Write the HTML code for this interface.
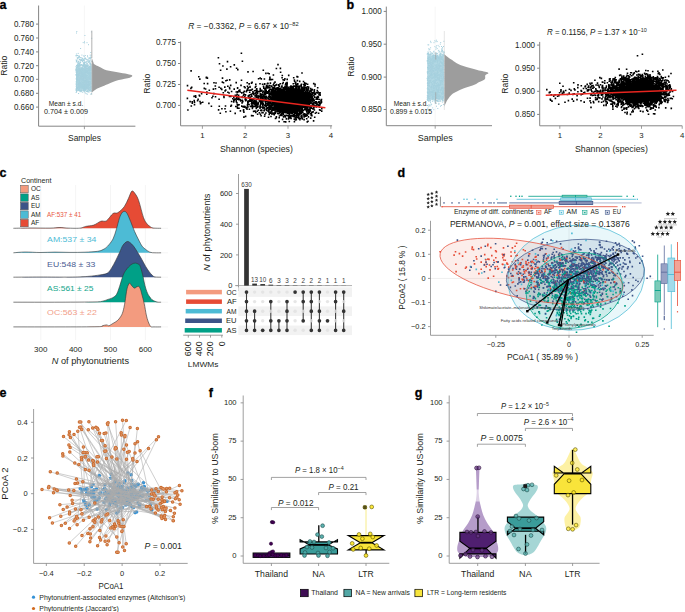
<!DOCTYPE html><html><head><meta charset="utf-8"><style>html,body{margin:0;padding:0;background:#fff;}svg{display:block;}</style></head><body>
<svg width="685" height="612" viewBox="0 0 685 612" font-family="'Liberation Sans', sans-serif" fill="#231f20">
<line x1="84.40" y1="5.50" x2="84.40" y2="126.20" stroke="#ececec" stroke-width="0.5"/>
<rect x="76.00" y="67.50" width="15.80" height="21.70" fill="#b2d8e4"/>
<path d="M75.7 78.7h1M85.6 89.9h1M79.2 69.2h1M90.6 89.9h1M78.6 73.5h1M80.5 76.4h1M91.0 86.8h1M83.7 76.0h1M90.1 79.6h1M87.8 66.2h1M77.4 84.9h1M78.9 79.3h1M81.6 74.0h1M89.4 85.8h1M80.8 73.3h1M82.8 77.2h1M83.1 68.9h1M80.6 75.9h1M87.9 70.7h1M76.4 72.2h1M79.1 84.8h1M88.5 72.7h1M85.2 78.0h1M83.6 90.7h1M81.3 90.2h1M77.6 84.1h1M82.7 79.4h1M91.1 72.6h1M84.9 69.6h1M84.6 90.4h1M91.1 78.8h1M89.5 68.5h1M91.3 81.5h1M90.6 85.5h1M86.0 81.3h1M80.3 89.1h1M85.4 66.5h1M81.0 79.1h1M88.3 77.3h1M77.7 67.1h1M82.8 82.0h1M88.8 87.4h1M82.7 80.7h1M85.0 72.2h1M77.1 87.1h1M80.0 78.6h1M90.6 78.6h1M85.9 84.9h1M81.3 69.3h1M83.7 86.6h1M87.7 83.1h1M87.9 85.7h1M88.6 70.4h1M80.1 86.1h1M79.3 70.4h1M85.6 67.6h1M83.8 87.5h1M84.4 87.6h1M78.9 88.0h1M80.5 77.6h1M87.4 72.5h1M81.2 65.7h1M87.5 82.1h1M76.2 84.0h1M90.5 87.0h1M78.8 72.7h1M83.1 71.0h1M90.0 81.9h1M79.5 86.2h1M79.1 90.3h1M91.1 69.4h1M89.8 77.9h1M83.9 88.5h1M76.5 76.4h1M85.1 80.7h1M79.5 66.1h1M78.9 82.8h1M90.2 89.1h1M85.3 86.7h1M82.5 88.3h1M76.5 82.5h1M81.4 71.8h1M89.2 85.3h1M80.3 70.9h1M80.6 86.9h1M85.1 67.1h1M79.5 86.7h1M84.3 69.7h1M87.6 75.1h1M80.0 73.6h1M83.0 83.3h1M84.6 70.1h1M81.2 75.7h1M79.0 65.6h1M77.3 72.2h1M84.4 76.3h1M90.3 68.2h1M75.8 81.8h1M89.2 75.3h1M90.7 84.1h1M84.1 82.3h1M90.8 76.6h1M86.6 87.8h1M84.1 81.7h1M82.8 86.3h1M82.9 74.3h1M86.3 79.5h1M79.2 70.5h1M86.8 91.1h1M83.3 71.8h1M86.2 72.1h1M90.4 67.4h1M79.2 72.1h1M81.9 85.1h1M79.8 83.4h1M76.3 68.8h1M85.3 75.2h1M85.4 76.3h1M91.3 82.6h1M85.0 77.2h1M81.8 80.6h1M89.7 87.1h1M75.7 84.2h1M80.3 74.9h1M87.4 77.0h1M78.1 74.9h1M81.2 68.3h1M88.9 70.7h1M80.9 72.8h1M79.3 73.6h1M89.6 73.5h1M76.7 80.3h1M89.0 90.5h1M80.5 85.4h1M78.8 85.8h1M83.2 85.0h1M83.1 80.8h1M90.7 89.1h1M87.4 83.2h1M82.8 78.4h1M84.3 67.5h1M80.5 78.1h1M91.0 71.0h1M81.6 68.9h1M89.5 78.5h1M85.9 85.7h1M90.0 73.1h1M81.1 85.3h1M82.1 79.0h1M81.3 69.3h1M88.6 90.3h1M90.6 75.8h1M88.5 73.1h1M82.6 87.3h1M88.6 68.7h1M87.0 84.4h1M83.7 70.3h1M78.4 75.6h1M79.3 71.5h1M86.6 87.1h1M78.6 75.5h1M84.4 90.5h1M88.2 81.6h1M85.8 83.3h1M85.1 78.9h1M79.6 73.4h1M77.4 75.7h1M76.0 89.7h1M76.2 70.7h1M79.2 90.9h1M84.3 85.0h1M82.2 74.7h1M78.7 82.0h1M80.3 75.3h1M82.8 75.3h1M88.1 78.4h1M85.9 65.9h1M76.1 78.2h1M83.1 90.5h1M78.4 72.8h1M89.0 84.7h1M89.5 76.9h1M84.3 70.9h1M87.1 88.8h1M86.4 65.9h1M88.4 73.3h1M79.9 91.2h1M79.1 72.2h1M87.3 87.3h1M90.7 81.1h1M79.1 86.2h1M84.5 81.7h1M84.1 74.8h1M81.4 85.1h1M87.4 66.2h1M77.6 77.0h1M81.4 75.1h1M82.3 77.8h1M90.6 68.8h1M86.3 71.2h1M86.7 79.9h1M91.3 75.5h1M79.1 85.8h1M85.0 81.1h1M77.2 87.6h1M78.1 84.3h1M86.5 81.0h1M88.6 72.9h1M85.5 85.6h1M84.7 72.0h1M88.0 67.4h1M90.6 90.2h1M90.1 79.4h1M88.3 85.4h1M82.3 79.1h1M87.6 81.2h1M79.2 66.4h1M89.8 70.3h1M79.9 82.8h1M91.0 80.2h1M80.3 69.6h1M79.7 90.0h1M80.8 69.5h1M83.2 78.6h1M78.7 69.2h1M79.7 83.9h1M89.5 72.6h1M90.2 68.9h1M78.0 66.7h1M82.5 70.0h1M82.1 70.4h1M88.6 79.3h1M85.9 77.1h1M81.9 90.1h1M88.0 90.0h1M85.1 86.0h1M78.8 82.8h1M88.0 87.2h1M82.9 89.6h1M89.5 66.1h1M86.0 68.5h1M77.9 74.8h1M87.5 67.9h1M84.7 80.9h1M84.1 72.2h1M82.1 72.3h1M86.0 72.9h1M76.5 68.0h1M83.5 84.5h1M90.3 82.2h1M78.7 81.1h1M77.7 66.4h1M82.0 76.5h1M83.7 83.1h1M81.4 69.5h1M83.1 75.4h1M86.2 66.0h1M88.0 67.6h1M76.3 71.1h1M81.5 76.2h1M85.3 77.4h1M75.8 88.2h1M90.5 73.6h1M85.6 66.1h1M83.2 86.7h1M82.6 67.1h1M77.8 67.9h1M76.5 90.3h1M86.3 84.9h1M90.1 74.2h1M88.0 68.9h1M75.8 75.4h1M76.1 74.2h1M83.6 88.0h1M84.6 76.3h1M85.1 67.6h1M89.3 89.3h1M89.7 81.5h1M91.1 68.5h1M80.8 68.4h1M82.9 77.5h1M91.2 67.9h1M86.6 81.7h1M76.4 81.3h1M89.9 66.3h1M85.2 86.3h1M78.6 85.7h1M81.0 89.0h1M84.6 82.7h1M85.8 83.3h1M82.0 69.7h1M87.3 66.1h1M83.9 67.2h1M90.9 90.3h1M89.0 82.1h1M77.9 89.8h1M77.1 74.5h1M89.0 84.9h1M85.1 67.2h1M90.9 69.8h1M82.4 72.6h1M78.3 79.6h1M76.1 79.8h1M87.6 78.3h1M76.8 76.4h1M85.7 80.3h1M84.4 90.3h1M87.2 77.3h1M90.4 87.0h1M79.2 66.9h1M83.1 75.4h1M87.4 79.9h1M78.7 81.4h1M77.0 71.9h1M77.7 75.8h1M90.2 89.8h1M88.0 82.2h1M78.7 80.5h1M75.8 67.2h1M85.6 66.8h1M80.6 70.9h1M79.1 69.0h1M78.7 90.8h1M83.0 65.6h1M80.9 74.9h1M90.4 67.0h1M84.4 81.9h1M89.7 66.7h1M90.1 67.3h1M89.7 67.6h1M83.4 72.5h1M84.7 80.3h1M83.9 86.2h1M75.8 72.4h1M90.5 72.8h1M77.9 86.7h1M84.2 84.7h1M86.3 68.8h1M87.9 86.2h1M84.1 86.9h1M85.6 70.1h1M88.6 81.6h1M85.7 70.6h1M86.0 71.8h1M89.0 78.2h1M76.7 78.9h1M83.7 77.8h1M75.9 79.4h1M77.9 71.0h1M76.0 85.5h1M89.2 72.6h1M80.7 89.0h1M83.7 78.7h1M87.9 73.3h1M86.4 70.0h1M90.1 78.0h1M83.2 75.2h1M86.6 81.5h1M89.2 78.3h1M77.2 66.4h1M82.9 86.9h1M76.9 66.8h1M84.3 86.8h1M80.5 86.4h1M88.8 89.2h1M82.9 82.6h1M78.1 69.6h1M89.3 76.9h1M82.2 76.8h1M75.8 81.8h1M79.7 75.3h1M81.6 82.9h1M75.9 70.7h1M77.7 74.6h1M80.2 79.5h1M80.8 76.5h1M82.4 68.6h1M80.2 90.3h1M80.6 83.3h1M82.8 86.9h1M81.1 74.7h1M87.3 89.8h1M87.8 86.4h1M75.8 90.7h1M78.1 70.6h1M77.1 77.8h1M81.1 75.4h1M81.1 81.3h1M87.3 71.9h1M87.0 68.1h1M89.4 77.7h1M86.3 81.9h1M84.9 75.4h1M91.2 90.9h1M85.6 75.9h1M81.7 73.2h1M80.3 86.4h1M76.1 77.5h1M90.4 72.5h1M87.4 72.9h1M81.5 89.8h1M89.3 90.2h1M87.6 82.1h1M82.8 72.7h1M90.6 83.8h1M89.6 71.1h1M82.5 73.8h1M82.2 79.4h1M77.9 75.8h1M77.1 74.5h1M81.1 90.5h1M78.9 69.9h1M76.6 81.3h1M87.1 66.5h1M90.7 67.9h1M86.4 70.9h1M89.8 91.0h1M89.3 84.2h1M85.7 87.8h1M83.8 66.8h1M81.2 83.0h1M83.3 76.8h1M80.6 76.2h1M78.2 83.7h1M83.3 73.4h1M85.9 78.7h1M84.7 72.2h1M87.2 75.6h1M80.8 79.2h1M75.5 69.6h1M78.9 72.6h1M80.1 76.3h1M84.2 77.6h1M81.7 86.1h1M85.9 82.0h1M79.0 80.0h1M82.9 87.9h1M75.5 70.6h1M86.3 68.2h1M89.2 75.6h1M89.1 69.0h1M89.3 79.8h1M78.6 80.2h1M91.0 68.9h1M84.2 83.9h1M78.4 79.8h1M76.9 76.4h1M76.6 89.1h1M85.6 87.5h1M85.4 71.2h1M87.9 69.8h1M85.9 89.0h1M83.7 69.5h1M78.1 85.0h1M87.1 73.5h1M75.6 74.8h1M85.9 79.7h1M78.1 89.3h1M78.0 65.6h1M89.8 69.7h1M90.2 84.0h1M86.9 75.6h1M79.1 72.9h1M82.9 90.2h1M81.0 72.3h1M77.4 83.9h1M79.2 90.3h1M76.4 85.1h1M90.9 83.7h1M79.2 84.1h1M81.6 86.2h1M79.4 72.5h1M85.8 81.6h1M84.4 86.1h1M87.6 88.3h1M75.7 88.8h1M78.7 88.7h1M85.0 68.0h1M84.6 75.2h1M88.5 77.2h1M76.8 88.4h1M81.4 76.3h1M81.9 72.3h1M83.6 66.0h1M81.1 72.9h1M87.1 85.6h1M77.1 66.0h1M76.5 69.7h1M80.5 73.5h1M76.9 79.2h1M81.7 74.8h1M84.6 88.2h1M76.8 70.8h1M82.8 79.9h1M84.3 85.5h1M84.4 89.4h1M76.0 87.9h1M87.7 69.0h1M86.9 85.8h1M80.2 82.9h1M82.9 76.3h1M87.2 66.2h1M88.7 69.8h1M79.4 84.8h1M87.7 67.7h1M82.2 73.5h1M90.6 72.1h1M89.4 84.7h1M81.2 74.7h1M81.2 67.7h1M83.2 75.0h1M90.7 73.9h1M77.8 83.9h1M84.2 73.7h1M85.7 83.3h1M86.9 79.3h1M76.6 88.3h1M85.0 84.3h1M82.6 76.0h1M80.9 78.0h1M90.8 77.6h1M77.2 87.9h1M86.7 69.0h1M78.7 76.4h1M90.5 79.2h1M83.4 76.7h1M82.7 80.9h1M79.4 78.3h1M83.9 76.1h1M89.2 83.2h1M76.6 74.0h1M85.9 81.1h1M77.8 84.2h1M79.1 68.9h1M89.0 73.9h1M76.6 89.8h1M87.1 90.3h1M76.4 91.0h1M83.6 66.6h1M85.4 86.7h1M77.8 89.5h1M88.2 88.7h1M79.0 83.9h1M83.0 82.9h1M79.3 84.0h1M87.6 80.3h1M79.5 85.8h1M79.6 78.4h1M75.7 71.3h1M89.7 67.9h1M76.0 88.8h1M80.5 84.9h1M85.7 70.1h1M80.7 86.6h1M84.9 73.2h1M81.3 81.8h1M89.4 74.7h1M78.0 71.0h1M75.8 70.0h1M77.1 67.3h1M83.8 67.4h1M84.9 67.3h1M88.7 67.8h1M90.6 86.9h1M81.8 78.8h1M88.5 68.8h1M81.9 79.0h1M81.4 79.4h1M77.6 78.3h1M89.2 70.8h1M80.8 76.7h1M85.7 87.9h1M83.7 75.4h1M91.3 78.5h1M79.5 89.4h1M84.2 71.5h1M88.0 84.1h1M78.5 77.9h1M88.5 85.7h1M84.3 74.7h1M77.1 79.4h1M90.8 75.0h1M82.0 87.8h1M83.0 89.0h1M87.9 81.7h1M90.7 90.7h1M79.4 84.3h1M77.7 86.8h1M87.3 88.5h1M86.2 72.5h1M82.6 90.9h1M85.7 75.5h1M90.4 78.3h1M88.8 70.1h1M84.5 86.6h1M89.9 74.2h1M89.9 83.2h1M87.7 71.1h1M77.4 74.5h1M84.4 75.4h1M85.1 71.6h1M89.4 66.4h1M83.7 85.3h1M85.2 89.9h1M86.8 71.3h1M76.8 69.7h1M76.4 74.4h1M76.0 67.6h1M77.2 82.2h1M79.5 75.0h1M76.3 80.0h1M84.9 88.8h1M84.5 87.6h1M82.7 89.2h1M75.6 89.5h1M83.7 80.7h1M77.5 78.4h1M75.6 66.5h1M88.1 68.1h1M89.9 79.0h1M76.6 87.5h1M85.9 76.6h1M76.3 65.6h1M84.7 71.0h1M85.4 85.0h1M84.8 69.6h1M91.1 70.6h1M85.2 72.8h1M78.1 81.2h1M90.2 87.0h1M80.2 71.1h1M84.0 80.9h1M82.3 79.1h1M88.2 76.9h1M76.8 80.4h1M81.3 86.4h1M82.5 71.1h1M84.9 78.3h1M89.8 68.0h1M80.3 78.7h1M81.0 85.8h1M86.1 91.2h1M78.8 77.7h1M83.6 73.1h1M80.6 80.4h1M85.4 75.1h1M84.7 68.5h1M86.3 79.0h1M82.3 86.0h1M79.2 88.4h1M75.7 90.6h1M85.0 75.0h1M79.1 72.0h1M75.6 68.3h1M81.4 76.7h1M79.8 86.2h1M86.3 71.5h1M80.2 87.3h1M81.3 83.8h1M86.9 70.7h1M86.2 81.7h1M78.0 86.6h1M84.8 89.5h1M90.2 69.7h1M89.9 86.6h1M88.9 85.4h1M80.0 71.8h1M90.7 73.1h1M78.7 90.1h1M81.8 74.8h1M77.3 72.9h1M84.4 84.0h1M86.9 68.9h1M86.4 77.9h1M75.6 74.7h1M91.0 79.5h1M80.4 81.0h1M87.2 82.0h1M90.1 76.6h1M87.8 88.3h1M83.8 87.0h1M84.0 89.5h1M77.8 77.0h1M81.5 84.3h1M88.5 76.6h1M86.3 72.7h1M86.0 82.3h1M86.3 89.8h1M81.0 86.2h1M91.0 72.8h1M80.8 71.4h1M78.5 85.3h1M86.1 83.6h1M78.2 87.7h1M90.9 69.3h1M84.6 87.6h1M77.4 76.6h1M75.9 72.5h1M85.0 74.3h1M76.2 91.0h1M76.3 90.1h1M82.0 67.7h1M82.6 73.6h1M88.6 84.0h1M77.5 66.4h1M89.2 66.4h1M81.9 66.7h1M89.0 87.8h1M77.9 74.1h1M76.3 73.7h1M82.4 85.9h1M78.9 73.7h1M83.1 84.5h1M88.5 75.0h1M89.5 73.1h1M76.9 75.5h1M79.6 69.8h1M80.3 67.4h1M78.3 87.9h1M82.9 87.8h1M76.3 77.3h1M78.6 83.2h1M76.5 87.7h1M82.7 75.5h1M90.4 83.8h1M77.9 84.9h1M89.5 67.5h1M80.5 69.1h1M87.3 84.8h1M88.8 83.6h1M85.1 70.3h1M86.9 86.7h1M85.5 86.1h1M90.2 74.1h1M87.8 74.2h1M82.1 68.3h1M80.1 76.9h1M78.0 68.3h1M83.6 79.5h1M79.1 81.6h1M79.2 80.5h1M89.4 67.3h1M86.6 81.5h1M84.0 84.8h1M88.8 69.1h1M83.8 80.8h1M81.7 86.5h1M86.3 70.5h1M85.1 89.0h1M78.8 90.5h1M80.5 83.8h1M84.4 87.9h1M79.0 72.5h1M90.0 82.6h1M76.2 89.3h1M89.3 66.6h1M91.0 86.6h1M85.2 71.6h1M78.8 86.1h1M88.3 82.0h1M82.5 86.1h1M86.8 75.8h1M80.6 77.1h1M79.0 89.3h1M90.6 67.3h1M76.7 69.5h1M76.4 90.5h1M87.9 89.0h1M87.8 69.3h1M80.4 90.5h1M81.4 72.3h1M86.4 88.4h1M85.0 88.8h1M85.7 66.1h1M82.4 65.7h1M91.0 73.9h1M77.8 89.4h1M85.5 85.8h1M78.8 75.4h1M80.8 87.6h1M80.2 73.4h1M88.5 74.4h1M84.7 70.4h1M80.7 90.2h1M84.0 86.2h1M82.8 77.4h1M84.1 72.3h1M79.3 90.3h1M81.4 75.7h1M82.7 70.9h1M76.8 76.4h1M75.7 84.0h1M84.9 85.3h1M78.8 68.3h1M88.2 89.8h1M75.9 82.8h1M79.0 67.1h1M85.5 87.0h1M77.6 90.5h1M82.1 87.0h1M80.2 65.8h1M79.7 77.7h1M79.2 80.6h1M90.9 88.3h1M80.6 78.4h1M77.4 67.5h1M90.0 89.5h1M78.0 90.0h1M87.1 78.0h1M85.9 66.9h1M86.8 87.1h1M87.7 84.6h1M78.3 90.5h1M76.1 65.7h1M82.3 76.7h1M82.5 72.8h1M79.2 68.3h1M88.3 84.4h1M77.2 74.3h1M83.4 66.5h1M83.8 68.9h1M75.6 86.2h1M88.3 81.1h1M81.2 71.0h1M82.7 83.4h1M78.0 68.9h1M81.8 82.8h1M82.6 82.3h1M85.0 65.6h1M76.1 78.6h1M82.3 84.2h1M83.2 85.0h1M90.5 83.6h1M84.9 88.2h1M86.3 84.9h1M82.5 89.2h1M83.3 76.2h1M91.0 66.4h1M82.1 70.2h1M91.2 72.9h1M85.1 66.6h1M90.0 68.3h1M84.6 78.8h1M88.5 72.0h1M88.5 72.8h1M81.6 84.6h1M80.7 87.5h1M90.3 87.7h1M80.7 75.0h1M87.9 83.7h1M78.3 87.4h1M83.2 69.4h1M81.5 70.7h1M79.9 82.2h1M79.3 72.3h1M90.7 70.5h1M86.1 74.9h1M82.8 65.9h1M84.6 76.8h1M88.9 66.7h1M86.2 71.8h1M77.5 71.1h1M78.8 74.0h1M89.6 68.7h1M84.3 77.6h1M84.8 83.2h1M78.1 74.2h1M77.7 89.3h1M78.9 87.6h1M80.6 73.4h1M84.3 66.5h1M81.4 85.2h1M86.2 71.7h1M82.3 74.0h1M83.6 80.4h1M90.5 91.2h1M76.2 73.2h1M85.6 77.5h1M87.1 81.6h1M78.3 83.1h1M89.1 71.0h1M77.4 80.8h1M88.3 79.5h1M78.5 82.4h1M82.2 68.5h1M81.7 68.7h1M84.5 90.6h1M85.5 86.6h1M76.1 86.8h1M88.4 89.5h1M83.8 90.2h1M90.0 75.6h1M78.2 84.9h1M82.5 82.0h1M90.6 79.9h1M85.5 83.0h1M83.5 73.7h1M82.9 87.7h1M90.0 76.0h1M75.6 69.3h1M90.6 55.2h1M85.3 62.4h1M80.2 57.8h1M88.8 62.2h1M90.5 57.8h1M84.1 65.2h1M82.7 62.8h1M81.6 58.6h1M81.4 55.1h1M89.2 61.9h1M86.8 65.3h1M89.9 58.9h1M76.0 60.3h1M77.6 65.0h1M83.8 64.6h1M84.8 62.0h1M82.3 64.9h1M83.7 56.4h1M89.7 55.2h1M84.4 58.8h1M79.6 57.5h1M83.4 63.7h1M80.2 65.2h1M85.5 59.2h1M84.8 58.2h1M86.7 59.6h1M90.9 64.8h1M83.4 65.5h1M76.1 61.4h1M83.3 65.0h1M83.5 64.0h1M88.0 62.3h1M90.2 64.4h1M78.0 56.1h1M89.5 63.8h1M78.2 61.3h1M84.8 55.5h1M75.6 60.0h1M88.9 63.2h1M82.0 58.8h1M78.9 64.7h1M90.4 65.2h1M76.9 65.4h1M81.1 60.0h1M82.9 60.1h1M79.7 60.0h1M81.2 59.9h1M88.8 61.1h1M78.6 56.0h1M84.3 62.5h1M78.9 65.1h1M85.3 64.4h1M79.5 63.0h1M80.5 60.7h1M83.8 63.5h1M79.5 62.7h1M87.0 64.0h1M79.0 59.2h1M88.7 57.5h1M86.6 63.6h1M77.5 58.1h1M83.7 64.7h1M76.5 55.4h1M78.2 63.5h1M80.4 60.1h1M86.7 60.8h1M85.3 65.3h1M83.9 61.0h1M78.4 65.4h1M80.2 62.2h1M86.3 61.6h1M83.3 55.8h1M80.6 64.8h1M76.6 65.4h1M76.2 60.5h1M90.1 63.9h1M82.1 61.5h1M89.6 64.3h1M79.3 59.7h1M84.8 65.1h1M79.5 61.9h1M89.4 58.6h1M79.0 56.8h1M84.1 63.7h1M90.8 61.5h1M87.0 55.8h1M84.3 65.1h1M81.3 57.7h1M83.9 59.1h1M75.6 55.6h1M77.6 62.2h1M79.9 62.5h1M76.2 61.5h1M79.3 63.4h1M82.2 65.4h1M89.1 61.2h1M90.0 63.2h1M75.8 62.0h1M82.8 59.6h1M86.3 63.1h1M87.4 64.9h1M78.0 57.7h1M75.6 55.9h1M79.4 64.5h1M80.5 60.7h1M78.5 63.3h1M79.0 59.5h1M86.0 65.4h1M79.0 56.3h1M78.5 57.3h1M79.8 65.1h1M82.7 60.3h1M78.6 63.7h1M83.3 64.6h1M90.3 57.4h1M88.5 58.8h1M87.4 61.1h1M90.4 60.6h1M90.1 57.1h1M84.2 63.6h1M86.4 62.1h1M81.1 64.5h1M84.0 62.5h1M90.0 64.9h1M83.5 63.6h1M82.2 60.3h1M85.9 64.2h1M82.8 60.2h1M77.0 58.2h1M81.5 60.5h1M77.6 62.4h1M90.0 63.2h1M87.2 65.3h1M82.4 58.6h1M76.6 55.7h1M77.3 64.4h1M79.6 59.6h1M83.8 60.8h1M77.2 58.0h1M81.2 59.8h1M78.4 64.7h1M77.1 65.1h1M77.4 63.7h1M77.4 64.8h1M88.6 60.8h1M78.3 65.3h1M77.3 59.9h1M88.6 58.4h1M90.7 65.4h1M87.1 56.8h1M76.7 57.9h1M77.6 65.4h1M77.8 61.5h1M77.0 65.5h1M83.1 62.3h1M76.4 65.3h1M88.1 61.2h1M82.0 65.3h1M78.6 65.3h1M77.0 55.5h1M84.5 58.0h1M87.8 59.9h1M84.7 58.3h1M79.3 64.6h1M88.2 65.2h1M83.6 63.8h1M84.7 58.7h1M89.8 58.8h1M86.2 59.3h1M77.3 62.9h1M86.5 42.7h1M80.1 48.5h1M88.0 44.7h1M84.4 35.5h1M84.0 41.8h1M77.7 53.4h1M75.9 54.0h1M90.9 31.9h1M76.0 33.0h1M76.3 31.5h1M82.7 42.6h1M90.3 52.5h1M84.1 42.9h1M91.2 38.3h1M86.8 94.2h1M88.5 91.4h1M88.4 92.3h1M90.4 94.2h1M90.8 94.1h1M80.7 91.3h1M86.7 91.6h1M83.5 91.8h1M91.0 93.5h1M84.8 93.0h1M81.8 92.3h1M76.0 91.7h1M87.0 91.5h1M75.7 92.5h1M85.7 93.7h1M79.7 91.7h1M86.2 91.5h1M91.2 91.2h1M81.0 91.2h1M84.3 91.3h1M84.3 91.9h1M78.1 93.5h1M87.2 91.8h1M86.6 91.3h1M87.7 91.3h1" stroke="#a6d0de" stroke-width="1" fill="none"/>
<path d="M91.80,58.00 L91.80,58.00 C92.05,58.67 92.88,60.97 93.30,62.00 C93.72,63.03 93.32,63.42 94.30,64.20 C95.28,64.98 97.17,65.68 99.20,66.70 C101.23,67.72 103.45,69.38 106.50,70.30 C109.55,71.22 114.03,71.58 117.50,72.20 C120.97,72.82 124.85,73.45 127.30,74.00 C129.75,74.55 131.78,74.88 132.20,75.50 C132.62,76.12 132.03,76.93 129.80,77.70 C127.57,78.47 122.30,79.08 118.80,80.10 C115.30,81.12 111.47,82.77 108.80,83.80 C106.13,84.83 104.80,85.48 102.80,86.30 C100.80,87.12 98.63,87.68 96.80,88.70 C94.97,89.72 92.63,91.78 91.80,92.40 L91.80,92.40 Z" fill="#9d9d9d"/>
<line x1="91.80" y1="31.00" x2="91.80" y2="95.00" stroke="#c8c8c8" stroke-width="0.5"/>
<line x1="91.80" y1="30.50" x2="91.80" y2="58.00" stroke="#9a9a9a" stroke-width="0.6"/>
<line x1="38.60" y1="5.50" x2="38.60" y2="126.20" stroke="#858585" stroke-width="1.0"/>
<line x1="36.00" y1="24.10" x2="38.60" y2="24.10" stroke="#858585" stroke-width="1.0"/>
<text x="34.00" y="27.05" font-size="8.2" text-anchor="end" textLength="20.10" lengthAdjust="spacingAndGlyphs">0.780</text>
<line x1="36.00" y1="38.00" x2="38.60" y2="38.00" stroke="#858585" stroke-width="1.0"/>
<text x="34.00" y="40.95" font-size="8.2" text-anchor="end" textLength="20.10" lengthAdjust="spacingAndGlyphs">0.760</text>
<line x1="36.00" y1="51.90" x2="38.60" y2="51.90" stroke="#858585" stroke-width="1.0"/>
<text x="34.00" y="54.85" font-size="8.2" text-anchor="end" textLength="20.10" lengthAdjust="spacingAndGlyphs">0.740</text>
<line x1="36.00" y1="65.70" x2="38.60" y2="65.70" stroke="#858585" stroke-width="1.0"/>
<text x="34.00" y="68.65" font-size="8.2" text-anchor="end" textLength="20.10" lengthAdjust="spacingAndGlyphs">0.720</text>
<line x1="36.00" y1="79.30" x2="38.60" y2="79.30" stroke="#858585" stroke-width="1.0"/>
<text x="34.00" y="82.25" font-size="8.2" text-anchor="end" textLength="20.10" lengthAdjust="spacingAndGlyphs">0.700</text>
<line x1="36.00" y1="93.30" x2="38.60" y2="93.30" stroke="#858585" stroke-width="1.0"/>
<text x="34.00" y="96.25" font-size="8.2" text-anchor="end" textLength="20.10" lengthAdjust="spacingAndGlyphs">0.680</text>
<line x1="36.00" y1="107.10" x2="38.60" y2="107.10" stroke="#858585" stroke-width="1.0"/>
<text x="34.00" y="110.05" font-size="8.2" text-anchor="end" textLength="20.10" lengthAdjust="spacingAndGlyphs">0.660</text>
<line x1="38.60" y1="126.20" x2="135.40" y2="126.20" stroke="#858585" stroke-width="1.0"/>
<line x1="84.40" y1="126.20" x2="84.40" y2="129.20" stroke="#858585" stroke-width="0.8"/>
<text x="7.40" y="75.80" font-size="8.6" textLength="20.10" lengthAdjust="spacingAndGlyphs" transform="rotate(-90 7.40 75.80)">Ratio</text>
<text x="68.00" y="140.60" font-size="8.7" textLength="33.00" lengthAdjust="spacingAndGlyphs">Samples</text>
<text x="66.00" y="105.60" font-size="6.8" text-anchor="middle" textLength="34.50" lengthAdjust="spacingAndGlyphs">Mean ± s.d.</text>
<text x="66.00" y="113.70" font-size="6.8" text-anchor="middle" textLength="44.20" lengthAdjust="spacingAndGlyphs">0.704 ± 0.009</text>
<text x="-0.40" y="8.90" font-size="12.5" fill="#000" font-weight="bold" stroke="#000" stroke-width="0.3">a</text>
<path d="M292.0 100.3h1.6M306.7 94.5h1.6M305.2 83.6h1.6M285.9 108.7h1.6M288.3 101.4h1.6M285.7 104.1h1.6M297.9 95.8h1.6M291.0 105.9h1.6M299.9 112.0h1.6M271.0 111.8h1.6M309.0 96.1h1.6M290.5 99.3h1.6M299.2 94.7h1.6M290.1 112.3h1.6M287.4 107.3h1.6M296.7 104.7h1.6M300.8 94.7h1.6M289.3 97.6h1.6M289.9 102.0h1.6M299.2 108.0h1.6M281.9 99.4h1.6M274.7 104.2h1.6M296.0 94.4h1.6M284.1 88.3h1.6M270.2 99.9h1.6M282.5 108.8h1.6M286.4 83.7h1.6M278.3 96.2h1.6M275.0 96.9h1.6M292.0 99.9h1.6M301.6 99.5h1.6M289.0 100.1h1.6M283.3 98.9h1.6M295.9 111.5h1.6M299.6 105.9h1.6M288.2 101.4h1.6M297.7 99.7h1.6M303.2 99.3h1.6M289.3 97.6h1.6M282.5 113.8h1.6M295.5 107.7h1.6M294.3 105.5h1.6M303.8 99.8h1.6M277.3 102.1h1.6M284.2 86.5h1.6M282.2 103.5h1.6M272.3 102.5h1.6M293.0 111.8h1.6M297.5 87.6h1.6M283.4 100.1h1.6M307.0 101.5h1.6M300.7 105.4h1.6M298.6 100.1h1.6M296.1 103.2h1.6M302.2 92.0h1.6M276.7 106.5h1.6M298.4 103.8h1.6M298.3 104.5h1.6M271.9 96.5h1.6M295.5 98.3h1.6M288.8 93.6h1.6M300.3 96.8h1.6M286.7 96.6h1.6M291.4 100.3h1.6M295.4 94.2h1.6M281.8 97.2h1.6M298.3 98.3h1.6M290.4 112.2h1.6M297.1 104.0h1.6M285.8 105.6h1.6M303.7 113.7h1.6M298.3 91.3h1.6M289.6 90.3h1.6M298.6 92.9h1.6M305.6 96.6h1.6M311.5 90.0h1.6M274.1 112.7h1.6M301.4 91.6h1.6M296.8 115.3h1.6M290.5 99.6h1.6M280.4 99.9h1.6M305.6 97.1h1.6M277.5 96.1h1.6M297.9 95.6h1.6M306.1 105.8h1.6M273.8 105.6h1.6M288.2 106.7h1.6M277.0 99.8h1.6M294.3 103.2h1.6M308.5 112.2h1.6M314.1 93.9h1.6M271.8 109.0h1.6M285.2 104.3h1.6M299.4 106.1h1.6M309.2 106.1h1.6M296.3 96.6h1.6M283.3 105.8h1.6M294.9 111.1h1.6M291.4 105.6h1.6M289.3 108.2h1.6M283.4 111.8h1.6M295.9 94.3h1.6M295.0 92.6h1.6M290.5 111.2h1.6M289.1 89.6h1.6M277.3 87.7h1.6M286.2 110.8h1.6M305.0 97.8h1.6M289.5 102.8h1.6M275.5 94.9h1.6M306.5 121.9h1.6M297.5 96.4h1.6M315.1 103.5h1.6M292.3 97.4h1.6M286.4 94.5h1.6M275.5 117.7h1.6M306.3 101.2h1.6M320.2 100.8h1.6M282.4 96.5h1.6M284.4 92.7h1.6M298.2 95.4h1.6M282.3 106.3h1.6M288.6 95.7h1.6M287.7 106.2h1.6M293.7 95.3h1.6M303.8 102.1h1.6M291.8 102.1h1.6M301.8 99.9h1.6M286.9 112.2h1.6M295.2 103.1h1.6M267.8 109.4h1.6M275.4 94.2h1.6M300.5 91.7h1.6M285.0 111.2h1.6M298.0 116.9h1.6M297.6 99.1h1.6M306.3 104.9h1.6M300.6 107.5h1.6M302.9 84.5h1.6M290.3 103.8h1.6M283.8 108.2h1.6M283.4 102.8h1.6M286.1 98.8h1.6M279.0 89.6h1.6M285.5 98.6h1.6M290.6 109.8h1.6M294.4 104.3h1.6M287.8 87.7h1.6M270.2 113.3h1.6M290.8 101.2h1.6M294.1 92.4h1.6M303.7 98.9h1.6M298.0 102.3h1.6M284.4 107.1h1.6M283.5 99.7h1.6M314.0 97.1h1.6M300.0 99.2h1.6M312.0 93.5h1.6M315.3 99.3h1.6M282.5 91.5h1.6M295.9 99.8h1.6M296.7 94.3h1.6M297.8 103.1h1.6M297.6 88.3h1.6M293.8 91.8h1.6M293.5 95.8h1.6M274.8 107.8h1.6M289.7 99.4h1.6M283.3 121.8h1.6M293.0 103.3h1.6M286.4 99.6h1.6M298.5 106.9h1.6M300.7 99.6h1.6M295.0 96.0h1.6M295.1 87.8h1.6M292.6 100.6h1.6M286.6 111.9h1.6M289.8 117.5h1.6M286.1 101.9h1.6M295.9 94.3h1.6M291.7 92.7h1.6M298.1 100.0h1.6M276.8 105.4h1.6M301.5 105.7h1.6M283.1 101.7h1.6M283.4 100.0h1.6M289.4 96.4h1.6M285.3 99.8h1.6M294.8 86.3h1.6M285.2 99.5h1.6M279.7 97.1h1.6M282.2 93.2h1.6M306.2 93.9h1.6M292.1 105.3h1.6M278.6 112.2h1.6M291.7 110.0h1.6M274.3 98.0h1.6M311.5 96.4h1.6M274.6 98.2h1.6M296.9 95.0h1.6M297.6 91.3h1.6M275.4 106.1h1.6M294.9 82.3h1.6M302.7 81.5h1.6M296.8 95.1h1.6M294.5 101.8h1.6M302.2 98.7h1.6M293.4 110.6h1.6M295.3 100.4h1.6M290.2 106.4h1.6M298.6 101.2h1.6M281.1 102.9h1.6M300.4 85.8h1.6M286.0 106.7h1.6M279.4 98.3h1.6M295.7 103.5h1.6M310.4 89.2h1.6M302.3 92.9h1.6M285.8 111.5h1.6M299.4 107.6h1.6M286.5 98.6h1.6M290.2 105.0h1.6M292.6 97.3h1.6M265.8 100.0h1.6M293.7 108.3h1.6M280.1 102.7h1.6M283.8 97.1h1.6M275.2 101.1h1.6M274.7 99.5h1.6M281.1 97.9h1.6M300.8 101.4h1.6M310.1 90.9h1.6M291.3 109.6h1.6M303.7 97.2h1.6M288.6 104.3h1.6M270.3 97.6h1.6M293.3 94.5h1.6M296.5 96.0h1.6M286.8 95.7h1.6M295.0 95.1h1.6M298.0 96.7h1.6M282.0 102.2h1.6M275.1 95.3h1.6M289.1 93.6h1.6M289.2 94.3h1.6M287.7 98.5h1.6M302.6 98.5h1.6M310.8 114.8h1.6M286.9 106.4h1.6M299.4 102.0h1.6M302.1 93.4h1.6M299.5 92.0h1.6M303.3 99.5h1.6M287.2 108.6h1.6M299.8 97.1h1.6M314.1 93.5h1.6M300.5 95.1h1.6M284.7 105.6h1.6M298.4 108.3h1.6M305.6 107.0h1.6M295.7 108.3h1.6M285.3 93.4h1.6M308.8 98.4h1.6M277.7 85.1h1.6M297.2 88.8h1.6M291.4 93.4h1.6M278.3 105.5h1.6M305.2 95.9h1.6M295.5 97.4h1.6M278.6 110.7h1.6M298.3 109.7h1.6M286.8 105.9h1.6M270.4 91.6h1.6M283.9 103.4h1.6M294.5 110.6h1.6M298.7 100.0h1.6M293.4 96.3h1.6M292.1 109.3h1.6M296.8 86.9h1.6M289.2 106.0h1.6M304.7 93.1h1.6M293.2 95.7h1.6M294.9 105.9h1.6M297.6 101.5h1.6M279.8 100.5h1.6M283.7 103.2h1.6M308.6 95.3h1.6M295.3 100.3h1.6M288.4 113.1h1.6M295.4 100.0h1.6M286.2 108.9h1.6M294.7 102.4h1.6M284.2 99.0h1.6M294.7 101.5h1.6M274.0 93.4h1.6M306.4 101.3h1.6M285.9 104.5h1.6M274.0 88.9h1.6M289.1 95.4h1.6M287.5 101.7h1.6M293.3 100.6h1.6M278.8 103.6h1.6M296.0 100.1h1.6M277.3 107.6h1.6M295.3 88.1h1.6M288.1 91.9h1.6M293.7 116.9h1.6M271.4 107.6h1.6M278.8 101.1h1.6M296.7 105.4h1.6M291.2 116.0h1.6M309.8 95.7h1.6M283.7 109.3h1.6M293.5 95.8h1.6M283.1 97.5h1.6M281.5 89.8h1.6M291.2 107.2h1.6M291.1 87.6h1.6M301.0 109.6h1.6M293.0 90.0h1.6M283.2 93.1h1.6M293.9 97.6h1.6M321.0 108.6h1.6M305.8 89.1h1.6M260.6 94.9h1.6M290.0 112.7h1.6M281.8 119.4h1.6M298.5 105.5h1.6M289.7 106.9h1.6M313.1 95.6h1.6M302.0 99.7h1.6M301.5 98.4h1.6M293.7 104.4h1.6M291.1 93.9h1.6M295.4 104.8h1.6M306.0 111.6h1.6M297.5 118.0h1.6M287.7 97.0h1.6M305.8 105.1h1.6M293.7 113.1h1.6M290.7 107.1h1.6M282.8 103.6h1.6M285.3 95.7h1.6M284.5 116.1h1.6M260.5 103.7h1.6M302.9 95.4h1.6M297.9 97.3h1.6M289.2 94.8h1.6M303.2 86.4h1.6M296.5 106.8h1.6M295.7 105.0h1.6M264.0 92.9h1.6M289.0 88.9h1.6M297.5 98.1h1.6M309.5 102.8h1.6M312.1 108.9h1.6M307.5 96.0h1.6M278.6 98.0h1.6M267.1 108.2h1.6M297.9 104.2h1.6M291.9 107.5h1.6M302.3 96.2h1.6M290.2 101.5h1.6M294.0 91.5h1.6M274.9 90.7h1.6M296.6 98.0h1.6M286.6 91.8h1.6M295.5 92.8h1.6M296.7 89.6h1.6M290.3 103.7h1.6M295.1 95.8h1.6M291.4 87.0h1.6M300.0 95.5h1.6M297.2 103.2h1.6M285.5 98.4h1.6M285.0 83.7h1.6M311.0 103.0h1.6M290.5 104.7h1.6M302.6 93.6h1.6M296.0 102.8h1.6M285.3 111.4h1.6M283.2 111.5h1.6M292.9 100.0h1.6M294.4 104.7h1.6M298.4 89.5h1.6M277.5 104.4h1.6M285.0 110.1h1.6M290.5 105.7h1.6M309.4 109.0h1.6M265.3 91.6h1.6M296.5 105.8h1.6M285.6 89.2h1.6M296.4 96.0h1.6M286.1 85.4h1.6M295.6 100.8h1.6M309.0 94.0h1.6M295.5 115.2h1.6M296.4 103.5h1.6M295.7 105.5h1.6M283.2 91.7h1.6M297.6 101.0h1.6M289.3 95.2h1.6M282.5 105.2h1.6M291.2 109.4h1.6M289.1 100.7h1.6M300.0 90.6h1.6M291.1 100.4h1.6M285.7 88.6h1.6M307.8 102.4h1.6M302.6 102.6h1.6M305.7 102.6h1.6M298.4 101.9h1.6M290.4 105.0h1.6M286.9 101.8h1.6M288.5 105.9h1.6M302.1 107.5h1.6M292.8 89.0h1.6M275.1 93.7h1.6M291.1 102.2h1.6M275.8 104.4h1.6M293.4 111.4h1.6M278.2 95.8h1.6M277.5 104.9h1.6M292.9 86.1h1.6M290.7 112.6h1.6M273.1 97.5h1.6M299.9 91.2h1.6M315.7 103.9h1.6M275.1 85.3h1.6M311.9 92.7h1.6M283.9 92.8h1.6M286.1 106.2h1.6M289.6 92.5h1.6M275.5 92.6h1.6M306.1 99.0h1.6M297.1 86.9h1.6M283.2 97.5h1.6M288.5 116.3h1.6M274.7 97.4h1.6M287.7 87.2h1.6M302.0 104.3h1.6M272.5 94.5h1.6M286.7 104.5h1.6M293.2 99.9h1.6M303.3 119.6h1.6M306.6 113.0h1.6M286.5 102.1h1.6M283.3 104.1h1.6M296.6 113.5h1.6M287.5 94.8h1.6M288.1 97.4h1.6M303.6 106.4h1.6M310.4 115.0h1.6M294.5 95.8h1.6M289.4 103.6h1.6M297.9 94.8h1.6M270.6 91.9h1.6M291.4 102.6h1.6M279.8 101.8h1.6M318.2 94.6h1.6M299.6 102.1h1.6M293.2 114.6h1.6M289.4 95.9h1.6M263.6 98.0h1.6M299.5 104.5h1.6M309.7 96.6h1.6M283.5 103.2h1.6M299.2 103.4h1.6M299.6 94.7h1.6M274.3 110.6h1.6M302.0 112.3h1.6M306.7 101.7h1.6M294.1 110.2h1.6M290.9 94.3h1.6M300.4 106.0h1.6M274.4 113.3h1.6M292.6 103.6h1.6M303.3 116.9h1.6M277.7 90.7h1.6M302.6 100.9h1.6M286.9 95.7h1.6M268.4 96.9h1.6M290.4 99.2h1.6M280.8 108.3h1.6M295.1 95.0h1.6M278.5 103.1h1.6M303.3 106.2h1.6M283.4 115.5h1.6M295.6 91.4h1.6M285.0 102.4h1.6M288.0 103.7h1.6M304.9 114.5h1.6M294.0 93.9h1.6M287.2 101.5h1.6M277.6 93.3h1.6M304.5 100.9h1.6M299.7 106.9h1.6M287.9 96.5h1.6M294.3 112.1h1.6M280.1 111.9h1.6M280.3 101.2h1.6M282.4 95.3h1.6M295.5 92.6h1.6M294.9 101.3h1.6M283.3 101.5h1.6M299.8 99.2h1.6M300.3 102.2h1.6M293.5 104.3h1.6M303.2 97.1h1.6M288.4 104.3h1.6M290.3 102.2h1.6M296.9 92.0h1.6M291.2 99.1h1.6M300.4 104.4h1.6M277.6 95.6h1.6M307.5 101.7h1.6M282.9 95.8h1.6M289.8 106.9h1.6M276.2 106.3h1.6M298.3 111.0h1.6M305.8 92.6h1.6M303.5 90.5h1.6M300.9 92.1h1.6M274.2 98.1h1.6M282.9 99.3h1.6M286.4 102.4h1.6M281.2 96.5h1.6M304.1 102.0h1.6M293.6 108.0h1.6M291.3 93.5h1.6M297.0 94.2h1.6M281.0 96.9h1.6M281.5 101.2h1.6M281.8 103.5h1.6M297.1 100.1h1.6M295.4 99.2h1.6M298.0 109.1h1.6M303.6 104.0h1.6M276.5 108.4h1.6M285.3 92.7h1.6M293.2 110.5h1.6M276.6 109.4h1.6M285.7 107.1h1.6M302.9 99.6h1.6M303.9 107.5h1.6M303.6 88.2h1.6M292.1 95.5h1.6M289.2 118.0h1.6M303.6 99.2h1.6M287.4 98.3h1.6M295.4 109.9h1.6M306.3 101.5h1.6M287.5 100.2h1.6M284.8 105.4h1.6M291.5 101.6h1.6M298.3 98.4h1.6M297.0 104.5h1.6M293.3 101.3h1.6M297.8 109.5h1.6M273.8 96.4h1.6M282.0 105.4h1.6M293.4 92.2h1.6M281.2 86.1h1.6M276.6 88.8h1.6M278.1 104.2h1.6M281.4 97.8h1.6M289.6 102.8h1.6M280.2 97.6h1.6M294.2 106.8h1.6M310.5 108.2h1.6M289.9 101.3h1.6M305.8 106.7h1.6M294.8 92.1h1.6M279.1 95.7h1.6M288.7 98.5h1.6M280.6 102.0h1.6M300.1 102.1h1.6M278.7 93.9h1.6M306.3 100.4h1.6M298.0 100.8h1.6M269.1 87.5h1.6M300.3 99.9h1.6M308.9 102.7h1.6M282.8 102.5h1.6M302.6 91.7h1.6M271.5 104.4h1.6M294.4 104.3h1.6M273.1 93.0h1.6M297.0 92.5h1.6M271.7 90.7h1.6M262.3 107.0h1.6M296.0 97.7h1.6M317.1 104.9h1.6M284.9 97.8h1.6M300.8 112.2h1.6M292.8 102.3h1.6M288.0 93.1h1.6M298.4 99.4h1.6M309.9 118.1h1.6M277.8 93.7h1.6M297.9 98.2h1.6M295.4 102.8h1.6M275.7 100.8h1.6M309.6 103.1h1.6M313.3 92.5h1.6M281.0 101.0h1.6M310.9 112.3h1.6M292.2 106.9h1.6M289.8 89.1h1.6M308.3 92.7h1.6M294.1 95.1h1.6M295.2 106.5h1.6M308.5 96.9h1.6M305.9 93.4h1.6M301.5 100.0h1.6M276.0 95.5h1.6M274.1 92.6h1.6M304.1 93.3h1.6M281.3 97.5h1.6M293.2 97.4h1.6M279.6 109.6h1.6M289.5 102.8h1.6M277.3 94.7h1.6M309.7 88.5h1.6M280.2 99.4h1.6M290.2 92.9h1.6M289.5 100.6h1.6M305.0 107.6h1.6M275.8 97.6h1.6M291.2 97.4h1.6M289.3 107.1h1.6M297.5 106.9h1.6M296.8 100.3h1.6M286.4 104.3h1.6M294.3 97.1h1.6M287.4 110.4h1.6M296.8 94.8h1.6M290.4 105.1h1.6M284.3 98.1h1.6M291.3 111.8h1.6M295.6 93.9h1.6M316.8 99.2h1.6M286.1 85.5h1.6M295.0 112.6h1.6M307.9 113.8h1.6M268.4 95.5h1.6M272.2 94.2h1.6M278.3 113.5h1.6M290.3 96.8h1.6M318.8 93.9h1.6M295.9 90.5h1.6M305.0 99.7h1.6M289.1 111.7h1.6M264.1 114.5h1.6M265.8 85.6h1.6M302.9 97.7h1.6M293.6 93.6h1.6M277.1 102.9h1.6M304.0 102.3h1.6M274.4 102.1h1.6M304.2 107.4h1.6M307.8 102.7h1.6M283.1 108.6h1.6M279.2 103.6h1.6M301.0 92.6h1.6M279.4 100.5h1.6M301.2 105.5h1.6M278.3 88.2h1.6M300.6 91.3h1.6M292.6 100.3h1.6M286.8 113.1h1.6M281.6 91.3h1.6M294.2 91.2h1.6M270.5 104.8h1.6M288.5 90.4h1.6M287.2 106.6h1.6M299.1 102.5h1.6M277.6 103.9h1.6M310.7 99.3h1.6M288.1 101.6h1.6M278.9 90.3h1.6M307.0 103.1h1.6M310.1 97.4h1.6M289.5 100.3h1.6M281.7 98.8h1.6M291.8 106.5h1.6M283.9 100.9h1.6M288.1 90.7h1.6M308.9 94.7h1.6M296.0 109.0h1.6M293.2 103.5h1.6M295.4 107.9h1.6M290.9 105.8h1.6M301.0 105.3h1.6M301.4 109.4h1.6M287.5 97.3h1.6M292.8 94.1h1.6M318.5 99.5h1.6M296.3 104.0h1.6M289.5 99.5h1.6M314.4 106.1h1.6M291.7 93.1h1.6M279.4 83.8h1.6M299.1 119.8h1.6M281.6 97.8h1.6M286.0 100.3h1.6M295.2 99.2h1.6M290.2 102.6h1.6M283.1 111.4h1.6M285.4 101.2h1.6M285.0 103.5h1.6M304.6 101.7h1.6M283.6 101.0h1.6M285.2 104.2h1.6M314.3 84.2h1.6M285.4 109.6h1.6M308.2 103.4h1.6M306.2 109.8h1.6M289.9 101.8h1.6M275.8 89.5h1.6M296.6 101.0h1.6M299.1 106.6h1.6M302.4 110.2h1.6M292.4 96.8h1.6M305.0 105.8h1.6M307.1 96.2h1.6M279.8 105.7h1.6M307.5 104.5h1.6M293.5 101.1h1.6M285.3 112.4h1.6M288.0 92.1h1.6M312.5 108.9h1.6M302.5 99.6h1.6M271.7 97.5h1.6M292.5 83.8h1.6M290.0 97.3h1.6M289.6 94.7h1.6M285.9 104.3h1.6M275.4 101.7h1.6M301.2 100.7h1.6M281.1 93.0h1.6M287.5 107.8h1.6M284.9 97.8h1.6M283.5 80.2h1.6M299.9 107.6h1.6M295.9 113.9h1.6M284.1 104.4h1.6M281.1 101.6h1.6M286.4 88.7h1.6M302.4 97.2h1.6M293.0 92.4h1.6M294.2 105.7h1.6M287.9 100.9h1.6M288.7 98.5h1.6M294.0 106.7h1.6M271.0 98.6h1.6M309.5 102.6h1.6M282.8 99.0h1.6M285.3 110.6h1.6M306.5 115.2h1.6M294.1 90.8h1.6M292.1 100.3h1.6M285.1 101.2h1.6M274.2 82.1h1.6M293.6 93.3h1.6M304.9 97.3h1.6M281.6 105.2h1.6M306.8 97.8h1.6M279.0 98.8h1.6M283.4 102.2h1.6M297.2 90.2h1.6M291.6 95.0h1.6M299.3 96.3h1.6M283.3 106.2h1.6M280.1 105.3h1.6M270.8 92.4h1.6M278.2 98.7h1.6M279.6 104.3h1.6M275.7 98.0h1.6M295.0 100.1h1.6M284.2 103.4h1.6M269.4 101.5h1.6M319.3 94.8h1.6M282.3 97.9h1.6M277.6 106.4h1.6M305.4 105.5h1.6M304.6 98.2h1.6M278.8 107.7h1.6M275.2 99.3h1.6M280.4 101.2h1.6M304.2 109.6h1.6M288.1 117.4h1.6M282.6 106.3h1.6M291.3 100.4h1.6M305.0 100.4h1.6M276.1 91.4h1.6M287.3 100.3h1.6M276.2 100.9h1.6M315.8 97.8h1.6M311.8 103.5h1.6M302.2 88.1h1.6M290.1 104.6h1.6M298.9 106.6h1.6M268.2 104.1h1.6M294.7 91.9h1.6M276.7 104.5h1.6M276.8 105.9h1.6M283.7 96.3h1.6M287.7 92.1h1.6M298.0 103.5h1.6M299.4 95.6h1.6M294.5 105.2h1.6M281.1 90.6h1.6M299.1 108.2h1.6M290.2 102.5h1.6M304.7 103.6h1.6M281.4 107.2h1.6M260.8 101.2h1.6M286.3 95.8h1.6M315.6 106.5h1.6M296.8 87.0h1.6M289.4 98.9h1.6M301.4 98.2h1.6M297.2 106.2h1.6M296.7 101.1h1.6M285.9 94.3h1.6M292.4 107.8h1.6M293.8 105.6h1.6M284.4 106.6h1.6M279.1 110.0h1.6M293.1 96.2h1.6M302.4 106.4h1.6M298.8 89.0h1.6M297.1 109.7h1.6M297.2 103.2h1.6M320.4 100.4h1.6M294.5 107.8h1.6M303.2 116.0h1.6M313.4 105.4h1.6M292.2 100.9h1.6M294.5 107.5h1.6M303.2 98.9h1.6M310.4 114.0h1.6M295.1 98.6h1.6M295.6 85.8h1.6M292.6 93.9h1.6M278.2 93.6h1.6M304.0 103.3h1.6M288.8 103.8h1.6M272.4 92.7h1.6M290.0 103.1h1.6M272.3 96.2h1.6M280.4 107.7h1.6M291.8 98.0h1.6M281.4 99.5h1.6M303.6 116.6h1.6M275.3 101.6h1.6M294.6 96.7h1.6M297.9 96.9h1.6M307.9 98.1h1.6M301.9 91.6h1.6M294.3 101.2h1.6M292.6 106.2h1.6M291.0 94.3h1.6M304.4 85.6h1.6M284.4 103.2h1.6M297.5 89.9h1.6M290.6 102.0h1.6M294.4 111.4h1.6M288.8 107.2h1.6M315.5 106.9h1.6M284.4 92.4h1.6M294.5 100.0h1.6M294.8 104.7h1.6M298.5 99.8h1.6M296.7 90.7h1.6M296.4 101.3h1.6M302.7 105.9h1.6M274.9 98.2h1.6M291.8 106.7h1.6M278.0 97.2h1.6M294.3 93.7h1.6M278.5 99.4h1.6M281.0 103.9h1.6M291.0 99.9h1.6M307.3 110.9h1.6M298.2 89.5h1.6M295.0 83.9h1.6M307.4 100.6h1.6M281.2 115.5h1.6M268.4 105.6h1.6M287.0 111.1h1.6M288.6 114.2h1.6M305.5 101.8h1.6M315.6 101.9h1.6M276.9 105.3h1.6M319.3 92.9h1.6M309.2 100.5h1.6M301.1 107.8h1.6M295.8 97.8h1.6M318.8 109.8h1.6M292.6 103.3h1.6M286.5 106.7h1.6M293.3 98.7h1.6M276.5 102.7h1.6M297.0 104.9h1.6M290.5 98.9h1.6M295.4 97.4h1.6M295.8 99.0h1.6M279.9 92.8h1.6M306.4 108.3h1.6M280.4 97.9h1.6M301.6 88.8h1.6M274.0 100.7h1.6M295.9 116.6h1.6M282.6 93.8h1.6M292.2 102.2h1.6M284.5 96.1h1.6M267.4 98.8h1.6M279.3 96.3h1.6M292.5 92.0h1.6M298.7 99.8h1.6M275.4 95.1h1.6M268.1 110.1h1.6M282.0 107.2h1.6M289.4 101.6h1.6M284.7 89.4h1.6M282.7 106.7h1.6M301.2 103.3h1.6M302.5 96.0h1.6M300.0 104.5h1.6M281.3 110.1h1.6M292.6 114.9h1.6M289.6 95.1h1.6M275.9 108.9h1.6M301.6 98.3h1.6M292.7 97.1h1.6M286.4 107.9h1.6M307.5 97.6h1.6M300.3 116.1h1.6M301.3 101.6h1.6M305.1 108.3h1.6M299.8 99.2h1.6M277.7 99.4h1.6M287.4 99.5h1.6M302.9 96.4h1.6M283.2 105.4h1.6M292.2 111.2h1.6M296.2 109.7h1.6M307.8 93.7h1.6M306.2 108.3h1.6M301.8 103.3h1.6M289.7 98.3h1.6M301.9 102.0h1.6M297.6 107.9h1.6M289.9 115.9h1.6M306.9 94.1h1.6M297.2 105.0h1.6M283.3 112.5h1.6M305.8 105.4h1.6M288.9 100.5h1.6M298.3 114.9h1.6M274.7 99.8h1.6M291.5 100.8h1.6M281.2 97.6h1.6M280.9 100.8h1.6M270.4 108.0h1.6M315.6 112.5h1.6M290.0 102.3h1.6M294.4 104.6h1.6M304.0 89.9h1.6M290.3 102.9h1.6M297.4 97.9h1.6M276.6 100.5h1.6M293.9 113.4h1.6M287.1 95.5h1.6M297.3 104.2h1.6M293.7 111.3h1.6M276.2 98.0h1.6M271.1 92.1h1.6M280.4 101.8h1.6M299.9 102.9h1.6M296.4 105.5h1.6M296.2 104.0h1.6M269.2 93.0h1.6M261.7 100.3h1.6M284.7 97.9h1.6M288.0 96.8h1.6M284.9 121.9h1.6M295.6 99.8h1.6M289.7 96.9h1.6M278.4 99.3h1.6M281.8 111.6h1.6M293.2 106.6h1.6M292.4 96.1h1.6M290.8 98.0h1.6M316.9 97.8h1.6M288.7 109.1h1.6M293.0 99.0h1.6M280.5 90.6h1.6M287.6 100.7h1.6M297.5 91.3h1.6M297.9 94.8h1.6M289.9 95.1h1.6M296.0 105.8h1.6M292.2 105.6h1.6M270.6 105.8h1.6M255.1 92.8h1.6M317.3 92.1h1.6M300.8 108.4h1.6M291.0 110.1h1.6M272.2 100.1h1.6M277.4 91.6h1.6M306.7 99.0h1.6M260.5 96.5h1.6M288.0 97.5h1.6M301.3 96.9h1.6M293.2 101.9h1.6M300.0 97.6h1.6M290.1 96.1h1.6M318.3 101.7h1.6M280.1 89.0h1.6M276.4 108.5h1.6M294.6 103.7h1.6M307.5 107.0h1.6M291.0 93.4h1.6M303.3 93.2h1.6M285.7 106.3h1.6M278.4 100.4h1.6M307.2 104.2h1.6M309.1 110.7h1.6M308.7 106.7h1.6M286.7 98.6h1.6M278.7 97.0h1.6M278.6 106.2h1.6M289.1 101.0h1.6M298.1 95.1h1.6M297.3 91.2h1.6M275.6 98.5h1.6M293.8 106.7h1.6M291.8 112.1h1.6M292.6 100.5h1.6M291.3 103.2h1.6M289.3 105.1h1.6M298.2 105.8h1.6M293.0 104.9h1.6M294.1 99.9h1.6M283.9 96.2h1.6M296.0 106.7h1.6M290.2 87.8h1.6M268.0 90.9h1.6M297.0 102.7h1.6M288.6 98.8h1.6M301.9 90.2h1.6M289.8 107.4h1.6M290.5 105.3h1.6M293.9 105.2h1.6M291.5 108.1h1.6M286.6 95.9h1.6M271.6 102.4h1.6M312.1 100.2h1.6M274.0 100.3h1.6M287.8 102.3h1.6M298.9 90.2h1.6M295.8 102.1h1.6M297.9 106.9h1.6M300.2 110.6h1.6M305.7 105.7h1.6M294.9 99.6h1.6M280.3 99.7h1.6M294.1 98.8h1.6M287.6 103.8h1.6M285.5 97.8h1.6M294.8 97.6h1.6M307.8 109.4h1.6M283.7 98.0h1.6M283.7 97.9h1.6M299.7 102.8h1.6M297.6 93.1h1.6M313.4 100.4h1.6M303.0 106.2h1.6M294.1 94.2h1.6M287.9 88.3h1.6M294.0 109.0h1.6M289.6 101.3h1.6M276.4 94.6h1.6M291.7 96.5h1.6M289.6 93.6h1.6M289.0 91.5h1.6M286.8 113.5h1.6M310.4 95.9h1.6M299.3 112.3h1.6M302.0 107.5h1.6M284.8 108.5h1.6M280.2 97.4h1.6M288.4 112.6h1.6M294.3 100.1h1.6M287.7 111.5h1.6M289.5 86.7h1.6M302.3 104.6h1.6M294.9 101.0h1.6M280.6 109.2h1.6M286.8 104.9h1.6M284.3 91.6h1.6M293.6 99.1h1.6M278.6 109.1h1.6M289.6 104.4h1.6M299.3 102.0h1.6M291.9 88.4h1.6M281.4 101.7h1.6M284.7 97.8h1.6M293.0 93.4h1.6M297.0 83.9h1.6M300.9 96.3h1.6M290.0 108.4h1.6M276.9 107.9h1.6M307.5 88.8h1.6M294.9 97.9h1.6M296.1 114.5h1.6M295.0 104.5h1.6M280.0 104.1h1.6M288.0 103.3h1.6M294.5 96.3h1.6M303.1 96.1h1.6M292.3 91.3h1.6M256.8 114.3h1.6M288.9 98.8h1.6M295.5 102.3h1.6M306.0 108.4h1.6M299.5 94.9h1.6M319.3 110.3h1.6M307.5 110.7h1.6M306.6 89.3h1.6M302.1 97.9h1.6M276.2 95.0h1.6M301.0 91.5h1.6M298.3 109.9h1.6M285.7 91.1h1.6M298.1 100.1h1.6M296.2 97.0h1.6M286.4 95.0h1.6M290.2 96.3h1.6M288.7 103.5h1.6M294.2 100.9h1.6M286.9 99.6h1.6M297.7 93.3h1.6M270.2 116.5h1.6M288.4 90.7h1.6M272.8 107.4h1.6M286.2 85.2h1.6M297.3 97.3h1.6M291.8 88.2h1.6M290.4 102.4h1.6M292.4 88.4h1.6M309.1 97.7h1.6M279.3 97.7h1.6M301.5 97.5h1.6M274.7 118.5h1.6M286.4 111.3h1.6M293.4 112.3h1.6M282.1 100.1h1.6M293.9 102.3h1.6M299.7 94.9h1.6M278.3 98.2h1.6M290.7 91.9h1.6M287.4 105.8h1.6M270.0 98.2h1.6M289.5 104.3h1.6M282.7 109.1h1.6M306.5 113.4h1.6M281.8 101.5h1.6M310.5 107.4h1.6M285.6 104.6h1.6M313.2 107.7h1.6M297.6 108.7h1.6M296.6 80.6h1.6M300.6 100.5h1.6M301.6 110.3h1.6M307.2 102.3h1.6M310.9 100.7h1.6M287.7 111.4h1.6M277.7 93.3h1.6M261.8 107.5h1.6M287.3 97.2h1.6M300.1 104.3h1.6M295.8 106.8h1.6M292.9 77.8h1.6M287.7 105.4h1.6M284.5 112.0h1.6M288.4 104.8h1.6M295.9 108.2h1.6M271.9 93.3h1.6M299.7 97.9h1.6M275.3 109.6h1.6M289.8 88.4h1.6M284.5 102.8h1.6M287.5 110.5h1.6M279.9 93.3h1.6M278.7 96.4h1.6M289.0 108.4h1.6M279.5 109.3h1.6M318.9 102.3h1.6M286.9 106.0h1.6M284.2 97.2h1.6M285.4 99.1h1.6M279.6 109.7h1.6M264.1 109.0h1.6M288.7 102.9h1.6M295.0 91.8h1.6M274.8 105.8h1.6M291.6 96.8h1.6M278.0 105.8h1.6M291.1 98.0h1.6M295.5 105.3h1.6M296.9 98.1h1.6M296.3 107.6h1.6M283.7 106.6h1.6M301.3 87.2h1.6M286.5 94.5h1.6M295.4 110.2h1.6M299.3 92.7h1.6M288.1 102.4h1.6M277.2 91.5h1.6M298.3 110.9h1.6M279.0 102.0h1.6M281.6 104.4h1.6M279.2 106.3h1.6M300.9 109.7h1.6M289.7 87.2h1.6M266.4 101.3h1.6M299.7 103.5h1.6M314.6 113.2h1.6M311.5 93.1h1.6M285.2 93.1h1.6M292.3 102.4h1.6M297.1 111.1h1.6M301.4 97.0h1.6M291.9 101.2h1.6M279.3 111.7h1.6M299.9 86.0h1.6M298.3 95.9h1.6M276.6 108.3h1.6M287.4 107.0h1.6M294.5 95.4h1.6M291.4 92.5h1.6M297.3 96.8h1.6M300.3 97.3h1.6M297.5 103.7h1.6M290.2 86.0h1.6M276.4 102.9h1.6M298.3 99.3h1.6M307.1 98.1h1.6M313.5 102.9h1.6M291.1 95.2h1.6M291.1 89.6h1.6M307.6 116.9h1.6M307.5 102.3h1.6M295.2 91.7h1.6M299.4 90.6h1.6M283.0 104.2h1.6M297.9 95.9h1.6M282.2 99.4h1.6M289.8 99.7h1.6M290.1 105.3h1.6M286.2 93.5h1.6M267.9 92.0h1.6M282.2 89.2h1.6M295.1 98.8h1.6M290.8 99.7h1.6M287.0 92.5h1.6M296.2 76.6h1.6M299.1 102.3h1.6M300.9 101.3h1.6M282.4 87.9h1.6M291.7 108.8h1.6M287.7 118.9h1.6M281.6 93.5h1.6M274.7 90.5h1.6M290.3 91.0h1.6M281.7 93.3h1.6M315.4 92.6h1.6M290.3 105.5h1.6M288.9 92.9h1.6M287.0 107.7h1.6M312.3 111.9h1.6M280.9 102.2h1.6M289.6 109.9h1.6M282.8 108.5h1.6M290.0 105.3h1.6M291.0 103.6h1.6M303.6 99.5h1.6M275.6 108.0h1.6M291.2 105.0h1.6M309.4 101.8h1.6M285.7 99.5h1.6M289.4 97.2h1.6M281.5 95.1h1.6M262.2 99.0h1.6M290.2 97.4h1.6M304.5 95.8h1.6M286.2 100.8h1.6M270.8 99.3h1.6M294.4 107.2h1.6M292.3 99.0h1.6M302.5 93.6h1.6M301.5 105.4h1.6M288.4 91.1h1.6M295.9 104.4h1.6M271.3 92.9h1.6M303.8 88.5h1.6M293.5 99.0h1.6M303.5 103.5h1.6M303.2 97.4h1.6M288.2 103.5h1.6M289.7 107.2h1.6M281.6 93.1h1.6M268.4 114.5h1.6M289.9 94.1h1.6M293.1 106.3h1.6M279.3 93.9h1.6M299.3 104.3h1.6M292.5 87.5h1.6M296.4 104.3h1.6M282.8 116.9h1.6M271.7 79.5h1.6M300.1 100.5h1.6M298.2 101.6h1.6M290.2 100.8h1.6M286.7 103.0h1.6M288.3 98.6h1.6M289.9 106.2h1.6M285.7 84.9h1.6M269.0 105.8h1.6M300.1 96.0h1.6M274.7 91.0h1.6M287.7 102.3h1.6M288.0 94.4h1.6M294.3 104.6h1.6M273.4 107.9h1.6M304.9 106.5h1.6M298.7 92.9h1.6M300.0 93.1h1.6M305.5 107.3h1.6M282.5 93.4h1.6M256.5 107.3h1.6M295.2 99.4h1.6M306.1 95.7h1.6M304.4 115.7h1.6M285.5 96.3h1.6M290.5 102.9h1.6M294.7 111.5h1.6M271.4 95.9h1.6M284.1 98.7h1.6M284.4 98.2h1.6M309.2 102.8h1.6M284.3 105.7h1.6M309.0 110.4h1.6M291.7 102.5h1.6M272.9 108.5h1.6M316.3 104.1h1.6M280.7 98.0h1.6M298.5 95.1h1.6M310.6 97.8h1.6M285.6 98.8h1.6M277.9 102.9h1.6M303.2 94.0h1.6M292.3 92.4h1.6M277.9 104.5h1.6M279.5 104.1h1.6M287.2 108.0h1.6M302.3 103.1h1.6M288.4 104.1h1.6M298.9 86.8h1.6M310.0 91.1h1.6M305.7 110.7h1.6M307.6 95.3h1.6M305.3 102.6h1.6M273.7 113.5h1.6M305.2 99.1h1.6M295.2 105.8h1.6M290.2 98.7h1.6M279.5 97.2h1.6M273.9 105.6h1.6M279.2 90.1h1.6M291.3 99.9h1.6M278.5 106.6h1.6M282.5 112.8h1.6M284.7 84.8h1.6M299.0 106.7h1.6M288.3 100.5h1.6M290.0 98.9h1.6M306.4 94.5h1.6M288.0 110.7h1.6M298.3 118.6h1.6M279.8 100.2h1.6M295.3 111.8h1.6M292.9 103.0h1.6M293.5 86.1h1.6M286.4 105.3h1.6M280.1 96.1h1.6M288.2 109.1h1.6M286.4 79.4h1.6M303.1 103.8h1.6M301.7 98.2h1.6M278.2 102.1h1.6M298.6 105.5h1.6M286.2 93.3h1.6M296.7 102.7h1.6M286.2 107.7h1.6M275.2 105.0h1.6M302.9 103.3h1.6M296.6 100.5h1.6M277.9 100.2h1.6M270.5 107.1h1.6M285.6 104.9h1.6M278.4 86.2h1.6M287.5 103.1h1.6M298.5 91.4h1.6M308.0 104.5h1.6M287.6 98.8h1.6M306.9 105.9h1.6M304.6 115.8h1.6M286.7 105.4h1.6M273.0 95.1h1.6M301.1 92.3h1.6M298.4 93.7h1.6M317.8 105.5h1.6M307.5 103.9h1.6M300.3 109.9h1.6M310.4 99.6h1.6M279.9 95.7h1.6M293.8 100.0h1.6M288.6 107.0h1.6M311.0 98.7h1.6M297.9 100.9h1.6M257.6 98.1h1.6M306.9 102.9h1.6M281.6 100.1h1.6M300.3 106.8h1.6M286.3 107.6h1.6M294.4 120.0h1.6M298.8 100.0h1.6M293.9 100.4h1.6M281.1 108.5h1.6M307.3 90.3h1.6M296.2 92.6h1.6M291.6 89.0h1.6M299.6 102.3h1.6M285.8 103.2h1.6M312.8 99.0h1.6M294.3 94.6h1.6M295.8 90.4h1.6M295.6 108.3h1.6M281.6 102.5h1.6M278.7 116.0h1.6M294.2 103.2h1.6M295.7 94.6h1.6M306.8 96.3h1.6M296.8 84.1h1.6M279.7 96.3h1.6M297.7 104.3h1.6M301.0 106.7h1.6M303.0 99.3h1.6M295.5 89.2h1.6M278.2 110.3h1.6M304.7 108.2h1.6M283.6 100.6h1.6M298.2 103.7h1.6M274.3 94.7h1.6M300.3 104.6h1.6M283.1 100.8h1.6M303.9 101.3h1.6M311.5 99.6h1.6M304.8 91.2h1.6M278.8 110.6h1.6M281.3 113.8h1.6M282.1 112.0h1.6M299.2 103.3h1.6M295.6 100.3h1.6M293.5 97.3h1.6M295.2 98.9h1.6M298.2 100.2h1.6M299.0 114.1h1.6M310.6 106.0h1.6M291.1 98.1h1.6M294.0 110.2h1.6M271.1 104.7h1.6M277.0 104.4h1.6M284.0 97.6h1.6M278.5 107.6h1.6M294.2 113.4h1.6M303.3 103.9h1.6M286.9 103.3h1.6M286.3 95.1h1.6M286.0 105.6h1.6M293.1 102.9h1.6M285.6 105.0h1.6M296.4 104.7h1.6M295.0 86.1h1.6M295.5 119.7h1.6M300.2 96.9h1.6M292.0 107.0h1.6M293.2 100.7h1.6M311.2 112.4h1.6M291.1 99.8h1.6M300.5 107.1h1.6M292.2 97.1h1.6M286.5 91.3h1.6M286.5 110.3h1.6M282.4 112.9h1.6M291.7 92.9h1.6M284.8 87.0h1.6M286.9 101.2h1.6M305.2 116.3h1.6M290.1 112.6h1.6M304.3 94.3h1.6M294.5 88.4h1.6M301.2 102.1h1.6M284.8 111.0h1.6M293.2 92.8h1.6M320.9 111.1h1.6M300.8 106.2h1.6M302.7 105.8h1.6M294.1 105.9h1.6M301.1 97.3h1.6M278.6 108.3h1.6M282.1 100.1h1.6M296.3 93.3h1.6M300.7 93.3h1.6M287.0 91.4h1.6M289.4 103.9h1.6M287.5 113.6h1.6M289.4 99.8h1.6M278.1 99.5h1.6M275.5 99.1h1.6M290.6 104.0h1.6M272.1 97.9h1.6M280.6 108.7h1.6M284.1 95.2h1.6M279.7 88.3h1.6M294.1 100.2h1.6M286.5 100.7h1.6M290.5 96.5h1.6M280.1 97.1h1.6M283.1 97.0h1.6M297.1 99.6h1.6M295.4 103.1h1.6M286.2 89.7h1.6M295.4 109.8h1.6M293.4 92.9h1.6M293.1 107.3h1.6M309.1 97.6h1.6M286.8 108.0h1.6M296.0 112.3h1.6M296.0 108.6h1.6M288.7 108.2h1.6M278.3 91.5h1.6M298.9 105.5h1.6M294.2 106.3h1.6M291.8 108.3h1.6M291.5 101.4h1.6M291.4 101.4h1.6M281.2 97.1h1.6M294.4 106.2h1.6M271.1 110.0h1.6M290.9 101.7h1.6M274.5 94.9h1.6M287.2 95.8h1.6M299.1 108.4h1.6M288.2 104.8h1.6M285.7 98.8h1.6M296.8 105.4h1.6M288.1 111.4h1.6M286.5 99.8h1.6M286.7 103.8h1.6M307.9 99.1h1.6M298.4 95.1h1.6M296.4 104.8h1.6M277.7 109.4h1.6M297.9 106.7h1.6M276.6 95.6h1.6M296.3 100.5h1.6M278.5 95.6h1.6M312.7 103.7h1.6M272.2 95.9h1.6M304.5 104.7h1.6M299.9 105.8h1.6M271.1 101.2h1.6M288.2 102.1h1.6M307.0 102.9h1.6M303.6 100.8h1.6M272.4 94.3h1.6M285.1 106.0h1.6M277.8 113.8h1.6M279.5 98.2h1.6M283.7 87.5h1.6M311.4 93.6h1.6M292.4 109.8h1.6M288.4 97.9h1.6M287.2 93.1h1.6M298.3 94.7h1.6M298.6 88.0h1.6M280.6 95.0h1.6M307.2 121.3h1.6M278.8 97.0h1.6M287.8 106.7h1.6M295.9 107.8h1.6M309.9 113.5h1.6M287.0 110.4h1.6M294.0 103.8h1.6M305.4 93.2h1.6M297.8 92.9h1.6M303.4 96.3h1.6M302.4 92.2h1.6M293.8 104.0h1.6M297.9 107.2h1.6M301.1 87.3h1.6M290.6 97.8h1.6M308.7 103.7h1.6M268.7 95.7h1.6M280.6 106.5h1.6M306.9 89.7h1.6M295.6 110.6h1.6M283.7 105.0h1.6M295.1 102.5h1.6M303.0 102.6h1.6M284.6 110.2h1.6M299.4 94.9h1.6M289.5 96.6h1.6M289.6 100.7h1.6M290.1 96.9h1.6M303.3 104.4h1.6M278.4 94.1h1.6M286.8 105.2h1.6M298.3 108.8h1.6M277.3 102.4h1.6M273.3 102.5h1.6M297.2 98.5h1.6M290.9 96.1h1.6M289.2 88.7h1.6M292.5 110.7h1.6M280.0 112.6h1.6M279.9 98.9h1.6M286.0 91.5h1.6M275.0 93.5h1.6M286.2 101.7h1.6M307.9 102.6h1.6M291.1 103.0h1.6M297.5 88.0h1.6M285.5 102.3h1.6M311.1 98.5h1.6M292.7 109.7h1.6M277.0 94.1h1.6M299.5 101.7h1.6M286.8 102.7h1.6M297.6 102.9h1.6M292.4 101.7h1.6M293.8 81.2h1.6M292.4 96.3h1.6M280.8 95.9h1.6M274.1 106.2h1.6M301.7 110.9h1.6M289.4 116.2h1.6M294.1 104.9h1.6M285.7 99.5h1.6M268.3 99.0h1.6M276.6 111.2h1.6M306.4 96.0h1.6M282.1 104.7h1.6M286.6 92.5h1.6M274.5 102.5h1.6M285.0 100.3h1.6M286.7 105.9h1.6M288.4 105.6h1.6M290.0 100.4h1.6M283.8 96.5h1.6M284.4 95.4h1.6M290.7 105.7h1.6M294.4 109.6h1.6M289.3 97.6h1.6M310.3 91.4h1.6M293.1 104.1h1.6M292.6 103.7h1.6M283.5 103.8h1.6M302.3 98.2h1.6M279.4 93.7h1.6M272.8 107.3h1.6M280.0 97.5h1.6M297.7 90.3h1.6M278.1 96.3h1.6M305.2 106.1h1.6M290.6 111.0h1.6M273.9 100.3h1.6M288.2 90.8h1.6M310.7 94.8h1.6M281.2 90.2h1.6M276.2 103.1h1.6M296.5 100.0h1.6M305.3 106.2h1.6M302.1 96.5h1.6M287.1 101.8h1.6M292.9 106.1h1.6M294.4 103.2h1.6M303.9 96.4h1.6M314.7 94.1h1.6M289.6 94.8h1.6M305.3 83.7h1.6M287.0 95.0h1.6M297.3 106.9h1.6M280.4 92.6h1.6M282.3 106.4h1.6M295.4 108.1h1.6M280.8 95.1h1.6M300.7 104.5h1.6M284.7 100.2h1.6M291.7 103.9h1.6M289.9 101.6h1.6M287.1 112.6h1.6M292.2 93.8h1.6M302.8 91.5h1.6M277.6 101.9h1.6M294.1 91.3h1.6M288.8 94.0h1.6M280.6 91.6h1.6M294.0 89.6h1.6M281.0 108.9h1.6M289.9 94.3h1.6M304.6 101.2h1.6M268.3 94.7h1.6M293.5 102.0h1.6M295.8 85.4h1.6M280.1 88.2h1.6M296.6 100.2h1.6M294.7 96.9h1.6M286.9 98.4h1.6M304.3 98.2h1.6M276.2 93.4h1.6M298.0 107.0h1.6M288.2 110.2h1.6M279.0 92.0h1.6M288.8 97.6h1.6M286.9 103.3h1.6M299.9 104.9h1.6M274.1 110.6h1.6M288.6 102.0h1.6M285.7 112.4h1.6M308.3 99.1h1.6M278.3 98.1h1.6M302.6 104.9h1.6M271.2 92.9h1.6M294.6 94.8h1.6M289.2 98.8h1.6M295.0 105.5h1.6M282.9 104.9h1.6M269.0 107.0h1.6M273.5 114.3h1.6M305.3 100.3h1.6M293.1 95.2h1.6M281.1 111.3h1.6M300.7 97.9h1.6M282.4 102.2h1.6M282.4 99.7h1.6M277.1 95.4h1.6M303.8 93.9h1.6M312.5 105.4h1.6M279.9 95.2h1.6M293.8 103.6h1.6M301.5 118.9h1.6M314.2 86.0h1.6M263.9 100.3h1.6M292.2 102.9h1.6M297.8 91.0h1.6M274.1 97.4h1.6M295.1 104.7h1.6M292.8 99.1h1.6M298.6 98.3h1.6M284.1 102.1h1.6M295.2 117.7h1.6M283.8 99.6h1.6M297.3 107.4h1.6M292.3 108.2h1.6M286.3 100.4h1.6M274.8 85.3h1.6M308.9 109.3h1.6M302.9 98.5h1.6M300.3 111.3h1.6M283.1 112.3h1.6M286.6 103.4h1.6M309.1 94.1h1.6M298.8 98.7h1.6M281.0 98.7h1.6M291.0 92.0h1.6M292.1 97.2h1.6M288.3 104.9h1.6M280.0 107.6h1.6M304.5 102.9h1.6M297.1 98.2h1.6M288.4 103.1h1.6M273.0 102.5h1.6M284.1 104.8h1.6M290.5 106.5h1.6M300.3 109.4h1.6M286.5 106.5h1.6M303.0 88.0h1.6M292.2 93.0h1.6M282.3 90.8h1.6M259.5 99.9h1.6M277.6 101.6h1.6M274.1 94.9h1.6M289.0 103.4h1.6M294.4 92.5h1.6M306.2 99.8h1.6M290.6 95.0h1.6M277.8 106.3h1.6M316.9 87.7h1.6M294.2 99.2h1.6M287.8 95.9h1.6M287.8 106.1h1.6M275.7 105.7h1.6M297.8 95.7h1.6M294.9 112.5h1.6M308.5 91.8h1.6M303.1 105.0h1.6M300.5 93.8h1.6M304.8 105.4h1.6M287.6 101.0h1.6M285.9 100.1h1.6M290.3 94.1h1.6M277.0 106.9h1.6M289.3 96.7h1.6M287.2 98.6h1.6M298.3 95.2h1.6M290.7 106.7h1.6M269.6 100.7h1.6M291.2 106.0h1.6M306.7 103.4h1.6M270.5 93.0h1.6M282.5 92.2h1.6M291.1 107.4h1.6M276.2 101.9h1.6M284.8 101.2h1.6M291.6 107.5h1.6M276.3 103.5h1.6M294.3 108.4h1.6M295.6 96.7h1.6M276.9 107.6h1.6M291.3 90.6h1.6M303.1 114.8h1.6M289.1 96.7h1.6M295.9 96.4h1.6M298.2 105.4h1.6M288.5 113.0h1.6M302.0 99.5h1.6M295.4 109.6h1.6M280.1 93.0h1.6M296.9 100.0h1.6M300.8 100.9h1.6M300.1 100.0h1.6M284.0 95.4h1.6M296.3 101.0h1.6M306.5 96.9h1.6M293.8 98.2h1.6M304.4 104.6h1.6M305.7 92.9h1.6M290.8 89.4h1.6M298.6 92.9h1.6M288.0 100.0h1.6M303.2 96.0h1.6M290.3 108.5h1.6M285.1 106.7h1.6M291.0 107.2h1.6M290.5 105.0h1.6M295.5 94.9h1.6M296.5 106.8h1.6M278.3 105.4h1.6M284.1 111.7h1.6M295.3 105.8h1.6M296.7 112.8h1.6M292.3 94.6h1.6M320.7 102.1h1.6M303.8 94.3h1.6M290.5 91.2h1.6M299.5 97.6h1.6M306.3 98.6h1.6M295.5 100.0h1.6M272.0 104.0h1.6M292.5 116.4h1.6M292.0 99.6h1.6M315.3 105.9h1.6M271.0 108.0h1.6M308.8 105.1h1.6M289.8 101.1h1.6M301.9 96.0h1.6M288.3 108.0h1.6M293.5 109.9h1.6M304.2 93.3h1.6M292.6 97.0h1.6M303.4 95.3h1.6M290.7 102.9h1.6M287.1 110.8h1.6M289.2 91.5h1.6M286.1 92.1h1.6M290.3 105.2h1.6M306.9 98.0h1.6M278.7 93.2h1.6M273.2 83.3h1.6M291.5 92.3h1.6M310.5 96.9h1.6M303.4 102.4h1.6M306.5 104.1h1.6M305.7 101.3h1.6M283.6 105.5h1.6M293.1 96.3h1.6M262.1 99.8h1.6M285.0 102.4h1.6M298.6 107.9h1.6M274.5 100.0h1.6M268.9 103.1h1.6M277.3 98.0h1.6M294.3 107.4h1.6M304.9 95.9h1.6M320.7 101.5h1.6M307.8 87.1h1.6M275.0 106.1h1.6M266.1 86.7h1.6M293.6 80.0h1.6M303.8 100.8h1.6M274.0 86.0h1.6M286.2 92.4h1.6M287.0 109.1h1.6M292.4 104.4h1.6M290.1 93.2h1.6M297.9 98.1h1.6M303.9 94.1h1.6M293.0 97.2h1.6M300.5 89.9h1.6M314.4 101.9h1.6M280.8 107.7h1.6M280.6 105.0h1.6M297.9 100.4h1.6M312.9 106.6h1.6M294.2 100.4h1.6M304.5 101.7h1.6M288.9 102.5h1.6M302.6 100.6h1.6M285.4 103.0h1.6M299.9 93.2h1.6M296.8 99.6h1.6M296.8 94.8h1.6M307.8 110.5h1.6M304.4 100.1h1.6M285.8 103.7h1.6M302.4 114.1h1.6M273.6 85.8h1.6M303.6 109.6h1.6M298.5 94.4h1.6M298.3 94.9h1.6M293.4 92.1h1.6M302.0 103.4h1.6M287.7 118.4h1.6M300.3 95.8h1.6M289.8 101.0h1.6M288.1 95.6h1.6M294.2 101.4h1.6M292.2 91.1h1.6M273.6 96.5h1.6M316.1 102.7h1.6M294.5 83.1h1.6M274.1 104.4h1.6M305.0 115.7h1.6M292.6 99.3h1.6M295.2 96.8h1.6M300.9 96.1h1.6M283.0 104.0h1.6M260.2 100.3h1.6M291.9 106.1h1.6M295.7 103.1h1.6M304.2 95.4h1.6M284.5 103.8h1.6M290.0 95.0h1.6M297.4 101.9h1.6M289.5 99.5h1.6M290.2 102.4h1.6M295.8 92.0h1.6M281.9 99.3h1.6M310.6 105.7h1.6M282.7 99.3h1.6M293.4 91.8h1.6M289.3 98.3h1.6M285.1 107.7h1.6M298.9 105.6h1.6M304.2 107.6h1.6M309.2 90.6h1.6M299.4 99.0h1.6M288.0 94.1h1.6M302.6 94.4h1.6M276.9 102.6h1.6M293.5 92.5h1.6M298.7 101.1h1.6M299.2 98.0h1.6M280.1 114.7h1.6M276.2 101.1h1.6M311.4 103.4h1.6M287.1 105.9h1.6M274.5 99.1h1.6M279.0 109.6h1.6M292.9 102.5h1.6M305.9 118.8h1.6M292.7 102.3h1.6M306.1 105.6h1.6M295.2 88.4h1.6M298.0 99.4h1.6M303.6 96.5h1.6M288.5 121.5h1.6M295.9 103.9h1.6M288.3 109.1h1.6M285.5 91.5h1.6M299.9 93.9h1.6M283.4 99.9h1.6M293.5 99.6h1.6M283.7 100.1h1.6M291.5 101.2h1.6M286.6 96.2h1.6M304.7 96.7h1.6M293.4 101.9h1.6M293.3 106.0h1.6M310.8 89.4h1.6M260.1 103.9h1.6M279.9 106.0h1.6M261.8 84.3h1.6M292.2 100.0h1.6M297.1 101.8h1.6M299.4 110.4h1.6M295.2 108.1h1.6M282.4 90.9h1.6M311.7 103.0h1.6M295.5 92.4h1.6M289.2 108.3h1.6M279.6 94.7h1.6M296.7 99.4h1.6M286.6 103.4h1.6M287.0 113.0h1.6M294.3 90.8h1.6M294.4 99.3h1.6M282.8 100.4h1.6M305.9 93.9h1.6M280.8 107.4h1.6M279.5 90.1h1.6M295.3 94.4h1.6M293.3 96.1h1.6M292.7 95.8h1.6M287.3 104.8h1.6M292.3 101.2h1.6M285.6 96.9h1.6M273.5 103.6h1.6M300.0 90.3h1.6M280.5 94.1h1.6M289.3 90.1h1.6M300.0 110.7h1.6M292.1 89.0h1.6M276.2 103.5h1.6M283.5 105.4h1.6M292.8 102.1h1.6M306.9 89.9h1.6M289.0 96.7h1.6M275.8 97.1h1.6M304.5 92.6h1.6M281.5 92.3h1.6M289.5 91.8h1.6M301.6 93.3h1.6M284.3 97.8h1.6M286.7 96.3h1.6M297.2 109.7h1.6M289.4 101.1h1.6M294.9 115.7h1.6M281.2 100.7h1.6M290.4 99.3h1.6M279.5 105.5h1.6M274.3 103.8h1.6M311.2 92.6h1.6M296.7 102.6h1.6M301.9 100.0h1.6M280.9 86.6h1.6M291.3 97.8h1.6M289.4 93.6h1.6M275.8 97.0h1.6M297.7 96.2h1.6M283.6 92.2h1.6M289.4 101.8h1.6M274.7 94.9h1.6M302.7 103.7h1.6M300.1 103.2h1.6M296.0 95.9h1.6M281.5 104.7h1.6M285.6 118.9h1.6M305.2 102.0h1.6M288.5 91.3h1.6M294.6 107.6h1.6M293.2 96.3h1.6M279.2 103.1h1.6M308.6 111.3h1.6M269.5 102.8h1.6M294.1 116.8h1.6M290.7 92.2h1.6M273.6 103.4h1.6M295.3 98.0h1.6M297.4 100.7h1.6M292.2 111.2h1.6M282.4 103.5h1.6M296.6 92.4h1.6M304.0 95.0h1.6M294.1 103.4h1.6M310.8 105.9h1.6M301.2 101.3h1.6M300.2 110.0h1.6M307.1 99.0h1.6M284.3 112.4h1.6M285.8 106.1h1.6M297.4 94.9h1.6M297.4 100.9h1.6M308.5 105.5h1.6M304.4 99.8h1.6M293.6 102.7h1.6M294.1 99.1h1.6M288.6 93.2h1.6M287.6 101.6h1.6M286.7 112.9h1.6M301.8 97.9h1.6M286.5 106.5h1.6M287.8 92.8h1.6M293.5 93.9h1.6M286.0 101.0h1.6M289.2 97.6h1.6M267.5 111.2h1.6M296.0 113.1h1.6M288.4 103.3h1.6M294.0 98.4h1.6M296.0 91.3h1.6M271.3 105.6h1.6M318.7 107.3h1.6M293.8 106.8h1.6M294.1 106.1h1.6M272.4 99.6h1.6M299.3 110.9h1.6M297.1 95.5h1.6M288.6 110.1h1.6M295.4 84.9h1.6M307.1 101.7h1.6M289.1 100.2h1.6M282.9 112.5h1.6M307.9 98.8h1.6M296.0 114.3h1.6M291.2 94.9h1.6M318.8 105.3h1.6M295.0 99.1h1.6M291.3 97.2h1.6M296.2 94.2h1.6M288.8 91.3h1.6M295.6 92.9h1.6M294.9 95.6h1.6M285.9 105.1h1.6M290.3 108.8h1.6M296.6 95.6h1.6M297.4 98.5h1.6M299.6 104.5h1.6M301.9 101.2h1.6M295.9 94.2h1.6M298.8 94.4h1.6M288.8 105.0h1.6M290.2 110.0h1.6M304.6 114.3h1.6M271.0 104.0h1.6M297.1 103.0h1.6M272.3 110.1h1.6M309.6 93.3h1.6M273.2 87.5h1.6M296.8 106.2h1.6M310.8 95.6h1.6M309.2 101.6h1.6M282.4 96.8h1.6M278.0 99.6h1.6M276.4 101.3h1.6M300.4 94.1h1.6M288.0 95.8h1.6M292.4 103.7h1.6M295.1 97.3h1.6M296.8 105.0h1.6M298.2 101.0h1.6M293.6 96.5h1.6M274.3 97.5h1.6M308.4 111.6h1.6M261.5 96.6h1.6M305.9 109.1h1.6M285.4 99.2h1.6M289.9 95.8h1.6M286.3 111.3h1.6M287.9 108.3h1.6M291.8 95.0h1.6M288.9 98.5h1.6M279.8 115.3h1.6M301.5 94.0h1.6M285.6 105.0h1.6M307.0 109.0h1.6M290.3 98.9h1.6M284.1 105.2h1.6M296.9 100.4h1.6M301.9 98.9h1.6M281.7 83.7h1.6M288.8 94.2h1.6M307.9 98.9h1.6M280.9 100.0h1.6M282.5 98.3h1.6M293.9 97.3h1.6M278.5 105.1h1.6M264.5 97.1h1.6M273.4 105.6h1.6M296.2 104.7h1.6M299.3 101.4h1.6M298.6 93.6h1.6M296.3 94.9h1.6M278.3 121.5h1.6M299.5 92.2h1.6M304.8 100.3h1.6M284.2 100.2h1.6M302.5 90.5h1.6M287.9 105.8h1.6M294.1 108.1h1.6M296.1 114.7h1.6M275.5 109.1h1.6M308.3 95.0h1.6M282.5 106.5h1.6M290.9 108.1h1.6M286.5 98.1h1.6M297.1 107.9h1.6M296.8 106.2h1.6M292.3 106.5h1.6M307.8 98.1h1.6M295.2 105.7h1.6M287.6 104.4h1.6M260.0 102.2h1.6M288.9 113.8h1.6M288.8 102.7h1.6M282.3 113.7h1.6M282.5 109.4h1.6M298.7 104.3h1.6M303.7 100.2h1.6M313.2 102.8h1.6M304.8 93.6h1.6M284.2 100.2h1.6M294.9 97.0h1.6M276.9 104.4h1.6M300.2 105.6h1.6M296.0 89.3h1.6M285.2 112.6h1.6M290.9 92.9h1.6M289.3 106.4h1.6M285.0 96.4h1.6M306.8 110.1h1.6M301.2 97.6h1.6M303.8 98.9h1.6M293.8 115.9h1.6M288.2 105.6h1.6M316.5 96.6h1.6M288.0 93.9h1.6M296.5 99.0h1.6M290.7 105.1h1.6M298.6 101.4h1.6M291.5 110.2h1.6M298.7 108.1h1.6M278.0 99.5h1.6M290.9 101.1h1.6M307.3 96.1h1.6M280.5 99.8h1.6M284.6 97.0h1.6M307.3 101.8h1.6M296.6 96.8h1.6M304.0 83.8h1.6M267.1 107.9h1.6M293.7 100.0h1.6M277.8 104.3h1.6M276.5 97.5h1.6M296.6 97.7h1.6M305.2 106.6h1.6M275.4 99.8h1.6M279.7 99.4h1.6M285.5 101.7h1.6M290.6 98.7h1.6M277.2 91.1h1.6M317.2 96.6h1.6M298.6 102.7h1.6M288.0 99.1h1.6M286.2 86.8h1.6M317.9 105.1h1.6M317.0 92.9h1.6M286.5 105.5h1.6M295.9 112.0h1.6M306.0 105.6h1.6M278.7 98.4h1.6M285.4 102.4h1.6M307.0 105.7h1.6M284.2 106.3h1.6M287.1 107.5h1.6M276.9 108.3h1.6M283.4 105.1h1.6M299.6 118.3h1.6M282.7 97.8h1.6M277.3 98.8h1.6M284.8 100.1h1.6M311.7 94.5h1.6M293.8 105.0h1.6M285.5 100.9h1.6M293.5 119.1h1.6M296.8 99.5h1.6M293.1 103.7h1.6M271.5 96.6h1.6M295.1 94.9h1.6M289.4 102.1h1.6M301.2 109.8h1.6M276.6 98.5h1.6M303.5 95.0h1.6M286.2 94.5h1.6M272.6 104.6h1.6M306.6 107.4h1.6M285.9 102.8h1.6M295.9 108.2h1.6M289.9 116.1h1.6M303.9 98.4h1.6M304.0 97.9h1.6M304.1 96.4h1.6M299.6 107.0h1.6M273.5 101.3h1.6M272.7 109.5h1.6M293.9 111.4h1.6M280.9 97.7h1.6M296.8 113.8h1.6M293.5 103.4h1.6M275.7 84.5h1.6M279.9 92.5h1.6M278.8 96.3h1.6M281.6 96.8h1.6M289.2 102.4h1.6M299.2 105.2h1.6M306.6 86.9h1.6M280.7 102.4h1.6M285.2 105.1h1.6M309.0 96.3h1.6M301.6 101.4h1.6M294.2 91.8h1.6M265.2 105.4h1.6M280.2 106.7h1.6M293.3 103.8h1.6M284.9 89.7h1.6M313.9 94.4h1.6M292.6 99.0h1.6M294.7 100.2h1.6M279.2 98.4h1.6M279.8 107.7h1.6M284.1 97.3h1.6M284.5 104.3h1.6M288.9 99.2h1.6M295.8 100.7h1.6M294.2 98.7h1.6M302.8 104.0h1.6M276.3 94.1h1.6M293.9 98.3h1.6M294.2 106.2h1.6M309.4 97.7h1.6M289.1 103.2h1.6M295.2 98.1h1.6M282.4 94.8h1.6M296.3 104.2h1.6M296.0 101.0h1.6M284.5 100.3h1.6M286.6 100.5h1.6M291.2 86.5h1.6M298.1 98.3h1.6M278.6 108.7h1.6M301.5 99.9h1.6M287.8 104.6h1.6M312.9 83.6h1.6M308.0 105.1h1.6M287.0 108.5h1.6M284.5 95.6h1.6M319.2 104.4h1.6M298.6 103.4h1.6M297.9 102.3h1.6M286.8 105.4h1.6M290.1 103.6h1.6M300.6 116.1h1.6M298.5 101.4h1.6M282.2 96.1h1.6M305.6 87.6h1.6M295.0 100.2h1.6M280.8 94.8h1.6M302.8 105.7h1.6M289.6 90.4h1.6M300.4 84.9h1.6M285.3 98.2h1.6M295.6 103.0h1.6M273.3 100.2h1.6M295.8 89.7h1.6M274.5 109.3h1.6M293.4 91.6h1.6M263.0 107.5h1.6M290.8 106.3h1.6M299.7 98.6h1.6M297.0 96.0h1.6M305.0 93.7h1.6M279.5 90.5h1.6M309.2 108.4h1.6M309.6 100.0h1.6M278.1 95.1h1.6M282.6 98.6h1.6M285.1 92.6h1.6M291.3 100.2h1.6M293.6 102.6h1.6M263.8 116.2h1.6M298.2 113.6h1.6M288.7 95.0h1.6M280.1 108.5h1.6M302.2 98.3h1.6M287.7 95.9h1.6M304.3 101.3h1.6M297.5 93.4h1.6M287.9 105.0h1.6M304.7 96.4h1.6M300.6 101.4h1.6M285.9 110.9h1.6M273.4 114.6h1.6M285.4 101.9h1.6M298.5 89.1h1.6M288.9 92.4h1.6M311.4 97.2h1.6M294.5 94.9h1.6M293.7 94.2h1.6M296.1 102.2h1.6M281.6 91.3h1.6M290.2 98.7h1.6M284.1 104.1h1.6M265.1 73.4h1.6M271.5 95.8h1.6M299.8 101.4h1.6M286.5 95.1h1.6M290.2 109.1h1.6M274.9 109.1h1.6M284.9 87.0h1.6M300.3 96.1h1.6M292.6 108.1h1.6M285.7 112.0h1.6M308.7 101.3h1.6M290.8 108.0h1.6M287.6 91.3h1.6M304.4 114.2h1.6M272.0 92.0h1.6M297.7 107.9h1.6M279.0 109.5h1.6M282.7 100.4h1.6M283.8 109.7h1.6M293.0 104.9h1.6M292.7 104.7h1.6M294.9 117.9h1.6M293.9 109.2h1.6M307.3 98.4h1.6M310.5 115.5h1.6M299.5 110.5h1.6M300.0 107.3h1.6M287.3 94.3h1.6M279.2 94.3h1.6M298.2 90.3h1.6M291.9 107.7h1.6M301.2 95.1h1.6M271.0 99.2h1.6M277.3 110.1h1.6M291.9 97.2h1.6M302.7 100.9h1.6M276.0 105.6h1.6M285.3 108.6h1.6M268.9 112.4h1.6M275.5 97.3h1.6M269.8 97.7h1.6M292.7 102.9h1.6M294.9 103.6h1.6M288.0 105.2h1.6M305.7 95.5h1.6M307.1 99.5h1.6M291.5 113.6h1.6M289.1 100.3h1.6M288.5 97.5h1.6M286.5 105.2h1.6M306.2 104.3h1.6M294.2 105.1h1.6M287.8 96.4h1.6M289.0 103.8h1.6M297.7 101.1h1.6M287.1 100.3h1.6M295.1 89.9h1.6M291.2 111.6h1.6M306.8 84.3h1.6M304.6 109.5h1.6M275.7 102.4h1.6M289.8 106.7h1.6M299.6 99.9h1.6M286.6 96.9h1.6M300.7 84.2h1.6M295.4 92.4h1.6M298.3 105.7h1.6M290.9 99.3h1.6M295.0 100.0h1.6M297.5 105.6h1.6M275.1 96.6h1.6M281.3 98.9h1.6M280.2 104.0h1.6M310.5 105.8h1.6M295.0 95.8h1.6M295.8 101.7h1.6M293.6 92.3h1.6M285.8 94.7h1.6M283.3 109.5h1.6M301.1 115.8h1.6M287.4 100.5h1.6M309.3 105.7h1.6M293.8 108.2h1.6M292.7 106.0h1.6M289.2 90.5h1.6M290.8 102.4h1.6M292.0 87.3h1.6M308.7 95.2h1.6M317.8 113.2h1.6M278.7 97.6h1.6M294.5 90.2h1.6M299.6 113.5h1.6M281.5 109.9h1.6M284.6 101.6h1.6M286.5 104.7h1.6M264.7 88.7h1.6M298.9 107.0h1.6M291.1 88.6h1.6M290.6 110.8h1.6M292.6 106.9h1.6M294.5 98.4h1.6M317.6 97.1h1.6M293.7 99.7h1.6M301.0 89.2h1.6M285.9 87.7h1.6M295.6 86.6h1.6M288.2 101.4h1.6M290.0 94.4h1.6M281.6 102.7h1.6M282.6 90.5h1.6M296.8 117.3h1.6M300.0 105.4h1.6M296.9 102.2h1.6M284.2 104.2h1.6M295.3 89.3h1.6M263.4 110.6h1.6M302.3 106.5h1.6M291.3 109.3h1.6M294.8 101.0h1.6M304.8 107.2h1.6M287.0 93.9h1.6M302.5 94.3h1.6M286.9 115.8h1.6M297.9 115.9h1.6M287.2 94.8h1.6M295.2 97.9h1.6M308.0 112.1h1.6M284.5 100.9h1.6M285.0 109.6h1.6M288.2 94.9h1.6M295.2 110.2h1.6M285.4 105.1h1.6M269.0 97.3h1.6M284.6 100.3h1.6M274.2 93.2h1.6M285.6 97.7h1.6M292.1 111.4h1.6M281.2 99.0h1.6M284.3 108.8h1.6M271.0 90.3h1.6M293.9 89.4h1.6M283.5 92.6h1.6M304.0 84.9h1.6M303.7 95.0h1.6M282.2 90.1h1.6M287.8 93.9h1.6M292.5 94.3h1.6M300.4 94.5h1.6M273.3 98.6h1.6M291.2 87.8h1.6M312.8 108.5h1.6M291.0 111.9h1.6M294.5 106.2h1.6M292.0 89.3h1.6M278.7 102.6h1.6M302.6 106.6h1.6M295.0 106.8h1.6M293.8 97.4h1.6M300.1 101.1h1.6M300.8 92.1h1.6M270.9 103.0h1.6M297.4 94.2h1.6M285.5 106.9h1.6M293.8 96.9h1.6M284.1 78.9h1.6M282.4 102.1h1.6M302.7 101.6h1.6M292.0 93.7h1.6M288.9 107.8h1.6M288.9 104.0h1.6M293.0 104.6h1.6M292.0 98.9h1.6M265.7 110.5h1.6M282.4 90.4h1.6M289.5 99.7h1.6M300.5 99.4h1.6M307.4 101.9h1.6M281.8 100.9h1.6M313.9 117.2h1.6M293.3 91.5h1.6M297.7 107.0h1.6M286.3 94.8h1.6M285.6 101.8h1.6M308.4 102.2h1.6M289.9 97.1h1.6M291.2 88.6h1.6M305.3 101.3h1.6M311.6 104.8h1.6M275.7 97.3h1.6M290.3 118.4h1.6M292.3 106.8h1.6M312.7 107.8h1.6M320.0 103.3h1.6M291.9 110.5h1.6M296.7 94.6h1.6M302.2 102.9h1.6M305.4 99.7h1.6M289.0 100.6h1.6M302.2 102.9h1.6M284.8 105.4h1.6M262.8 91.4h1.6M277.2 94.7h1.6M295.1 90.0h1.6M301.4 101.8h1.6M267.5 98.7h1.6M272.5 98.1h1.6M292.4 103.0h1.6M255.0 101.0h1.6M299.0 112.3h1.6M304.3 109.2h1.6M259.5 107.3h1.6M301.4 108.9h1.6M290.7 97.6h1.6M308.7 98.1h1.6M296.1 97.8h1.6M290.3 102.6h1.6M294.3 93.5h1.6M303.5 94.1h1.6M295.1 96.6h1.6M293.5 103.1h1.6M276.9 89.6h1.6M298.4 109.2h1.6M293.4 112.4h1.6M313.6 110.0h1.6M293.0 92.1h1.6M292.1 100.0h1.6M286.1 104.9h1.6M301.2 117.3h1.6M290.9 102.3h1.6M285.3 107.8h1.6M311.1 115.7h1.6M313.1 92.9h1.6M288.1 100.5h1.6M281.7 90.8h1.6M305.8 100.8h1.6M283.9 96.7h1.6M291.7 105.6h1.6M304.0 96.2h1.6M278.7 103.6h1.6M292.8 96.3h1.6M305.5 99.2h1.6M298.2 108.5h1.6M287.2 100.5h1.6M320.7 99.5h1.6M301.5 105.7h1.6M290.7 101.5h1.6M286.5 94.0h1.6M290.3 91.8h1.6M308.4 100.2h1.6M284.7 116.9h1.6M293.7 95.3h1.6M284.1 87.5h1.6M307.3 102.3h1.6M291.5 106.8h1.6M302.9 98.5h1.6M299.6 99.1h1.6M286.8 94.3h1.6M301.1 105.1h1.6M303.8 88.1h1.6M280.5 94.1h1.6M301.2 107.9h1.6M290.0 93.2h1.6M300.5 101.5h1.6M278.4 95.7h1.6M298.5 98.0h1.6M286.7 100.2h1.6M301.9 98.3h1.6M292.7 103.6h1.6M280.1 105.9h1.6M305.7 102.3h1.6M290.9 102.6h1.6M281.9 97.8h1.6M294.1 99.3h1.6M282.5 112.2h1.6M297.8 94.6h1.6M292.6 100.9h1.6M289.2 94.5h1.6M300.8 95.7h1.6M279.0 98.7h1.6M304.2 96.6h1.6M270.8 110.8h1.6M311.4 89.5h1.6M295.4 86.8h1.6M290.4 96.0h1.6M285.1 104.3h1.6M299.5 95.6h1.6M291.5 103.0h1.6M291.3 88.9h1.6M304.9 103.7h1.6M288.4 108.9h1.6M290.7 106.5h1.6M298.2 105.9h1.6M305.4 95.4h1.6M291.6 100.9h1.6M295.1 98.6h1.6M293.8 103.0h1.6M301.7 91.1h1.6M310.1 100.4h1.6M282.8 99.0h1.6M291.8 89.3h1.6M292.8 98.4h1.6M300.0 104.2h1.6M310.2 102.3h1.6M293.1 92.4h1.6M295.7 97.8h1.6M306.1 106.0h1.6M279.3 92.1h1.6M284.6 110.9h1.6M288.2 115.8h1.6M293.2 107.5h1.6M295.9 114.0h1.6M287.5 101.9h1.6M313.1 100.3h1.6M285.3 102.4h1.6M291.0 104.6h1.6M305.5 108.0h1.6M302.0 93.9h1.6M293.1 114.5h1.6M297.5 95.3h1.6M302.5 98.7h1.6M293.1 101.0h1.6M300.6 97.4h1.6M282.9 111.6h1.6M294.0 93.6h1.6M274.7 96.9h1.6M283.1 92.6h1.6M280.3 115.3h1.6M307.3 98.8h1.6M287.9 101.5h1.6M296.5 117.0h1.6M282.7 103.0h1.6M290.9 100.2h1.6M290.0 106.2h1.6M283.4 97.9h1.6M302.8 96.6h1.6M274.3 103.8h1.6M300.2 103.1h1.6M283.8 95.1h1.6M293.4 107.6h1.6M275.4 97.0h1.6M292.7 91.1h1.6M273.3 100.8h1.6M300.0 97.9h1.6M287.3 100.4h1.6M271.9 94.7h1.6M278.1 111.3h1.6M274.8 112.8h1.6M289.5 106.7h1.6M302.4 105.0h1.6M288.2 93.7h1.6M279.3 90.8h1.6M283.1 96.5h1.6M293.9 91.7h1.6M264.9 103.5h1.6M299.1 104.5h1.6M297.0 111.6h1.6M264.5 92.3h1.6M305.8 96.8h1.6M273.7 100.9h1.6M289.8 110.3h1.6M305.6 107.9h1.6M273.6 97.2h1.6M271.2 100.7h1.6M279.4 92.8h1.6M279.8 99.3h1.6M290.5 105.7h1.6M286.1 109.1h1.6M286.4 100.7h1.6M286.6 89.0h1.6M290.0 86.5h1.6M282.3 105.9h1.6M295.8 97.0h1.6M292.0 105.9h1.6M280.5 98.8h1.6M312.8 120.9h1.6M277.6 105.2h1.6M300.4 113.6h1.6M283.6 90.3h1.6M296.2 103.5h1.6M298.0 97.4h1.6M301.9 100.5h1.6M308.3 110.3h1.6M282.5 96.3h1.6M296.8 93.0h1.6M283.0 99.1h1.6M276.8 96.8h1.6M318.9 92.8h1.6M311.0 96.6h1.6M292.1 101.6h1.6M301.0 112.3h1.6M307.3 106.8h1.6M293.5 106.1h1.6M287.6 95.3h1.6M292.0 91.1h1.6M302.0 100.5h1.6M292.7 93.6h1.6M278.4 117.7h1.6M301.0 98.7h1.6M272.8 109.1h1.6M283.9 93.9h1.6M306.5 91.6h1.6M295.2 92.6h1.6M295.1 94.9h1.6M293.7 92.4h1.6M304.2 87.7h1.6M291.9 104.2h1.6M270.2 89.2h1.6M295.2 102.7h1.6M257.5 110.2h1.6M269.1 96.1h1.6M310.5 94.9h1.6M304.3 98.0h1.6M287.1 104.9h1.6M291.6 95.9h1.6M293.4 101.9h1.6M303.8 82.7h1.6M283.6 97.7h1.6M282.4 97.3h1.6M285.2 103.9h1.6M294.0 95.9h1.6M295.4 88.3h1.6M287.9 105.3h1.6M301.0 102.8h1.6M280.7 113.8h1.6M291.5 100.8h1.6M284.5 88.8h1.6M280.9 108.8h1.6M306.4 103.1h1.6M288.7 105.7h1.6M280.9 102.3h1.6M292.8 105.9h1.6M281.0 103.0h1.6M299.2 108.4h1.6M302.1 99.0h1.6M304.1 93.6h1.6M280.3 95.0h1.6M290.7 113.8h1.6M313.4 91.1h1.6M289.9 95.4h1.6M306.8 92.4h1.6M309.8 106.7h1.6M276.7 104.7h1.6M306.2 95.6h1.6M301.0 88.0h1.6M302.4 107.2h1.6M311.7 98.5h1.6M297.7 97.3h1.6M293.3 103.0h1.6M299.4 98.0h1.6M288.5 104.1h1.6M298.1 91.3h1.6M269.5 112.0h1.6M312.1 98.3h1.6M286.4 104.1h1.6M298.6 100.9h1.6M296.0 106.9h1.6M293.6 121.8h1.6M293.7 89.7h1.6M293.2 95.3h1.6M273.7 97.5h1.6M286.2 100.7h1.6M306.0 98.2h1.6M280.8 102.6h1.6M280.4 99.6h1.6M316.5 90.5h1.6M306.2 104.8h1.6M310.2 106.5h1.6M292.3 87.1h1.6M295.5 103.8h1.6M301.1 98.7h1.6M298.8 101.5h1.6M291.4 96.1h1.6M275.7 95.7h1.6M284.0 99.5h1.6M275.2 107.2h1.6M310.2 107.0h1.6M287.7 99.8h1.6M290.2 87.4h1.6M295.5 113.0h1.6M292.4 101.1h1.6M298.2 97.0h1.6M285.1 104.4h1.6M274.9 98.7h1.6M312.1 101.1h1.6M284.1 94.7h1.6M286.7 88.6h1.6M283.1 102.6h1.6M285.9 98.3h1.6M292.3 97.2h1.6M300.6 99.3h1.6M280.1 100.3h1.6M295.4 115.6h1.6M284.4 99.8h1.6M305.7 108.0h1.6M278.1 103.5h1.6M293.2 97.4h1.6M300.1 96.5h1.6M276.6 103.7h1.6M293.2 103.8h1.6M293.6 102.5h1.6M282.9 108.0h1.6M289.5 89.6h1.6M303.1 88.2h1.6M294.7 101.9h1.6M287.2 89.2h1.6M289.5 95.1h1.6M296.9 108.2h1.6M306.2 94.1h1.6M300.9 95.9h1.6M300.1 99.5h1.6M309.5 110.9h1.6M274.4 104.8h1.6M275.6 116.9h1.6M266.2 100.8h1.6M301.2 102.7h1.6M266.0 108.5h1.6M291.3 109.5h1.6M300.3 91.2h1.6M276.1 111.4h1.6M284.3 95.5h1.6M288.8 99.9h1.6M299.9 91.9h1.6M274.7 112.2h1.6M295.3 99.9h1.6M299.5 91.8h1.6M293.3 101.8h1.6M293.5 110.7h1.6M305.7 114.5h1.6M294.2 105.6h1.6M291.4 93.5h1.6M287.9 89.8h1.6M299.0 100.2h1.6M288.4 94.4h1.6M299.0 93.5h1.6M292.8 96.3h1.6M304.3 106.6h1.6M282.8 95.5h1.6M292.5 107.8h1.6M295.6 99.8h1.6M296.3 95.0h1.6M304.3 92.9h1.6M296.1 101.4h1.6M301.8 92.6h1.6M313.6 89.8h1.6M301.1 93.7h1.6M279.8 100.9h1.6M275.7 98.3h1.6M299.1 100.3h1.6M287.4 100.1h1.6M294.9 95.3h1.6M289.7 92.7h1.6M306.2 100.4h1.6M305.0 95.2h1.6M279.0 98.7h1.6M294.7 99.3h1.6M288.3 107.4h1.6M277.0 97.7h1.6M298.9 101.2h1.6M290.0 98.4h1.6M296.6 93.3h1.6M319.3 95.1h1.6M306.5 95.4h1.6M303.9 104.0h1.6M287.1 111.8h1.6M278.4 103.2h1.6M305.6 100.6h1.6M288.2 99.1h1.6M292.1 90.9h1.6M287.4 98.4h1.6M292.7 90.4h1.6M318.5 103.3h1.6M288.1 108.1h1.6M288.5 94.4h1.6M293.9 108.4h1.6M294.8 111.6h1.6M278.2 104.4h1.6M271.8 98.1h1.6M285.1 92.7h1.6M289.2 100.4h1.6M282.8 94.1h1.6M280.3 100.7h1.6M281.0 112.0h1.6M287.1 108.3h1.6M290.1 112.3h1.6M273.2 102.0h1.6M285.3 115.3h1.6M295.3 110.6h1.6M290.0 106.4h1.6M276.2 94.3h1.6M287.4 96.8h1.6M291.1 103.3h1.6M299.9 99.2h1.6M273.2 102.4h1.6M298.9 81.4h1.6M286.1 112.4h1.6M293.5 115.0h1.6M298.9 114.3h1.6M281.6 110.8h1.6M282.3 103.2h1.6M290.0 94.2h1.6M299.3 102.5h1.6M285.2 102.7h1.6M275.5 101.9h1.6M283.5 99.5h1.6M295.5 107.4h1.6M304.1 96.5h1.6M285.5 101.3h1.6M287.6 99.3h1.6M289.2 97.1h1.6M289.6 97.0h1.6M280.6 95.5h1.6M286.2 107.1h1.6M293.5 97.7h1.6M292.3 111.9h1.6M291.4 115.8h1.6M279.9 103.7h1.6M285.0 98.2h1.6M283.2 97.7h1.6M302.8 98.6h1.6M307.2 95.2h1.6M294.9 113.5h1.6M308.8 105.0h1.6M287.9 102.7h1.6M287.9 106.8h1.6M276.7 98.9h1.6M293.7 97.1h1.6M286.1 99.0h1.6M292.2 100.3h1.6M296.5 85.0h1.6M288.5 100.6h1.6M278.7 100.9h1.6M290.7 92.6h1.6M290.4 88.4h1.6M291.5 107.4h1.6M298.6 108.0h1.6M288.8 91.6h1.6M288.2 93.2h1.6M310.4 95.1h1.6M303.1 102.8h1.6M290.2 96.4h1.6M280.9 110.8h1.6M286.3 109.0h1.6M295.5 90.2h1.6M300.6 109.8h1.6M317.9 102.1h1.6M288.6 96.6h1.6M293.0 98.8h1.6M287.4 108.6h1.6M292.3 105.1h1.6M287.2 97.0h1.6M279.6 104.1h1.6M302.7 89.6h1.6M292.9 102.0h1.6M305.6 88.4h1.6M285.9 101.2h1.6M294.4 92.5h1.6M298.8 98.0h1.6M270.8 100.6h1.6M277.0 110.5h1.6M299.8 97.1h1.6M292.7 100.6h1.6M268.9 94.2h1.6M253.8 102.9h1.6M247.1 103.4h1.6M246.7 104.9h1.6M261.0 95.5h1.6M278.0 98.2h1.6M256.9 91.5h1.6M244.1 106.5h1.6M248.6 98.0h1.6M243.3 106.8h1.6M235.2 95.6h1.6M256.0 88.9h1.6M251.4 106.6h1.6M256.3 91.3h1.6M293.9 107.0h1.6M278.2 88.3h1.6M286.7 98.2h1.6M263.0 95.2h1.6M267.0 107.6h1.6M249.2 87.3h1.6M233.1 100.1h1.6M236.1 102.8h1.6M256.5 92.0h1.6M270.5 105.1h1.6M300.1 101.3h1.6M261.3 102.1h1.6M237.0 105.2h1.6M256.3 91.1h1.6M271.1 86.6h1.6M243.2 106.3h1.6M254.5 87.4h1.6M271.1 91.0h1.6M264.6 101.9h1.6M270.0 94.4h1.6M263.8 84.2h1.6M262.5 103.9h1.6M285.8 103.4h1.6M278.0 106.6h1.6M267.2 83.5h1.6M271.9 91.5h1.6M262.2 105.0h1.6M262.2 100.2h1.6M270.0 94.1h1.6M266.7 101.0h1.6M306.0 90.3h1.6M267.6 98.5h1.6M270.5 89.6h1.6M299.3 96.4h1.6M248.2 97.3h1.6M265.6 103.3h1.6M284.9 96.3h1.6M267.4 92.7h1.6M263.2 110.6h1.6M249.9 94.5h1.6M264.2 89.1h1.6M252.1 91.8h1.6M281.4 95.6h1.6M273.4 100.1h1.6M259.1 106.6h1.6M283.2 105.3h1.6M247.0 101.3h1.6M249.6 106.4h1.6M276.4 97.7h1.6M268.6 102.2h1.6M244.9 100.7h1.6M251.5 89.4h1.6M260.0 97.0h1.6M253.2 93.2h1.6M267.4 111.1h1.6M262.1 94.2h1.6M272.0 104.5h1.6M262.8 86.5h1.6M269.8 109.4h1.6M256.7 104.1h1.6M270.3 92.3h1.6M269.6 83.1h1.6M275.5 109.2h1.6M269.6 100.0h1.6M257.3 103.9h1.6M262.7 86.4h1.6M285.4 83.0h1.6M259.4 96.0h1.6M264.9 91.3h1.6M290.2 102.6h1.6M274.5 106.4h1.6M275.2 94.1h1.6M249.2 101.2h1.6M248.9 92.3h1.6M268.5 100.0h1.6M299.1 88.3h1.6M233.9 99.1h1.6M235.8 98.0h1.6M273.1 90.9h1.6M268.0 96.7h1.6M247.4 87.9h1.6M278.7 102.5h1.6M266.8 104.9h1.6M255.7 91.4h1.6M262.2 94.4h1.6M254.6 102.4h1.6M268.6 106.4h1.6M251.9 103.2h1.6M244.8 98.6h1.6M251.6 100.2h1.6M269.6 106.4h1.6M282.1 104.8h1.6M253.0 94.5h1.6M246.6 90.3h1.6M268.4 87.4h1.6M281.9 104.2h1.6M257.2 106.6h1.6M288.5 94.4h1.6M250.7 100.9h1.6M287.2 93.1h1.6M275.0 92.0h1.6M235.5 101.6h1.6M272.3 99.8h1.6M259.9 110.5h1.6M260.7 110.3h1.6M251.5 93.7h1.6M263.9 83.7h1.6M252.8 111.4h1.6M265.8 109.6h1.6M281.1 102.6h1.6M286.3 93.8h1.6M281.9 112.8h1.6M278.1 99.0h1.6M270.8 89.3h1.6M260.3 115.8h1.6M245.1 107.7h1.6M280.3 94.1h1.6M256.3 91.1h1.6M266.7 105.3h1.6M241.0 92.9h1.6M270.9 92.4h1.6M286.4 109.4h1.6M262.1 100.0h1.6M278.5 103.5h1.6M261.1 101.5h1.6M266.3 97.7h1.6M255.7 107.4h1.6M219.5 113.2h1.6M269.6 109.5h1.6M271.6 109.0h1.6M273.2 100.9h1.6M291.7 92.6h1.6M278.8 103.2h1.6M271.3 104.6h1.6M252.8 103.1h1.6M311.8 93.8h1.6M241.4 100.4h1.6M257.4 99.1h1.6M255.5 104.4h1.6M281.4 99.7h1.6M269.3 102.3h1.6M272.6 91.0h1.6M234.8 99.0h1.6M255.1 90.5h1.6M280.9 96.1h1.6M255.4 97.5h1.6M243.1 112.1h1.6M267.2 100.9h1.6M254.0 106.3h1.6M263.8 92.1h1.6M269.7 96.9h1.6M247.5 96.5h1.6M263.1 100.6h1.6M286.3 89.5h1.6M259.6 114.2h1.6M260.3 94.2h1.6M254.5 102.4h1.6M269.5 107.0h1.6M272.5 104.9h1.6M249.4 99.9h1.6M266.1 97.4h1.6M291.7 91.4h1.6M236.7 104.5h1.6M280.6 105.1h1.6M278.9 92.0h1.6M238.7 91.2h1.6M236.6 107.1h1.6M254.6 104.8h1.6M286.9 97.3h1.6M253.3 101.8h1.6M264.4 94.6h1.6M265.8 105.2h1.6M262.4 104.5h1.6M296.9 76.9h1.6M268.5 91.3h1.6M244.3 87.6h1.6M268.7 96.5h1.6M274.6 104.3h1.6M245.9 90.6h1.6M267.0 87.9h1.6M253.8 100.8h1.6M242.0 101.4h1.6M248.6 95.1h1.6M277.2 100.1h1.6M261.0 110.7h1.6M236.3 94.3h1.6M275.8 93.3h1.6M258.6 112.7h1.6M214.5 86.0h1.6M245.5 107.9h1.6M224.2 108.8h1.6M253.2 106.4h1.6M309.7 99.8h1.6M297.7 100.3h1.6M268.2 112.4h1.6M249.4 98.9h1.6M244.0 96.5h1.6M251.2 105.0h1.6M267.7 117.3h1.6M284.8 108.4h1.6M264.6 105.1h1.6M284.7 94.3h1.6M261.6 103.5h1.6M228.7 96.5h1.6M269.1 78.4h1.6M280.9 99.8h1.6M273.7 101.3h1.6M282.3 93.0h1.6M248.4 90.3h1.6M259.4 89.6h1.6M264.4 99.5h1.6M269.8 109.3h1.6M273.6 114.2h1.6M280.5 106.4h1.6M257.2 102.4h1.6M246.2 109.1h1.6M256.5 111.2h1.6M260.6 102.6h1.6M256.4 103.5h1.6M248.3 104.5h1.6M278.6 86.3h1.6M280.3 92.9h1.6M280.6 110.0h1.6M277.0 93.1h1.6M273.0 101.2h1.6M256.4 106.2h1.6M257.2 104.6h1.6M268.8 79.7h1.6M233.0 101.1h1.6M268.1 107.0h1.6M230.8 101.5h1.6M294.7 94.5h1.6M274.6 99.2h1.6M253.4 101.9h1.6M263.5 107.4h1.6M255.4 105.4h1.6M289.9 110.8h1.6M282.7 100.1h1.6M265.6 96.4h1.6M255.6 96.8h1.6M274.1 100.7h1.6M268.6 90.0h1.6M263.5 97.0h1.6M255.5 95.6h1.6M238.2 108.3h1.6M241.3 102.9h1.6M251.9 103.5h1.6M236.8 91.8h1.6M248.3 100.9h1.6M294.1 101.2h1.6M264.6 101.7h1.6M275.9 88.2h1.6M254.2 104.1h1.6M286.6 105.7h1.6M266.3 98.0h1.6M277.6 100.4h1.6M282.7 89.2h1.6M271.6 90.9h1.6M296.7 97.3h1.6M248.6 100.7h1.6M258.7 99.3h1.6M272.6 89.1h1.6M262.7 96.2h1.6M271.9 94.5h1.6M300.8 117.8h1.6M259.2 108.3h1.6M268.8 100.8h1.6M255.5 94.7h1.6M250.5 94.6h1.6M232.0 98.8h1.6M272.2 113.1h1.6M287.7 98.8h1.6M264.8 105.9h1.6M284.5 116.3h1.6M241.9 106.8h1.6M261.1 103.0h1.6M261.7 98.4h1.6M276.5 93.9h1.6M265.0 98.4h1.6M273.2 99.8h1.6M289.0 103.7h1.6M245.5 100.0h1.6M262.2 108.4h1.6M270.7 94.3h1.6M252.9 99.7h1.6M270.3 91.7h1.6M234.5 95.3h1.6M247.0 102.6h1.6M259.6 100.3h1.6M233.5 99.9h1.6M300.2 99.3h1.6M295.3 119.1h1.6M285.0 106.8h1.6M278.0 84.7h1.6M279.2 98.7h1.6M259.4 88.5h1.6M260.0 103.5h1.6M229.6 111.3h1.6M279.5 101.8h1.6M260.7 102.2h1.6M230.6 105.4h1.6M249.8 90.2h1.6M272.3 88.4h1.6M236.5 104.7h1.6M255.0 84.3h1.6M227.1 92.3h1.6M255.5 108.4h1.6M262.3 91.3h1.6M223.1 96.4h1.6M250.5 99.1h1.6M270.9 111.6h1.6M257.2 95.9h1.6M288.3 105.2h1.6M278.1 85.5h1.6M282.8 107.3h1.6M242.7 110.8h1.6M247.6 95.9h1.6M269.0 108.3h1.6M272.1 87.9h1.6M254.5 106.3h1.6M259.7 93.7h1.6M247.1 106.9h1.6M255.3 103.3h1.6M270.1 98.1h1.6M287.7 104.7h1.6M273.0 93.9h1.6M278.4 104.6h1.6M264.8 88.3h1.6M272.3 92.4h1.6M280.0 111.6h1.6M248.4 83.8h1.6M280.0 96.7h1.6M273.7 105.6h1.6M280.8 97.0h1.6M271.1 98.2h1.6M252.3 92.9h1.6M256.3 92.5h1.6M264.2 89.9h1.6M221.1 108.8h1.6M249.6 97.1h1.6M253.2 103.9h1.6M254.3 111.1h1.6M246.7 105.3h1.6M245.3 107.3h1.6M258.6 96.2h1.6M252.7 101.5h1.6M285.3 96.4h1.6M263.0 99.8h1.6M261.9 98.1h1.6M277.2 95.5h1.6M261.8 105.4h1.6M262.8 100.4h1.6M282.8 100.5h1.6M279.4 103.2h1.6M259.8 106.9h1.6M241.3 97.0h1.6M253.1 94.3h1.6M272.6 84.9h1.6M235.9 97.6h1.6M258.1 97.2h1.6M262.5 107.6h1.6M238.2 99.7h1.6M283.4 89.5h1.6M259.2 83.7h1.6M237.8 95.2h1.6M246.7 86.3h1.6M270.5 86.0h1.6M286.3 82.6h1.6M268.3 93.0h1.6M266.6 103.5h1.6M260.2 97.5h1.6M290.4 89.4h1.6M285.0 103.1h1.6M236.8 99.1h1.6M264.0 105.3h1.6M273.2 103.2h1.6M260.4 110.0h1.6M271.0 89.9h1.6M274.6 104.1h1.6M248.6 98.1h1.6M285.1 95.0h1.6M266.2 101.3h1.6M281.5 107.4h1.6M268.3 103.7h1.6M262.2 107.2h1.6M286.1 98.2h1.6M270.0 103.9h1.6M290.0 90.5h1.6M273.8 101.9h1.6M300.0 95.1h1.6M250.7 106.3h1.6M265.1 113.0h1.6M251.0 101.8h1.6M245.6 91.8h1.6M266.9 91.7h1.6M239.1 90.0h1.6M262.0 102.4h1.6M285.2 102.0h1.6M272.6 98.3h1.6M254.8 101.9h1.6M259.5 95.1h1.6M275.6 92.8h1.6M289.7 92.0h1.6M259.4 105.4h1.6M265.7 87.9h1.6M271.8 114.0h1.6M260.6 101.9h1.6M269.6 103.6h1.6M268.2 99.7h1.6M285.6 101.6h1.6M253.8 90.8h1.6M264.9 105.4h1.6M269.4 93.8h1.6M251.6 108.2h1.6M258.1 99.7h1.6M263.2 96.6h1.6M239.5 92.0h1.6M255.5 108.5h1.6M244.8 116.4h1.6M255.1 86.3h1.6M252.3 106.6h1.6M255.4 101.7h1.6M275.2 100.8h1.6M284.0 88.7h1.6M277.3 93.9h1.6M250.2 90.1h1.6M268.9 89.2h1.6M242.6 95.5h1.6M272.8 101.1h1.6M275.7 89.0h1.6M257.8 91.6h1.6M264.2 96.9h1.6M277.0 113.4h1.6M275.5 103.9h1.6M254.3 95.9h1.6M251.4 103.0h1.6M235.6 92.0h1.6M257.8 78.8h1.6M253.6 98.4h1.6M263.2 96.4h1.6M272.6 92.5h1.6M240.2 85.4h1.6M250.8 115.6h1.6M257.6 103.0h1.6M236.8 88.2h1.6M260.0 99.5h1.6M255.0 112.5h1.6M269.1 95.1h1.6M274.2 109.4h1.6M274.7 92.1h1.6M259.0 91.6h1.6M267.2 102.1h1.6M266.6 108.2h1.6M280.5 95.2h1.6M232.9 101.9h1.6M259.0 101.4h1.6M250.6 103.7h1.6M264.9 103.0h1.6M280.3 106.7h1.6M266.7 92.7h1.6M265.4 90.3h1.6M251.6 105.8h1.6M268.4 109.1h1.6M267.0 93.3h1.6M246.7 89.1h1.6M273.6 94.9h1.6M255.5 90.2h1.6M228.3 93.0h1.6M260.0 98.6h1.6M271.4 101.1h1.6M270.4 105.0h1.6M265.2 99.8h1.6M262.2 112.8h1.6M273.9 87.7h1.6M272.4 107.8h1.6M233.0 97.1h1.6M251.1 96.3h1.6M264.5 99.8h1.6M261.7 99.4h1.6M276.5 105.3h1.6M279.5 102.4h1.6M265.4 93.3h1.6M256.8 93.8h1.6M291.3 109.5h1.6M249.1 99.7h1.6M261.3 112.8h1.6M296.5 99.9h1.6M273.5 98.7h1.6M273.0 109.7h1.6M263.0 88.1h1.6M283.0 109.8h1.6M311.3 89.8h1.6M268.5 112.1h1.6M259.5 93.7h1.6M282.5 114.1h1.6M294.8 103.2h1.6M269.4 109.4h1.6M249.7 97.0h1.6M269.1 105.7h1.6M250.5 101.1h1.6M279.3 97.7h1.6M260.0 107.2h1.6M272.0 104.1h1.6M264.8 97.6h1.6M277.1 106.9h1.6M230.1 96.5h1.6M269.0 113.3h1.6M266.6 83.8h1.6M268.3 91.0h1.6M239.6 110.9h1.6M285.9 105.8h1.6M252.7 102.3h1.6M271.1 95.2h1.6M254.9 93.8h1.6M260.2 91.3h1.6M256.0 90.6h1.6M236.7 108.2h1.6M252.9 98.3h1.6M285.1 100.8h1.6M244.7 94.9h1.6M265.6 100.8h1.6M234.4 113.4h1.6M281.5 103.4h1.6M240.7 80.3h1.6M244.4 99.4h1.6M260.9 90.3h1.6M272.5 100.1h1.6M241.9 101.8h1.6M262.0 99.4h1.6M272.4 101.3h1.6M263.8 92.9h1.6M250.9 103.0h1.6M271.0 114.0h1.6M282.1 92.8h1.6M301.9 95.4h1.6M284.9 102.8h1.6M235.5 100.7h1.6M285.1 93.7h1.6M280.8 96.6h1.6M268.7 107.2h1.6M275.2 89.0h1.6M282.3 79.8h1.6M259.5 99.4h1.6M243.4 107.2h1.6M259.5 91.3h1.6M274.8 88.7h1.6M254.5 106.4h1.6M253.0 111.2h1.6M242.8 109.9h1.6M272.8 103.4h1.6M246.1 108.1h1.6M260.3 103.2h1.6M251.8 103.1h1.6M285.5 112.5h1.6M280.6 97.3h1.6M302.1 89.2h1.6M252.3 115.7h1.6M247.6 101.9h1.6M268.3 103.7h1.6M241.0 106.1h1.6M255.7 99.7h1.6M275.2 108.5h1.6M264.8 94.1h1.6M278.1 103.0h1.6M251.6 108.4h1.6M256.2 97.2h1.6M261.7 99.7h1.6M277.9 89.5h1.6M282.4 99.3h1.6M284.1 103.4h1.6M265.8 85.8h1.6M252.0 98.9h1.6M257.1 97.7h1.6M264.1 89.3h1.6M238.3 104.8h1.6M248.4 101.3h1.6M235.0 106.5h1.6M268.8 85.5h1.6M267.6 107.3h1.6M248.6 109.2h1.6M279.9 109.5h1.6M265.5 86.6h1.6M261.9 92.4h1.6M275.1 106.0h1.6M269.6 106.4h1.6M246.4 82.7h1.6M239.9 100.9h1.6M201.9 102.2h1.6M233.4 89.1h1.6M222.5 92.8h1.6M206.0 94.3h1.6M200.8 93.8h1.6M186.6 98.4h1.6M187.1 110.0h1.6M224.9 90.1h1.6M212.1 96.3h1.6M208.1 103.4h1.6M199.2 101.6h1.6M235.5 92.0h1.6M200.2 102.8h1.6M218.5 106.2h1.6M198.5 95.3h1.6M206.1 92.0h1.6M230.8 91.5h1.6M237.0 92.1h1.6M198.8 95.9h1.6M197.3 99.4h1.6M225.1 111.7h1.6M235.1 99.1h1.6M193.7 102.4h1.6M227.0 86.3h1.6M189.3 101.6h1.6M194.8 95.7h1.6M242.8 92.3h1.6M190.5 106.0h1.6M210.6 106.3h1.6M204.8 89.0h1.6M221.0 89.4h1.6M217.8 109.9h1.6M223.2 97.5h1.6M220.0 88.4h1.6M199.7 103.7h1.6M211.2 97.7h1.6M195.0 97.3h1.6M193.4 100.6h1.6M191.4 101.8h1.6M243.1 117.1h1.6M230.0 106.3h1.6M196.8 100.7h1.6M214.7 96.8h1.6M186.7 85.6h1.6M225.1 80.7h1.6M203.5 88.4h1.6M236.9 96.9h1.6M224.7 106.0h1.6M239.5 99.6h1.6M238.1 90.5h1.6M218.3 99.2h1.6M193.3 96.4h1.6M212.6 89.1h1.6M193.7 104.7h1.6M191.5 103.2h1.6M228.7 87.5h1.6M243.1 94.1h1.6M243.6 91.2h1.6M235.9 96.1h1.6M266.9 83.3h1.6M301.2 73.0h1.6M236.8 87.7h1.6M206.6 78.1h1.6M214.7 88.8h1.6M265.4 106.8h1.6M243.5 86.8h1.6M298.2 86.1h1.6M224.0 87.1h1.6M249.2 86.5h1.6M238.1 98.1h1.6M199.0 79.1h1.6M276.5 87.9h1.6M270.1 79.6h1.6M260.5 78.9h1.6M277.0 90.2h1.6M248.3 83.9h1.6M252.3 71.5h1.6M205.5 77.6h1.6M190.3 70.9h1.6M266.5 86.8h1.6M224.3 90.9h1.6M198.0 76.8h1.6M228.9 79.9h1.6M264.0 94.3h1.6M292.4 100.9h1.6M275.9 92.8h1.6M282.4 82.6h1.6M222.7 82.7h1.6M213.1 93.6h1.6M190.1 88.4h1.6M299.7 94.3h1.6M302.2 90.8h1.6M229.9 85.4h1.6M228.9 88.7h1.6M267.1 86.1h1.6M288.0 113.4h1.6M190.9 87.4h1.6M287.9 75.4h1.6M240.6 53.2h1.6M290.0 89.8h1.6M251.3 82.4h1.6M237.0 69.6h1.6M226.7 61.6h1.6M282.0 90.2h1.6M267.2 73.2h1.6M281.5 75.5h1.6M221.7 78.1h1.6M265.0 92.9h1.6M281.3 77.7h1.6M218.7 63.8h1.6M229.8 66.8h1.6M250.7 83.1h1.6M269.1 77.3h1.6M205.8 77.4h1.6M235.8 68.3h1.6M215.2 83.0h1.6M235.4 82.6h1.6M208.5 90.2h1.6M275.6 68.5h1.6M217.6 57.7h1.6M279.8 72.3h1.6M262.5 70.3h1.6M279.6 68.4h1.6M218.3 87.3h1.6M219.8 70.2h1.6M241.6 61.3h1.6M222.1 66.0h1.6M259.4 78.0h1.6M206.8 83.6h1.6M213.2 82.7h1.6M277.2 64.6h1.6M221.6 82.1h1.6M272.6 75.0h1.6M268.4 73.8h1.6M263.6 79.0h1.6M278.1 85.1h1.6M247.2 71.9h1.6M203.4 83.5h1.6M226.3 80.3h1.6M233.5 64.9h1.6M226.1 69.1h1.6M241.6 97.4h1.6" stroke="#000" stroke-width="1.6" fill="none"/>
<line x1="187.32" y1="90.20" x2="325.38" y2="107.84" stroke="#e8251f" stroke-width="1.5"/>
<line x1="180.60" y1="41.50" x2="180.60" y2="125.80" stroke="#858585" stroke-width="1.0"/>
<line x1="178.00" y1="42.50" x2="180.60" y2="42.50" stroke="#858585" stroke-width="1.0"/>
<text x="176.00" y="45.45" font-size="8.2" text-anchor="end" textLength="20.10" lengthAdjust="spacingAndGlyphs">0.775</text>
<line x1="178.00" y1="63.50" x2="180.60" y2="63.50" stroke="#858585" stroke-width="1.0"/>
<text x="176.00" y="66.45" font-size="8.2" text-anchor="end" textLength="20.10" lengthAdjust="spacingAndGlyphs">0.750</text>
<line x1="178.00" y1="84.50" x2="180.60" y2="84.50" stroke="#858585" stroke-width="1.0"/>
<text x="176.00" y="87.45" font-size="8.2" text-anchor="end" textLength="20.10" lengthAdjust="spacingAndGlyphs">0.725</text>
<line x1="178.00" y1="105.40" x2="180.60" y2="105.40" stroke="#858585" stroke-width="1.0"/>
<text x="176.00" y="108.35" font-size="8.2" text-anchor="end" textLength="20.10" lengthAdjust="spacingAndGlyphs">0.700</text>
<line x1="180.60" y1="125.80" x2="332.10" y2="125.80" stroke="#858585" stroke-width="1.0"/>
<line x1="202.40" y1="125.80" x2="202.40" y2="128.80" stroke="#858585" stroke-width="0.8"/>
<text x="202.40" y="138.00" font-size="7.8" text-anchor="middle">1</text>
<line x1="245.20" y1="125.80" x2="245.20" y2="128.80" stroke="#858585" stroke-width="0.8"/>
<text x="245.20" y="138.00" font-size="7.8" text-anchor="middle">2</text>
<line x1="288.00" y1="125.80" x2="288.00" y2="128.80" stroke="#858585" stroke-width="0.8"/>
<text x="288.00" y="138.00" font-size="7.8" text-anchor="middle">3</text>
<line x1="330.90" y1="125.80" x2="330.90" y2="128.80" stroke="#858585" stroke-width="0.8"/>
<text x="330.90" y="138.00" font-size="7.8" text-anchor="middle">4</text>
<text x="220.00" y="151.50" font-size="8.7" textLength="72.80" lengthAdjust="spacingAndGlyphs">Shannon (species)</text>
<text x="150.30" y="93.80" font-size="8.6" textLength="20.10" lengthAdjust="spacingAndGlyphs" transform="rotate(-90 150.30 93.80)">Ratio</text>
<text x="188.20" y="28.70" font-size="8.5" textLength="110.50" lengthAdjust="spacingAndGlyphs"><tspan font-style="italic">R</tspan> = −0.3362, <tspan font-style="italic">P</tspan> = 6.67 × 10<tspan font-size="5.8" dy="-3.2">−82</tspan></text>
<line x1="435.20" y1="6.60" x2="435.20" y2="125.70" stroke="#ececec" stroke-width="0.5"/>
<rect x="427.20" y="55.50" width="17.10" height="44.00" fill="#b2d8e4"/>
<path d="M442.6 64.1h1M431.7 56.8h1M437.6 72.4h1M442.8 59.1h1M438.6 66.8h1M427.6 54.3h1M437.3 72.8h1M441.3 70.8h1M427.6 69.2h1M430.1 72.0h1M433.7 55.4h1M433.4 74.4h1M443.5 84.9h1M428.2 69.1h1M429.7 80.7h1M437.5 92.0h1M428.6 78.7h1M437.3 98.0h1M437.5 90.5h1M436.1 80.3h1M433.9 57.5h1M434.7 76.0h1M433.0 55.2h1M433.3 99.4h1M432.7 55.7h1M431.9 63.5h1M429.6 62.3h1M436.3 94.8h1M437.1 97.1h1M436.0 88.4h1M435.4 94.5h1M440.6 66.0h1M442.3 96.5h1M427.8 58.4h1M433.6 68.4h1M434.7 94.7h1M428.4 86.7h1M432.4 98.3h1M433.8 94.2h1M427.4 63.6h1M434.1 73.6h1M428.4 101.0h1M433.6 87.2h1M430.1 91.6h1M428.4 57.5h1M427.8 99.3h1M435.5 79.9h1M426.8 60.9h1M433.5 81.0h1M427.7 97.4h1M438.5 79.6h1M437.8 101.2h1M429.3 98.0h1M432.9 77.4h1M439.1 99.9h1M428.9 90.3h1M440.6 65.7h1M438.0 58.2h1M442.8 54.8h1M437.0 78.5h1M427.5 89.7h1M433.7 59.8h1M438.5 63.2h1M434.7 100.2h1M433.1 92.2h1M431.0 69.0h1M438.5 98.7h1M429.4 76.4h1M439.8 65.7h1M431.5 70.1h1M436.6 66.6h1M442.5 86.9h1M436.8 71.4h1M441.6 81.2h1M428.2 83.3h1M435.4 77.7h1M437.9 75.2h1M429.5 70.4h1M438.6 64.7h1M438.0 58.0h1M434.5 87.1h1M440.3 54.3h1M426.8 88.7h1M442.6 89.7h1M428.3 92.2h1M439.9 84.3h1M429.4 99.2h1M426.9 71.9h1M436.9 75.5h1M436.1 67.4h1M439.4 54.0h1M441.4 74.5h1M434.7 77.5h1M435.7 75.8h1M436.8 55.2h1M432.4 61.2h1M440.4 66.6h1M439.7 73.2h1M429.4 63.4h1M438.5 71.0h1M430.4 67.3h1M431.6 58.7h1M436.5 95.6h1M434.2 82.7h1M436.6 100.7h1M430.7 82.5h1M439.7 83.0h1M428.6 71.0h1M426.8 92.1h1M430.2 75.7h1M435.3 93.0h1M441.2 75.9h1M432.5 89.0h1M428.2 85.3h1M443.6 72.5h1M438.4 57.9h1M431.5 64.7h1M430.6 74.6h1M429.3 76.3h1M428.6 63.8h1M439.0 66.0h1M428.7 69.1h1M438.3 79.8h1M433.6 57.8h1M437.4 73.0h1M433.0 86.2h1M428.7 93.6h1M426.7 78.3h1M441.0 99.1h1M440.8 88.8h1M428.9 91.4h1M431.4 60.0h1M434.5 77.8h1M442.7 55.2h1M433.0 85.6h1M436.2 69.1h1M426.8 95.7h1M427.7 59.8h1M439.3 57.1h1M435.5 72.5h1M427.8 61.1h1M439.1 79.9h1M430.2 74.3h1M442.1 54.6h1M443.6 65.2h1M442.9 60.8h1M429.8 62.1h1M436.8 100.9h1M441.7 81.4h1M437.4 90.9h1M427.9 72.0h1M431.2 62.2h1M438.2 69.6h1M433.2 86.9h1M429.5 73.3h1M436.4 54.0h1M441.3 80.2h1M438.3 78.1h1M431.2 86.2h1M430.0 54.8h1M428.6 96.2h1M431.4 75.7h1M436.8 70.8h1M442.3 67.4h1M431.3 94.3h1M439.5 66.2h1M442.9 67.9h1M433.0 96.2h1M439.9 76.1h1M443.7 55.8h1M430.9 59.3h1M436.1 89.7h1M441.7 69.1h1M429.1 68.1h1M428.0 67.7h1M437.6 100.2h1M436.9 76.8h1M442.2 96.5h1M438.0 91.6h1M442.2 91.3h1M435.6 90.8h1M437.4 68.2h1M440.8 93.1h1M433.8 77.1h1M433.6 61.9h1M438.7 65.6h1M427.7 78.9h1M434.6 76.6h1M429.3 100.9h1M434.7 83.2h1M426.9 83.3h1M427.6 56.0h1M435.9 56.7h1M431.9 68.0h1M438.8 75.0h1M436.3 98.1h1M435.0 56.0h1M441.4 88.2h1M427.5 83.3h1M442.7 65.2h1M428.1 97.5h1M427.5 71.8h1M443.1 93.6h1M429.5 66.6h1M434.6 80.7h1M432.9 90.8h1M431.3 95.0h1M435.5 70.7h1M441.8 63.6h1M434.0 84.9h1M437.5 84.2h1M443.0 55.8h1M434.4 82.4h1M432.3 98.7h1M435.0 65.3h1M440.3 83.6h1M438.5 97.5h1M443.2 72.0h1M432.5 92.8h1M442.7 96.5h1M433.2 55.8h1M427.0 67.6h1M437.7 65.2h1M442.7 97.1h1M430.8 82.3h1M442.1 59.4h1M441.1 71.8h1M432.2 66.6h1M440.1 101.2h1M432.3 95.8h1M437.4 94.3h1M435.2 58.7h1M430.2 71.8h1M434.1 74.7h1M433.6 69.0h1M428.1 96.0h1M441.7 75.4h1M431.8 90.2h1M432.2 81.5h1M443.0 72.8h1M433.5 57.8h1M433.5 94.6h1M441.1 76.6h1M432.6 57.0h1M443.0 76.4h1M434.8 55.7h1M433.2 68.8h1M432.1 96.6h1M432.0 70.0h1M443.4 69.5h1M435.0 68.1h1M427.8 80.9h1M428.0 77.5h1M440.0 71.8h1M442.1 94.4h1M443.1 76.0h1M427.9 93.7h1M431.0 72.9h1M440.9 70.4h1M440.8 62.0h1M440.8 56.7h1M429.6 80.9h1M439.7 70.6h1M439.4 60.5h1M442.2 78.8h1M434.3 88.0h1M437.8 83.7h1M430.1 54.4h1M439.4 71.3h1M427.0 85.7h1M441.4 72.5h1M438.2 74.6h1M432.1 91.4h1M430.1 60.9h1M434.8 61.7h1M439.4 90.3h1M442.6 97.7h1M443.2 61.4h1M435.9 56.3h1M431.8 92.7h1M428.8 80.7h1M439.1 65.2h1M436.9 55.7h1M430.4 79.9h1M435.9 60.8h1M433.4 96.7h1M440.3 97.0h1M428.1 88.8h1M430.0 100.7h1M429.8 68.2h1M434.9 59.2h1M432.3 84.4h1M436.8 65.2h1M435.0 86.9h1M432.5 57.0h1M438.4 69.9h1M436.5 85.1h1M428.8 98.5h1M433.1 57.6h1M437.0 75.2h1M437.3 98.9h1M434.6 56.1h1M429.9 75.4h1M440.9 89.4h1M435.7 76.5h1M437.6 94.4h1M441.5 72.8h1M427.5 68.2h1M428.8 54.7h1M439.2 77.1h1M428.4 100.6h1M426.8 97.4h1M443.4 53.5h1M427.5 55.0h1M441.4 56.3h1M443.5 94.7h1M433.4 71.0h1M437.3 66.8h1M428.6 89.2h1M443.7 69.7h1M442.0 71.9h1M431.7 87.0h1M428.0 96.3h1M440.0 62.0h1M443.8 63.3h1M429.2 63.1h1M442.0 98.8h1M441.4 80.4h1M430.3 92.9h1M429.8 62.6h1M430.1 95.0h1M431.5 67.8h1M433.9 83.3h1M430.3 63.9h1M432.2 78.1h1M436.5 89.7h1M436.9 62.0h1M443.8 99.8h1M429.3 94.2h1M442.0 87.3h1M430.8 89.7h1M430.2 67.1h1M441.9 57.9h1M436.5 69.1h1M438.6 59.9h1M442.0 69.6h1M439.8 90.3h1M439.6 61.7h1M432.5 57.1h1M432.1 92.3h1M435.3 98.3h1M433.3 73.2h1M430.0 63.8h1M439.2 96.0h1M439.9 56.2h1M442.3 70.2h1M437.9 92.2h1M435.5 88.6h1M432.8 90.1h1M433.6 76.6h1M440.8 87.3h1M439.2 68.1h1M428.5 95.0h1M436.8 91.3h1M442.0 98.7h1M441.1 90.2h1M433.2 88.5h1M440.8 62.6h1M441.1 80.8h1M437.3 57.1h1M441.7 97.5h1M429.2 91.8h1M442.7 79.2h1M441.2 93.5h1M433.6 95.2h1M440.4 70.7h1M435.3 85.8h1M440.2 59.8h1M432.3 55.9h1M437.9 90.6h1M427.9 64.0h1M443.5 72.9h1M438.9 77.0h1M442.2 98.8h1M438.0 90.8h1M438.3 79.8h1M442.1 92.3h1M443.7 65.5h1M433.1 57.6h1M431.8 65.7h1M439.6 82.1h1M434.9 69.6h1M443.8 100.9h1M436.3 80.0h1M428.6 80.8h1M427.5 89.1h1M439.5 78.2h1M432.6 61.8h1M431.4 63.2h1M438.3 75.3h1M430.8 65.6h1M433.1 63.4h1M433.2 71.2h1M440.0 92.0h1M439.0 95.0h1M442.4 66.1h1M431.5 63.0h1M443.7 55.2h1M436.0 53.9h1M432.9 71.1h1M442.8 62.8h1M429.7 77.7h1M443.1 59.8h1M427.1 83.6h1M429.4 80.3h1M436.0 97.4h1M431.3 92.4h1M439.2 59.3h1M436.8 79.8h1M431.0 71.1h1M434.4 55.5h1M427.0 79.9h1M442.2 100.3h1M427.6 60.5h1M432.2 53.7h1M442.2 63.0h1M435.6 74.1h1M436.0 66.2h1M437.8 86.8h1M438.7 66.3h1M432.2 94.9h1M428.7 59.7h1M437.3 61.0h1M434.7 100.0h1M437.2 57.0h1M443.1 89.7h1M436.4 57.5h1M430.1 61.1h1M432.5 83.5h1M441.7 93.1h1M431.2 83.1h1M431.9 101.3h1M442.8 100.8h1M434.9 60.7h1M438.4 75.9h1M442.7 76.0h1M441.4 62.5h1M427.1 85.1h1M435.3 95.3h1M438.4 89.0h1M429.1 91.4h1M429.8 66.0h1M440.0 80.7h1M439.3 62.0h1M443.5 90.1h1M427.7 98.2h1M427.6 77.4h1M443.6 78.4h1M438.8 89.0h1M428.4 96.4h1M438.0 57.9h1M437.8 89.7h1M438.4 96.5h1M440.9 63.5h1M439.2 67.7h1M436.1 76.1h1M433.1 82.1h1M430.1 75.5h1M443.5 81.0h1M434.3 72.1h1M431.3 73.7h1M437.8 68.4h1M438.2 84.9h1M436.9 98.5h1M441.7 100.8h1M437.1 71.8h1M433.2 55.6h1M428.3 84.0h1M428.8 99.3h1M435.1 99.2h1M431.2 86.5h1M429.2 71.5h1M440.9 57.5h1M434.5 75.7h1M439.2 84.9h1M441.3 88.2h1M427.6 85.3h1M443.1 91.3h1M436.2 58.9h1M432.3 78.4h1M435.0 75.2h1M430.5 77.6h1M432.4 75.9h1M437.1 82.5h1M430.0 58.6h1M434.4 54.0h1M431.5 74.5h1M440.0 81.8h1M430.8 73.9h1M439.2 78.2h1M426.9 72.7h1M434.2 92.5h1M434.8 92.4h1M433.6 60.8h1M435.6 83.4h1M441.2 78.6h1M435.6 56.2h1M440.7 57.7h1M439.2 92.6h1M430.1 87.9h1M431.8 61.1h1M429.4 81.7h1M440.0 96.4h1M428.3 78.6h1M441.3 82.4h1M436.2 86.0h1M434.1 78.9h1M436.3 95.7h1M435.9 65.8h1M437.3 64.3h1M436.0 58.3h1M431.9 74.8h1M442.1 69.2h1M437.2 77.5h1M443.7 61.9h1M428.9 76.6h1M442.8 77.3h1M437.4 68.2h1M438.3 92.1h1M442.8 77.8h1M427.8 82.0h1M429.9 99.2h1M436.5 95.6h1M431.8 84.5h1M427.0 53.8h1M431.7 84.4h1M438.5 68.1h1M438.4 65.4h1M427.1 82.6h1M432.2 62.0h1M441.4 88.8h1M437.9 90.8h1M437.3 60.1h1M443.4 60.8h1M432.3 97.9h1M428.1 55.0h1M437.3 91.8h1M437.6 89.4h1M436.1 87.3h1M443.0 55.1h1M438.3 98.7h1M427.9 63.4h1M437.8 95.4h1M427.8 77.5h1M436.5 69.1h1M435.3 61.9h1M426.7 54.1h1M430.1 64.7h1M433.9 59.1h1M432.2 53.8h1M429.0 85.4h1M437.2 100.4h1M442.8 78.2h1M427.4 92.9h1M439.9 100.1h1M432.7 57.4h1M431.3 73.9h1M440.3 73.7h1M442.6 65.4h1M443.5 87.9h1M442.7 80.1h1M428.8 61.6h1M426.9 98.9h1M439.5 59.2h1M439.8 55.9h1M429.2 89.8h1M436.5 74.0h1M437.7 84.8h1M433.2 54.9h1M429.6 57.3h1M432.5 67.2h1M431.5 69.2h1M426.8 78.8h1M431.4 68.8h1M431.0 64.6h1M438.3 99.2h1M437.6 59.9h1M438.3 77.6h1M431.7 64.2h1M436.9 92.5h1M428.8 83.2h1M439.8 83.3h1M442.8 74.4h1M439.8 75.5h1M439.2 101.1h1M436.5 73.9h1M439.7 85.1h1M434.6 57.7h1M431.1 78.7h1M440.0 89.8h1M435.5 76.0h1M442.5 88.4h1M436.7 85.4h1M435.8 58.8h1M427.4 76.4h1M430.5 55.0h1M439.0 57.9h1M434.2 85.8h1M442.5 64.1h1M437.2 55.9h1M431.2 76.0h1M430.9 87.0h1M431.7 66.9h1M430.4 62.6h1M435.8 64.6h1M428.1 54.6h1M436.6 55.5h1M434.0 75.7h1M441.7 63.8h1M441.9 74.0h1M431.8 97.3h1M430.0 92.1h1M433.9 93.2h1M435.4 98.1h1M438.9 85.5h1M443.3 74.5h1M442.0 57.0h1M433.5 88.1h1M436.1 58.8h1M436.6 68.1h1M441.7 67.0h1M428.5 98.5h1M440.6 95.1h1M431.2 65.7h1M428.5 71.5h1M443.5 76.4h1M432.6 55.8h1M439.5 54.4h1M432.9 80.8h1M431.7 77.5h1M436.0 83.7h1M430.7 95.7h1M430.9 60.1h1M427.6 96.5h1M438.9 63.6h1M442.5 97.8h1M426.8 61.1h1M431.6 72.7h1M441.6 88.8h1M437.0 63.1h1M428.9 59.1h1M430.8 66.4h1M430.2 69.6h1M427.3 96.0h1M428.9 65.5h1M428.9 86.2h1M435.3 93.6h1M439.8 54.1h1M435.6 66.6h1M437.9 96.8h1M441.8 81.4h1M440.1 61.6h1M428.4 77.2h1M427.2 72.7h1M442.6 93.6h1M431.2 91.5h1M441.5 69.1h1M429.7 100.7h1M441.7 55.8h1M434.2 97.2h1M427.2 58.2h1M443.6 80.1h1M428.7 73.6h1M427.1 93.0h1M440.4 76.6h1M432.3 67.0h1M427.2 87.7h1M426.9 71.8h1M433.7 73.9h1M428.5 92.7h1M432.7 70.6h1M438.4 78.9h1M443.0 92.3h1M431.7 93.2h1M436.5 86.3h1M438.7 87.6h1M440.3 58.1h1M435.1 79.7h1M440.2 82.2h1M434.6 60.3h1M439.4 96.1h1M437.5 85.9h1M434.6 58.5h1M441.6 59.3h1M432.0 58.5h1M432.8 60.5h1M435.0 81.8h1M427.7 58.2h1M436.8 73.1h1M427.1 67.4h1M441.5 84.9h1M432.7 87.7h1M441.9 84.1h1M429.3 82.1h1M438.9 80.2h1M436.7 90.3h1M436.4 77.6h1M442.2 63.8h1M428.2 58.8h1M442.4 82.3h1M431.5 92.1h1M431.0 87.9h1M438.4 87.5h1M433.8 90.8h1M429.0 57.4h1M436.2 94.3h1M441.7 55.0h1M426.9 80.4h1M433.6 73.4h1M429.8 59.8h1M438.8 81.0h1M440.2 59.0h1M429.1 55.9h1M441.1 87.6h1M432.0 96.3h1M439.5 74.6h1M428.9 92.2h1M434.8 99.3h1M437.8 88.6h1M435.2 73.7h1M438.5 98.8h1M440.0 65.4h1M442.6 65.0h1M437.8 85.7h1M429.7 93.1h1M439.8 66.0h1M433.9 68.6h1M438.6 54.8h1M438.5 58.1h1M441.9 69.3h1M436.8 58.0h1M430.6 54.6h1M433.6 90.5h1M437.3 95.9h1M436.5 60.1h1M430.0 70.0h1M440.8 54.3h1M436.6 73.7h1M436.6 59.2h1M430.2 80.8h1M435.1 86.0h1M431.3 87.9h1M432.4 58.5h1M432.5 91.9h1M437.1 93.7h1M433.1 66.5h1M442.1 100.2h1M439.5 69.7h1M443.5 65.9h1M437.2 61.1h1M434.1 99.7h1M433.4 100.8h1M427.3 91.1h1M438.7 67.9h1M432.1 62.4h1M427.1 92.7h1M442.3 92.8h1M430.7 86.7h1M428.3 54.2h1M439.3 57.8h1M439.9 80.9h1M439.9 55.4h1M437.2 92.8h1M427.1 100.4h1M435.8 100.4h1M443.1 93.3h1M434.5 55.4h1M431.8 58.9h1M436.2 100.5h1M437.5 79.5h1M431.8 58.9h1M440.0 53.7h1M441.1 59.0h1M427.1 95.7h1M428.4 67.9h1M435.3 89.3h1M427.7 98.5h1M430.0 70.5h1M441.6 98.2h1M443.8 95.8h1M441.1 59.3h1M429.5 59.6h1M440.4 96.8h1M436.7 93.7h1M443.7 93.1h1M431.5 85.5h1M442.1 99.5h1M427.0 73.7h1M430.5 92.8h1M442.2 90.7h1M435.4 74.4h1M430.3 67.5h1M438.7 59.0h1M432.1 99.2h1M436.8 92.8h1M433.8 89.2h1M428.1 65.6h1M427.8 92.9h1M442.3 62.9h1M441.6 84.0h1M434.5 61.3h1M430.8 75.2h1M429.0 82.8h1M443.1 88.0h1M435.9 97.5h1M426.8 99.5h1M437.4 90.0h1M439.7 55.7h1M431.9 72.1h1M443.5 88.4h1M427.7 95.2h1M428.6 54.6h1M437.0 72.7h1M434.6 98.4h1M433.0 98.0h1M438.6 95.9h1M442.6 60.9h1M441.4 69.0h1M439.1 98.0h1M431.6 97.7h1M431.9 99.8h1M429.7 87.1h1M441.7 87.6h1M438.3 65.6h1M436.5 87.6h1M427.9 66.1h1M441.2 93.9h1M429.2 82.5h1M435.4 67.1h1M442.7 60.6h1M432.8 59.5h1M434.5 60.8h1M442.9 97.5h1M431.8 71.2h1M434.4 80.7h1M433.2 60.6h1M433.7 96.5h1M434.1 101.1h1M443.6 78.2h1M440.5 99.1h1M427.4 100.1h1M437.1 85.9h1M426.9 60.4h1M428.0 85.2h1M436.7 62.3h1M437.3 96.5h1M429.6 96.3h1M433.6 62.2h1M432.9 70.5h1M438.7 86.3h1M433.9 65.0h1M433.3 93.9h1M440.8 77.9h1M438.1 84.6h1M428.6 75.3h1M435.9 92.3h1M430.5 91.5h1M431.3 92.1h1M437.2 71.0h1M441.5 70.7h1M432.8 65.1h1M435.6 96.7h1M428.0 59.1h1M439.9 70.6h1M429.7 55.1h1M433.5 85.0h1M431.4 99.6h1M435.6 79.2h1M431.8 55.2h1M434.7 70.4h1M434.2 85.3h1M437.2 61.3h1M438.5 78.4h1M435.8 69.7h1M439.4 55.7h1M442.0 91.1h1M434.5 67.4h1M427.3 62.2h1M439.8 85.1h1M434.5 74.6h1M440.1 69.1h1M441.3 58.4h1M428.0 100.9h1M433.5 82.0h1M439.4 74.8h1M434.4 81.7h1M434.4 75.3h1M434.9 91.4h1M443.6 95.1h1M430.8 68.0h1M440.3 53.1h1M436.7 48.6h1M430.1 47.8h1M437.1 53.4h1M441.7 50.1h1M435.6 47.6h1M441.1 49.1h1M435.9 53.1h1M427.8 53.1h1M443.4 51.4h1M427.5 51.9h1M431.5 53.1h1M437.8 50.9h1M440.6 53.0h1M430.4 53.4h1M441.6 51.1h1M438.7 46.7h1M428.2 53.1h1M434.3 52.9h1M441.9 50.9h1M434.4 46.6h1M441.5 51.4h1M430.3 52.9h1M441.6 50.4h1M438.6 52.3h1M427.1 53.3h1M428.5 49.9h1M439.3 51.5h1M441.0 46.5h1M433.0 51.9h1M431.3 53.1h1M443.4 52.3h1M441.2 51.2h1M443.7 52.5h1M429.7 51.6h1M435.4 49.2h1M428.4 48.6h1M438.3 50.3h1M433.6 51.2h1M428.2 53.3h1M429.3 49.6h1M442.3 52.8h1M441.7 48.9h1M443.0 46.5h1M442.0 47.7h1M435.9 40.2h1M435.5 41.7h1M436.7 41.6h1M439.8 44.2h1M430.1 41.3h1M434.3 40.8h1M433.5 42.7h1M440.2 42.6h1M427.5 44.8h1M437.6 45.4h1M428.2 44.9h1M436.0 45.9h1M430.5 42.6h1M443.4 41.3h1M429.0 105.8h1M432.2 107.9h1M430.3 105.8h1M431.1 104.3h1M438.3 101.7h1M427.9 106.0h1M437.3 108.5h1M435.6 103.3h1M427.5 107.9h1M442.9 104.5h1M435.0 102.1h1M427.6 109.7h1M436.0 106.2h1M433.3 109.7h1M428.5 104.7h1M440.0 106.2h1M441.9 102.1h1M438.7 103.9h1M434.5 102.8h1M440.9 105.5h1M427.1 109.1h1M430.4 104.1h1M436.7 101.5h1M430.0 102.3h1M438.0 104.0h1" stroke="#a6d0de" stroke-width="1" fill="none"/>
<path d="M444.30,54.00 L444.30,54.00 C444.63,54.33 445.13,55.07 446.30,56.00 C447.47,56.93 449.63,58.43 451.30,59.60 C452.97,60.77 454.30,61.92 456.30,63.00 C458.30,64.08 459.80,64.93 463.30,66.10 C466.80,67.27 473.17,68.90 477.30,70.00 C481.43,71.10 486.77,71.82 488.10,72.70 C489.43,73.58 485.85,74.22 485.30,75.30 C484.75,76.38 485.80,78.08 484.80,79.20 C483.80,80.32 480.93,81.13 479.30,82.00 C477.67,82.87 477.67,83.33 475.00,84.40 C472.33,85.47 466.58,87.08 463.30,88.40 C460.02,89.72 457.30,91.20 455.30,92.30 C453.30,93.40 452.47,93.92 451.30,95.00 C450.13,96.08 449.13,97.63 448.30,98.80 C447.47,99.97 446.97,100.68 446.30,102.00 C445.63,103.32 444.63,105.92 444.30,106.70 L444.30,106.70 Z" fill="#9d9d9d"/>
<line x1="444.30" y1="31.00" x2="444.30" y2="110.00" stroke="#c8c8c8" stroke-width="0.5"/>
<line x1="435.70" y1="52.40" x2="435.70" y2="59.60" stroke="#9a9a9a" stroke-width="0.6"/>
<line x1="435.70" y1="92.30" x2="435.70" y2="104.00" stroke="#9a9a9a" stroke-width="0.6"/>
<line x1="386.30" y1="6.60" x2="386.30" y2="125.70" stroke="#858585" stroke-width="1.0"/>
<line x1="383.70" y1="11.40" x2="386.30" y2="11.40" stroke="#858585" stroke-width="1.0"/>
<text x="381.70" y="14.35" font-size="8.2" text-anchor="end" textLength="20.30" lengthAdjust="spacingAndGlyphs">1.000</text>
<line x1="383.70" y1="44.20" x2="386.30" y2="44.20" stroke="#858585" stroke-width="1.0"/>
<text x="381.70" y="47.15" font-size="8.2" text-anchor="end" textLength="20.30" lengthAdjust="spacingAndGlyphs">0.950</text>
<line x1="383.70" y1="77.10" x2="386.30" y2="77.10" stroke="#858585" stroke-width="1.0"/>
<text x="381.70" y="80.05" font-size="8.2" text-anchor="end" textLength="20.30" lengthAdjust="spacingAndGlyphs">0.900</text>
<line x1="383.70" y1="109.50" x2="386.30" y2="109.50" stroke="#858585" stroke-width="1.0"/>
<text x="381.70" y="112.45" font-size="8.2" text-anchor="end" textLength="20.30" lengthAdjust="spacingAndGlyphs">0.850</text>
<line x1="386.30" y1="125.70" x2="492.00" y2="125.70" stroke="#858585" stroke-width="1.0"/>
<line x1="435.20" y1="125.70" x2="435.20" y2="128.70" stroke="#858585" stroke-width="0.8"/>
<text x="354.40" y="76.80" font-size="8.6" textLength="20.10" lengthAdjust="spacingAndGlyphs" transform="rotate(-90 354.40 76.80)">Ratio</text>
<text x="417.70" y="140.60" font-size="8.7" textLength="35.00" lengthAdjust="spacingAndGlyphs">Samples</text>
<text x="411.00" y="105.50" font-size="6.8" text-anchor="middle" textLength="34.40" lengthAdjust="spacingAndGlyphs">Mean ± s.d.</text>
<text x="411.00" y="113.60" font-size="6.8" text-anchor="middle" textLength="42.00" lengthAdjust="spacingAndGlyphs">0.899 ± 0.015</text>
<text x="346.60" y="8.90" font-size="12.5" fill="#000" font-weight="bold" stroke="#000" stroke-width="0.3">b</text>
<path d="M640.5 94.5h1.6M653.4 89.9h1.6M649.7 88.4h1.6M649.5 98.8h1.6M660.4 101.4h1.6M625.8 85.1h1.6M632.9 83.2h1.6M624.4 83.1h1.6M639.3 95.2h1.6M652.8 88.8h1.6M640.3 96.6h1.6M646.7 85.6h1.6M617.2 91.3h1.6M642.4 82.6h1.6M629.5 87.1h1.6M662.3 90.2h1.6M651.5 89.0h1.6M652.2 93.3h1.6M639.9 96.7h1.6M648.1 92.2h1.6M648.7 92.4h1.6M636.4 82.0h1.6M634.5 95.4h1.6M639.2 96.7h1.6M633.2 94.0h1.6M633.3 83.5h1.6M637.1 100.7h1.6M631.7 95.3h1.6M650.0 100.8h1.6M621.1 90.8h1.6M650.7 77.8h1.6M632.9 101.8h1.6M633.9 89.6h1.6M624.1 84.0h1.6M638.8 83.8h1.6M637.6 96.4h1.6M642.9 96.0h1.6M634.1 85.2h1.6M641.7 90.3h1.6M662.9 94.7h1.6M645.6 87.3h1.6M633.6 84.9h1.6M652.3 99.1h1.6M639.0 94.4h1.6M647.9 85.2h1.6M648.1 95.9h1.6M635.8 86.0h1.6M617.0 101.4h1.6M636.3 94.5h1.6M647.3 91.9h1.6M635.9 86.1h1.6M646.0 91.9h1.6M652.6 83.9h1.6M633.9 94.2h1.6M655.7 79.5h1.6M660.5 76.5h1.6M653.8 89.0h1.6M654.9 99.7h1.6M654.0 92.4h1.6M668.2 93.4h1.6M642.9 92.2h1.6M640.6 91.7h1.6M648.0 78.8h1.6M629.5 74.8h1.6M621.6 89.1h1.6M629.8 86.5h1.6M645.2 85.7h1.6M646.4 92.9h1.6M621.8 95.2h1.6M617.5 99.8h1.6M636.7 101.8h1.6M638.3 95.9h1.6M640.0 89.8h1.6M648.8 96.4h1.6M655.6 93.0h1.6M643.4 94.2h1.6M648.1 95.6h1.6M627.2 97.8h1.6M626.2 88.6h1.6M643.5 99.0h1.6M648.7 81.6h1.6M649.5 97.9h1.6M647.9 91.3h1.6M650.2 98.0h1.6M650.5 96.5h1.6M619.2 94.3h1.6M631.6 89.6h1.6M646.2 89.1h1.6M647.9 99.2h1.6M622.1 105.5h1.6M655.0 87.8h1.6M635.2 96.3h1.6M637.8 97.5h1.6M644.0 92.9h1.6M649.8 92.2h1.6M623.1 84.4h1.6M652.7 92.3h1.6M641.5 87.6h1.6M631.2 86.7h1.6M637.2 86.1h1.6M613.8 94.8h1.6M632.7 83.2h1.6M642.8 89.0h1.6M631.9 89.5h1.6M636.6 85.4h1.6M638.8 94.9h1.6M641.2 105.6h1.6M653.1 98.4h1.6M640.3 84.2h1.6M637.4 89.2h1.6M647.2 80.7h1.6M666.0 94.1h1.6M636.4 91.0h1.6M646.9 98.7h1.6M621.3 94.4h1.6M657.1 79.3h1.6M648.7 89.5h1.6M656.9 100.2h1.6M639.9 87.5h1.6M627.8 86.2h1.6M651.4 93.6h1.6M649.8 94.3h1.6M630.0 88.8h1.6M622.6 86.3h1.6M646.1 87.1h1.6M638.5 94.2h1.6M672.6 96.5h1.6M633.1 97.6h1.6M634.1 84.3h1.6M639.2 92.0h1.6M620.2 93.8h1.6M629.7 86.6h1.6M660.7 81.0h1.6M639.0 82.2h1.6M633.2 90.6h1.6M625.0 96.2h1.6M647.7 98.0h1.6M648.7 84.6h1.6M643.7 96.9h1.6M635.8 88.6h1.6M644.3 86.3h1.6M645.3 81.9h1.6M632.3 91.6h1.6M648.2 86.4h1.6M614.7 97.4h1.6M624.8 96.5h1.6M636.9 78.0h1.6M639.3 94.0h1.6M626.3 85.3h1.6M644.6 86.8h1.6M653.5 89.6h1.6M646.1 99.1h1.6M643.3 86.1h1.6M650.7 95.4h1.6M645.6 90.0h1.6M626.6 91.1h1.6M638.1 94.6h1.6M656.4 78.4h1.6M626.7 95.2h1.6M641.4 85.3h1.6M635.8 90.0h1.6M629.6 99.7h1.6M628.2 85.1h1.6M641.8 77.0h1.6M644.5 90.4h1.6M644.4 88.5h1.6M622.9 81.7h1.6M637.1 83.8h1.6M644.8 103.0h1.6M652.2 91.9h1.6M648.8 79.8h1.6M650.8 98.8h1.6M654.0 85.7h1.6M650.7 98.0h1.6M630.6 94.5h1.6M641.3 95.7h1.6M631.9 87.9h1.6M611.5 87.1h1.6M620.0 96.6h1.6M666.2 86.7h1.6M626.9 91.2h1.6M613.2 85.6h1.6M633.4 103.5h1.6M659.2 101.4h1.6M640.0 99.3h1.6M645.6 94.4h1.6M637.3 93.8h1.6M639.6 103.5h1.6M656.1 89.6h1.6M650.3 92.1h1.6M639.5 82.1h1.6M651.5 90.8h1.6M653.8 81.1h1.6M637.9 94.6h1.6M643.9 98.6h1.6M643.7 94.6h1.6M632.4 85.0h1.6M654.7 98.4h1.6M638.6 92.3h1.6M633.0 97.2h1.6M620.1 78.8h1.6M625.1 86.8h1.6M659.3 83.2h1.6M626.6 104.0h1.6M645.9 84.6h1.6M636.1 86.4h1.6M646.9 100.1h1.6M648.0 86.3h1.6M631.1 91.9h1.6M637.0 98.1h1.6M641.8 95.2h1.6M642.0 90.7h1.6M640.3 88.8h1.6M636.8 98.6h1.6M648.3 76.6h1.6M656.7 94.1h1.6M647.2 99.7h1.6M631.5 88.3h1.6M645.4 83.5h1.6M641.3 91.7h1.6M646.3 88.9h1.6M663.2 86.7h1.6M638.0 97.3h1.6M640.5 94.8h1.6M629.7 96.1h1.6M637.1 98.4h1.6M633.6 108.7h1.6M660.2 103.0h1.6M644.3 88.5h1.6M633.6 102.2h1.6M664.2 84.2h1.6M624.3 94.9h1.6M651.1 85.2h1.6M653.0 90.0h1.6M647.6 94.3h1.6M637.4 76.2h1.6M639.0 84.4h1.6M636.4 94.0h1.6M650.2 78.5h1.6M612.1 88.9h1.6M634.3 95.5h1.6M642.5 87.7h1.6M633.5 92.2h1.6M618.4 88.5h1.6M637.6 85.1h1.6M631.4 98.5h1.6M650.4 90.0h1.6M657.7 90.0h1.6M641.4 91.7h1.6M616.9 92.2h1.6M638.2 81.6h1.6M629.3 87.4h1.6M648.9 100.6h1.6M661.3 90.8h1.6M644.5 92.8h1.6M665.5 91.9h1.6M659.1 95.1h1.6M649.1 96.1h1.6M630.1 95.9h1.6M643.2 83.6h1.6M624.2 79.9h1.6M654.7 93.7h1.6M643.5 103.4h1.6M658.9 92.9h1.6M645.7 90.7h1.6M618.5 92.2h1.6M650.2 89.7h1.6M653.8 94.4h1.6M662.7 83.6h1.6M630.5 101.8h1.6M631.1 81.6h1.6M643.2 91.9h1.6M629.5 92.8h1.6M625.5 90.6h1.6M628.9 92.4h1.6M634.5 93.3h1.6M629.7 91.2h1.6M636.5 88.7h1.6M642.0 100.1h1.6M657.7 87.0h1.6M653.5 90.0h1.6M651.5 100.1h1.6M642.4 97.1h1.6M643.8 87.5h1.6M634.0 80.6h1.6M623.4 91.9h1.6M666.8 102.4h1.6M636.2 93.6h1.6M654.2 90.9h1.6M637.9 92.1h1.6M640.7 92.1h1.6M639.9 88.1h1.6M624.9 91.1h1.6M640.8 101.1h1.6M646.4 101.3h1.6M651.9 86.1h1.6M647.8 92.8h1.6M654.2 93.2h1.6M645.3 89.7h1.6M641.6 87.9h1.6M617.6 98.8h1.6M635.1 100.3h1.6M660.7 77.9h1.6M643.1 96.9h1.6M651.4 94.7h1.6M639.0 94.0h1.6M633.4 99.6h1.6M666.7 86.8h1.6M646.0 96.9h1.6M659.9 88.3h1.6M648.1 90.6h1.6M638.0 82.8h1.6M614.1 79.2h1.6M642.7 90.9h1.6M622.4 81.7h1.6M614.4 89.4h1.6M656.8 96.6h1.6M650.4 89.1h1.6M649.5 86.8h1.6M642.2 88.2h1.6M641.1 89.0h1.6M646.8 94.7h1.6M643.5 81.8h1.6M642.4 82.1h1.6M650.6 87.1h1.6M611.5 104.1h1.6M652.5 93.1h1.6M633.8 96.0h1.6M652.0 91.9h1.6M655.9 81.3h1.6M631.1 98.0h1.6M651.1 79.9h1.6M650.9 86.3h1.6M632.6 96.9h1.6M634.6 88.0h1.6M642.4 87.8h1.6M613.6 91.0h1.6M635.4 84.8h1.6M643.1 85.5h1.6M635.3 104.6h1.6M621.2 82.7h1.6M636.0 78.8h1.6M659.3 103.4h1.6M657.0 95.6h1.6M639.2 96.6h1.6M630.8 84.3h1.6M640.5 89.3h1.6M640.9 82.2h1.6M632.4 98.2h1.6M636.6 104.4h1.6M648.3 83.5h1.6M652.1 84.5h1.6M610.8 92.9h1.6M652.6 99.6h1.6M642.3 100.7h1.6M654.7 93.6h1.6M640.4 96.4h1.6M646.0 110.1h1.6M660.7 96.0h1.6M604.3 99.9h1.6M660.1 99.1h1.6M643.0 87.4h1.6M618.3 87.0h1.6M608.0 87.1h1.6M644.5 91.5h1.6M628.0 97.5h1.6M652.9 106.4h1.6M643.3 89.1h1.6M639.0 98.7h1.6M652.8 98.3h1.6M643.0 92.8h1.6M649.7 92.7h1.6M650.8 84.5h1.6M644.6 76.3h1.6M650.3 99.1h1.6M650.3 94.4h1.6M623.9 84.0h1.6M637.3 89.2h1.6M639.1 91.3h1.6M636.0 91.9h1.6M621.2 84.7h1.6M633.7 97.8h1.6M644.8 101.7h1.6M643.0 91.5h1.6M659.3 91.5h1.6M633.2 105.4h1.6M635.3 87.1h1.6M633.6 90.4h1.6M636.7 85.8h1.6M633.2 83.7h1.6M617.7 90.8h1.6M644.8 90.3h1.6M652.7 92.3h1.6M654.3 78.2h1.6M627.3 90.9h1.6M638.2 99.6h1.6M663.3 94.2h1.6M639.3 97.3h1.6M644.9 86.7h1.6M638.7 84.3h1.6M652.9 93.7h1.6M652.5 95.9h1.6M669.1 92.2h1.6M646.7 99.3h1.6M646.1 94.4h1.6M625.8 86.5h1.6M635.6 89.7h1.6M632.0 95.5h1.6M636.6 83.2h1.6M624.6 103.6h1.6M655.5 92.2h1.6M627.7 92.1h1.6M643.9 81.4h1.6M625.2 98.9h1.6M644.9 100.7h1.6M660.9 89.9h1.6M630.6 87.3h1.6M645.1 99.2h1.6M639.8 83.3h1.6M644.1 101.0h1.6M645.8 96.6h1.6M632.8 89.5h1.6M638.4 101.1h1.6M633.4 80.7h1.6M630.5 97.7h1.6M625.6 94.6h1.6M652.4 77.5h1.6M631.6 88.7h1.6M648.8 99.4h1.6M647.4 78.3h1.6M628.4 88.2h1.6M653.4 97.0h1.6M630.1 99.5h1.6M648.3 106.8h1.6M658.4 97.2h1.6M631.8 85.0h1.6M629.2 102.3h1.6M629.1 82.2h1.6M668.7 84.9h1.6M636.0 106.6h1.6M625.1 88.9h1.6M650.6 88.1h1.6M638.4 88.3h1.6M640.2 100.9h1.6M628.3 93.4h1.6M613.3 90.8h1.6M631.6 93.9h1.6M627.7 93.1h1.6M620.7 92.5h1.6M627.2 84.7h1.6M628.9 87.7h1.6M650.3 78.6h1.6M649.1 99.8h1.6M646.8 97.2h1.6M633.9 93.4h1.6M625.1 93.5h1.6M644.1 79.9h1.6M646.1 79.3h1.6M652.7 91.3h1.6M640.1 81.2h1.6M638.9 98.8h1.6M644.2 82.7h1.6M629.1 103.4h1.6M630.6 99.2h1.6M648.3 96.8h1.6M625.1 101.3h1.6M639.5 96.3h1.6M650.1 102.5h1.6M643.4 84.1h1.6M645.8 97.1h1.6M626.9 82.5h1.6M639.0 94.1h1.6M637.2 83.7h1.6M647.9 93.7h1.6M645.7 101.9h1.6M641.0 87.2h1.6M663.9 95.0h1.6M647.3 100.8h1.6M637.2 88.1h1.6M633.2 89.1h1.6M640.3 88.4h1.6M633.8 92.1h1.6M660.8 96.9h1.6M647.8 87.5h1.6M637.0 92.2h1.6M632.8 89.7h1.6M627.7 83.6h1.6M637.5 80.3h1.6M656.9 98.4h1.6M651.2 108.0h1.6M640.2 89.5h1.6M642.6 91.0h1.6M618.1 89.7h1.6M650.2 96.3h1.6M638.2 90.4h1.6M657.8 95.0h1.6M638.8 89.8h1.6M635.0 102.5h1.6M643.6 90.9h1.6M633.2 93.1h1.6M657.5 73.8h1.6M644.5 86.5h1.6M645.6 86.4h1.6M645.2 85.2h1.6M636.8 79.7h1.6M647.0 84.4h1.6M643.3 85.4h1.6M662.7 94.7h1.6M641.9 99.9h1.6M645.8 73.9h1.6M635.6 100.1h1.6M636.7 96.0h1.6M637.6 81.7h1.6M657.2 86.3h1.6M642.5 86.6h1.6M653.4 95.3h1.6M638.4 84.1h1.6M637.2 97.2h1.6M618.1 91.3h1.6M651.8 91.0h1.6M666.9 90.5h1.6M638.9 100.3h1.6M659.3 91.9h1.6M652.2 86.6h1.6M633.4 85.3h1.6M651.1 98.3h1.6M630.8 95.5h1.6M638.1 108.4h1.6M656.7 95.4h1.6M643.8 87.1h1.6M627.5 98.4h1.6M659.1 87.2h1.6M628.4 96.6h1.6M639.8 77.4h1.6M637.6 94.8h1.6M639.8 93.2h1.6M631.4 81.8h1.6M621.8 95.7h1.6M664.5 101.7h1.6M630.2 83.5h1.6M631.0 79.2h1.6M612.0 94.4h1.6M642.9 97.1h1.6M657.6 92.9h1.6M658.9 100.0h1.6M660.2 96.4h1.6M646.8 99.2h1.6M642.2 99.8h1.6M659.4 95.6h1.6M641.5 81.4h1.6M644.3 92.8h1.6M630.2 93.9h1.6M643.1 87.1h1.6M666.0 90.6h1.6M641.0 79.5h1.6M646.8 82.8h1.6M612.5 97.6h1.6M658.3 90.8h1.6M646.4 96.1h1.6M659.1 91.4h1.6M644.8 96.2h1.6M631.3 90.8h1.6M625.1 83.0h1.6M647.8 92.4h1.6M641.3 102.0h1.6M629.6 91.5h1.6M640.6 93.2h1.6M633.6 78.6h1.6M650.1 99.5h1.6M636.2 85.3h1.6M626.2 99.0h1.6M640.0 85.3h1.6M634.1 89.7h1.6M658.9 94.2h1.6M635.1 101.0h1.6M624.6 78.5h1.6M639.9 97.5h1.6M637.4 93.5h1.6M643.8 91.4h1.6M643.0 84.0h1.6M627.7 98.1h1.6M639.6 93.3h1.6M639.0 84.6h1.6M625.5 81.2h1.6M633.1 85.7h1.6M642.5 89.4h1.6M620.6 103.3h1.6M626.7 100.0h1.6M634.2 84.2h1.6M638.7 87.4h1.6M646.0 92.5h1.6M623.1 80.4h1.6M643.3 86.6h1.6M647.3 94.7h1.6M658.5 87.4h1.6M634.5 85.3h1.6M628.4 94.8h1.6M620.8 87.1h1.6M646.3 93.7h1.6M655.3 91.1h1.6M631.2 96.5h1.6M645.1 91.4h1.6M650.2 86.1h1.6M651.5 86.7h1.6M635.0 85.3h1.6M647.9 85.6h1.6M639.5 96.8h1.6M628.7 94.4h1.6M643.6 90.9h1.6M644.9 80.8h1.6M628.8 82.5h1.6M646.1 80.0h1.6M665.1 99.3h1.6M622.4 99.6h1.6M649.4 97.2h1.6M652.0 102.3h1.6M641.4 91.1h1.6M644.8 82.0h1.6M637.6 93.7h1.6M657.4 95.5h1.6M629.3 84.6h1.6M639.0 101.3h1.6M616.9 95.7h1.6M644.5 93.3h1.6M645.1 92.9h1.6M620.0 101.8h1.6M629.8 92.6h1.6M646.2 91.4h1.6M634.3 88.9h1.6M625.4 86.2h1.6M609.6 100.6h1.6M644.4 88.6h1.6M663.8 92.2h1.6M634.4 84.3h1.6M645.3 87.7h1.6M645.1 92.8h1.6M638.9 92.3h1.6M641.1 93.9h1.6M641.4 85.9h1.6M629.3 95.4h1.6M670.5 108.4h1.6M643.8 88.4h1.6M661.8 85.0h1.6M629.9 104.5h1.6M637.2 99.3h1.6M653.8 89.9h1.6M625.9 91.8h1.6M624.0 96.5h1.6M644.2 94.5h1.6M615.8 87.6h1.6M661.1 83.6h1.6M649.3 86.3h1.6M643.1 89.6h1.6M648.4 93.7h1.6M629.2 89.4h1.6M628.8 91.0h1.6M650.6 93.8h1.6M651.9 84.9h1.6M642.2 90.7h1.6M639.9 90.8h1.6M633.9 87.2h1.6M657.6 90.0h1.6M622.3 89.9h1.6M630.0 93.3h1.6M633.9 79.1h1.6M621.8 96.6h1.6M624.3 97.9h1.6M628.0 97.2h1.6M653.0 83.8h1.6M662.7 87.4h1.6M644.9 92.0h1.6M620.8 80.5h1.6M633.2 96.1h1.6M638.9 92.8h1.6M637.3 95.4h1.6M636.1 94.2h1.6M646.9 93.6h1.6M616.8 94.2h1.6M633.6 72.7h1.6M643.3 95.0h1.6M649.4 89.2h1.6M644.2 89.8h1.6M640.9 88.5h1.6M639.0 98.3h1.6M632.6 94.2h1.6M641.9 93.0h1.6M638.3 86.2h1.6M632.2 93.3h1.6M655.6 97.9h1.6M655.5 93.9h1.6M636.4 84.1h1.6M648.5 88.7h1.6M655.7 84.2h1.6M644.3 90.3h1.6M642.6 103.2h1.6M647.1 85.3h1.6M620.9 90.4h1.6M623.6 97.7h1.6M647.5 97.1h1.6M644.5 90.8h1.6M657.9 97.3h1.6M635.1 86.9h1.6M654.6 84.1h1.6M654.1 101.9h1.6M665.3 90.2h1.6M631.4 87.1h1.6M636.9 93.3h1.6M644.6 88.7h1.6M644.5 96.3h1.6M629.0 88.5h1.6M634.3 101.6h1.6M625.3 94.9h1.6M669.5 86.5h1.6M640.4 76.0h1.6M641.1 94.5h1.6M633.7 90.6h1.6M641.5 84.6h1.6M650.9 91.1h1.6M637.2 84.9h1.6M640.9 86.1h1.6M667.8 100.2h1.6M652.5 91.4h1.6M644.1 82.7h1.6M636.1 86.5h1.6M641.0 79.4h1.6M632.1 87.8h1.6M644.5 87.6h1.6M633.0 90.9h1.6M632.3 93.1h1.6M636.1 92.7h1.6M628.0 93.9h1.6M643.4 92.5h1.6M671.7 91.5h1.6M633.3 90.3h1.6M620.6 82.1h1.6M652.5 86.4h1.6M639.5 84.6h1.6M664.9 107.9h1.6M645.3 93.7h1.6M651.9 98.6h1.6M631.1 102.4h1.6M621.0 98.5h1.6M638.2 89.6h1.6M648.5 103.4h1.6M629.8 102.3h1.6M620.8 89.7h1.6M632.9 86.7h1.6M634.7 93.3h1.6M636.1 88.8h1.6M639.7 89.0h1.6M669.2 85.2h1.6M640.3 97.9h1.6M633.9 100.7h1.6M626.7 78.6h1.6M649.7 92.8h1.6M620.6 85.1h1.6M657.5 97.7h1.6M639.8 95.7h1.6M621.5 98.6h1.6M642.1 83.4h1.6M638.4 105.9h1.6M654.7 101.6h1.6M621.5 98.4h1.6M642.2 86.0h1.6M639.5 101.1h1.6M650.9 99.8h1.6M625.9 97.8h1.6M630.2 91.2h1.6M663.7 101.3h1.6M646.5 99.2h1.6M621.7 101.4h1.6M643.7 99.1h1.6M630.1 82.8h1.6M631.3 91.9h1.6M624.8 95.6h1.6M651.7 92.0h1.6M633.1 103.7h1.6M642.1 106.2h1.6M640.6 92.9h1.6M621.1 95.5h1.6M630.6 98.7h1.6M649.0 106.4h1.6M620.5 95.5h1.6M642.7 88.1h1.6M638.4 99.2h1.6M647.5 84.8h1.6M648.0 89.2h1.6M649.7 99.2h1.6M640.4 87.6h1.6M642.8 88.6h1.6M631.1 93.5h1.6M633.1 91.0h1.6M650.7 99.8h1.6M632.5 89.4h1.6M652.3 78.3h1.6M652.0 94.4h1.6M630.0 98.1h1.6M646.6 101.0h1.6M629.9 83.7h1.6M644.0 88.8h1.6M630.3 93.2h1.6M643.9 90.8h1.6M641.9 99.7h1.6M627.1 96.8h1.6M664.9 94.2h1.6M651.6 91.1h1.6M620.4 87.1h1.6M644.2 88.3h1.6M634.7 103.5h1.6M665.0 86.0h1.6M639.3 88.1h1.6M644.8 95.3h1.6M637.8 92.3h1.6M647.7 88.6h1.6M633.5 81.4h1.6M629.1 87.5h1.6M634.0 85.9h1.6M634.9 86.7h1.6M647.7 88.6h1.6M641.2 96.0h1.6M634.7 87.6h1.6M635.1 96.6h1.6M628.9 88.2h1.6M641.7 84.9h1.6M615.3 79.8h1.6M637.4 88.8h1.6M654.6 94.4h1.6M635.7 88.9h1.6M632.1 86.9h1.6M640.7 85.1h1.6M628.8 90.2h1.6M630.9 90.7h1.6M648.5 92.0h1.6M632.4 93.1h1.6M664.1 100.1h1.6M646.8 81.8h1.6M638.9 84.7h1.6M632.6 100.1h1.6M637.0 91.7h1.6M612.5 97.4h1.6M643.2 86.8h1.6M651.0 96.9h1.6M647.2 95.3h1.6M634.9 94.3h1.6M647.7 90.0h1.6M648.0 97.8h1.6M638.6 90.0h1.6M644.5 89.3h1.6M652.9 77.7h1.6M645.8 94.5h1.6M635.6 90.8h1.6M640.4 92.4h1.6M642.1 99.9h1.6M620.6 95.6h1.6M641.8 86.5h1.6M638.7 85.7h1.6M613.8 104.0h1.6M619.3 88.3h1.6M662.2 85.2h1.6M641.5 82.3h1.6M656.7 76.5h1.6M635.7 80.1h1.6M659.0 80.2h1.6M647.2 102.8h1.6M631.9 96.1h1.6M643.7 90.4h1.6M659.5 95.3h1.6M669.5 87.2h1.6M646.6 97.0h1.6M634.9 101.6h1.6M629.8 95.7h1.6M648.8 100.9h1.6M653.8 105.8h1.6M642.2 89.9h1.6M639.1 95.1h1.6M650.5 95.8h1.6M646.5 98.8h1.6M645.3 86.9h1.6M621.9 91.8h1.6M636.5 94.1h1.6M663.7 97.4h1.6M640.4 89.5h1.6M670.3 90.4h1.6M645.3 84.3h1.6M637.1 97.9h1.6M644.1 85.9h1.6M648.0 92.9h1.6M631.8 90.7h1.6M643.6 94.7h1.6M635.5 82.4h1.6M658.4 88.1h1.6M635.1 97.9h1.6M642.1 92.8h1.6M622.3 93.7h1.6M623.9 108.4h1.6M639.5 89.4h1.6M629.4 89.5h1.6M637.0 94.6h1.6M643.5 84.2h1.6M647.5 87.4h1.6M623.4 93.8h1.6M638.3 92.7h1.6M648.7 81.5h1.6M632.3 99.5h1.6M624.7 77.5h1.6M632.1 90.0h1.6M660.5 81.9h1.6M640.8 99.4h1.6M659.7 93.8h1.6M636.9 95.1h1.6M655.2 98.5h1.6M622.9 76.1h1.6M637.5 87.2h1.6M641.7 90.6h1.6M662.1 90.2h1.6M646.4 79.0h1.6M654.3 79.2h1.6M635.5 86.6h1.6M635.5 86.3h1.6M656.2 97.8h1.6M658.1 87.4h1.6M655.7 85.0h1.6M655.4 92.0h1.6M634.3 105.8h1.6M667.1 98.6h1.6M642.8 93.6h1.6M656.2 90.1h1.6M649.9 98.5h1.6M619.2 86.5h1.6M616.9 100.1h1.6M621.1 76.4h1.6M640.1 87.6h1.6M654.4 84.0h1.6M637.7 93.3h1.6M651.0 90.4h1.6M625.6 102.4h1.6M633.1 98.0h1.6M629.7 91.3h1.6M641.1 93.5h1.6M626.6 93.4h1.6M639.4 89.8h1.6M647.9 87.2h1.6M635.0 99.7h1.6M629.7 85.8h1.6M635.1 81.4h1.6M625.7 100.4h1.6M628.0 104.4h1.6M650.5 87.8h1.6M644.8 97.8h1.6M623.0 89.9h1.6M637.2 91.4h1.6M646.2 92.6h1.6M650.5 91.7h1.6M648.5 84.7h1.6M652.7 93.7h1.6M640.2 84.4h1.6M640.5 93.4h1.6M637.7 95.7h1.6M654.1 78.8h1.6M651.2 93.7h1.6M662.5 91.2h1.6M654.4 93.3h1.6M630.7 95.7h1.6M622.6 95.7h1.6M623.6 86.4h1.6M629.7 91.7h1.6M648.2 79.8h1.6M623.5 85.2h1.6M615.8 91.5h1.6M638.4 98.6h1.6M650.5 96.6h1.6M650.1 91.7h1.6M661.0 91.5h1.6M640.1 93.2h1.6M633.7 95.1h1.6M636.7 82.5h1.6M624.1 95.4h1.6M632.2 98.9h1.6M656.2 86.4h1.6M666.1 86.8h1.6M656.0 97.9h1.6M644.0 89.6h1.6M637.4 85.9h1.6M643.3 101.0h1.6M617.1 95.8h1.6M647.4 95.4h1.6M649.9 90.4h1.6M638.6 93.6h1.6M640.5 88.3h1.6M619.4 94.3h1.6M649.9 102.9h1.6M649.9 93.6h1.6M606.3 95.4h1.6M633.1 80.7h1.6M644.5 81.7h1.6M660.7 84.4h1.6M629.6 100.3h1.6M639.7 91.4h1.6M658.3 92.4h1.6M646.1 88.5h1.6M637.6 89.3h1.6M634.8 95.5h1.6M640.7 87.5h1.6M630.5 93.3h1.6M652.8 85.9h1.6M629.7 89.7h1.6M647.4 87.7h1.6M651.9 71.5h1.6M655.4 91.0h1.6M642.2 83.8h1.6M641.1 98.0h1.6M645.2 81.1h1.6M642.3 91.9h1.6M654.8 100.8h1.6M640.1 80.2h1.6M665.1 96.9h1.6M633.6 81.0h1.6M646.5 92.7h1.6M627.3 100.1h1.6M650.7 93.1h1.6M646.6 78.4h1.6M638.8 87.1h1.6M628.6 90.4h1.6M641.7 88.4h1.6M666.1 86.9h1.6M661.1 86.2h1.6M646.1 83.3h1.6M633.8 87.3h1.6M641.0 83.7h1.6M631.4 98.9h1.6M624.6 98.6h1.6M629.5 92.1h1.6M648.7 96.2h1.6M644.9 90.7h1.6M643.3 87.1h1.6M627.5 92.0h1.6M623.8 90.3h1.6M653.5 86.2h1.6M636.6 90.6h1.6M655.6 91.8h1.6M631.9 87.8h1.6M653.0 99.4h1.6M644.0 84.2h1.6M635.7 100.6h1.6M635.7 91.3h1.6M664.6 93.5h1.6M652.5 97.3h1.6M637.8 91.7h1.6M643.1 85.2h1.6M621.9 88.8h1.6M662.2 89.1h1.6M658.2 92.5h1.6M636.0 79.1h1.6M646.7 91.6h1.6M607.0 89.5h1.6M653.0 90.1h1.6M646.8 80.5h1.6M644.2 82.3h1.6M651.1 91.2h1.6M644.6 82.3h1.6M628.9 83.0h1.6M632.3 93.7h1.6M638.6 87.0h1.6M651.8 96.4h1.6M641.0 93.5h1.6M632.4 105.0h1.6M645.1 98.9h1.6M625.5 92.0h1.6M666.2 84.0h1.6M644.3 80.0h1.6M628.5 94.9h1.6M642.6 82.0h1.6M653.8 86.0h1.6M647.2 106.3h1.6M665.6 85.8h1.6M623.1 99.5h1.6M660.2 99.3h1.6M640.2 87.3h1.6M651.4 96.2h1.6M661.7 97.7h1.6M625.8 69.2h1.6M623.2 94.7h1.6M635.8 101.2h1.6M620.1 89.5h1.6M615.8 91.4h1.6M641.6 86.8h1.6M654.9 77.7h1.6M634.7 107.3h1.6M646.8 102.4h1.6M644.8 80.9h1.6M636.9 83.8h1.6M638.7 91.5h1.6M646.0 93.6h1.6M637.2 84.2h1.6M649.2 74.9h1.6M643.4 81.1h1.6M652.0 94.3h1.6M642.6 98.0h1.6M639.7 86.2h1.6M629.3 99.7h1.6M623.7 94.8h1.6M637.2 101.0h1.6M636.0 87.7h1.6M644.2 85.7h1.6M639.8 83.1h1.6M635.9 95.5h1.6M668.6 88.1h1.6M644.7 80.5h1.6M655.7 88.9h1.6M628.1 79.4h1.6M653.2 90.1h1.6M655.2 95.4h1.6M646.3 79.3h1.6M629.8 96.5h1.6M656.2 85.5h1.6M631.9 89.8h1.6M621.6 93.4h1.6M620.8 92.2h1.6M641.5 83.2h1.6M634.7 90.5h1.6M650.6 92.0h1.6M649.0 104.0h1.6M657.6 97.2h1.6M644.9 100.7h1.6M642.1 93.3h1.6M640.8 85.1h1.6M631.0 83.6h1.6M630.5 87.9h1.6M631.7 99.5h1.6M643.6 88.4h1.6M630.2 81.5h1.6M639.6 100.1h1.6M654.0 92.4h1.6M611.2 85.4h1.6M629.8 99.1h1.6M628.3 76.9h1.6M640.4 94.5h1.6M622.1 88.5h1.6M632.2 91.9h1.6M668.6 95.3h1.6M623.6 85.2h1.6M639.3 95.3h1.6M642.9 96.3h1.6M636.7 88.3h1.6M625.5 95.3h1.6M652.6 88.1h1.6M616.7 82.4h1.6M628.3 103.2h1.6M637.4 99.5h1.6M632.3 80.7h1.6M654.5 110.0h1.6M636.1 89.4h1.6M663.3 99.8h1.6M639.7 91.8h1.6M658.7 92.2h1.6M644.9 93.8h1.6M636.6 89.2h1.6M636.1 94.6h1.6M652.2 91.6h1.6M632.8 84.5h1.6M639.1 74.6h1.6M629.7 79.9h1.6M614.3 80.4h1.6M646.1 93.5h1.6M647.3 101.5h1.6M624.6 87.9h1.6M645.3 77.7h1.6M636.4 91.1h1.6M616.0 94.4h1.6M627.9 89.4h1.6M647.6 88.2h1.6M652.2 98.6h1.6M644.3 93.1h1.6M643.9 86.4h1.6M630.4 96.9h1.6M621.5 96.6h1.6M658.1 107.6h1.6M633.9 91.3h1.6M635.1 89.8h1.6M629.7 89.8h1.6M629.7 86.5h1.6M635.3 94.9h1.6M645.6 96.3h1.6M646.7 101.2h1.6M644.3 91.0h1.6M651.7 82.0h1.6M634.1 83.9h1.6M627.6 96.3h1.6M639.5 81.7h1.6M614.9 94.3h1.6M650.8 96.8h1.6M646.6 88.1h1.6M646.9 97.7h1.6M627.0 99.7h1.6M634.3 94.6h1.6M640.7 98.0h1.6M627.9 100.4h1.6M627.0 81.3h1.6M637.8 74.5h1.6M642.2 81.0h1.6M632.2 92.6h1.6M653.1 100.3h1.6M667.7 95.1h1.6M647.6 90.1h1.6M638.2 90.5h1.6M636.5 82.6h1.6M660.3 84.4h1.6M644.2 88.8h1.6M648.0 89.6h1.6M643.3 95.2h1.6M633.5 86.6h1.6M659.1 85.5h1.6M637.5 90.6h1.6M642.4 84.0h1.6M614.1 91.1h1.6M667.1 95.5h1.6M649.8 82.8h1.6M639.3 96.7h1.6M630.7 72.7h1.6M632.9 89.9h1.6M619.5 79.7h1.6M646.2 93.6h1.6M629.7 101.4h1.6M645.7 86.0h1.6M646.0 89.5h1.6M664.1 96.8h1.6M643.1 88.1h1.6M644.1 87.1h1.6M646.7 86.3h1.6M632.9 85.4h1.6M637.6 98.6h1.6M644.6 97.4h1.6M654.9 95.2h1.6M649.9 80.8h1.6M637.5 102.6h1.6M655.8 86.1h1.6M636.2 89.9h1.6M622.2 87.8h1.6M660.2 100.0h1.6M641.3 85.1h1.6M635.4 100.5h1.6M626.3 100.2h1.6M635.8 80.0h1.6M661.9 88.7h1.6M640.6 97.1h1.6M668.7 86.2h1.6M641.7 99.3h1.6M655.4 79.9h1.6M641.9 92.4h1.6M635.9 100.4h1.6M636.3 91.5h1.6M638.2 100.3h1.6M626.7 83.7h1.6M626.3 94.2h1.6M646.0 82.6h1.6M656.9 85.0h1.6M643.5 78.7h1.6M642.2 82.7h1.6M630.4 81.2h1.6M655.6 89.7h1.6M654.6 94.8h1.6M627.4 81.3h1.6M642.6 98.3h1.6M637.6 88.5h1.6M623.3 88.2h1.6M661.5 89.9h1.6M656.3 81.5h1.6M645.7 84.3h1.6M659.1 94.7h1.6M635.5 84.2h1.6M645.2 92.6h1.6M658.4 104.2h1.6M638.1 95.8h1.6M645.5 89.2h1.6M629.9 92.2h1.6M649.7 87.3h1.6M656.0 91.8h1.6M629.7 90.3h1.6M632.0 88.7h1.6M640.8 86.5h1.6M658.8 90.2h1.6M635.3 104.2h1.6M631.3 85.1h1.6M640.1 94.6h1.6M655.4 103.3h1.6M622.6 86.4h1.6M639.3 96.8h1.6M657.4 96.2h1.6M640.9 85.9h1.6M637.8 97.2h1.6M651.8 92.8h1.6M626.4 94.1h1.6M666.4 88.0h1.6M647.1 74.6h1.6M636.4 99.9h1.6M642.1 97.4h1.6M640.2 93.3h1.6M637.4 107.6h1.6M625.9 95.7h1.6M637.9 100.2h1.6M619.8 92.7h1.6M657.7 84.4h1.6M627.0 86.7h1.6M631.7 95.7h1.6M630.9 95.0h1.6M649.5 97.5h1.6M638.2 84.5h1.6M658.2 91.4h1.6M635.0 86.8h1.6M642.5 82.9h1.6M639.8 98.8h1.6M636.4 97.1h1.6M654.3 101.1h1.6M655.7 78.0h1.6M656.7 90.4h1.6M623.7 77.9h1.6M644.9 90.7h1.6M626.8 86.5h1.6M626.5 78.9h1.6M618.5 80.4h1.6M629.0 93.7h1.6M647.9 96.6h1.6M657.7 82.6h1.6M661.9 78.9h1.6M629.5 92.5h1.6M633.0 79.6h1.6M643.5 102.6h1.6M642.4 100.3h1.6M643.3 102.2h1.6M619.1 100.0h1.6M638.3 86.1h1.6M647.7 91.5h1.6M643.8 87.3h1.6M639.1 89.1h1.6M631.7 100.9h1.6M639.4 85.4h1.6M660.2 98.2h1.6M646.7 86.2h1.6M653.5 92.5h1.6M660.9 93.2h1.6M627.2 92.0h1.6M648.7 86.9h1.6M646.2 88.1h1.6M656.8 98.0h1.6M637.5 78.9h1.6M637.8 99.4h1.6M632.4 106.9h1.6M642.6 89.1h1.6M636.9 105.7h1.6M638.5 91.5h1.6M644.4 74.2h1.6M635.6 87.4h1.6M628.9 77.0h1.6M635.2 98.8h1.6M633.5 94.9h1.6M645.5 93.9h1.6M655.5 96.8h1.6M636.0 95.0h1.6M610.2 100.0h1.6M647.3 87.4h1.6M639.4 79.9h1.6M628.6 91.6h1.6M637.1 80.2h1.6M662.9 90.8h1.6M621.9 102.9h1.6M625.9 99.3h1.6M639.4 87.5h1.6M602.0 90.6h1.6M634.5 87.6h1.6M652.0 85.1h1.6M646.7 98.1h1.6M644.7 92.8h1.6M636.0 92.2h1.6M638.1 94.2h1.6M643.0 91.5h1.6M656.6 101.4h1.6M624.7 84.4h1.6M643.1 86.5h1.6M644.5 86.2h1.6M642.0 80.4h1.6M613.5 80.7h1.6M634.9 71.3h1.6M657.9 98.1h1.6M646.9 75.1h1.6M630.5 94.8h1.6M650.8 87.8h1.6M617.1 98.3h1.6M647.2 70.7h1.6M644.3 87.6h1.6M632.6 94.7h1.6M627.6 100.8h1.6M619.7 87.8h1.6M637.4 88.6h1.6M661.3 91.2h1.6M650.6 92.8h1.6M645.1 87.1h1.6M651.4 91.5h1.6M632.8 78.2h1.6M646.5 106.2h1.6M604.4 93.2h1.6M634.0 86.8h1.6M634.1 100.8h1.6M639.2 96.3h1.6M637.9 71.1h1.6M647.2 90.3h1.6M632.3 96.7h1.6M651.2 95.7h1.6M636.9 90.3h1.6M650.6 108.7h1.6M641.3 82.2h1.6M650.3 103.2h1.6M645.5 86.4h1.6M632.4 91.1h1.6M642.1 78.8h1.6M623.8 90.9h1.6M640.4 105.3h1.6M644.4 93.0h1.6M636.4 78.1h1.6M637.7 90.3h1.6M651.8 91.4h1.6M654.5 90.6h1.6M657.1 71.4h1.6M632.8 93.9h1.6M634.5 77.8h1.6M649.4 98.5h1.6M650.7 98.6h1.6M617.5 84.5h1.6M663.9 82.4h1.6M653.9 86.5h1.6M624.6 94.8h1.6M654.0 94.5h1.6M634.8 93.4h1.6M638.4 102.2h1.6M627.9 96.2h1.6M629.9 93.4h1.6M635.2 100.7h1.6M641.1 96.6h1.6M626.4 102.9h1.6M639.2 83.0h1.6M631.3 91.8h1.6M633.6 90.1h1.6M629.2 96.8h1.6M632.4 88.2h1.6M659.6 90.4h1.6M620.2 83.2h1.6M623.9 83.6h1.6M639.2 100.8h1.6M633.9 78.2h1.6M627.1 82.2h1.6M645.0 101.4h1.6M625.7 92.6h1.6M639.9 77.5h1.6M651.6 94.5h1.6M646.9 77.1h1.6M636.4 103.9h1.6M640.0 95.1h1.6M642.1 90.5h1.6M647.3 92.1h1.6M628.3 87.6h1.6M655.5 88.2h1.6M649.2 104.9h1.6M662.7 92.9h1.6M650.2 90.9h1.6M652.5 85.9h1.6M603.9 83.1h1.6M634.5 85.6h1.6M662.7 98.3h1.6M644.7 95.3h1.6M634.4 99.3h1.6M648.5 76.1h1.6M641.0 78.9h1.6M644.9 85.1h1.6M631.1 96.4h1.6M646.4 82.3h1.6M658.5 86.4h1.6M642.9 87.1h1.6M645.4 97.0h1.6M631.4 86.0h1.6M645.9 85.0h1.6M635.0 90.6h1.6M623.3 91.2h1.6M634.8 88.2h1.6M637.1 84.0h1.6M646.8 95.4h1.6M651.6 86.7h1.6M637.5 87.7h1.6M635.5 87.1h1.6M647.7 96.3h1.6M628.8 95.9h1.6M635.8 92.0h1.6M637.0 87.2h1.6M637.9 89.5h1.6M632.6 88.0h1.6M659.8 89.6h1.6M651.6 98.9h1.6M637.8 91.7h1.6M622.3 91.9h1.6M633.7 95.2h1.6M647.1 94.2h1.6M616.0 90.4h1.6M670.4 98.3h1.6M639.0 86.6h1.6M639.3 75.5h1.6M647.7 92.7h1.6M622.4 94.4h1.6M640.7 85.3h1.6M639.9 93.5h1.6M648.7 91.8h1.6M627.6 100.2h1.6M647.6 88.7h1.6M654.6 102.3h1.6M643.6 80.9h1.6M633.3 82.2h1.6M629.6 86.3h1.6M618.2 81.1h1.6M633.0 94.3h1.6M646.2 84.7h1.6M658.4 92.2h1.6M652.7 101.9h1.6M654.7 98.9h1.6M634.2 96.3h1.6M634.7 104.1h1.6M621.2 82.6h1.6M631.8 91.2h1.6M626.1 103.8h1.6M636.9 86.6h1.6M648.3 85.2h1.6M638.6 82.9h1.6M636.0 104.7h1.6M648.5 88.6h1.6M658.6 91.4h1.6M653.3 93.6h1.6M619.2 92.8h1.6M661.4 89.6h1.6M634.6 92.5h1.6M622.4 99.9h1.6M635.7 90.9h1.6M652.3 90.0h1.6M607.4 94.2h1.6M656.1 97.7h1.6M642.8 94.7h1.6M647.0 91.8h1.6M623.3 93.2h1.6M633.3 95.5h1.6M626.1 99.4h1.6M654.5 97.2h1.6M630.6 94.2h1.6M644.7 93.1h1.6M632.0 98.4h1.6M619.7 91.9h1.6M650.9 93.9h1.6M654.7 99.7h1.6M658.6 92.3h1.6M633.3 78.6h1.6M640.7 86.0h1.6M648.6 90.2h1.6M644.2 84.4h1.6M642.7 85.8h1.6M668.8 85.8h1.6M634.9 81.3h1.6M650.9 91.3h1.6M633.5 98.0h1.6M657.5 80.2h1.6M636.9 92.1h1.6M628.0 85.7h1.6M649.3 100.8h1.6M640.7 91.9h1.6M635.4 98.7h1.6M637.4 95.4h1.6M632.5 100.9h1.6M646.5 94.4h1.6M644.2 88.7h1.6M660.6 80.8h1.6M631.8 95.7h1.6M657.7 86.7h1.6M646.9 88.8h1.6M622.8 89.5h1.6M658.6 99.1h1.6M618.4 87.2h1.6M646.4 89.7h1.6M617.3 94.3h1.6M643.6 101.4h1.6M635.6 85.1h1.6M636.9 85.3h1.6M616.7 95.5h1.6M630.9 95.9h1.6M654.9 106.1h1.6M648.1 90.3h1.6M639.7 84.8h1.6M638.9 84.1h1.6M632.6 92.2h1.6M658.4 92.6h1.6M640.3 98.8h1.6M654.1 99.0h1.6M622.5 102.5h1.6M621.8 87.0h1.6M657.7 99.0h1.6M630.1 91.8h1.6M638.6 81.4h1.6M646.9 96.0h1.6M652.4 95.7h1.6M648.9 92.6h1.6M648.0 93.9h1.6M661.2 102.3h1.6M644.4 81.4h1.6M652.4 86.0h1.6M641.8 91.8h1.6M643.2 98.6h1.6M664.6 93.5h1.6M638.1 92.2h1.6M610.0 90.5h1.6M642.2 77.5h1.6M643.6 89.4h1.6M663.8 92.0h1.6M636.6 89.4h1.6M626.9 88.3h1.6M642.7 95.2h1.6M663.9 94.9h1.6M636.8 97.2h1.6M656.7 85.2h1.6M647.2 106.6h1.6M649.0 93.3h1.6M630.6 91.3h1.6M641.8 85.7h1.6M630.8 100.4h1.6M640.8 100.8h1.6M632.1 94.2h1.6M654.3 93.1h1.6M634.0 82.0h1.6M637.6 93.1h1.6M612.9 84.1h1.6M628.2 92.0h1.6M670.5 88.7h1.6M635.4 82.3h1.6M620.3 90.6h1.6M639.9 100.4h1.6M637.2 88.8h1.6M633.8 99.5h1.6M636.3 95.0h1.6M634.2 86.8h1.6M651.5 101.9h1.6M625.2 94.2h1.6M642.7 96.6h1.6M650.4 95.8h1.6M629.0 97.7h1.6M668.0 89.7h1.6M640.7 75.5h1.6M638.7 93.1h1.6M633.1 95.1h1.6M649.7 94.3h1.6M620.3 93.8h1.6M647.2 97.5h1.6M667.3 80.7h1.6M644.3 91.5h1.6M650.5 95.7h1.6M628.9 88.5h1.6M650.0 95.7h1.6M630.8 86.2h1.6M635.0 99.5h1.6M640.5 101.5h1.6M664.1 91.1h1.6M633.3 82.4h1.6M616.6 103.8h1.6M642.2 111.6h1.6M650.3 93.5h1.6M648.9 86.2h1.6M643.6 85.7h1.6M657.8 96.4h1.6M651.9 98.4h1.6M651.4 92.6h1.6M635.8 94.8h1.6M623.0 95.0h1.6M661.1 89.4h1.6M630.4 90.2h1.6M657.0 93.5h1.6M655.7 93.6h1.6M626.8 89.7h1.6M633.3 91.6h1.6M646.5 103.6h1.6M653.3 86.0h1.6M629.5 98.3h1.6M637.7 74.2h1.6M628.6 92.5h1.6M626.2 98.9h1.6M642.4 83.6h1.6M635.3 93.4h1.6M616.1 97.4h1.6M646.1 88.8h1.6M636.3 95.8h1.6M636.2 82.7h1.6M624.6 87.2h1.6M649.9 77.2h1.6M644.8 95.4h1.6M644.7 94.7h1.6M640.2 98.9h1.6M645.4 100.6h1.6M660.6 103.4h1.6M643.2 100.4h1.6M643.9 84.9h1.6M635.4 83.9h1.6M649.2 87.7h1.6M638.1 96.6h1.6M632.1 99.1h1.6M655.0 90.4h1.6M639.0 92.0h1.6M630.3 94.8h1.6M632.3 92.6h1.6M634.5 101.4h1.6M627.7 103.6h1.6M658.9 97.5h1.6M648.3 103.8h1.6M624.2 112.5h1.6M655.5 92.9h1.6M636.5 93.0h1.6M644.2 100.6h1.6M636.3 91.3h1.6M646.2 90.0h1.6M645.8 82.4h1.6M650.4 90.7h1.6M651.2 97.0h1.6M609.2 97.6h1.6M634.5 88.6h1.6M640.2 100.0h1.6M637.9 92.1h1.6M622.4 103.6h1.6M635.6 93.0h1.6M637.8 91.1h1.6M614.8 89.5h1.6M629.2 95.5h1.6M648.7 90.7h1.6M630.5 98.3h1.6M637.4 99.0h1.6M639.6 85.1h1.6M645.8 91.2h1.6M648.6 95.0h1.6M652.7 94.4h1.6M641.2 89.7h1.6M642.3 91.2h1.6M638.2 100.0h1.6M642.5 82.2h1.6M638.6 93.2h1.6M649.3 80.2h1.6M648.8 83.0h1.6M623.2 92.0h1.6M612.3 87.3h1.6M645.5 103.8h1.6M633.7 92.0h1.6M621.1 89.7h1.6M651.8 82.8h1.6M658.6 93.7h1.6M626.1 78.2h1.6M628.4 93.6h1.6M631.7 84.8h1.6M630.2 82.0h1.6M638.5 92.8h1.6M626.1 81.5h1.6M639.7 87.5h1.6M635.0 83.8h1.6M652.7 97.3h1.6M638.6 97.5h1.6M650.8 79.9h1.6M658.3 81.3h1.6M646.3 82.3h1.6M647.8 89.1h1.6M633.8 87.3h1.6M640.0 92.9h1.6M667.9 93.6h1.6M656.7 95.8h1.6M640.3 97.2h1.6M634.9 90.6h1.6M637.9 90.5h1.6M653.2 96.3h1.6M614.5 94.8h1.6M642.9 79.2h1.6M623.5 87.3h1.6M657.3 87.5h1.6M622.1 79.4h1.6M651.0 90.8h1.6M636.2 86.5h1.6M640.0 76.7h1.6M660.2 93.1h1.6M639.7 91.6h1.6M648.2 80.8h1.6M644.6 94.0h1.6M625.6 79.0h1.6M639.4 97.5h1.6M651.9 93.8h1.6M644.2 84.4h1.6M642.3 93.7h1.6M631.1 91.4h1.6M659.1 80.2h1.6M633.1 97.8h1.6M662.2 89.2h1.6M642.4 90.1h1.6M648.7 89.5h1.6M622.6 77.7h1.6M641.4 100.5h1.6M628.4 91.3h1.6M641.1 99.7h1.6M655.0 81.9h1.6M644.5 89.3h1.6M643.3 88.6h1.6M652.2 91.8h1.6M625.5 101.2h1.6M641.6 98.6h1.6M632.8 86.5h1.6M653.9 91.0h1.6M631.7 88.5h1.6M660.4 90.3h1.6M665.6 100.0h1.6M614.4 88.1h1.6M638.6 89.9h1.6M620.9 78.1h1.6M655.9 81.8h1.6M629.9 87.5h1.6M648.4 91.7h1.6M644.6 99.5h1.6M629.2 86.4h1.6M621.8 91.5h1.6M654.5 92.3h1.6M633.3 92.8h1.6M644.0 93.5h1.6M658.3 92.6h1.6M640.3 89.7h1.6M637.0 99.5h1.6M628.1 80.5h1.6M646.5 92.2h1.6M630.6 97.3h1.6M619.8 90.5h1.6M633.4 93.0h1.6M632.9 87.7h1.6M620.5 93.0h1.6M637.6 90.5h1.6M650.7 93.6h1.6M647.7 85.7h1.6M665.7 95.8h1.6M654.7 96.6h1.6M643.9 92.4h1.6M615.5 87.8h1.6M643.5 102.0h1.6M655.9 100.0h1.6M637.4 92.4h1.6M658.6 82.5h1.6M629.4 84.4h1.6M644.1 93.1h1.6M651.2 102.3h1.6M662.0 77.9h1.6M640.3 101.4h1.6M665.2 89.2h1.6M636.4 100.4h1.6M618.6 96.3h1.6M639.5 87.5h1.6M658.1 96.4h1.6M636.6 94.2h1.6M661.4 94.1h1.6M638.3 93.5h1.6M664.6 77.2h1.6M613.2 94.2h1.6M669.5 98.4h1.6M615.2 82.6h1.6M640.0 105.4h1.6M625.9 88.3h1.6M644.8 81.4h1.6M638.0 83.8h1.6M637.0 87.5h1.6M648.7 96.6h1.6M652.9 86.6h1.6M636.6 98.5h1.6M656.3 97.6h1.6M618.9 75.4h1.6M627.3 81.2h1.6M623.5 79.3h1.6M646.8 98.2h1.6M652.2 90.9h1.6M635.3 88.9h1.6M632.6 96.1h1.6M625.5 82.2h1.6M649.2 93.3h1.6M655.1 93.3h1.6M633.6 81.7h1.6M638.3 77.5h1.6M635.5 98.5h1.6M640.3 103.0h1.6M646.4 95.0h1.6M612.6 86.0h1.6M633.8 86.9h1.6M650.9 90.8h1.6M629.1 95.0h1.6M656.7 94.7h1.6M658.5 100.4h1.6M628.7 85.8h1.6M630.7 87.2h1.6M657.3 93.2h1.6M619.9 75.0h1.6M627.4 87.6h1.6M620.1 88.1h1.6M641.0 101.4h1.6M645.2 81.8h1.6M646.9 111.1h1.6M644.3 87.2h1.6M623.0 86.4h1.6M655.6 95.7h1.6M639.9 105.8h1.6M635.7 88.8h1.6M662.4 84.5h1.6M642.2 99.5h1.6M645.1 84.8h1.6M651.3 82.2h1.6M666.2 80.3h1.6M640.5 82.0h1.6M649.4 104.3h1.6M611.0 83.7h1.6M628.2 97.0h1.6M666.7 88.4h1.6M665.8 92.0h1.6M638.6 79.9h1.6M629.2 89.4h1.6M623.2 84.2h1.6M625.3 87.3h1.6M633.2 86.1h1.6M618.6 85.1h1.6M639.1 89.4h1.6M638.3 97.4h1.6M624.8 88.0h1.6M624.0 93.5h1.6M625.6 91.3h1.6M634.3 89.5h1.6M637.7 89.5h1.6M647.7 90.8h1.6M618.3 69.1h1.6M636.0 71.8h1.6M640.9 81.6h1.6M644.5 98.9h1.6M651.3 103.3h1.6M635.3 95.1h1.6M656.2 94.0h1.6M669.5 90.6h1.6M646.2 94.1h1.6M660.3 85.5h1.6M653.0 87.8h1.6M646.4 91.3h1.6M638.1 82.3h1.6M644.0 83.0h1.6M666.8 89.7h1.6M641.8 95.0h1.6M631.1 83.5h1.6M634.6 79.1h1.6M650.8 92.6h1.6M632.9 93.6h1.6M652.5 97.2h1.6M650.2 100.7h1.6M643.9 100.8h1.6M662.0 88.7h1.6M624.6 90.3h1.6M634.1 99.0h1.6M638.9 90.2h1.6M646.0 90.4h1.6M624.0 95.9h1.6M633.8 86.0h1.6M657.4 85.7h1.6M635.9 88.6h1.6M652.5 80.5h1.6M637.8 89.7h1.6M631.3 90.2h1.6M647.2 95.3h1.6M657.2 88.3h1.6M640.0 86.6h1.6M624.1 89.9h1.6M630.8 90.2h1.6M634.9 95.8h1.6M637.2 85.3h1.6M628.6 92.9h1.6M649.1 89.5h1.6M627.1 104.8h1.6M652.8 90.5h1.6M627.1 96.6h1.6M628.1 95.1h1.6M654.6 94.8h1.6M649.3 99.2h1.6M636.1 102.3h1.6M632.8 84.9h1.6M637.5 89.5h1.6M640.9 94.3h1.6M643.5 88.7h1.6M653.5 92.1h1.6M629.9 97.0h1.6M640.4 90.3h1.6M641.2 84.1h1.6M623.2 82.4h1.6M655.0 93.1h1.6M661.4 80.7h1.6M640.2 102.2h1.6M618.2 87.1h1.6M630.0 81.2h1.6M652.0 82.5h1.6M614.6 86.2h1.6M615.0 106.3h1.6M633.7 95.3h1.6M645.9 98.4h1.6M650.5 90.0h1.6M652.8 83.4h1.6M610.2 88.8h1.6M632.6 96.6h1.6M627.7 106.9h1.6M627.6 75.7h1.6M649.7 88.2h1.6M645.2 107.6h1.6M630.7 105.6h1.6M642.8 91.2h1.6M642.6 97.8h1.6M655.9 90.2h1.6M633.1 95.1h1.6M647.9 85.7h1.6M631.1 85.9h1.6M645.6 89.3h1.6M639.7 111.1h1.6M643.5 79.1h1.6M640.2 87.8h1.6M659.1 74.4h1.6M631.8 96.4h1.6M629.0 89.4h1.6M633.7 87.2h1.6M646.4 84.4h1.6M649.6 77.8h1.6M640.2 84.9h1.6M632.8 73.6h1.6M636.0 90.2h1.6M632.6 103.4h1.6M647.2 89.5h1.6M641.0 96.4h1.6M644.0 88.9h1.6M642.0 88.8h1.6M642.1 92.9h1.6M655.2 99.4h1.6M635.4 86.7h1.6M646.3 89.1h1.6M646.7 95.1h1.6M632.4 83.2h1.6M660.9 84.9h1.6M643.8 80.3h1.6M627.3 91.9h1.6M652.5 108.1h1.6M647.7 98.6h1.6M649.4 97.5h1.6M638.4 92.0h1.6M636.6 98.5h1.6M642.7 101.2h1.6M624.5 84.7h1.6M642.8 93.2h1.6M641.7 89.7h1.6M651.5 80.4h1.6M638.2 88.1h1.6M648.0 87.4h1.6M623.7 96.6h1.6M631.6 85.5h1.6M650.0 92.2h1.6M658.2 95.0h1.6M651.4 86.7h1.6M622.7 95.4h1.6M628.2 87.0h1.6M633.3 91.2h1.6M655.4 92.9h1.6M633.3 89.6h1.6M643.4 91.9h1.6M646.1 85.6h1.6M646.1 90.4h1.6M638.9 91.7h1.6M644.5 98.3h1.6M650.8 92.4h1.6M642.6 96.1h1.6M640.1 95.4h1.6M650.1 96.7h1.6M658.8 91.2h1.6M670.2 73.5h1.6M627.1 84.5h1.6M644.0 79.1h1.6M642.0 94.6h1.6M627.6 88.4h1.6M637.3 83.7h1.6M632.6 85.1h1.6M629.0 104.1h1.6M633.4 89.5h1.6M648.2 87.2h1.6M628.3 96.3h1.6M634.3 103.5h1.6M639.0 93.2h1.6M628.6 89.1h1.6M625.8 76.5h1.6M621.4 92.1h1.6M631.4 96.4h1.6M657.1 77.9h1.6M620.0 93.8h1.6M650.4 91.9h1.6M629.3 91.8h1.6M629.0 86.4h1.6M649.5 109.3h1.6M646.9 102.3h1.6M647.9 95.7h1.6M640.1 86.6h1.6M650.5 91.5h1.6M632.7 89.7h1.6M644.4 88.4h1.6M651.8 85.6h1.6M639.7 85.0h1.6M629.9 84.9h1.6M660.2 84.6h1.6M637.6 102.5h1.6M628.5 90.7h1.6M647.8 87.2h1.6M655.5 102.1h1.6M647.1 77.3h1.6M626.0 98.2h1.6M641.1 89.6h1.6M644.1 104.9h1.6M648.0 83.1h1.6M623.3 89.2h1.6M625.1 79.8h1.6M642.7 87.4h1.6M640.5 79.8h1.6M645.8 78.5h1.6M654.3 92.3h1.6M624.0 91.2h1.6M626.7 97.3h1.6M633.3 81.8h1.6M658.5 97.4h1.6M637.8 88.5h1.6M652.0 87.9h1.6M611.7 82.4h1.6M643.0 92.4h1.6M651.4 91.5h1.6M657.3 89.3h1.6M631.9 79.9h1.6M664.7 80.0h1.6M630.7 85.8h1.6M658.2 72.9h1.6M661.3 102.1h1.6M639.8 88.2h1.6M624.6 92.1h1.6M667.4 85.7h1.6M645.5 79.0h1.6M626.4 85.1h1.6M646.8 90.3h1.6M628.1 86.7h1.6M642.9 86.2h1.6M627.5 98.6h1.6M613.3 78.7h1.6M648.9 93.1h1.6M632.2 94.2h1.6M639.0 93.8h1.6M641.9 95.0h1.6M638.4 94.5h1.6M632.0 83.7h1.6M644.9 95.6h1.6M647.8 84.5h1.6M643.3 93.9h1.6M636.4 88.5h1.6M641.1 82.2h1.6M659.0 91.0h1.6M655.4 91.8h1.6M637.9 78.4h1.6M648.4 90.4h1.6M648.3 87.3h1.6M648.4 90.1h1.6M642.0 100.1h1.6M647.5 93.4h1.6M637.6 86.6h1.6M650.1 84.2h1.6M648.2 93.4h1.6M650.0 85.7h1.6M649.8 86.3h1.6M648.6 80.5h1.6M632.4 111.6h1.6M627.6 81.6h1.6M643.5 87.8h1.6M637.0 94.7h1.6M650.6 96.4h1.6M633.9 88.7h1.6M636.0 92.0h1.6M625.3 82.4h1.6M640.1 105.8h1.6M636.7 90.8h1.6M655.3 90.1h1.6M642.2 93.1h1.6M658.4 104.6h1.6M632.4 92.5h1.6M622.3 94.5h1.6M654.5 94.5h1.6M647.6 86.1h1.6M660.6 89.5h1.6M633.6 88.7h1.6M620.8 95.9h1.6M660.8 88.4h1.6M645.6 80.6h1.6M635.1 82.2h1.6M668.2 82.1h1.6M643.0 100.6h1.6M632.6 96.2h1.6M647.2 91.4h1.6M636.3 103.5h1.6M632.7 82.6h1.6M647.6 103.6h1.6M643.2 85.3h1.6M640.4 83.3h1.6M641.4 90.4h1.6M626.4 112.2h1.6M651.3 81.0h1.6M665.7 93.8h1.6M646.1 91.6h1.6M658.1 88.5h1.6M666.6 94.4h1.6M640.0 88.8h1.6M634.5 97.6h1.6M631.1 84.8h1.6M636.9 80.7h1.6M652.0 95.4h1.6M640.9 80.8h1.6M656.9 83.3h1.6M634.9 96.4h1.6M662.5 77.7h1.6M638.8 83.4h1.6M641.6 94.9h1.6M643.4 92.4h1.6M639.8 103.1h1.6M641.2 84.2h1.6M649.6 79.3h1.6M641.1 86.2h1.6M647.8 89.9h1.6M632.9 101.8h1.6M632.9 93.0h1.6M625.5 94.8h1.6M651.0 83.6h1.6M632.3 74.8h1.6M647.6 96.3h1.6M643.5 79.7h1.6M643.7 88.9h1.6M639.5 88.5h1.6M649.1 83.5h1.6M648.2 90.1h1.6M662.0 90.7h1.6M639.6 97.0h1.6M637.9 95.2h1.6M627.9 90.0h1.6M668.5 87.9h1.6M633.9 77.3h1.6M652.1 98.2h1.6M651.6 86.1h1.6M627.8 90.1h1.6M634.7 92.0h1.6M651.1 98.9h1.6M642.2 93.5h1.6M626.8 91.5h1.6M643.7 84.6h1.6M660.3 94.3h1.6M646.3 80.3h1.6M648.7 90.1h1.6M657.4 83.0h1.6M668.0 94.7h1.6M642.4 92.8h1.6M634.6 100.0h1.6M641.1 96.7h1.6M636.2 96.4h1.6M625.5 90.1h1.6M640.0 90.0h1.6M630.2 100.0h1.6M656.7 96.5h1.6M640.3 93.2h1.6M610.2 82.4h1.6M629.0 105.2h1.6M645.8 99.0h1.6M634.2 93.5h1.6M631.2 101.1h1.6M634.2 77.3h1.6M630.7 90.0h1.6M648.0 91.6h1.6M634.9 78.6h1.6M629.5 85.5h1.6M650.6 98.6h1.6M626.1 98.0h1.6M643.0 88.7h1.6M628.2 88.6h1.6M635.1 93.0h1.6M634.2 86.6h1.6M626.4 90.1h1.6M632.9 98.6h1.6M657.8 90.5h1.6M626.5 94.6h1.6M664.1 91.4h1.6M650.0 100.7h1.6M659.0 78.5h1.6M634.1 88.1h1.6M653.2 106.3h1.6M642.5 91.7h1.6M664.9 83.0h1.6M634.9 87.4h1.6M655.2 96.0h1.6M632.9 95.2h1.6M657.2 82.7h1.6M635.7 77.5h1.6M626.5 97.4h1.6M623.4 94.1h1.6M633.0 89.0h1.6M658.8 93.9h1.6M624.0 88.6h1.6M630.7 97.2h1.6M638.6 94.8h1.6M640.3 92.1h1.6M642.8 90.4h1.6M659.5 79.9h1.6M637.4 88.2h1.6M622.3 92.0h1.6M649.0 77.2h1.6M634.9 107.6h1.6M637.2 90.1h1.6M641.6 106.5h1.6M659.5 94.2h1.6M655.2 84.2h1.6M640.7 87.3h1.6M635.9 84.8h1.6M645.7 83.0h1.6M630.9 86.8h1.6M618.6 93.8h1.6M632.1 87.1h1.6M652.2 91.8h1.6M631.9 96.8h1.6M634.0 101.0h1.6M658.0 88.6h1.6M658.2 98.7h1.6M658.5 98.9h1.6M631.0 90.4h1.6M646.6 93.2h1.6M657.0 85.4h1.6M653.0 93.9h1.6M635.9 95.8h1.6M637.9 85.2h1.6M631.4 91.0h1.6M634.0 93.8h1.6M645.0 70.5h1.6M645.0 95.1h1.6M629.8 90.4h1.6M648.5 106.6h1.6M642.9 88.5h1.6M656.3 97.1h1.6M634.0 89.3h1.6M643.3 100.8h1.6M613.2 98.5h1.6M650.0 89.0h1.6M647.6 88.9h1.6M651.1 90.9h1.6M641.1 97.6h1.6M641.0 88.2h1.6M639.9 96.9h1.6M655.9 85.0h1.6M629.0 85.4h1.6M639.7 85.0h1.6M648.2 93.4h1.6M636.5 90.9h1.6M629.6 106.1h1.6M637.2 90.4h1.6M644.7 93.9h1.6M660.1 84.6h1.6M634.5 84.5h1.6M614.6 86.4h1.6M653.3 93.7h1.6M640.9 81.1h1.6M648.2 95.1h1.6M639.6 85.4h1.6M640.4 75.7h1.6M617.4 104.0h1.6M647.6 82.7h1.6M627.3 95.1h1.6M648.5 94.4h1.6M617.3 92.3h1.6M654.8 94.2h1.6M638.2 82.4h1.6M612.2 79.1h1.6M641.6 100.8h1.6M641.4 93.5h1.6M641.4 81.8h1.6M626.7 96.7h1.6M667.2 100.7h1.6M634.0 99.1h1.6M652.2 91.5h1.6M609.8 92.9h1.6M647.5 90.7h1.6M646.0 104.6h1.6M639.8 94.9h1.6M655.1 89.0h1.6M632.7 88.0h1.6M645.5 88.7h1.6M639.2 97.2h1.6M643.4 85.0h1.6M628.2 91.6h1.6M647.9 87.8h1.6M646.7 98.6h1.6M643.7 82.6h1.6M643.9 88.6h1.6M635.4 94.9h1.6M632.8 93.0h1.6M637.5 99.3h1.6M644.7 93.3h1.6M625.5 86.5h1.6M639.0 85.9h1.6M659.1 90.9h1.6M649.1 103.4h1.6M629.0 82.5h1.6M655.4 89.2h1.6M620.1 84.8h1.6M638.0 82.5h1.6M653.9 92.4h1.6M648.6 87.5h1.6M644.8 93.7h1.6M628.1 98.5h1.6M620.7 85.2h1.6M646.9 96.2h1.6M643.9 88.9h1.6M660.8 85.2h1.6M633.4 82.3h1.6M627.1 92.1h1.6M633.7 93.6h1.6M618.1 84.1h1.6M635.8 93.5h1.6M639.3 83.7h1.6M637.9 92.7h1.6M661.7 94.3h1.6M662.6 83.3h1.6M636.0 101.3h1.6M633.3 93.9h1.6M655.4 107.1h1.6M653.0 92.3h1.6M625.1 87.2h1.6M631.2 90.7h1.6M630.6 85.7h1.6M624.5 90.1h1.6M633.2 92.9h1.6M624.8 89.5h1.6M649.2 99.0h1.6M645.9 105.4h1.6M619.3 101.9h1.6M632.3 87.7h1.6M632.9 83.5h1.6M657.1 94.9h1.6M632.4 98.4h1.6M650.8 91.3h1.6M659.9 92.6h1.6M629.6 95.9h1.6M646.8 98.8h1.6M641.6 74.6h1.6M651.2 81.7h1.6M623.8 90.9h1.6M636.0 77.7h1.6M620.3 85.0h1.6M649.3 90.7h1.6M616.5 88.2h1.6M641.3 95.6h1.6M621.3 79.1h1.6M631.4 97.1h1.6M630.5 101.8h1.6M641.4 95.6h1.6M647.2 91.5h1.6M654.6 97.1h1.6M657.3 82.2h1.6M641.0 95.8h1.6M627.2 80.5h1.6M655.7 86.4h1.6M625.5 108.0h1.6M640.8 79.4h1.6M632.2 89.1h1.6M633.2 95.8h1.6M643.1 88.3h1.6M626.9 96.4h1.6M639.6 87.5h1.6M639.6 88.0h1.6M653.6 104.0h1.6M654.6 96.6h1.6M650.3 84.1h1.6M641.5 84.1h1.6M662.0 70.0h1.6M652.9 96.2h1.6M625.5 85.9h1.6M644.7 93.3h1.6M646.6 92.0h1.6M630.7 95.4h1.6M644.0 91.6h1.6M637.0 88.6h1.6M630.0 82.2h1.6M641.7 87.8h1.6M633.3 95.5h1.6M626.0 94.8h1.6M641.2 90.9h1.6M618.3 90.1h1.6M654.9 99.7h1.6M636.7 97.1h1.6M642.0 80.7h1.6M652.8 94.6h1.6M652.5 95.9h1.6M637.3 91.8h1.6M645.0 93.4h1.6M652.8 81.8h1.6M658.2 81.4h1.6M631.2 90.3h1.6M644.6 87.6h1.6M627.6 84.7h1.6M629.9 94.0h1.6M639.8 89.8h1.6M638.2 97.6h1.6M627.3 86.3h1.6M629.6 90.6h1.6M639.6 98.6h1.6M622.9 92.8h1.6M642.4 93.6h1.6M625.8 97.1h1.6M657.7 86.3h1.6M642.5 88.8h1.6M649.4 94.1h1.6M635.8 88.2h1.6M653.9 113.9h1.6M646.6 89.4h1.6M649.5 89.5h1.6M641.7 90.8h1.6M648.0 98.1h1.6M639.1 86.9h1.6M647.9 94.2h1.6M636.6 87.6h1.6M636.5 100.1h1.6M642.3 87.3h1.6M641.7 86.0h1.6M639.7 106.3h1.6M630.9 89.5h1.6M637.2 93.2h1.6M651.9 89.7h1.6M642.0 97.1h1.6M644.6 84.3h1.6M634.1 90.5h1.6M657.5 85.3h1.6M637.9 96.1h1.6M647.2 103.7h1.6M640.2 95.9h1.6M655.2 85.4h1.6M621.1 94.9h1.6M615.0 95.0h1.6M636.1 87.6h1.6M609.5 90.8h1.6M630.4 90.1h1.6M631.2 92.0h1.6M636.8 97.3h1.6M648.0 93.9h1.6M623.3 98.9h1.6M646.4 94.5h1.6M655.4 92.5h1.6M659.9 91.3h1.6M626.4 88.0h1.6M635.8 96.9h1.6M663.8 101.0h1.6M628.0 100.6h1.6M654.4 98.5h1.6M645.0 87.3h1.6M647.4 103.6h1.6M620.0 100.8h1.6M623.0 93.2h1.6M629.6 92.6h1.6M648.1 99.3h1.6M650.5 91.1h1.6M630.7 93.9h1.6M644.2 92.0h1.6M642.2 98.6h1.6M628.6 90.7h1.6M626.9 95.1h1.6M616.3 89.1h1.6M626.0 97.3h1.6M629.8 91.9h1.6M655.0 87.9h1.6M650.1 107.9h1.6M637.3 97.1h1.6M643.5 92.4h1.6M629.1 83.3h1.6M610.7 91.2h1.6M642.5 83.0h1.6M646.4 95.0h1.6M629.7 98.3h1.6M654.2 93.7h1.6M652.3 89.2h1.6M649.4 86.9h1.6M616.0 86.6h1.6M639.9 96.6h1.6M647.1 86.9h1.6M628.6 89.3h1.6M632.9 97.2h1.6M649.9 87.2h1.6M664.8 86.1h1.6M649.5 99.5h1.6M642.5 91.2h1.6M633.3 93.8h1.6M626.2 113.9h1.6M629.1 89.4h1.6M644.3 102.3h1.6M633.7 92.3h1.6M656.3 100.7h1.6M623.4 97.3h1.6M625.7 92.8h1.6M639.3 92.6h1.6M642.7 92.5h1.6M641.5 91.1h1.6M626.8 95.3h1.6M631.1 94.6h1.6M652.0 89.8h1.6M635.8 84.7h1.6M634.5 92.3h1.6M648.4 92.8h1.6M645.6 90.8h1.6M640.7 89.1h1.6M661.4 98.3h1.6M624.0 84.3h1.6M645.3 95.6h1.6M633.3 100.4h1.6M653.0 79.0h1.6M628.9 80.1h1.6M648.8 98.5h1.6M635.8 94.7h1.6M671.8 91.0h1.6M643.6 80.6h1.6M667.9 76.4h1.6M632.5 90.6h1.6M633.3 85.7h1.6M645.1 83.8h1.6M619.8 86.8h1.6M629.2 98.0h1.6M659.1 91.5h1.6M654.3 95.0h1.6M638.1 88.7h1.6M654.5 87.5h1.6M646.4 96.2h1.6M646.5 91.5h1.6M629.0 94.0h1.6M652.6 92.0h1.6M633.8 80.0h1.6M659.0 95.3h1.6M628.1 84.8h1.6M671.5 98.8h1.6M632.6 98.0h1.6M624.1 83.9h1.6M626.9 89.4h1.6M645.5 90.6h1.6M644.3 96.4h1.6M632.3 89.8h1.6M650.2 101.8h1.6M664.7 100.0h1.6M642.3 83.9h1.6M650.3 89.2h1.6M651.7 92.2h1.6M651.3 93.2h1.6M619.6 78.9h1.6M659.5 95.5h1.6M640.5 88.2h1.6M642.8 82.8h1.6M656.0 78.2h1.6M608.7 79.1h1.6M651.2 97.1h1.6M645.0 85.8h1.6M661.9 84.4h1.6M646.0 88.8h1.6M658.1 90.2h1.6M654.8 96.6h1.6M626.9 83.2h1.6M640.8 91.8h1.6M632.6 97.0h1.6M640.7 95.6h1.6M630.6 94.0h1.6M622.8 93.5h1.6M639.8 80.4h1.6M637.4 94.5h1.6M647.1 97.9h1.6M661.6 87.1h1.6M636.8 90.3h1.6M638.5 95.3h1.6M656.2 101.8h1.6M653.1 100.8h1.6M621.6 91.1h1.6M640.7 85.8h1.6M622.3 82.7h1.6M630.2 104.9h1.6M634.4 97.3h1.6M638.6 94.4h1.6M636.7 90.9h1.6M642.8 96.1h1.6M644.2 86.8h1.6M659.6 83.8h1.6M650.0 84.7h1.6M627.2 98.0h1.6M656.8 81.1h1.6M644.1 102.0h1.6M625.9 98.9h1.6M628.1 78.6h1.6M640.7 95.3h1.6M641.3 94.3h1.6M644.4 92.9h1.6M621.5 96.3h1.6M636.0 75.0h1.6M665.5 93.9h1.6M618.8 84.3h1.6M623.5 87.9h1.6M640.4 92.6h1.6M643.5 82.5h1.6M632.9 89.5h1.6M641.7 99.0h1.6M638.6 81.3h1.6M629.5 102.2h1.6M639.4 87.6h1.6M635.9 89.1h1.6M644.1 89.2h1.6M648.2 95.8h1.6M628.9 95.0h1.6M638.5 92.2h1.6M626.9 96.2h1.6M635.4 96.9h1.6M641.3 86.0h1.6M648.4 82.3h1.6M630.1 97.4h1.6M647.5 76.2h1.6M638.6 89.4h1.6M636.6 82.2h1.6M636.9 103.8h1.6M632.5 91.9h1.6M644.1 95.3h1.6M624.5 95.1h1.6M645.3 96.9h1.6M633.2 94.1h1.6M657.6 94.1h1.6M633.6 81.7h1.6M643.6 90.7h1.6M648.5 90.5h1.6M649.2 86.2h1.6M658.8 87.5h1.6M659.9 82.2h1.6M638.3 90.2h1.6M634.5 97.6h1.6M657.6 94.0h1.6M645.5 83.2h1.6M639.2 85.5h1.6M640.9 88.6h1.6M651.2 93.7h1.6M650.5 104.8h1.6M614.9 80.9h1.6M631.2 88.8h1.6M634.1 99.2h1.6M628.4 101.0h1.6M654.5 102.5h1.6M655.8 94.0h1.6M639.3 82.7h1.6M658.4 97.5h1.6M637.4 82.9h1.6M658.1 94.5h1.6M651.2 89.2h1.6M644.4 93.0h1.6M648.4 84.8h1.6M636.1 95.4h1.6M656.0 86.9h1.6M637.8 85.6h1.6M649.3 89.4h1.6M632.7 86.0h1.6M633.2 90.3h1.6M644.2 97.1h1.6M644.5 105.3h1.6M658.3 91.6h1.6M640.5 90.4h1.6M646.9 75.9h1.6M647.4 85.6h1.6M667.0 102.3h1.6M644.6 81.9h1.6M629.0 94.1h1.6M624.7 89.8h1.6M637.4 90.8h1.6M642.7 91.7h1.6M627.4 90.5h1.6M627.1 98.9h1.6M629.5 89.6h1.6M640.4 82.3h1.6M647.9 102.7h1.6M631.7 102.9h1.6M630.3 88.7h1.6M655.6 91.4h1.6M661.4 89.0h1.6M646.7 75.0h1.6M633.1 93.6h1.6M632.9 101.1h1.6M648.3 104.1h1.6M618.8 86.3h1.6M620.4 104.4h1.6M651.0 91.4h1.6M622.1 83.5h1.6M630.0 100.8h1.6M664.4 85.0h1.6M633.5 87.6h1.6M655.8 82.8h1.6M636.0 80.4h1.6M626.3 94.3h1.6M644.8 100.9h1.6M638.3 83.6h1.6M649.7 91.2h1.6M621.8 96.7h1.6M646.0 92.7h1.6M642.6 85.6h1.6M649.7 93.8h1.6M643.3 85.9h1.6M628.2 77.4h1.6M656.2 90.6h1.6M651.1 93.4h1.6M651.4 90.2h1.6M647.7 114.3h1.6M644.6 78.0h1.6M633.3 90.1h1.6M618.7 81.4h1.6M621.2 90.6h1.6M638.2 98.8h1.6M612.8 94.7h1.6M632.2 84.3h1.6M650.2 91.0h1.6M628.5 93.5h1.6M662.8 86.2h1.6M619.5 94.9h1.6M647.9 87.8h1.6M616.1 95.0h1.6M643.8 73.3h1.6M659.8 98.7h1.6M635.8 96.4h1.6M624.5 88.5h1.6M625.8 93.4h1.6M647.5 92.3h1.6M650.0 87.6h1.6M644.5 97.5h1.6M633.4 90.1h1.6M626.3 75.3h1.6M629.3 92.6h1.6M626.7 99.0h1.6M620.0 92.5h1.6M652.3 104.9h1.6M654.7 87.4h1.6M655.2 98.3h1.6M660.2 102.4h1.6M631.3 107.4h1.6M616.7 89.8h1.6M641.8 93.3h1.6M635.8 94.7h1.6M625.4 82.6h1.6M644.3 94.3h1.6M633.5 73.0h1.6M647.1 94.7h1.6M643.9 91.8h1.6M628.6 90.6h1.6M638.9 88.9h1.6M632.4 92.1h1.6M642.9 92.8h1.6M638.0 93.8h1.6M626.9 86.6h1.6M643.9 91.5h1.6M635.9 90.6h1.6M636.7 97.6h1.6M640.1 94.9h1.6M665.7 89.8h1.6M643.4 90.9h1.6M636.3 84.8h1.6M630.9 75.8h1.6M618.5 102.0h1.6M638.5 87.7h1.6M638.9 97.6h1.6M632.1 95.7h1.6M647.7 88.3h1.6M643.8 93.4h1.6M647.0 89.9h1.6M635.9 91.2h1.6M657.3 99.6h1.6M646.2 94.2h1.6M631.4 102.7h1.6M639.3 94.9h1.6M651.4 84.5h1.6M631.6 88.0h1.6M654.8 105.6h1.6M634.3 89.2h1.6M617.3 97.1h1.6M648.1 85.6h1.6M633.2 103.2h1.6M639.8 100.3h1.6M637.5 86.0h1.6M652.2 87.7h1.6M639.2 93.0h1.6M649.8 81.8h1.6M628.8 89.1h1.6M640.0 92.2h1.6M632.0 86.6h1.6M639.1 81.3h1.6M665.4 82.0h1.6M629.7 95.8h1.6M643.7 84.3h1.6M634.8 87.2h1.6M644.2 88.9h1.6M628.8 97.2h1.6M632.3 78.8h1.6M618.1 98.4h1.6M653.8 91.2h1.6M639.5 82.1h1.6M642.0 75.7h1.6M623.1 109.3h1.6M656.9 81.6h1.6M652.2 85.8h1.6M634.5 90.6h1.6M642.2 85.8h1.6M635.6 98.3h1.6M650.3 94.9h1.6M612.5 91.6h1.6M641.2 89.0h1.6M642.0 87.3h1.6M649.2 88.6h1.6M626.6 84.7h1.6M630.0 89.4h1.6M626.2 79.9h1.6M650.3 89.0h1.6M644.2 80.4h1.6M652.1 88.5h1.6M649.2 85.1h1.6M647.4 93.5h1.6M625.7 94.1h1.6M637.3 91.6h1.6M655.8 88.0h1.6M644.0 80.2h1.6M628.3 102.4h1.6M629.9 72.8h1.6M634.8 94.2h1.6M637.3 93.4h1.6M641.6 85.2h1.6M640.4 87.8h1.6M645.8 79.0h1.6M653.0 93.6h1.6M648.0 78.8h1.6M628.1 93.5h1.6M665.1 87.6h1.6M637.9 105.0h1.6M632.5 79.8h1.6M653.8 93.8h1.6M657.3 79.3h1.6M646.5 89.5h1.6M656.4 87.7h1.6M638.8 89.2h1.6M639.1 100.4h1.6M627.7 91.9h1.6M653.4 100.6h1.6M643.4 95.1h1.6M660.9 89.9h1.6M637.5 95.7h1.6M654.9 93.6h1.6M642.7 82.2h1.6M661.8 91.0h1.6M641.9 90.1h1.6M658.7 84.9h1.6M629.7 96.1h1.6M636.8 87.9h1.6M635.5 93.0h1.6M654.4 94.2h1.6M616.8 96.7h1.6M627.9 103.2h1.6M644.4 90.2h1.6M641.1 87.6h1.6M641.2 96.9h1.6M646.7 98.2h1.6M638.9 101.7h1.6M649.5 76.3h1.6M657.0 91.9h1.6M630.4 96.3h1.6M656.5 101.6h1.6M632.1 82.9h1.6M625.6 91.5h1.6M640.1 93.4h1.6M639.6 95.2h1.6M644.1 93.2h1.6M627.1 97.4h1.6M639.4 94.7h1.6M633.5 78.9h1.6M653.4 97.7h1.6M641.1 87.9h1.6M632.9 89.0h1.6M627.8 90.1h1.6M640.0 78.1h1.6M663.4 80.5h1.6M619.7 84.5h1.6M632.1 86.7h1.6M654.8 90.2h1.6M652.3 88.3h1.6M637.7 86.6h1.6M638.7 89.9h1.6M635.0 100.2h1.6M629.6 100.4h1.6M636.8 80.2h1.6M646.6 88.2h1.6M644.7 88.7h1.6M622.6 89.8h1.6M638.0 84.4h1.6M632.6 81.6h1.6M655.0 99.9h1.6M624.1 87.3h1.6M626.7 73.3h1.6M624.4 83.8h1.6M661.5 87.6h1.6M629.8 95.9h1.6M597.6 97.2h1.6M592.3 85.6h1.6M605.5 87.7h1.6M597.6 95.3h1.6M630.0 93.5h1.6M636.5 103.1h1.6M620.0 98.0h1.6M630.5 90.2h1.6M632.0 110.3h1.6M594.8 99.6h1.6M635.0 84.7h1.6M648.9 84.8h1.6M617.2 85.1h1.6M632.9 95.5h1.6M614.2 91.0h1.6M618.3 93.9h1.6M589.8 84.5h1.6M580.5 85.8h1.6M583.9 92.4h1.6M630.3 85.1h1.6M629.4 88.3h1.6M625.0 93.1h1.6M616.3 84.6h1.6M587.3 87.5h1.6M606.6 82.7h1.6M618.3 99.4h1.6M600.6 78.4h1.6M604.0 80.7h1.6M644.4 85.9h1.6M624.5 94.9h1.6M633.2 94.4h1.6M590.2 107.4h1.6M614.6 97.9h1.6M554.4 94.8h1.6M634.1 101.1h1.6M607.5 94.4h1.6M572.9 82.7h1.6M576.2 99.6h1.6M611.5 81.0h1.6M618.4 82.1h1.6M634.5 93.9h1.6M591.1 83.1h1.6M660.1 90.2h1.6M616.1 104.8h1.6M633.0 96.9h1.6M605.3 105.4h1.6M623.2 104.5h1.6M607.7 92.9h1.6M652.8 113.8h1.6M615.8 86.7h1.6M576.3 95.8h1.6M621.3 96.0h1.6M651.4 94.8h1.6M611.3 101.8h1.6M614.7 98.0h1.6M627.1 87.4h1.6M652.5 76.7h1.6M615.3 99.6h1.6M611.8 86.0h1.6M626.2 93.6h1.6M599.6 93.4h1.6M617.3 90.4h1.6M640.1 103.5h1.6M626.9 93.3h1.6M637.4 83.2h1.6M622.3 90.7h1.6M586.7 91.0h1.6M631.4 100.6h1.6M641.5 95.1h1.6M613.7 82.5h1.6M610.2 104.1h1.6M639.8 100.4h1.6M615.7 90.1h1.6M586.4 84.4h1.6M615.1 89.2h1.6M648.6 87.3h1.6M636.9 96.6h1.6M589.2 83.4h1.6M580.3 90.6h1.6M641.0 92.1h1.6M619.5 95.5h1.6M605.7 93.5h1.6M605.4 101.4h1.6M623.7 90.7h1.6M620.7 83.8h1.6M602.2 87.6h1.6M618.7 96.8h1.6M654.3 91.0h1.6M607.3 89.1h1.6M638.3 92.5h1.6M616.0 93.6h1.6M609.0 95.1h1.6M630.1 97.8h1.6M644.8 93.5h1.6M622.0 105.3h1.6M592.9 102.6h1.6M654.8 91.7h1.6M627.6 99.8h1.6M604.1 90.8h1.6M602.1 97.0h1.6M596.2 92.9h1.6M626.7 100.7h1.6M623.7 90.8h1.6M608.2 100.0h1.6M627.0 101.6h1.6M610.3 89.1h1.6M622.6 94.4h1.6M634.7 89.4h1.6M590.3 86.8h1.6M624.5 91.1h1.6M637.6 91.4h1.6M627.9 94.5h1.6M635.1 87.8h1.6M621.2 98.2h1.6M632.0 101.5h1.6M613.5 87.4h1.6M597.2 85.1h1.6M600.0 91.9h1.6M594.9 95.3h1.6M630.3 90.3h1.6M619.0 88.0h1.6M599.8 90.5h1.6M599.0 77.6h1.6M611.4 97.6h1.6M604.3 93.1h1.6M608.3 85.7h1.6M590.2 90.0h1.6M594.1 80.2h1.6M615.9 94.6h1.6M602.4 90.8h1.6M592.6 92.4h1.6M618.0 95.8h1.6M621.6 89.8h1.6M617.4 82.6h1.6M613.0 93.9h1.6M595.0 88.9h1.6M591.2 85.9h1.6M618.1 100.6h1.6M625.6 80.0h1.6M610.1 92.4h1.6M599.1 98.0h1.6M617.7 95.2h1.6M624.8 95.5h1.6M626.0 107.8h1.6M641.7 85.6h1.6M597.8 95.1h1.6M591.0 91.4h1.6M627.4 93.3h1.6M608.5 81.3h1.6M621.3 88.2h1.6M615.5 95.8h1.6M596.6 92.2h1.6M615.8 89.4h1.6M606.4 102.9h1.6M633.0 93.9h1.6M620.8 90.0h1.6M609.4 97.0h1.6M617.8 96.8h1.6M608.2 92.0h1.6M638.0 98.9h1.6M597.7 94.3h1.6M627.1 95.7h1.6M610.6 87.9h1.6M604.8 96.1h1.6M580.2 100.8h1.6M616.2 86.9h1.6M638.4 102.5h1.6M658.7 91.3h1.6M636.3 97.7h1.6M631.6 102.3h1.6M592.5 95.2h1.6M607.5 95.3h1.6M632.7 97.1h1.6M612.1 109.1h1.6M610.7 82.6h1.6M605.6 99.0h1.6M601.5 87.7h1.6M608.9 92.4h1.6M608.6 91.6h1.6M598.4 93.0h1.6M633.3 91.3h1.6M601.6 82.1h1.6M623.2 108.0h1.6M602.3 88.9h1.6M626.3 96.7h1.6M612.8 95.3h1.6M609.4 91.4h1.6M633.9 85.6h1.6M628.8 86.9h1.6M637.4 88.5h1.6M601.3 87.3h1.6M587.1 91.0h1.6M610.8 96.5h1.6M599.7 84.8h1.6M637.5 94.1h1.6M624.9 80.9h1.6M636.4 84.9h1.6M607.5 90.4h1.6M634.1 85.2h1.6M612.0 91.9h1.6M592.5 101.5h1.6M598.3 86.2h1.6M621.7 84.0h1.6M582.7 88.5h1.6M659.3 87.2h1.6M623.6 79.3h1.6M585.4 88.5h1.6M626.9 92.1h1.6M629.2 94.6h1.6M604.3 88.1h1.6M586.7 98.3h1.6M622.0 91.1h1.6M637.7 82.2h1.6M609.5 88.4h1.6M595.3 85.0h1.6M617.7 91.1h1.6M655.4 96.5h1.6M620.6 87.0h1.6M594.8 91.3h1.6M622.1 89.5h1.6M617.1 93.8h1.6M625.1 91.6h1.6M593.9 95.0h1.6M628.5 81.9h1.6M652.4 92.1h1.6M619.6 93.4h1.6M599.0 91.2h1.6M564.2 102.3h1.6M601.8 94.7h1.6M643.6 81.3h1.6M623.2 89.4h1.6M610.9 92.4h1.6M611.2 90.8h1.6M598.6 97.8h1.6M633.7 90.1h1.6M649.5 80.5h1.6M605.6 86.1h1.6M596.1 99.4h1.6M616.3 107.0h1.6M617.7 82.6h1.6M614.0 92.4h1.6M611.5 95.9h1.6M591.7 88.2h1.6M641.7 92.5h1.6M631.6 88.8h1.6M620.9 85.3h1.6M644.9 86.3h1.6M652.5 93.7h1.6M612.2 103.0h1.6M623.1 91.5h1.6M629.0 96.2h1.6M613.3 91.1h1.6M640.8 93.5h1.6M608.9 100.5h1.6M606.4 98.3h1.6M635.6 85.2h1.6M587.2 89.7h1.6M616.5 84.1h1.6M634.3 93.3h1.6M587.6 90.2h1.6M594.7 91.3h1.6M616.6 89.1h1.6M614.5 77.5h1.6M611.5 91.4h1.6M621.4 86.0h1.6M601.9 91.9h1.6M650.7 86.5h1.6M584.7 86.0h1.6M601.2 94.3h1.6M617.0 92.6h1.6M587.9 86.1h1.6M617.8 95.3h1.6M612.8 86.8h1.6M610.4 94.4h1.6M593.8 91.6h1.6M606.5 98.7h1.6M605.9 101.8h1.6M613.1 86.6h1.6M607.0 91.0h1.6M616.5 97.2h1.6M629.5 99.4h1.6M613.7 102.9h1.6M614.4 92.6h1.6M612.0 105.5h1.6M634.4 88.0h1.6M606.5 92.6h1.6M630.7 86.9h1.6M611.1 92.7h1.6M620.1 93.2h1.6M629.5 91.3h1.6M620.1 92.3h1.6M628.6 79.5h1.6M643.3 78.3h1.6M618.5 91.0h1.6M617.0 89.2h1.6M607.0 93.3h1.6M589.3 98.1h1.6M615.3 86.4h1.6M595.5 90.4h1.6M614.9 93.7h1.6M621.8 91.0h1.6M637.3 92.1h1.6M610.8 101.3h1.6M597.1 91.1h1.6M642.9 96.6h1.6M620.9 106.7h1.6M630.8 90.6h1.6M621.0 91.8h1.6M629.9 92.6h1.6M638.8 97.7h1.6M633.3 81.9h1.6M644.0 92.6h1.6M617.3 95.6h1.6M629.7 114.4h1.6M629.7 93.8h1.6M628.1 93.0h1.6M597.0 95.2h1.6M649.3 98.2h1.6M637.9 82.9h1.6M592.3 88.0h1.6M617.3 105.5h1.6M622.8 97.5h1.6M637.4 106.0h1.6M609.1 86.8h1.6M633.8 99.4h1.6M617.0 96.6h1.6M606.9 90.1h1.6M607.9 96.9h1.6M613.9 91.2h1.6M601.5 86.4h1.6M612.3 99.2h1.6M611.2 84.8h1.6M609.5 90.3h1.6M613.9 79.6h1.6M620.0 100.1h1.6M607.1 98.0h1.6M615.3 86.6h1.6M629.9 82.2h1.6M605.8 99.3h1.6M619.0 90.9h1.6M636.0 91.2h1.6M636.2 101.1h1.6M621.3 92.4h1.6M623.5 86.6h1.6M601.2 98.9h1.6M612.0 89.7h1.6M624.7 96.0h1.6M604.9 92.9h1.6M589.6 87.8h1.6M641.6 96.6h1.6M616.0 87.5h1.6M609.3 80.5h1.6M635.0 85.5h1.6M615.9 95.7h1.6M603.0 105.4h1.6M625.4 99.0h1.6M622.8 96.2h1.6M577.1 91.7h1.6M664.2 97.5h1.6M617.4 87.5h1.6M602.0 82.3h1.6M617.9 101.7h1.6M611.7 92.3h1.6M591.6 95.4h1.6M642.4 98.7h1.6M612.2 79.7h1.6M611.4 90.8h1.6M633.1 105.1h1.6M600.0 90.3h1.6M663.5 100.8h1.6M614.9 92.8h1.6M606.0 95.9h1.6M615.1 93.0h1.6M608.2 88.5h1.6M615.2 94.8h1.6M646.3 93.8h1.6M604.5 97.8h1.6M657.0 99.3h1.6M633.2 97.1h1.6M620.8 82.1h1.6M610.0 89.8h1.6M616.2 88.1h1.6M622.2 85.1h1.6M620.4 83.3h1.6M605.4 104.2h1.6M590.4 89.6h1.6M623.2 79.7h1.6M605.6 90.2h1.6M617.8 94.8h1.6M597.1 95.5h1.6M617.5 103.1h1.6M635.2 98.9h1.6M618.9 97.5h1.6M644.0 104.1h1.6M635.5 94.4h1.6M615.4 85.8h1.6M609.3 78.8h1.6M630.4 89.7h1.6M612.3 92.0h1.6M601.8 94.9h1.6M615.6 93.7h1.6M605.1 101.8h1.6M629.5 89.4h1.6M608.7 92.2h1.6M621.4 110.2h1.6M627.1 94.4h1.6M588.2 89.7h1.6M616.0 95.1h1.6M613.7 88.8h1.6M630.2 91.8h1.6M600.6 95.1h1.6M641.0 100.2h1.6M621.6 98.6h1.6M611.7 90.1h1.6M600.4 93.2h1.6M598.5 87.5h1.6M614.2 95.6h1.6M625.6 84.1h1.6M626.1 87.7h1.6M614.8 81.0h1.6M612.0 106.9h1.6M601.5 88.0h1.6M615.9 85.1h1.6M628.5 90.9h1.6M586.6 90.4h1.6M602.2 92.8h1.6M643.6 92.0h1.6M645.4 90.7h1.6M608.8 93.2h1.6M624.7 99.9h1.6M622.4 86.0h1.6M630.1 100.5h1.6M642.5 96.7h1.6M616.6 88.8h1.6M622.8 92.8h1.6M625.9 94.5h1.6M647.6 104.6h1.6M640.1 90.5h1.6M622.9 93.5h1.6M617.3 94.5h1.6M590.0 102.8h1.6M632.0 89.7h1.6M617.6 96.1h1.6M618.7 92.9h1.6M625.2 93.0h1.6M620.6 80.0h1.6M606.8 99.5h1.6M570.2 90.4h1.6M641.7 106.0h1.6M608.2 87.9h1.6M609.1 95.8h1.6M615.5 83.1h1.6M602.7 101.4h1.6M612.2 96.4h1.6M626.0 85.8h1.6M613.1 102.2h1.6M581.7 94.3h1.6M626.3 91.0h1.6M632.5 92.5h1.6M625.6 95.6h1.6M606.4 103.3h1.6M638.9 105.9h1.6M627.7 85.1h1.6M620.2 97.1h1.6M613.0 95.5h1.6M637.5 98.2h1.6M616.6 93.1h1.6M597.9 101.6h1.6M638.1 91.7h1.6M606.2 93.7h1.6M597.1 95.7h1.6M629.7 86.3h1.6M631.3 95.1h1.6M604.3 98.4h1.6M596.6 90.9h1.6M641.5 89.8h1.6M621.1 83.5h1.6M631.0 112.0h1.6M605.7 95.7h1.6M635.0 95.2h1.6M616.0 95.6h1.6M587.7 87.4h1.6M608.1 85.8h1.6M621.6 102.2h1.6M622.9 87.2h1.6M624.1 93.7h1.6M594.8 97.6h1.6M620.6 86.5h1.6M612.9 91.6h1.6M612.2 85.3h1.6M616.2 88.7h1.6M638.2 90.6h1.6M627.3 87.6h1.6M603.4 93.5h1.6M625.7 94.7h1.6M589.3 100.9h1.6M598.6 91.7h1.6M613.9 82.0h1.6M596.7 98.4h1.6M630.8 84.9h1.6M618.6 87.9h1.6M642.5 86.2h1.6M618.7 98.9h1.6M638.3 82.0h1.6M649.8 86.8h1.6M590.5 94.1h1.6M596.4 99.2h1.6M634.6 95.1h1.6M622.2 89.0h1.6M593.2 87.2h1.6M636.3 94.2h1.6M631.0 90.2h1.6M589.9 95.0h1.6M619.2 92.6h1.6M600.8 102.3h1.6M630.7 96.1h1.6M626.4 93.7h1.6M615.9 94.8h1.6M640.0 87.8h1.6M612.5 91.9h1.6M637.5 88.3h1.6M641.2 101.4h1.6M634.4 92.9h1.6M580.3 94.8h1.6M620.6 107.5h1.6M609.7 100.9h1.6M611.5 101.6h1.6M609.8 85.0h1.6M613.9 103.7h1.6M641.0 89.8h1.6M612.2 89.4h1.6M621.9 95.9h1.6M621.8 82.7h1.6M613.6 93.7h1.6M609.3 95.1h1.6M623.2 86.6h1.6M619.1 88.7h1.6M606.7 97.6h1.6M596.7 83.1h1.6M613.7 95.0h1.6M625.8 109.3h1.6M601.8 85.6h1.6M626.5 87.7h1.6M605.0 94.3h1.6M604.2 89.6h1.6M615.3 90.2h1.6M608.8 91.0h1.6M626.1 80.1h1.6M662.9 93.3h1.6M572.1 94.4h1.6M577.0 87.6h1.6M568.6 89.3h1.6M564.9 90.5h1.6M549.5 99.2h1.6M562.8 91.4h1.6M582.9 92.8h1.6M550.5 94.7h1.6M561.5 93.2h1.6M583.4 102.1h1.6M556.8 96.3h1.6M561.7 93.5h1.6M554.6 98.4h1.6M559.0 83.2h1.6M574.1 89.9h1.6M557.9 104.2h1.6M573.5 88.9h1.6M580.8 91.2h1.6M567.6 100.6h1.6M558.1 95.7h1.6M568.4 93.1h1.6M562.5 92.4h1.6M548.5 92.6h1.6M549.8 100.1h1.6M558.8 92.8h1.6M549.3 92.1h1.6M551.2 101.1h1.6M560.2 89.9h1.6M552.9 96.1h1.6M560.1 91.5h1.6M566.6 94.5h1.6M573.4 93.7h1.6M571.4 99.1h1.6M572.7 101.1h1.6M546.0 89.6h1.6M643.2 79.0h1.6M562.2 86.3h1.6M584.3 86.6h1.6M636.7 55.8h1.6M563.1 92.6h1.6M577.2 84.9h1.6M638.1 77.7h1.6M608.0 84.9h1.6M641.6 54.3h1.6" stroke="#000" stroke-width="1.6" fill="none"/>
<line x1="545.72" y1="95.37" x2="676.49" y2="90.24" stroke="#e8251f" stroke-width="1.5"/>
<line x1="539.70" y1="41.90" x2="539.70" y2="125.80" stroke="#858585" stroke-width="1.0"/>
<line x1="537.10" y1="45.10" x2="539.70" y2="45.10" stroke="#858585" stroke-width="1.0"/>
<text x="535.10" y="48.05" font-size="8.2" text-anchor="end" textLength="20.10" lengthAdjust="spacingAndGlyphs">1.000</text>
<line x1="537.10" y1="68.20" x2="539.70" y2="68.20" stroke="#858585" stroke-width="1.0"/>
<text x="535.10" y="71.15" font-size="8.2" text-anchor="end" textLength="20.10" lengthAdjust="spacingAndGlyphs">0.950</text>
<line x1="537.10" y1="91.30" x2="539.70" y2="91.30" stroke="#858585" stroke-width="1.0"/>
<text x="535.10" y="94.25" font-size="8.2" text-anchor="end" textLength="20.10" lengthAdjust="spacingAndGlyphs">0.900</text>
<line x1="537.10" y1="114.40" x2="539.70" y2="114.40" stroke="#858585" stroke-width="1.0"/>
<text x="535.10" y="117.35" font-size="8.2" text-anchor="end" textLength="20.10" lengthAdjust="spacingAndGlyphs">0.850</text>
<line x1="539.70" y1="125.80" x2="682.20" y2="125.80" stroke="#858585" stroke-width="1.0"/>
<line x1="559.80" y1="125.80" x2="559.80" y2="128.80" stroke="#858585" stroke-width="0.8"/>
<text x="559.80" y="138.00" font-size="7.8" text-anchor="middle">1</text>
<line x1="600.50" y1="125.80" x2="600.50" y2="128.80" stroke="#858585" stroke-width="0.8"/>
<text x="600.50" y="138.00" font-size="7.8" text-anchor="middle">2</text>
<line x1="641.50" y1="125.80" x2="641.50" y2="128.80" stroke="#858585" stroke-width="0.8"/>
<text x="641.50" y="138.00" font-size="7.8" text-anchor="middle">3</text>
<line x1="682.20" y1="125.80" x2="682.20" y2="128.80" stroke="#858585" stroke-width="0.8"/>
<text x="682.20" y="138.00" font-size="7.8" text-anchor="middle">4</text>
<text x="575.00" y="151.50" font-size="8.7" textLength="72.80" lengthAdjust="spacingAndGlyphs">Shannon (species)</text>
<text x="508.10" y="93.80" font-size="8.6" textLength="20.10" lengthAdjust="spacingAndGlyphs" transform="rotate(-90 508.10 93.80)">Ratio</text>
<text x="547.00" y="34.90" font-size="8.5" textLength="99.80" lengthAdjust="spacingAndGlyphs"><tspan font-style="italic">R</tspan> = 0.1156, <tspan font-style="italic">P</tspan> = 1.37 × 10<tspan font-size="5.8" dy="-3.2">−10</tspan></text>
<text x="-0.40" y="176.90" font-size="12.5" fill="#000" font-weight="bold" stroke="#000" stroke-width="0.3">c</text>
<line x1="40.80" y1="185.00" x2="40.80" y2="340.00" stroke="#ebebeb" stroke-width="0.5"/>
<line x1="75.60" y1="185.00" x2="75.60" y2="340.00" stroke="#ebebeb" stroke-width="0.5"/>
<line x1="110.50" y1="185.00" x2="110.50" y2="340.00" stroke="#ebebeb" stroke-width="0.5"/>
<line x1="145.40" y1="185.00" x2="145.40" y2="340.00" stroke="#ebebeb" stroke-width="0.5"/>
<line x1="13.40" y1="228.30" x2="168.00" y2="228.30" stroke="#ebebeb" stroke-width="0.5"/>
<line x1="13.40" y1="252.80" x2="168.00" y2="252.80" stroke="#ebebeb" stroke-width="0.5"/>
<line x1="13.40" y1="277.20" x2="168.00" y2="277.20" stroke="#ebebeb" stroke-width="0.5"/>
<line x1="13.40" y1="302.20" x2="168.00" y2="302.20" stroke="#ebebeb" stroke-width="0.5"/>
<line x1="13.40" y1="326.90" x2="168.00" y2="326.90" stroke="#ebebeb" stroke-width="0.5"/>
<path d="M13.40,228.30 C16.17,228.25 23.90,228.03 30.00,228.00 C36.10,227.97 45.00,228.18 50.00,228.10 C55.00,228.02 57.33,227.52 60.00,227.50 C62.67,227.48 63.50,227.87 66.00,228.00 C68.50,228.13 72.50,228.30 75.00,228.30 C77.50,228.30 79.22,228.32 81.00,228.00 C82.78,227.68 83.58,226.88 85.70,226.40 C87.82,225.92 91.17,225.97 93.70,225.10 C96.23,224.23 98.77,221.92 100.90,221.20 C103.03,220.48 104.48,222.08 106.50,220.80 C108.52,219.52 111.12,214.85 113.00,213.50 C114.88,212.15 115.93,213.82 117.80,212.70 C119.67,211.58 122.42,209.20 124.20,206.80 C125.98,204.40 127.22,200.92 128.50,198.30 C129.78,195.68 130.78,191.85 131.90,191.10 C133.02,190.35 134.07,192.20 135.20,193.80 C136.33,195.40 137.32,196.73 138.70,200.70 C140.08,204.67 142.12,213.75 143.50,217.60 C144.88,221.45 145.93,222.33 147.00,223.80 C148.07,225.27 148.88,225.70 149.90,226.40 C150.92,227.10 151.23,227.68 153.10,228.00 C154.97,228.32 159.77,228.25 161.10,228.30 L161.1,228.3 L13.4,228.3 Z" fill="#e64b35"/>
<path d="M13.40,228.30 C16.17,228.25 23.90,228.03 30.00,228.00 C36.10,227.97 45.00,228.18 50.00,228.10 C55.00,228.02 57.33,227.52 60.00,227.50 C62.67,227.48 63.50,227.87 66.00,228.00 C68.50,228.13 72.50,228.30 75.00,228.30 C77.50,228.30 79.22,228.32 81.00,228.00 C82.78,227.68 83.58,226.88 85.70,226.40 C87.82,225.92 91.17,225.97 93.70,225.10 C96.23,224.23 98.77,221.92 100.90,221.20 C103.03,220.48 104.48,222.08 106.50,220.80 C108.52,219.52 111.12,214.85 113.00,213.50 C114.88,212.15 115.93,213.82 117.80,212.70 C119.67,211.58 122.42,209.20 124.20,206.80 C125.98,204.40 127.22,200.92 128.50,198.30 C129.78,195.68 130.78,191.85 131.90,191.10 C133.02,190.35 134.07,192.20 135.20,193.80 C136.33,195.40 137.32,196.73 138.70,200.70 C140.08,204.67 142.12,213.75 143.50,217.60 C144.88,221.45 145.93,222.33 147.00,223.80 C148.07,225.27 148.88,225.70 149.90,226.40 C150.92,227.10 151.23,227.68 153.10,228.00 C154.97,228.32 159.77,228.25 161.10,228.30" fill="none" stroke="#333" stroke-width="0.6"/>
<path d="M13.40,252.80 C15.33,252.67 20.57,252.05 25.00,252.00 C29.43,251.95 35.00,252.48 40.00,252.50 C45.00,252.52 50.00,252.12 55.00,252.10 C60.00,252.08 65.00,252.38 70.00,252.40 C75.00,252.42 80.40,252.38 85.00,252.20 C89.60,252.02 94.60,251.73 97.60,251.30 C100.60,250.87 101.37,250.42 103.00,249.60 C104.63,248.78 105.73,248.17 107.40,246.40 C109.07,244.63 111.48,241.93 113.00,239.00 C114.52,236.07 115.43,232.27 116.50,228.80 C117.57,225.33 118.48,220.87 119.40,218.20 C120.32,215.53 121.15,213.93 122.00,212.80 C122.85,211.67 123.67,211.32 124.50,211.40 C125.33,211.48 125.98,211.63 127.00,213.30 C128.02,214.97 129.35,218.40 130.60,221.40 C131.85,224.40 133.15,228.20 134.50,231.30 C135.85,234.40 137.45,237.55 138.70,240.00 C139.95,242.45 140.95,244.52 142.00,246.00 C143.05,247.48 143.68,247.87 145.00,248.90 C146.32,249.93 148.23,251.55 149.90,252.20 C151.57,252.85 153.13,252.70 155.00,252.80 C156.87,252.90 160.08,252.80 161.10,252.80 L161.1,252.8 L13.4,252.8 Z" fill="#4dbbd5"/>
<path d="M13.40,252.80 C15.33,252.67 20.57,252.05 25.00,252.00 C29.43,251.95 35.00,252.48 40.00,252.50 C45.00,252.52 50.00,252.12 55.00,252.10 C60.00,252.08 65.00,252.38 70.00,252.40 C75.00,252.42 80.40,252.38 85.00,252.20 C89.60,252.02 94.60,251.73 97.60,251.30 C100.60,250.87 101.37,250.42 103.00,249.60 C104.63,248.78 105.73,248.17 107.40,246.40 C109.07,244.63 111.48,241.93 113.00,239.00 C114.52,236.07 115.43,232.27 116.50,228.80 C117.57,225.33 118.48,220.87 119.40,218.20 C120.32,215.53 121.15,213.93 122.00,212.80 C122.85,211.67 123.67,211.32 124.50,211.40 C125.33,211.48 125.98,211.63 127.00,213.30 C128.02,214.97 129.35,218.40 130.60,221.40 C131.85,224.40 133.15,228.20 134.50,231.30 C135.85,234.40 137.45,237.55 138.70,240.00 C139.95,242.45 140.95,244.52 142.00,246.00 C143.05,247.48 143.68,247.87 145.00,248.90 C146.32,249.93 148.23,251.55 149.90,252.20 C151.57,252.85 153.13,252.70 155.00,252.80 C156.87,252.90 160.08,252.80 161.10,252.80" fill="none" stroke="#333" stroke-width="0.6"/>
<path d="M13.40,277.20 C17.83,277.17 30.57,277.02 40.00,277.00 C49.43,276.98 62.03,277.20 70.00,277.10 C77.97,277.00 82.80,276.77 87.80,276.40 C92.80,276.03 96.73,275.45 100.00,274.90 C103.27,274.35 105.48,274.22 107.40,273.10 C109.32,271.98 110.13,270.25 111.50,268.20 C112.87,266.15 114.27,263.38 115.60,260.80 C116.93,258.22 118.28,255.28 119.50,252.70 C120.72,250.12 121.65,247.15 122.90,245.30 C124.15,243.45 125.82,242.05 127.00,241.60 C128.18,241.15 128.92,241.85 130.00,242.60 C131.08,243.35 132.25,244.50 133.50,246.10 C134.75,247.70 136.13,250.02 137.50,252.20 C138.87,254.38 140.37,256.87 141.70,259.20 C143.03,261.53 144.28,264.15 145.50,266.20 C146.72,268.25 147.92,270.03 149.00,271.50 C150.08,272.97 151.03,274.10 152.00,275.00 C152.97,275.90 153.28,276.53 154.80,276.90 C156.32,277.27 160.05,277.15 161.10,277.20 L161.1,277.2 L13.4,277.2 Z" fill="#3c5488"/>
<path d="M13.40,277.20 C17.83,277.17 30.57,277.02 40.00,277.00 C49.43,276.98 62.03,277.20 70.00,277.10 C77.97,277.00 82.80,276.77 87.80,276.40 C92.80,276.03 96.73,275.45 100.00,274.90 C103.27,274.35 105.48,274.22 107.40,273.10 C109.32,271.98 110.13,270.25 111.50,268.20 C112.87,266.15 114.27,263.38 115.60,260.80 C116.93,258.22 118.28,255.28 119.50,252.70 C120.72,250.12 121.65,247.15 122.90,245.30 C124.15,243.45 125.82,242.05 127.00,241.60 C128.18,241.15 128.92,241.85 130.00,242.60 C131.08,243.35 132.25,244.50 133.50,246.10 C134.75,247.70 136.13,250.02 137.50,252.20 C138.87,254.38 140.37,256.87 141.70,259.20 C143.03,261.53 144.28,264.15 145.50,266.20 C146.72,268.25 147.92,270.03 149.00,271.50 C150.08,272.97 151.03,274.10 152.00,275.00 C152.97,275.90 153.28,276.53 154.80,276.90 C156.32,277.27 160.05,277.15 161.10,277.20" fill="none" stroke="#333" stroke-width="0.6"/>
<path d="M13.40,302.20 C21.17,302.20 46.40,302.25 60.00,302.20 C73.60,302.15 87.92,302.07 95.00,301.90 C102.08,301.73 100.33,301.62 102.50,301.20 C104.67,300.78 106.37,299.95 108.00,299.40 C109.63,298.85 110.90,298.70 112.30,297.90 C113.70,297.10 115.20,296.47 116.40,294.60 C117.60,292.73 118.42,289.83 119.50,286.70 C120.58,283.57 121.90,278.47 122.90,275.80 C123.90,273.13 124.55,272.18 125.50,270.70 C126.45,269.22 127.52,268.02 128.60,266.90 C129.68,265.78 130.85,264.63 132.00,264.00 C133.15,263.37 134.42,263.07 135.50,263.10 C136.58,263.13 137.73,263.72 138.50,264.20 C139.27,264.68 139.43,264.33 140.10,266.00 C140.77,267.67 141.68,270.92 142.50,274.20 C143.32,277.48 144.17,282.53 145.00,285.70 C145.83,288.87 146.68,291.30 147.50,293.20 C148.32,295.10 149.15,296.02 149.90,297.10 C150.65,298.18 151.18,299.02 152.00,299.70 C152.82,300.38 153.80,300.78 154.80,301.20 C155.80,301.62 156.95,302.03 158.00,302.20 C159.05,302.37 160.58,302.20 161.10,302.20 L161.1,302.2 L13.4,302.2 Z" fill="#00a087"/>
<path d="M13.40,302.20 C21.17,302.20 46.40,302.25 60.00,302.20 C73.60,302.15 87.92,302.07 95.00,301.90 C102.08,301.73 100.33,301.62 102.50,301.20 C104.67,300.78 106.37,299.95 108.00,299.40 C109.63,298.85 110.90,298.70 112.30,297.90 C113.70,297.10 115.20,296.47 116.40,294.60 C117.60,292.73 118.42,289.83 119.50,286.70 C120.58,283.57 121.90,278.47 122.90,275.80 C123.90,273.13 124.55,272.18 125.50,270.70 C126.45,269.22 127.52,268.02 128.60,266.90 C129.68,265.78 130.85,264.63 132.00,264.00 C133.15,263.37 134.42,263.07 135.50,263.10 C136.58,263.13 137.73,263.72 138.50,264.20 C139.27,264.68 139.43,264.33 140.10,266.00 C140.77,267.67 141.68,270.92 142.50,274.20 C143.32,277.48 144.17,282.53 145.00,285.70 C145.83,288.87 146.68,291.30 147.50,293.20 C148.32,295.10 149.15,296.02 149.90,297.10 C150.65,298.18 151.18,299.02 152.00,299.70 C152.82,300.38 153.80,300.78 154.80,301.20 C155.80,301.62 156.95,302.03 158.00,302.20 C159.05,302.37 160.58,302.20 161.10,302.20" fill="none" stroke="#333" stroke-width="0.6"/>
<path d="M13.40,326.90 C21.17,326.90 45.90,326.93 60.00,326.90 C74.10,326.87 90.92,326.90 98.00,326.70 C105.08,326.50 101.07,326.00 102.50,325.70 C103.93,325.40 105.52,324.90 106.60,324.90 C107.68,324.90 107.93,325.95 109.00,325.70 C110.07,325.45 111.63,324.22 113.00,323.40 C114.37,322.58 115.95,321.88 117.20,320.80 C118.45,319.72 119.55,318.40 120.50,316.90 C121.45,315.40 122.15,314.30 122.90,311.80 C123.65,309.30 124.32,305.72 125.00,301.90 C125.68,298.08 126.27,292.02 127.00,288.90 C127.73,285.78 128.65,283.78 129.40,283.20 C130.15,282.62 130.68,284.58 131.50,285.40 C132.32,286.22 133.43,287.85 134.30,288.10 C135.17,288.35 135.93,287.17 136.70,286.90 C137.47,286.63 138.27,286.08 138.90,286.50 C139.53,286.92 140.03,288.18 140.50,289.40 C140.97,290.62 141.08,291.43 141.70,293.80 C142.32,296.17 143.43,300.08 144.20,303.60 C144.97,307.12 145.63,311.90 146.30,314.90 C146.97,317.90 147.47,319.67 148.20,321.60 C148.93,323.53 149.73,325.62 150.70,326.50 C151.67,327.38 152.27,326.83 154.00,326.90 C155.73,326.97 159.92,326.90 161.10,326.90 L161.1,326.9 L13.4,326.9 Z" fill="#f39b7f"/>
<path d="M13.40,326.90 C21.17,326.90 45.90,326.93 60.00,326.90 C74.10,326.87 90.92,326.90 98.00,326.70 C105.08,326.50 101.07,326.00 102.50,325.70 C103.93,325.40 105.52,324.90 106.60,324.90 C107.68,324.90 107.93,325.95 109.00,325.70 C110.07,325.45 111.63,324.22 113.00,323.40 C114.37,322.58 115.95,321.88 117.20,320.80 C118.45,319.72 119.55,318.40 120.50,316.90 C121.45,315.40 122.15,314.30 122.90,311.80 C123.65,309.30 124.32,305.72 125.00,301.90 C125.68,298.08 126.27,292.02 127.00,288.90 C127.73,285.78 128.65,283.78 129.40,283.20 C130.15,282.62 130.68,284.58 131.50,285.40 C132.32,286.22 133.43,287.85 134.30,288.10 C135.17,288.35 135.93,287.17 136.70,286.90 C137.47,286.63 138.27,286.08 138.90,286.50 C139.53,286.92 140.03,288.18 140.50,289.40 C140.97,290.62 141.08,291.43 141.70,293.80 C142.32,296.17 143.43,300.08 144.20,303.60 C144.97,307.12 145.63,311.90 146.30,314.90 C146.97,317.90 147.47,319.67 148.20,321.60 C148.93,323.53 149.73,325.62 150.70,326.50 C151.67,327.38 152.27,326.83 154.00,326.90 C155.73,326.97 159.92,326.90 161.10,326.90" fill="none" stroke="#333" stroke-width="0.6"/>
<text x="47.10" y="217.20" font-size="6.5" fill="#e8583f" textLength="34.20" lengthAdjust="spacingAndGlyphs">AF:537 ± 41</text>
<text x="47.10" y="241.60" font-size="7.8" fill="#4dbbd5" textLength="49.20" lengthAdjust="spacingAndGlyphs">AM:537 ± 34</text>
<text x="47.10" y="266.50" font-size="7.8" fill="#4a5b92" textLength="48.20" lengthAdjust="spacingAndGlyphs">EU:548 ± 33</text>
<text x="47.10" y="290.90" font-size="7.8" fill="#13a58a" textLength="46.40" lengthAdjust="spacingAndGlyphs">AS:561 ± 25</text>
<text x="47.10" y="315.30" font-size="7.8" fill="#f2a08a" textLength="49.70" lengthAdjust="spacingAndGlyphs">OC:563 ± 22</text>
<text x="21.00" y="182.80" font-size="6.5" textLength="30.40" lengthAdjust="spacingAndGlyphs">Continent</text>
<rect x="20.60" y="185.40" width="7.60" height="7.40" fill="#f39b7f" stroke="#555" stroke-width="0.5"/>
<text x="31.00" y="191.40" font-size="6.5">OC</text>
<rect x="20.60" y="193.90" width="7.60" height="7.40" fill="#00a087" stroke="#555" stroke-width="0.5"/>
<text x="31.00" y="199.90" font-size="6.5">AS</text>
<rect x="20.60" y="202.40" width="7.60" height="7.40" fill="#3c5488" stroke="#555" stroke-width="0.5"/>
<text x="31.00" y="208.40" font-size="6.5">EU</text>
<rect x="20.60" y="210.90" width="7.60" height="7.40" fill="#4dbbd5" stroke="#555" stroke-width="0.5"/>
<text x="31.00" y="216.90" font-size="6.5">AM</text>
<rect x="20.60" y="219.40" width="7.60" height="7.40" fill="#e64b35" stroke="#555" stroke-width="0.5"/>
<text x="31.00" y="225.40" font-size="6.5">AF</text>
<text x="40.80" y="351.80" font-size="8.0" text-anchor="middle">300</text>
<text x="75.60" y="351.80" font-size="8.0" text-anchor="middle">400</text>
<text x="110.50" y="351.80" font-size="8.0" text-anchor="middle">500</text>
<text x="145.40" y="351.80" font-size="8.0" text-anchor="middle">600</text>
<text x="51.80" y="364.20" font-size="9.0" textLength="77.20" lengthAdjust="spacingAndGlyphs"><tspan font-style="italic">N</tspan> of phytonutrients</text>
<line x1="238.50" y1="174.00" x2="238.50" y2="291.00" stroke="#858585" stroke-width="0.8"/>
<line x1="236.00" y1="193.50" x2="238.50" y2="193.50" stroke="#858585" stroke-width="0.8"/>
<text x="232.40" y="196.20" font-size="7.5" text-anchor="end">600</text>
<line x1="236.00" y1="224.20" x2="238.50" y2="224.20" stroke="#858585" stroke-width="0.8"/>
<text x="232.40" y="226.90" font-size="7.5" text-anchor="end">400</text>
<line x1="236.00" y1="254.90" x2="238.50" y2="254.90" stroke="#858585" stroke-width="0.8"/>
<text x="232.40" y="257.60" font-size="7.5" text-anchor="end">200</text>
<line x1="236.00" y1="285.60" x2="238.50" y2="285.60" stroke="#858585" stroke-width="0.8"/>
<text x="232.40" y="288.30" font-size="7.5" text-anchor="end">0</text>
<text x="210.30" y="271.00" font-size="8.6" textLength="77.50" lengthAdjust="spacingAndGlyphs" transform="rotate(-90 210.30 271.00)"><tspan font-style="italic">N</tspan> of phytonutrients</text>
<rect x="238.30" y="287.32" width="113.70" height="9.55" fill="#f2f2f2"/>
<rect x="238.30" y="306.42" width="113.70" height="9.55" fill="#f2f2f2"/>
<rect x="238.30" y="325.52" width="113.70" height="9.55" fill="#f2f2f2"/>
<line x1="235.00" y1="285.60" x2="352.00" y2="285.60" stroke="#9a9a9a" stroke-width="0.8"/>
<rect x="244.15" y="188.90" width="4.70" height="96.70" fill="#333"/>
<text x="246.50" y="187.10" font-size="6.3" text-anchor="middle" fill="#3a3a3a">630</text>
<line x1="246.50" y1="292.10" x2="246.50" y2="330.30" stroke="#3d3d3d" stroke-width="1.1"/>
<path d="M246.5 292.1h0M246.5 301.6h0M246.5 311.2h0M246.5 320.8h0M246.5 330.3h0" stroke="#333" stroke-width="3.7" stroke-linecap="round" fill="none"/>
<rect x="252.25" y="283.60" width="4.70" height="2.00" fill="#333"/>
<text x="254.60" y="281.80" font-size="6.3" text-anchor="middle" fill="#3a3a3a">13</text>
<line x1="254.60" y1="311.20" x2="254.60" y2="330.30" stroke="#3d3d3d" stroke-width="1.1"/>
<path d="M254.6 292.1h0" stroke="#e0e0e0" stroke-width="3.4" stroke-linecap="round" fill="none" stroke-opacity="0.8"/>
<path d="M254.6 301.6h0" stroke="#e0e0e0" stroke-width="3.4" stroke-linecap="round" fill="none" stroke-opacity="0.8"/>
<path d="M254.6 311.2h0M254.6 320.8h0M254.6 330.3h0" stroke="#333" stroke-width="3.7" stroke-linecap="round" fill="none"/>
<rect x="260.35" y="284.06" width="4.70" height="1.53" fill="#333"/>
<text x="262.70" y="282.26" font-size="6.3" text-anchor="middle" fill="#3a3a3a">10</text>
<path d="M262.7 292.1h0" stroke="#e0e0e0" stroke-width="3.4" stroke-linecap="round" fill="none" stroke-opacity="0.8"/>
<path d="M262.7 301.6h0" stroke="#e0e0e0" stroke-width="3.4" stroke-linecap="round" fill="none" stroke-opacity="0.8"/>
<path d="M262.7 311.2h0" stroke="#e0e0e0" stroke-width="3.4" stroke-linecap="round" fill="none" stroke-opacity="0.8"/>
<path d="M262.7 320.8h0" stroke="#e0e0e0" stroke-width="3.4" stroke-linecap="round" fill="none" stroke-opacity="0.8"/>
<path d="M262.7 330.3h0" stroke="#333" stroke-width="3.7" stroke-linecap="round" fill="none"/>
<rect x="268.45" y="284.68" width="4.70" height="0.92" fill="#333"/>
<text x="270.80" y="282.88" font-size="6.3" text-anchor="middle" fill="#3a3a3a">6</text>
<line x1="270.80" y1="301.65" x2="270.80" y2="330.30" stroke="#3d3d3d" stroke-width="1.1"/>
<path d="M270.8 292.1h0" stroke="#e0e0e0" stroke-width="3.4" stroke-linecap="round" fill="none" stroke-opacity="0.8"/>
<path d="M270.8 311.2h0" stroke="#e0e0e0" stroke-width="3.4" stroke-linecap="round" fill="none" stroke-opacity="0.8"/>
<path d="M270.8 301.6h0M270.8 320.8h0M270.8 330.3h0" stroke="#333" stroke-width="3.7" stroke-linecap="round" fill="none"/>
<rect x="276.55" y="285.14" width="4.70" height="0.46" fill="#333"/>
<text x="278.90" y="283.34" font-size="6.3" text-anchor="middle" fill="#3a3a3a">3</text>
<line x1="278.90" y1="320.75" x2="278.90" y2="330.30" stroke="#3d3d3d" stroke-width="1.1"/>
<path d="M278.9 292.1h0" stroke="#e0e0e0" stroke-width="3.4" stroke-linecap="round" fill="none" stroke-opacity="0.8"/>
<path d="M278.9 301.6h0" stroke="#e0e0e0" stroke-width="3.4" stroke-linecap="round" fill="none" stroke-opacity="0.8"/>
<path d="M278.9 311.2h0" stroke="#e0e0e0" stroke-width="3.4" stroke-linecap="round" fill="none" stroke-opacity="0.8"/>
<path d="M278.9 320.8h0M278.9 330.3h0" stroke="#333" stroke-width="3.7" stroke-linecap="round" fill="none"/>
<rect x="284.65" y="285.14" width="4.70" height="0.46" fill="#333"/>
<text x="287.00" y="283.34" font-size="6.3" text-anchor="middle" fill="#3a3a3a">3</text>
<line x1="287.00" y1="301.65" x2="287.00" y2="330.30" stroke="#3d3d3d" stroke-width="1.1"/>
<path d="M287.0 292.1h0" stroke="#e0e0e0" stroke-width="3.4" stroke-linecap="round" fill="none" stroke-opacity="0.8"/>
<path d="M287.0 301.6h0M287.0 311.2h0M287.0 320.8h0M287.0 330.3h0" stroke="#333" stroke-width="3.7" stroke-linecap="round" fill="none"/>
<rect x="292.75" y="285.29" width="4.70" height="0.31" fill="#333"/>
<text x="295.10" y="283.40" font-size="6.3" text-anchor="middle" fill="#3a3a3a">2</text>
<path d="M295.1 301.6h0" stroke="#e0e0e0" stroke-width="3.4" stroke-linecap="round" fill="none" stroke-opacity="0.8"/>
<path d="M295.1 311.2h0" stroke="#e0e0e0" stroke-width="3.4" stroke-linecap="round" fill="none" stroke-opacity="0.8"/>
<path d="M295.1 320.8h0" stroke="#e0e0e0" stroke-width="3.4" stroke-linecap="round" fill="none" stroke-opacity="0.8"/>
<path d="M295.1 330.3h0" stroke="#e0e0e0" stroke-width="3.4" stroke-linecap="round" fill="none" stroke-opacity="0.8"/>
<path d="M295.1 292.1h0" stroke="#333" stroke-width="3.7" stroke-linecap="round" fill="none"/>
<rect x="300.85" y="285.29" width="4.70" height="0.31" fill="#333"/>
<text x="303.20" y="283.40" font-size="6.3" text-anchor="middle" fill="#3a3a3a">2</text>
<line x1="303.20" y1="292.10" x2="303.20" y2="320.75" stroke="#3d3d3d" stroke-width="1.1"/>
<path d="M303.2 311.2h0" stroke="#e0e0e0" stroke-width="3.4" stroke-linecap="round" fill="none" stroke-opacity="0.8"/>
<path d="M303.2 330.3h0" stroke="#e0e0e0" stroke-width="3.4" stroke-linecap="round" fill="none" stroke-opacity="0.8"/>
<path d="M303.2 292.1h0M303.2 301.6h0M303.2 320.8h0" stroke="#333" stroke-width="3.7" stroke-linecap="round" fill="none"/>
<rect x="308.95" y="285.29" width="4.70" height="0.31" fill="#333"/>
<text x="311.30" y="283.40" font-size="6.3" text-anchor="middle" fill="#3a3a3a">2</text>
<line x1="311.30" y1="292.10" x2="311.30" y2="330.30" stroke="#3d3d3d" stroke-width="1.1"/>
<path d="M311.3 320.8h0" stroke="#e0e0e0" stroke-width="3.4" stroke-linecap="round" fill="none" stroke-opacity="0.8"/>
<path d="M311.3 292.1h0M311.3 301.6h0M311.3 311.2h0M311.3 330.3h0" stroke="#333" stroke-width="3.7" stroke-linecap="round" fill="none"/>
<rect x="317.05" y="285.29" width="4.70" height="0.31" fill="#333"/>
<text x="319.40" y="283.40" font-size="6.3" text-anchor="middle" fill="#3a3a3a">2</text>
<line x1="319.40" y1="292.10" x2="319.40" y2="330.30" stroke="#3d3d3d" stroke-width="1.1"/>
<path d="M319.4 301.6h0" stroke="#e0e0e0" stroke-width="3.4" stroke-linecap="round" fill="none" stroke-opacity="0.8"/>
<path d="M319.4 292.1h0M319.4 311.2h0M319.4 320.8h0M319.4 330.3h0" stroke="#333" stroke-width="3.7" stroke-linecap="round" fill="none"/>
<rect x="325.15" y="285.45" width="4.70" height="0.15" fill="#333"/>
<text x="327.50" y="283.40" font-size="6.3" text-anchor="middle" fill="#3a3a3a">1</text>
<path d="M327.5 292.1h0" stroke="#e0e0e0" stroke-width="3.4" stroke-linecap="round" fill="none" stroke-opacity="0.8"/>
<path d="M327.5 301.6h0" stroke="#e0e0e0" stroke-width="3.4" stroke-linecap="round" fill="none" stroke-opacity="0.8"/>
<path d="M327.5 311.2h0" stroke="#e0e0e0" stroke-width="3.4" stroke-linecap="round" fill="none" stroke-opacity="0.8"/>
<path d="M327.5 330.3h0" stroke="#e0e0e0" stroke-width="3.4" stroke-linecap="round" fill="none" stroke-opacity="0.8"/>
<path d="M327.5 320.8h0" stroke="#333" stroke-width="3.7" stroke-linecap="round" fill="none"/>
<rect x="333.25" y="285.45" width="4.70" height="0.15" fill="#333"/>
<text x="335.60" y="283.40" font-size="6.3" text-anchor="middle" fill="#3a3a3a">1</text>
<line x1="335.60" y1="292.10" x2="335.60" y2="330.30" stroke="#3d3d3d" stroke-width="1.1"/>
<path d="M335.6 311.2h0" stroke="#e0e0e0" stroke-width="3.4" stroke-linecap="round" fill="none" stroke-opacity="0.8"/>
<path d="M335.6 320.8h0" stroke="#e0e0e0" stroke-width="3.4" stroke-linecap="round" fill="none" stroke-opacity="0.8"/>
<path d="M335.6 292.1h0M335.6 301.6h0M335.6 330.3h0" stroke="#333" stroke-width="3.7" stroke-linecap="round" fill="none"/>
<rect x="341.35" y="285.45" width="4.70" height="0.15" fill="#333"/>
<text x="343.70" y="283.40" font-size="6.3" text-anchor="middle" fill="#3a3a3a">1</text>
<line x1="343.70" y1="292.10" x2="343.70" y2="330.30" stroke="#3d3d3d" stroke-width="1.1"/>
<path d="M343.7 301.6h0" stroke="#e0e0e0" stroke-width="3.4" stroke-linecap="round" fill="none" stroke-opacity="0.8"/>
<path d="M343.7 320.8h0" stroke="#e0e0e0" stroke-width="3.4" stroke-linecap="round" fill="none" stroke-opacity="0.8"/>
<path d="M343.7 292.1h0M343.7 311.2h0M343.7 330.3h0" stroke="#333" stroke-width="3.7" stroke-linecap="round" fill="none"/>
<rect x="186.10" y="289.85" width="35.80" height="4.50" fill="#f39b7f"/>
<text x="236.60" y="294.70" font-size="7.6" text-anchor="end" textLength="10.00" lengthAdjust="spacingAndGlyphs">OC</text>
<rect x="186.10" y="299.40" width="35.80" height="4.50" fill="#e64b35"/>
<text x="236.60" y="304.25" font-size="7.6" text-anchor="end">AF</text>
<rect x="185.70" y="308.95" width="36.20" height="4.50" fill="#4dbbd5"/>
<text x="236.60" y="313.80" font-size="7.6" text-anchor="end" textLength="10.00" lengthAdjust="spacingAndGlyphs">AM</text>
<rect x="185.20" y="318.50" width="36.70" height="4.50" fill="#3c5488"/>
<text x="236.60" y="323.35" font-size="7.6" text-anchor="end">EU</text>
<rect x="184.70" y="328.05" width="37.20" height="4.50" fill="#00a087"/>
<text x="236.60" y="332.90" font-size="7.6" text-anchor="end">AS</text>
<line x1="183.20" y1="335.20" x2="223.00" y2="335.20" stroke="#858585" stroke-width="0.8"/>
<line x1="188.30" y1="335.20" x2="188.30" y2="337.60" stroke="#858585" stroke-width="0.8"/>
<text x="191.30" y="341.30" font-size="8.4" text-anchor="end" textLength="14.85" lengthAdjust="spacingAndGlyphs" transform="rotate(-90 191.30 341.30)">600</text>
<line x1="199.50" y1="335.20" x2="199.50" y2="337.60" stroke="#858585" stroke-width="0.8"/>
<text x="202.50" y="341.30" font-size="8.4" text-anchor="end" textLength="14.85" lengthAdjust="spacingAndGlyphs" transform="rotate(-90 202.50 341.30)">400</text>
<line x1="210.50" y1="335.20" x2="210.50" y2="337.60" stroke="#858585" stroke-width="0.8"/>
<text x="213.50" y="341.30" font-size="8.4" text-anchor="end" textLength="14.85" lengthAdjust="spacingAndGlyphs" transform="rotate(-90 213.50 341.30)">200</text>
<line x1="221.80" y1="335.20" x2="221.80" y2="337.60" stroke="#858585" stroke-width="0.8"/>
<text x="224.80" y="341.30" font-size="8.4" text-anchor="end" textLength="4.95" lengthAdjust="spacingAndGlyphs" transform="rotate(-90 224.80 341.30)">0</text>
<text x="187.80" y="367.40" font-size="7.9" textLength="30.60" lengthAdjust="spacingAndGlyphs">LMWMs</text>
<text x="397.40" y="176.70" font-size="12.5" fill="#000" font-weight="bold" stroke="#000" stroke-width="0.3">d</text>
<line x1="440.40" y1="196.70" x2="440.40" y2="206.60" stroke="#555" stroke-width="0.7"/>
<polygon points="428.20,205.15 428.69,206.33 429.96,206.43 428.99,207.26 429.29,208.50 428.20,207.83 427.11,208.50 427.41,207.26 426.44,206.43 427.71,206.33" fill="#222"/>
<polygon points="428.20,200.98 428.69,202.16 429.96,202.26 428.99,203.09 429.29,204.33 428.20,203.67 427.11,204.33 427.41,203.09 426.44,202.26 427.71,202.16" fill="#222"/>
<polygon points="428.20,196.82 428.69,197.99 429.96,198.09 428.99,198.92 429.29,200.16 428.20,199.50 427.11,200.16 427.41,198.92 426.44,198.09 427.71,197.99" fill="#222"/>
<polygon points="428.20,192.65 428.69,193.83 429.96,193.93 428.99,194.76 429.29,196.00 428.20,195.33 427.11,196.00 427.41,194.76 426.44,193.93 427.71,193.83" fill="#222"/>
<polygon points="431.90,203.95 432.39,205.13 433.66,205.23 432.69,206.06 432.99,207.30 431.90,206.63 430.81,207.30 431.11,206.06 430.14,205.23 431.41,205.13" fill="#222"/>
<polygon points="431.90,199.85 432.39,201.03 433.66,201.13 432.69,201.96 432.99,203.20 431.90,202.53 430.81,203.20 431.11,201.96 430.14,201.13 431.41,201.03" fill="#222"/>
<polygon points="431.90,195.75 432.39,196.93 433.66,197.03 432.69,197.86 432.99,199.10 431.90,198.43 430.81,199.10 431.11,197.86 430.14,197.03 431.41,196.93" fill="#222"/>
<polygon points="431.90,191.65 432.39,192.83 433.66,192.93 432.69,193.76 432.99,195.00 431.90,194.33 430.81,195.00 431.11,193.76 430.14,192.93 431.41,192.83" fill="#222"/>
<polygon points="436.50,202.45 436.99,203.63 438.26,203.73 437.29,204.56 437.59,205.80 436.50,205.13 435.41,205.80 435.71,204.56 434.74,203.73 436.01,203.63" fill="#222"/>
<polygon points="436.50,198.42 436.99,199.59 438.26,199.69 437.29,200.52 437.59,201.76 436.50,201.10 435.41,201.76 435.71,200.52 434.74,199.69 436.01,199.59" fill="#222"/>
<polygon points="436.50,194.38 436.99,195.56 438.26,195.66 437.29,196.49 437.59,197.73 436.50,197.07 435.41,197.73 435.71,196.49 434.74,195.66 436.01,195.56" fill="#222"/>
<polygon points="436.50,190.35 436.99,191.53 438.26,191.63 437.29,192.46 437.59,193.70 436.50,193.03 435.41,193.70 435.71,192.46 434.74,191.63 436.01,191.53" fill="#222"/>
<line x1="528.30" y1="196.30" x2="622.30" y2="196.30" stroke="#00a087" stroke-width="0.8"/>
<rect x="562.10" y="195.15" width="24.90" height="2.30" fill="#6cc5b0" stroke="#00a087" stroke-width="0.6"/>
<line x1="575.50" y1="195.15" x2="575.50" y2="197.45" stroke="#00a087" stroke-width="0.8"/>
<rect x="510.20" y="195.60" width="1.20" height="1.40" fill="#00a087"/>
<rect x="515.40" y="195.60" width="1.20" height="1.40" fill="#00a087"/>
<rect x="518.90" y="195.60" width="1.20" height="1.40" fill="#00a087"/>
<rect x="521.40" y="195.60" width="1.20" height="1.40" fill="#00a087"/>
<rect x="626.50" y="195.60" width="1.20" height="1.40" fill="#00a087"/>
<rect x="632.90" y="195.60" width="1.20" height="1.40" fill="#00a087"/>
<line x1="516.60" y1="199.30" x2="635.90" y2="199.30" stroke="#4dbbd5" stroke-width="0.8"/>
<rect x="560.70" y="197.80" width="30.60" height="3.00" fill="#9fd8e8" stroke="#4dbbd5" stroke-width="0.6"/>
<line x1="575.50" y1="197.80" x2="575.50" y2="200.80" stroke="#4dbbd5" stroke-width="0.8"/>
<rect x="463.40" y="198.60" width="1.20" height="1.40" fill="#4dbbd5"/>
<rect x="466.40" y="198.60" width="1.20" height="1.40" fill="#4dbbd5"/>
<rect x="474.40" y="198.60" width="1.20" height="1.40" fill="#4dbbd5"/>
<rect x="496.40" y="198.60" width="1.20" height="1.40" fill="#4dbbd5"/>
<rect x="636.70" y="198.60" width="1.20" height="1.40" fill="#4dbbd5"/>
<line x1="509.30" y1="202.90" x2="559.20" y2="202.90" stroke="#3c5488" stroke-width="0.8"/>
<rect x="559.20" y="201.25" width="33.60" height="3.30" fill="#8590b5" stroke="#3c5488" stroke-width="0.6"/>
<line x1="576.40" y1="201.25" x2="576.40" y2="204.55" stroke="#3c5488" stroke-width="0.8"/>
<rect x="443.35" y="202.20" width="1.30" height="1.40" fill="#3c5488"/>
<rect x="451.35" y="202.20" width="1.30" height="1.40" fill="#3c5488"/>
<rect x="458.35" y="202.20" width="1.30" height="1.40" fill="#3c5488"/>
<rect x="468.35" y="202.20" width="1.30" height="1.40" fill="#3c5488"/>
<rect x="477.35" y="202.20" width="1.30" height="1.40" fill="#3c5488"/>
<rect x="482.35" y="202.20" width="1.30" height="1.40" fill="#3c5488"/>
<rect x="488.35" y="202.20" width="1.30" height="1.40" fill="#3c5488"/>
<rect x="490.35" y="202.20" width="1.30" height="1.40" fill="#3c5488"/>
<rect x="493.35" y="202.20" width="1.30" height="1.40" fill="#3c5488"/>
<rect x="497.35" y="202.20" width="1.30" height="1.40" fill="#3c5488"/>
<rect x="499.35" y="202.20" width="1.30" height="1.40" fill="#3c5488"/>
<rect x="501.35" y="202.20" width="1.30" height="1.40" fill="#3c5488"/>
<rect x="503.35" y="202.20" width="1.30" height="1.40" fill="#3c5488"/>
<rect x="505.35" y="202.20" width="1.30" height="1.40" fill="#3c5488"/>
<line x1="442.00" y1="206.70" x2="617.60" y2="206.70" stroke="#e64b35" stroke-width="0.8"/>
<rect x="509.30" y="205.05" width="44.30" height="3.30" fill="#f19a8c" stroke="#e64b35" stroke-width="0.6"/>
<line x1="531.20" y1="205.05" x2="531.20" y2="208.35" stroke="#e64b35" stroke-width="0.8"/>
<rect x="441.40" y="206.00" width="1.20" height="1.40" fill="#e64b35"/>
<rect x="622.10" y="206.00" width="1.20" height="1.40" fill="#e64b35"/>
<rect x="624.20" y="206.00" width="1.20" height="1.40" fill="#e64b35"/>
<line x1="559.00" y1="202.90" x2="641.60" y2="202.90" stroke="#d2d6e4" stroke-width="1.7"/>
<rect x="559.20" y="201.25" width="33.60" height="3.30" fill="#8590b5" stroke="#3c5488" stroke-width="0.6"/>
<line x1="576.40" y1="201.25" x2="576.40" y2="204.55" stroke="#3c5488" stroke-width="0.8"/>
<text x="453.90" y="214.30" font-size="7.0" textLength="79.50" lengthAdjust="spacingAndGlyphs">Enzyme of diff. continents</text>
<rect x="536.60" y="210.50" width="4.40" height="4.20" fill="#fbd3cc" stroke="#e64b35" stroke-width="0.5"/>
<rect x="538.20" y="212.00" width="1.20" height="1.20" fill="#e64b35"/>
<text x="543.90" y="214.30" font-size="7.0" textLength="8.00" lengthAdjust="spacingAndGlyphs">AF</text>
<rect x="559.20" y="210.50" width="4.40" height="4.20" fill="#d3eef5" stroke="#4dbbd5" stroke-width="0.5"/>
<rect x="560.80" y="212.00" width="1.20" height="1.20" fill="#4dbbd5"/>
<text x="566.50" y="214.30" font-size="7.0" textLength="10.50" lengthAdjust="spacingAndGlyphs">AM</text>
<rect x="582.60" y="210.50" width="4.40" height="4.20" fill="#c6e9e1" stroke="#00a087" stroke-width="0.5"/>
<rect x="584.20" y="212.00" width="1.20" height="1.20" fill="#00a087"/>
<text x="590.60" y="214.30" font-size="7.0" textLength="8.40" lengthAdjust="spacingAndGlyphs">AS</text>
<rect x="605.20" y="210.50" width="4.40" height="4.20" fill="#cfd4e3" stroke="#3c5488" stroke-width="0.5"/>
<rect x="606.80" y="212.00" width="1.20" height="1.20" fill="#3c5488"/>
<text x="612.80" y="214.30" font-size="7.0" textLength="8.20" lengthAdjust="spacingAndGlyphs">EU</text>
<line x1="430.50" y1="278.40" x2="653.50" y2="278.40" stroke="#dcdcdc" stroke-width="0.5"/>
<line x1="569.00" y1="220.80" x2="569.00" y2="335.30" stroke="#dcdcdc" stroke-width="0.5"/>
<ellipse cx="576.1" cy="277.6" rx="68.6" ry="52.4" transform="rotate(-6.5 576.1 277.6)" fill="#4dbbd5" fill-opacity="0.12" stroke="none"/>
<ellipse cx="575.4" cy="274.7" rx="69.3" ry="35.1" transform="rotate(-5.1 575.4 274.7)" fill="#3c5488" fill-opacity="0.12" stroke="none"/>
<ellipse cx="531.5" cy="271.2" rx="93.0" ry="28.5" transform="rotate(10.8 531.5 271.2)" fill="#e64b35" fill-opacity="0.1" stroke="none"/>
<ellipse cx="574.4" cy="290.4" rx="48.7" ry="37.3" transform="rotate(-13.6 574.4 290.4)" fill="#00a087" fill-opacity="0.12" stroke="none"/>
<path d="M521.4 279.4h1.6M480.4 269.2h1.6M492.8 276.3h1.6M535.4 273.4h1.6M516.4 255.3h1.6M556.6 301.2h1.6M560.7 265.2h1.6M534.9 257.0h1.6M564.6 287.3h1.6M524.4 250.8h1.6M503.5 254.3h1.6M525.2 261.6h1.6M574.5 274.1h1.6M487.1 259.1h1.6M512.6 282.0h1.6M544.0 261.7h1.6M497.7 268.5h1.6M439.3 251.7h1.6M488.2 259.4h1.6M526.2 290.0h1.6M560.6 269.8h1.6M564.8 285.0h1.6M545.8 260.1h1.6M534.4 257.3h1.6M488.7 265.0h1.6M534.0 272.8h1.6M518.2 264.4h1.6M535.3 286.4h1.6M485.3 262.5h1.6M532.8 262.6h1.6M553.9 283.1h1.6M516.2 273.4h1.6M515.2 255.9h1.6M534.1 268.6h1.6M586.8 280.7h1.6M502.7 247.9h1.6M545.2 253.8h1.6M464.7 268.3h1.6M561.9 263.4h1.6M503.2 255.9h1.6M455.1 264.3h1.6M576.0 268.2h1.6M558.4 255.4h1.6M486.9 245.7h1.6M495.5 251.6h1.6M537.5 267.6h1.6M561.2 285.6h1.6M575.8 285.1h1.6M514.7 265.7h1.6M562.0 270.1h1.6M527.7 272.2h1.6M527.2 268.2h1.6M518.8 269.4h1.6M471.5 247.1h1.6M533.6 272.2h1.6M494.2 266.7h1.6M521.3 267.2h1.6M530.8 268.9h1.6M542.7 260.8h1.6M478.1 273.6h1.6M572.3 264.9h1.6M515.8 290.5h1.6M544.2 271.4h1.6M519.0 273.1h1.6M551.2 262.8h1.6M579.6 281.0h1.6M535.3 256.6h1.6M511.6 247.9h1.6M570.4 282.3h1.6M531.4 267.2h1.6M521.2 275.5h1.6M510.2 252.0h1.6M495.0 257.7h1.6M487.1 244.2h1.6M465.5 267.1h1.6M525.3 270.6h1.6M511.5 261.8h1.6M539.2 250.2h1.6M529.4 266.0h1.6" stroke="#e64b35" stroke-width="1.6" fill="none"/>
<path d="M549.3 285.6h1.6M574.2 291.7h1.6M555.6 315.8h1.6M530.8 263.0h1.6M573.0 274.6h1.6M531.0 283.0h1.6M484.7 259.3h1.6M555.0 290.4h1.6M543.6 279.6h1.6M603.4 287.8h1.6M569.8 250.3h1.6M551.4 282.3h1.6M517.3 263.0h1.6M557.2 277.8h1.6M608.9 251.1h1.6M577.9 251.0h1.6M608.7 272.3h1.6M591.7 293.0h1.6M542.8 274.2h1.6M598.1 272.9h1.6M552.1 272.8h1.6M581.9 254.6h1.6M590.3 281.7h1.6M550.4 273.1h1.6M566.5 288.4h1.6M528.5 280.1h1.6M544.4 263.5h1.6M572.6 269.6h1.6M596.6 282.6h1.6M593.7 285.4h1.6M559.0 278.0h1.6M578.9 277.4h1.6M550.0 291.5h1.6M567.8 301.6h1.6M556.5 284.0h1.6M574.5 262.3h1.6M586.3 283.2h1.6M501.2 272.2h1.6M568.0 285.8h1.6" stroke="#4dbbd5" stroke-width="1.6" fill="none"/>
<path d="M547.5 289.5h1.6M576.9 271.2h1.6M556.9 289.5h1.6M578.9 283.8h1.6M583.5 288.7h1.6M568.0 280.9h1.6M610.8 299.6h1.6M573.0 277.6h1.6M561.4 294.3h1.6M556.6 312.2h1.6M546.4 292.8h1.6M567.1 304.5h1.6M565.4 298.2h1.6M569.7 275.8h1.6M565.8 304.7h1.6M593.3 326.7h1.6M577.2 313.5h1.6M565.9 284.7h1.6M554.6 269.2h1.6M557.8 309.9h1.6M587.0 294.8h1.6M571.5 297.8h1.6M538.5 287.4h1.6M583.2 291.9h1.6M617.1 303.0h1.6M566.1 297.3h1.6M561.3 317.5h1.6M583.5 273.4h1.6M557.5 290.1h1.6M561.7 254.8h1.6M572.9 283.1h1.6M584.0 320.8h1.6M603.2 266.4h1.6M564.2 278.4h1.6M530.2 282.5h1.6M561.2 310.7h1.6M581.4 287.4h1.6M571.5 299.6h1.6M545.8 317.8h1.6M610.0 290.9h1.6M609.4 290.4h1.6M590.2 306.6h1.6M573.5 298.5h1.6M599.8 306.9h1.6M574.3 279.4h1.6M552.1 265.6h1.6M561.5 315.5h1.6M569.6 276.9h1.6M604.6 303.3h1.6M573.3 300.2h1.6M561.0 300.9h1.6M565.3 302.4h1.6M600.0 304.1h1.6M590.3 300.4h1.6M538.0 293.8h1.6M543.7 274.7h1.6M552.9 266.4h1.6M573.9 260.5h1.6M565.0 281.2h1.6M600.8 265.4h1.6M575.2 279.6h1.6M559.3 280.9h1.6M563.2 281.6h1.6M588.6 310.9h1.6M574.7 282.6h1.6M601.8 279.6h1.6M578.8 302.3h1.6M591.8 286.4h1.6M558.9 283.0h1.6M606.7 285.3h1.6M583.5 317.1h1.6M564.4 296.6h1.6M554.6 282.7h1.6M593.1 292.0h1.6M586.3 272.6h1.6M555.7 300.7h1.6M557.2 286.5h1.6M576.0 283.2h1.6M569.6 299.2h1.6M561.8 279.8h1.6M597.3 288.8h1.6M561.4 283.3h1.6M565.0 299.6h1.6M583.9 278.4h1.6M549.2 309.7h1.6M564.0 305.1h1.6M548.3 285.4h1.6M549.3 273.8h1.6M566.8 315.3h1.6M572.3 294.0h1.6M575.8 279.7h1.6M589.1 282.5h1.6M588.2 280.0h1.6M553.6 296.7h1.6M558.8 299.3h1.6M542.9 300.0h1.6M544.0 298.5h1.6M559.2 314.8h1.6M557.8 291.9h1.6M579.8 305.9h1.6M556.4 304.6h1.6M574.5 294.7h1.6M593.4 292.8h1.6M598.0 302.2h1.6M527.0 293.0h1.6M583.0 275.8h1.6M570.3 297.0h1.6M587.2 284.3h1.6M570.6 299.5h1.6M553.3 288.6h1.6M554.4 284.7h1.6M525.1 293.0h1.6M542.7 288.0h1.6M586.5 278.7h1.6M567.2 281.8h1.6M571.3 305.3h1.6M574.4 312.5h1.6M565.9 299.0h1.6M587.0 301.1h1.6M586.5 271.4h1.6M585.8 300.1h1.6M548.9 307.9h1.6M584.6 319.9h1.6M565.7 292.2h1.6M572.5 285.9h1.6M567.6 289.9h1.6M581.2 273.3h1.6M584.3 284.4h1.6M614.1 274.6h1.6M559.6 294.7h1.6M576.3 307.9h1.6M591.2 302.3h1.6M578.5 295.9h1.6M587.1 305.3h1.6M565.9 295.1h1.6M580.7 276.7h1.6M557.6 265.2h1.6M554.8 289.4h1.6M585.1 296.3h1.6M571.8 296.0h1.6M559.5 297.6h1.6M570.8 292.6h1.6M559.5 319.6h1.6M543.7 297.5h1.6M571.6 302.1h1.6M591.1 322.3h1.6M609.7 308.5h1.6M566.6 287.5h1.6M571.1 307.7h1.6M578.1 326.5h1.6M570.3 318.5h1.6M575.8 271.5h1.6M570.0 299.8h1.6M591.7 305.1h1.6M599.8 295.1h1.6M542.0 294.5h1.6M559.7 313.7h1.6M593.7 288.2h1.6M550.7 280.1h1.6M592.2 295.1h1.6M555.6 287.8h1.6M581.1 276.6h1.6M558.3 292.2h1.6M605.6 271.6h1.6M565.2 291.8h1.6M586.2 281.0h1.6M591.9 318.4h1.6M574.8 289.7h1.6M566.5 282.4h1.6M596.3 300.7h1.6M568.4 320.8h1.6M609.8 287.4h1.6M567.5 319.6h1.6M562.0 301.9h1.6M537.2 278.3h1.6M586.7 271.8h1.6M566.1 309.9h1.6M567.7 298.6h1.6M572.1 299.5h1.6M554.2 297.4h1.6M560.6 266.2h1.6M577.6 288.8h1.6M540.0 282.9h1.6M553.6 277.3h1.6M589.4 311.3h1.6M573.6 294.4h1.6M589.5 314.4h1.6M559.5 308.8h1.6M558.8 312.4h1.6M582.7 309.9h1.6M552.2 290.3h1.6M562.0 290.6h1.6M545.1 279.9h1.6M571.4 287.1h1.6M569.6 296.8h1.6M568.8 315.9h1.6M595.6 297.7h1.6M576.0 303.3h1.6M590.7 279.0h1.6M585.5 291.4h1.6M570.3 275.7h1.6M547.3 297.9h1.6M593.3 286.7h1.6M588.5 291.8h1.6" stroke="#00a087" stroke-width="1.6" fill="none"/>
<path d="M641.1 260.9h1.6M553.4 283.1h1.6M580.0 260.5h1.6M599.0 268.9h1.6M585.9 271.0h1.6M575.9 273.5h1.6M552.1 301.4h1.6M591.0 260.2h1.6M609.4 255.6h1.6M559.0 267.8h1.6M581.4 280.4h1.6M599.5 259.7h1.6M564.7 290.2h1.6M531.7 250.3h1.6M624.2 251.1h1.6M550.7 272.3h1.6M571.6 273.2h1.6M574.7 286.5h1.6M611.1 269.5h1.6M557.4 290.7h1.6M600.8 273.0h1.6M558.2 272.3h1.6M560.6 290.2h1.6M576.2 282.7h1.6M533.6 297.7h1.6M552.4 279.3h1.6M613.5 286.9h1.6M527.9 255.9h1.6M616.5 254.4h1.6M542.2 278.2h1.6M543.6 293.1h1.6M546.2 279.4h1.6M623.2 271.5h1.6M580.2 275.9h1.6M558.9 253.0h1.6M576.1 257.0h1.6M641.8 256.2h1.6M601.5 294.3h1.6M546.5 286.5h1.6M574.1 259.5h1.6M545.7 258.4h1.6M577.7 287.4h1.6M572.2 254.6h1.6M596.5 279.9h1.6M568.7 291.3h1.6M532.8 259.5h1.6M604.8 256.5h1.6M558.5 284.4h1.6M623.7 249.7h1.6M560.2 287.9h1.6M580.1 249.7h1.6M578.5 267.6h1.6M617.6 259.7h1.6M587.3 272.6h1.6M548.6 274.1h1.6M585.6 263.0h1.6M555.7 297.0h1.6M556.8 278.8h1.6M550.4 268.8h1.6M598.3 274.0h1.6M575.3 275.9h1.6M575.9 272.6h1.6M522.9 279.3h1.6M546.6 268.9h1.6M556.2 262.7h1.6M573.1 263.5h1.6M584.9 288.2h1.6M605.1 263.3h1.6M567.4 285.1h1.6M586.1 276.8h1.6M574.5 274.5h1.6M583.2 268.0h1.6M591.0 258.1h1.6M598.6 271.0h1.6M590.5 281.3h1.6M544.9 248.8h1.6M536.5 281.4h1.6M619.4 288.8h1.6M586.3 275.9h1.6M568.9 275.4h1.6M580.6 295.6h1.6M539.9 279.9h1.6M615.7 296.7h1.6M632.2 285.5h1.6M574.5 274.1h1.6M559.5 288.4h1.6M456.6 240.1h1.6M602.1 257.8h1.6M537.7 273.4h1.6M565.1 288.7h1.6M587.8 276.8h1.6M553.2 271.6h1.6M580.0 259.1h1.6M550.4 276.5h1.6M593.0 268.3h1.6M616.2 262.1h1.6M534.6 273.6h1.6M530.4 265.5h1.6M617.2 258.8h1.6M526.2 280.0h1.6M568.9 289.1h1.6M547.4 264.3h1.6M571.3 275.5h1.6M613.1 258.7h1.6M583.8 273.8h1.6M515.9 266.6h1.6M594.8 256.2h1.6M575.2 260.1h1.6M593.4 264.2h1.6M537.9 274.4h1.6M591.8 285.0h1.6M594.5 257.4h1.6M579.1 290.2h1.6M559.0 266.1h1.6M594.5 268.6h1.6M629.0 261.4h1.6M590.2 281.0h1.6M600.8 265.9h1.6M538.0 311.9h1.6M585.7 274.7h1.6M569.7 270.0h1.6M549.6 272.4h1.6M573.1 270.6h1.6M564.6 285.9h1.6M560.1 289.5h1.6M565.6 289.1h1.6M607.4 255.7h1.6M576.2 257.6h1.6M545.6 278.7h1.6M616.2 244.9h1.6M613.2 282.1h1.6M551.9 274.5h1.6M585.2 285.6h1.6M639.0 263.1h1.6M557.9 273.4h1.6M541.2 268.7h1.6M598.8 292.3h1.6M600.5 295.8h1.6M547.2 277.6h1.6M541.5 242.4h1.6M619.0 246.0h1.6M566.4 268.7h1.6M557.1 286.8h1.6M609.0 273.1h1.6M598.2 264.9h1.6M597.0 253.8h1.6M588.2 274.5h1.6M564.3 260.5h1.6M585.8 263.9h1.6M587.4 281.7h1.6M536.6 282.5h1.6M550.5 258.0h1.6M547.9 265.8h1.6M569.0 266.4h1.6M550.3 240.1h1.6M552.5 267.5h1.6M574.5 265.6h1.6M598.1 257.7h1.6M523.6 280.6h1.6M553.0 309.1h1.6M566.8 285.3h1.6M608.5 279.7h1.6M518.3 279.9h1.6M605.0 268.4h1.6M571.2 304.1h1.6M518.9 269.1h1.6M543.6 273.0h1.6M631.5 266.6h1.6M611.3 260.7h1.6M612.3 254.3h1.6M469.0 270.3h1.6M586.4 275.0h1.6M633.3 253.7h1.6M597.6 263.2h1.6M553.9 273.3h1.6M563.4 295.1h1.6M562.8 274.1h1.6M553.8 286.2h1.6M577.6 244.0h1.6M571.9 254.3h1.6M530.1 261.6h1.6M530.7 280.7h1.6M612.4 287.0h1.6M578.4 256.8h1.6M601.7 266.5h1.6M590.4 278.5h1.6M569.0 280.0h1.6M591.1 277.0h1.6M507.6 272.0h1.6M565.3 284.2h1.6M613.6 255.5h1.6M585.0 267.3h1.6M608.8 256.7h1.6M613.2 264.7h1.6M594.9 253.2h1.6M602.6 268.2h1.6M632.6 253.1h1.6M592.1 257.6h1.6M586.4 260.9h1.6M566.9 274.6h1.6M594.1 252.7h1.6M514.5 286.0h1.6M572.8 282.9h1.6M596.4 260.1h1.6M594.6 269.8h1.6M605.2 263.3h1.6M530.5 272.3h1.6M578.6 284.4h1.6M577.5 265.1h1.6M583.1 276.4h1.6M572.2 310.4h1.6M599.7 285.6h1.6M549.8 267.8h1.6M581.9 263.0h1.6M589.9 262.5h1.6M532.7 287.3h1.6M598.7 242.0h1.6M622.8 282.7h1.6M568.8 280.4h1.6M536.1 262.2h1.6M567.2 280.2h1.6M593.0 259.1h1.6M605.7 279.9h1.6M568.9 269.9h1.6M572.4 268.7h1.6M587.6 254.1h1.6M584.8 267.9h1.6M612.3 273.1h1.6M586.6 267.1h1.6M542.6 278.3h1.6M593.1 296.2h1.6M610.6 259.1h1.6M588.4 252.8h1.6M610.7 263.5h1.6M576.7 289.8h1.6M563.8 265.7h1.6M601.5 274.1h1.6M562.0 265.5h1.6M538.4 269.6h1.6M638.5 245.7h1.6M549.7 292.1h1.6M592.2 275.0h1.6M503.5 267.8h1.6M539.8 272.7h1.6M599.0 242.4h1.6M601.1 267.4h1.6M497.1 262.3h1.6M546.8 286.4h1.6M598.1 287.4h1.6M623.5 285.6h1.6M598.1 264.1h1.6M572.6 250.9h1.6M492.2 264.7h1.6M619.4 250.8h1.6M591.2 271.1h1.6M584.6 258.5h1.6M604.3 288.5h1.6M636.6 256.7h1.6M542.3 239.2h1.6M637.2 281.5h1.6M561.5 274.5h1.6M594.3 253.8h1.6M561.2 259.9h1.6M588.0 271.4h1.6M572.7 260.5h1.6M557.3 297.4h1.6M549.7 289.5h1.6M561.1 290.7h1.6M545.1 267.4h1.6M587.5 277.4h1.6M598.1 265.5h1.6M586.3 277.3h1.6M540.9 283.1h1.6M596.1 259.6h1.6M566.7 277.4h1.6M614.6 275.7h1.6M585.2 271.4h1.6M603.3 259.5h1.6M612.3 272.6h1.6M600.4 263.2h1.6M605.4 258.5h1.6M585.2 279.6h1.6M571.4 256.4h1.6M574.7 293.3h1.6M572.9 288.6h1.6M585.3 280.9h1.6M569.0 258.3h1.6M591.7 276.2h1.6M575.1 279.3h1.6M555.7 289.9h1.6M568.2 297.8h1.6M556.9 274.3h1.6M579.2 295.2h1.6M595.3 266.9h1.6M603.8 258.1h1.6M565.0 259.3h1.6M583.1 269.7h1.6M533.6 292.2h1.6M539.5 294.1h1.6M595.3 268.7h1.6M560.2 266.2h1.6M582.5 288.8h1.6M486.2 264.2h1.6M580.4 281.1h1.6M583.6 264.4h1.6M598.4 259.2h1.6M583.5 266.6h1.6M579.9 272.9h1.6M597.9 258.6h1.6M534.0 275.8h1.6M546.4 242.7h1.6M588.9 273.0h1.6M542.1 275.5h1.6M605.7 254.4h1.6M523.2 282.2h1.6M517.1 283.9h1.6M599.7 247.4h1.6M593.2 277.6h1.6M551.1 257.0h1.6M608.0 249.2h1.6M546.7 276.5h1.6M577.9 293.3h1.6M574.8 251.0h1.6M535.7 282.1h1.6M631.7 240.9h1.6M564.7 265.7h1.6M602.8 289.6h1.6M578.2 285.0h1.6M590.0 284.0h1.6M537.4 271.1h1.6M577.6 248.6h1.6M575.8 276.2h1.6M483.6 271.7h1.6M553.5 255.2h1.6M580.8 255.4h1.6M592.9 267.1h1.6M547.0 290.7h1.6M602.1 299.1h1.6M583.7 281.9h1.6M563.8 271.0h1.6M495.0 291.4h1.6M587.8 265.2h1.6M566.3 272.4h1.6M605.2 256.2h1.6M558.2 256.4h1.6M564.9 274.2h1.6M571.0 269.3h1.6M575.9 276.8h1.6M615.0 266.9h1.6M595.0 257.4h1.6M558.8 309.6h1.6M517.8 271.8h1.6M554.0 284.5h1.6M560.4 264.3h1.6M473.1 260.7h1.6M577.7 266.6h1.6M555.8 283.9h1.6M594.0 290.0h1.6M602.8 257.8h1.6M593.3 296.8h1.6M574.4 274.0h1.6M592.5 261.7h1.6" stroke="#3c5488" stroke-width="1.6" fill="none"/>
<path d="M530.4 268.6h1.6M522.1 280.0h1.6M532.0 278.2h1.6M489.2 269.9h1.6M496.5 266.5h1.6M554.7 282.1h1.6M523.9 273.0h1.6M533.4 281.5h1.6M550.0 269.0h1.6M507.7 277.6h1.6M515.8 243.3h1.6M472.7 249.6h1.6M531.5 261.3h1.6M528.3 254.0h1.6M525.9 278.2h1.6M523.1 288.6h1.6M538.5 271.8h1.6M559.0 269.8h1.6M464.8 252.0h1.6M583.3 282.6h1.6M494.8 250.8h1.6M471.2 249.0h1.6M514.0 252.5h1.6M501.6 264.3h1.6M530.8 262.1h1.6M507.7 284.8h1.6M454.7 251.7h1.6M512.4 276.1h1.6M548.7 274.9h1.6M580.9 258.4h1.6M563.9 290.0h1.6M510.7 276.2h1.6M483.9 254.6h1.6M535.2 270.7h1.6M559.3 290.5h1.6M453.3 255.1h1.6M602.3 269.8h1.6M562.9 269.9h1.6M560.7 247.5h1.6M487.4 278.1h1.6M531.6 267.8h1.6M538.2 284.4h1.6M514.7 265.4h1.6M521.6 259.5h1.6M514.8 260.8h1.6M551.6 270.3h1.6M559.1 274.7h1.6M501.6 254.3h1.6M491.0 255.6h1.6M541.0 272.2h1.6M525.0 270.5h1.6M527.9 262.7h1.6M509.8 265.9h1.6M506.6 264.2h1.6M528.0 272.9h1.6M550.6 271.1h1.6M475.9 259.0h1.6M593.9 269.1h1.6M522.3 267.3h1.6M522.6 249.8h1.6M528.2 275.2h1.6M508.5 271.0h1.6M485.4 266.6h1.6M583.4 290.8h1.6M552.3 274.7h1.6M557.4 271.8h1.6M528.8 253.8h1.6M485.0 259.8h1.6M502.9 260.0h1.6M480.3 247.6h1.6" stroke="#e64b35" stroke-width="1.6" fill="none"/>
<path d="M581.1 277.6h1.6M572.4 262.0h1.6M576.5 298.2h1.6M549.3 271.6h1.6M585.2 240.4h1.6M572.0 291.2h1.6M571.1 233.4h1.6M555.8 314.9h1.6M559.0 281.6h1.6M575.8 285.4h1.6M574.3 286.5h1.6M469.7 266.6h1.6M546.8 255.7h1.6M510.5 280.4h1.6M585.3 286.7h1.6M570.8 249.1h1.6M520.7 284.4h1.6M570.1 264.9h1.6M622.5 282.3h1.6M547.9 282.7h1.6M558.0 289.7h1.6M557.8 290.7h1.6M548.0 275.7h1.6M591.7 283.2h1.6M605.9 270.2h1.6M554.3 270.7h1.6M570.5 299.9h1.6M498.0 282.1h1.6M537.3 272.2h1.6M571.7 282.7h1.6M549.3 286.3h1.6M551.9 240.8h1.6M546.9 294.0h1.6M577.8 282.7h1.6M551.3 264.7h1.6M612.4 291.4h1.6" stroke="#4dbbd5" stroke-width="1.6" fill="none"/>
<path d="M585.7 299.7h1.6M565.7 311.5h1.6M585.2 313.6h1.6M589.6 291.7h1.6M577.4 287.7h1.6M559.0 270.9h1.6M576.5 276.9h1.6M573.4 291.1h1.6M564.3 292.7h1.6M568.7 292.6h1.6M558.6 295.8h1.6M572.6 283.0h1.6M551.8 295.7h1.6M548.5 294.9h1.6M608.3 326.3h1.6M528.4 291.5h1.6M578.5 294.2h1.6M612.3 294.5h1.6M563.2 312.7h1.6M564.1 272.1h1.6M569.0 311.8h1.6M548.4 283.9h1.6M566.1 313.4h1.6M577.8 276.2h1.6M582.9 294.8h1.6M568.4 284.7h1.6M591.4 263.2h1.6M541.1 324.9h1.6M580.1 289.7h1.6M539.6 305.2h1.6M574.9 285.4h1.6M597.2 304.9h1.6M561.4 305.1h1.6M587.3 299.5h1.6M565.3 283.4h1.6M605.6 294.1h1.6M549.9 290.2h1.6M558.0 314.3h1.6M592.7 275.7h1.6M588.0 312.9h1.6M575.1 279.3h1.6M579.6 280.9h1.6M571.6 296.6h1.6M553.7 288.1h1.6M569.5 291.8h1.6M568.6 307.2h1.6M550.2 289.3h1.6M579.1 306.5h1.6M545.4 307.2h1.6M573.6 305.8h1.6M529.3 296.0h1.6M554.0 283.9h1.6M580.0 311.8h1.6M579.8 309.6h1.6M562.7 286.7h1.6M561.5 278.4h1.6M538.2 305.1h1.6M586.3 304.9h1.6M565.5 321.7h1.6M549.1 285.7h1.6M582.7 302.5h1.6M561.5 302.5h1.6M561.7 274.8h1.6M567.0 281.1h1.6M575.5 292.6h1.6M537.1 284.7h1.6M559.3 291.4h1.6M536.1 317.2h1.6M594.8 273.9h1.6M555.7 285.3h1.6M560.8 316.8h1.6M567.7 280.4h1.6M556.5 313.4h1.6M577.2 310.7h1.6M588.5 286.8h1.6M549.1 271.6h1.6M555.2 298.7h1.6M619.5 291.4h1.6M531.9 309.2h1.6M566.6 275.2h1.6M589.9 312.4h1.6M566.7 300.3h1.6M570.4 317.4h1.6M561.3 308.0h1.6M544.6 296.8h1.6M572.6 316.1h1.6M593.3 254.2h1.6M552.3 290.8h1.6M533.9 305.0h1.6M584.7 273.3h1.6M584.5 286.2h1.6M546.1 281.1h1.6M530.4 288.7h1.6M542.5 295.5h1.6M568.2 300.9h1.6M570.4 317.0h1.6M566.2 309.9h1.6M560.4 263.5h1.6M587.0 302.7h1.6M569.9 303.4h1.6M596.3 304.5h1.6M568.9 272.8h1.6M571.3 287.9h1.6M555.3 283.2h1.6M572.3 311.9h1.6M599.4 278.1h1.6M534.6 298.6h1.6M576.3 296.4h1.6M569.0 288.7h1.6M579.6 302.0h1.6M582.0 279.7h1.6M588.4 304.4h1.6M556.9 271.5h1.6M589.8 285.5h1.6M567.1 287.3h1.6M595.0 310.2h1.6M567.7 275.6h1.6M565.3 272.2h1.6M580.2 278.3h1.6M589.6 276.7h1.6M591.9 299.5h1.6M561.1 303.8h1.6M589.0 295.2h1.6M536.7 283.6h1.6M566.5 297.8h1.6M559.6 294.8h1.6M575.4 313.8h1.6M577.6 288.8h1.6M562.2 312.5h1.6M596.9 303.9h1.6M533.0 296.7h1.6M570.6 303.8h1.6M589.6 273.0h1.6M608.7 288.9h1.6M598.6 316.2h1.6M569.9 313.5h1.6M560.9 298.1h1.6M544.3 308.3h1.6M602.2 308.9h1.6M569.4 306.4h1.6M547.5 300.3h1.6M576.3 281.7h1.6M591.8 281.3h1.6M581.0 298.3h1.6M576.1 271.7h1.6M592.8 318.2h1.6M575.0 279.2h1.6M560.9 294.3h1.6M546.9 280.3h1.6M561.7 289.0h1.6M551.8 287.0h1.6M573.2 310.4h1.6M547.3 302.1h1.6M615.2 292.6h1.6M598.7 278.5h1.6M548.6 282.7h1.6M588.1 269.2h1.6M570.5 306.7h1.6M577.6 303.2h1.6M549.8 281.3h1.6M568.2 302.7h1.6M540.9 307.7h1.6M580.2 306.4h1.6M558.3 288.7h1.6M575.1 273.1h1.6M572.8 298.2h1.6M547.4 307.9h1.6M576.4 293.1h1.6M572.0 277.6h1.6M594.5 291.7h1.6M552.8 281.5h1.6M599.2 299.2h1.6M566.1 278.5h1.6M577.8 309.4h1.6M538.8 313.5h1.6M570.3 316.7h1.6M588.6 310.4h1.6M560.9 309.4h1.6M553.6 260.5h1.6M560.9 277.2h1.6M561.3 265.8h1.6M617.5 287.8h1.6M569.1 310.3h1.6M555.8 319.4h1.6M577.7 278.3h1.6M577.4 299.8h1.6M582.6 304.0h1.6M568.3 297.0h1.6M595.6 296.2h1.6M580.8 268.8h1.6M549.3 292.7h1.6M575.6 289.5h1.6M553.0 287.3h1.6M587.5 284.4h1.6M571.2 303.1h1.6M573.6 289.9h1.6M550.2 292.7h1.6M534.3 313.5h1.6M573.0 290.5h1.6M567.7 279.8h1.6M569.5 288.2h1.6M547.5 282.6h1.6M572.5 287.6h1.6M584.0 280.3h1.6M566.3 299.5h1.6M602.1 320.9h1.6" stroke="#00a087" stroke-width="1.6" fill="none"/>
<path d="M559.0 293.7h1.6M610.3 263.7h1.6M608.2 273.1h1.6M592.1 265.8h1.6M554.5 291.3h1.6M577.0 268.8h1.6M590.9 273.3h1.6M570.5 253.6h1.6M514.4 264.4h1.6M589.3 270.3h1.6M580.1 265.9h1.6M571.5 278.4h1.6M556.8 302.0h1.6M608.7 268.1h1.6M579.1 269.2h1.6M634.6 248.6h1.6M596.5 259.7h1.6M542.4 274.0h1.6M518.3 282.4h1.6M578.0 295.5h1.6M586.1 270.7h1.6M595.7 273.5h1.6M565.8 275.6h1.6M610.3 255.4h1.6M563.4 284.6h1.6M563.8 296.8h1.6M555.8 241.2h1.6M596.8 259.1h1.6M519.9 264.6h1.6M539.6 277.7h1.6M568.1 277.4h1.6M616.0 283.8h1.6M545.6 294.6h1.6M618.3 243.6h1.6M567.8 277.2h1.6M573.9 264.7h1.6M545.4 305.9h1.6M586.1 274.2h1.6M588.1 258.1h1.6M592.5 271.8h1.6M584.8 284.0h1.6M582.8 263.6h1.6M510.0 273.5h1.6M561.2 279.1h1.6M578.1 275.1h1.6M607.5 268.4h1.6M601.6 293.4h1.6M574.2 269.1h1.6M612.6 246.9h1.6M602.7 275.8h1.6M590.8 254.9h1.6M578.7 259.7h1.6M568.2 268.7h1.6M528.3 273.0h1.6M554.8 297.4h1.6M598.8 274.5h1.6M578.0 272.2h1.6M625.0 275.6h1.6M566.9 275.5h1.6M628.1 248.9h1.6M571.1 271.9h1.6M588.6 264.5h1.6M522.5 274.2h1.6M596.1 267.4h1.6M584.3 293.6h1.6M566.3 257.0h1.6M593.1 284.7h1.6M564.5 272.4h1.6M480.4 256.1h1.6M593.3 251.9h1.6M520.2 262.7h1.6M551.4 254.3h1.6M572.7 266.3h1.6M615.1 284.5h1.6M566.2 261.1h1.6M569.8 269.8h1.6M589.8 297.1h1.6M552.0 263.0h1.6M564.8 289.2h1.6M585.9 267.6h1.6M589.3 248.9h1.6M587.3 266.3h1.6M570.8 272.4h1.6M595.3 278.6h1.6M580.9 260.2h1.6M616.6 273.5h1.6M549.5 290.4h1.6M599.8 260.8h1.6M546.7 281.8h1.6M579.7 278.6h1.6M593.9 276.4h1.6M570.2 271.2h1.6M571.6 274.9h1.6M600.3 262.8h1.6M556.7 286.5h1.6M571.0 264.8h1.6M558.9 258.9h1.6M576.8 267.9h1.6M612.6 278.2h1.6M554.5 281.0h1.6M597.4 278.0h1.6M624.3 276.9h1.6M602.8 275.2h1.6M547.1 278.6h1.6M597.6 268.3h1.6M592.5 272.1h1.6M549.2 269.8h1.6M581.8 277.6h1.6M588.3 264.3h1.6M578.4 277.8h1.6M585.6 270.6h1.6M558.7 272.1h1.6M564.3 259.6h1.6M568.8 283.4h1.6M570.1 267.1h1.6M539.0 301.0h1.6M559.9 263.4h1.6M569.3 279.8h1.6M597.5 257.1h1.6M593.0 260.9h1.6M558.7 319.3h1.6M535.5 302.2h1.6M571.8 284.4h1.6M607.3 270.1h1.6M587.0 294.3h1.6M585.3 290.0h1.6M599.4 245.0h1.6M569.7 282.3h1.6M545.2 280.3h1.6M561.8 271.4h1.6M612.4 257.1h1.6M575.8 274.7h1.6M573.8 292.6h1.6M583.5 276.4h1.6M560.7 269.3h1.6M542.7 277.8h1.6M589.0 279.6h1.6M578.6 278.9h1.6M565.2 273.0h1.6M573.7 280.4h1.6M561.8 256.7h1.6M586.6 280.2h1.6M576.4 273.0h1.6M635.0 258.0h1.6M554.2 270.3h1.6M553.5 275.4h1.6M568.2 284.0h1.6M578.7 259.6h1.6M593.4 272.2h1.6M582.3 254.3h1.6M578.3 275.0h1.6M646.3 278.3h1.6M566.0 280.3h1.6M592.2 266.5h1.6M561.9 272.3h1.6M583.6 258.9h1.6M571.3 263.4h1.6M605.6 274.3h1.6M565.6 290.2h1.6M590.9 285.3h1.6M597.7 281.2h1.6M576.4 258.3h1.6M593.2 250.7h1.6M584.8 267.9h1.6M493.3 262.5h1.6M543.0 257.8h1.6M611.4 248.5h1.6M588.2 262.7h1.6M629.2 262.5h1.6M586.6 268.6h1.6M578.0 279.3h1.6M598.6 274.2h1.6M577.2 277.4h1.6M586.2 301.8h1.6M581.6 270.5h1.6M598.2 266.8h1.6M601.4 257.6h1.6M598.4 258.9h1.6M561.2 289.4h1.6M536.0 277.8h1.6M610.6 297.9h1.6M612.4 249.9h1.6M555.7 251.9h1.6M587.0 308.7h1.6M550.5 259.3h1.6M547.5 257.0h1.6M562.2 270.1h1.6M537.9 289.5h1.6M634.4 247.1h1.6M531.3 268.8h1.6M575.5 265.1h1.6M559.8 243.9h1.6M570.5 286.2h1.6M578.1 280.7h1.6M552.3 282.9h1.6M542.4 276.1h1.6M626.0 253.2h1.6M563.8 284.4h1.6M601.5 271.8h1.6M544.4 254.3h1.6M556.1 261.2h1.6M581.8 267.4h1.6M617.6 270.4h1.6M546.3 301.5h1.6M580.4 263.9h1.6M573.6 251.9h1.6M574.2 273.3h1.6M610.1 282.9h1.6M592.4 271.4h1.6M569.6 271.3h1.6M560.1 290.2h1.6M562.3 249.1h1.6M597.0 273.6h1.6M555.8 266.8h1.6M583.0 281.1h1.6M597.1 257.8h1.6M589.3 299.7h1.6M512.2 268.6h1.6M586.0 260.2h1.6M613.5 282.5h1.6M603.7 249.0h1.6M549.5 290.0h1.6M583.2 264.2h1.6M560.6 277.9h1.6M554.4 295.3h1.6M519.9 273.4h1.6M535.9 276.8h1.6M602.7 281.9h1.6M579.2 266.3h1.6M595.1 272.3h1.6M591.1 260.1h1.6M494.5 268.6h1.6M605.7 241.2h1.6M561.2 288.7h1.6M564.4 273.7h1.6M561.6 259.5h1.6M598.2 273.2h1.6M633.5 242.4h1.6M575.3 266.3h1.6M507.8 269.1h1.6M567.3 287.9h1.6M603.1 267.7h1.6M595.6 257.8h1.6M590.5 261.5h1.6M602.1 282.0h1.6M590.9 274.4h1.6M584.8 278.8h1.6M615.5 283.1h1.6M597.5 285.0h1.6M612.2 263.3h1.6M587.7 284.0h1.6M580.9 264.9h1.6M578.3 281.4h1.6M532.4 298.4h1.6M585.2 264.6h1.6M580.9 292.3h1.6M588.2 255.0h1.6M537.3 255.1h1.6M635.1 280.3h1.6M576.5 305.5h1.6M574.2 279.7h1.6M600.0 255.2h1.6M609.2 259.0h1.6M569.8 278.0h1.6M591.7 261.5h1.6M549.4 286.5h1.6M631.7 295.6h1.6M612.2 279.5h1.6M543.1 281.9h1.6M565.8 259.5h1.6M583.1 278.5h1.6M599.4 254.1h1.6M559.4 262.8h1.6M594.8 265.3h1.6M555.0 272.2h1.6M537.3 282.9h1.6M594.5 285.9h1.6M548.4 273.3h1.6M632.4 277.5h1.6M601.1 278.5h1.6M554.6 282.5h1.6M578.6 291.9h1.6M585.8 255.4h1.6M545.8 278.6h1.6M527.8 288.0h1.6M586.1 278.0h1.6M530.2 284.8h1.6M546.2 286.9h1.6M590.3 250.5h1.6M604.6 285.8h1.6M598.8 257.3h1.6M602.5 266.8h1.6M572.1 273.6h1.6M533.1 291.3h1.6M594.6 264.1h1.6M565.5 260.3h1.6M596.4 260.6h1.6M567.0 274.5h1.6M587.5 255.3h1.6M553.2 256.8h1.6M540.6 243.4h1.6M608.9 264.0h1.6M586.3 264.3h1.6M560.5 277.6h1.6M570.5 261.5h1.6M550.0 270.5h1.6M602.4 255.5h1.6M558.6 277.4h1.6M589.9 265.9h1.6M580.6 265.2h1.6M542.7 255.6h1.6M580.1 244.9h1.6M571.3 288.4h1.6M575.6 286.2h1.6M602.4 258.8h1.6M589.4 296.2h1.6M517.3 274.3h1.6M586.6 264.0h1.6M610.8 266.7h1.6M587.2 264.2h1.6M570.7 265.5h1.6M617.9 268.9h1.6M569.1 268.7h1.6M554.5 265.1h1.6M609.7 250.1h1.6M533.9 287.9h1.6M583.9 299.3h1.6M627.8 282.7h1.6M590.9 273.6h1.6M589.8 279.5h1.6M603.7 264.6h1.6M603.8 279.5h1.6M599.9 257.9h1.6M592.9 273.6h1.6M563.6 258.3h1.6M582.6 267.6h1.6M583.3 271.9h1.6M593.8 253.7h1.6M583.4 293.5h1.6M583.5 294.3h1.6M551.0 268.1h1.6M553.1 266.0h1.6M554.4 283.0h1.6M566.1 280.6h1.6M584.8 264.8h1.6M562.0 262.9h1.6M571.7 266.5h1.6M566.0 283.0h1.6M614.6 252.6h1.6M576.3 283.7h1.6M566.4 272.2h1.6M528.3 272.0h1.6M517.3 260.5h1.6M594.5 286.8h1.6M557.3 289.5h1.6M545.1 279.9h1.6M592.4 269.7h1.6M564.7 277.7h1.6M596.2 280.0h1.6M587.9 268.0h1.6M606.6 296.5h1.6M611.1 272.0h1.6M581.3 265.3h1.6M571.9 303.0h1.6M602.6 261.0h1.6M543.2 268.7h1.6M601.3 299.8h1.6M548.8 273.7h1.6M505.9 285.3h1.6M596.3 271.7h1.6M584.6 267.6h1.6M551.3 293.6h1.6" stroke="#3c5488" stroke-width="1.6" fill="none"/>
<path d="M480.4 262.1h1.6M563.2 277.3h1.6M514.3 246.2h1.6M529.8 274.6h1.6M508.0 267.1h1.6M563.9 268.5h1.6M530.6 287.6h1.6M564.1 275.7h1.6M530.9 278.8h1.6M570.1 293.1h1.6M504.5 260.3h1.6M511.5 282.5h1.6M583.3 282.1h1.6M557.2 262.7h1.6M502.0 254.9h1.6M547.1 258.2h1.6M473.7 263.9h1.6M483.8 264.6h1.6M497.2 269.1h1.6M587.8 273.4h1.6M545.8 264.0h1.6M502.0 257.6h1.6M458.6 253.6h1.6M518.2 277.9h1.6M495.7 261.8h1.6M581.5 272.1h1.6M523.4 271.5h1.6M559.3 260.1h1.6M527.8 280.8h1.6M534.4 273.9h1.6M565.2 274.1h1.6M514.7 268.2h1.6M582.9 268.3h1.6M565.9 258.4h1.6M506.1 263.1h1.6M530.3 276.8h1.6M544.3 276.9h1.6M510.3 256.1h1.6M526.8 264.6h1.6M475.4 256.7h1.6M535.3 259.8h1.6M549.4 288.4h1.6M506.0 276.0h1.6M525.2 263.4h1.6M519.5 263.1h1.6M556.2 275.4h1.6M502.1 264.5h1.6M564.7 282.2h1.6M582.4 280.5h1.6M554.5 282.5h1.6M522.5 265.7h1.6M536.4 267.6h1.6M534.2 286.2h1.6M461.8 256.1h1.6M529.3 274.6h1.6M555.0 270.0h1.6M519.7 288.7h1.6M538.7 270.9h1.6M548.5 269.2h1.6M613.8 281.9h1.6M506.8 264.2h1.6M570.1 274.5h1.6M455.3 271.6h1.6M604.6 282.0h1.6M493.0 260.3h1.6M576.4 280.4h1.6M514.9 267.1h1.6M544.3 269.5h1.6M511.9 270.0h1.6M490.0 247.6h1.6" stroke="#e64b35" stroke-width="1.6" fill="none"/>
<path d="M556.3 277.2h1.6M595.8 283.4h1.6M559.0 295.3h1.6M596.5 289.2h1.6M537.2 280.7h1.6M572.9 272.6h1.6M583.9 284.3h1.6M504.0 265.0h1.6M601.5 285.1h1.6M586.6 266.2h1.6M592.7 271.6h1.6M533.1 307.4h1.6M566.4 279.7h1.6M568.5 269.8h1.6M537.0 270.4h1.6M590.8 290.8h1.6M622.7 294.2h1.6M562.4 299.0h1.6M562.7 282.0h1.6M548.4 289.0h1.6M573.8 277.8h1.6M548.7 271.2h1.6M549.9 283.2h1.6M481.0 273.0h1.6M572.0 273.9h1.6M551.2 264.4h1.6M619.5 264.3h1.6M549.8 292.2h1.6M544.8 314.1h1.6M574.5 282.4h1.6M514.0 251.0h1.6M562.8 264.5h1.6M545.5 308.0h1.6M557.7 287.2h1.6M610.6 290.4h1.6M534.6 260.8h1.6M475.5 269.4h1.6M534.7 253.9h1.6M548.4 255.1h1.6" stroke="#4dbbd5" stroke-width="1.6" fill="none"/>
<path d="M563.6 284.9h1.6M546.5 311.1h1.6M572.8 293.1h1.6M575.6 318.8h1.6M599.6 261.2h1.6M586.0 283.6h1.6M584.0 294.2h1.6M592.5 306.6h1.6M567.4 293.6h1.6M577.7 319.1h1.6M560.2 297.9h1.6M575.7 332.3h1.6M558.5 307.0h1.6M551.2 297.5h1.6M557.9 310.4h1.6M558.9 288.9h1.6M538.5 311.9h1.6M573.0 301.7h1.6M565.1 283.4h1.6M577.6 286.0h1.6M562.7 274.1h1.6M573.7 294.5h1.6M572.6 316.5h1.6M555.0 291.0h1.6M581.2 293.7h1.6M612.7 279.2h1.6M560.0 298.2h1.6M590.8 310.1h1.6M590.9 310.0h1.6M599.0 289.7h1.6M529.7 301.1h1.6M582.4 269.2h1.6M565.5 306.2h1.6M553.7 287.3h1.6M568.3 299.1h1.6M600.1 288.9h1.6M539.0 294.8h1.6M570.5 284.0h1.6M541.8 295.2h1.6M612.2 279.4h1.6M572.9 304.2h1.6M555.6 286.9h1.6M572.7 273.8h1.6M598.5 281.5h1.6M571.0 292.9h1.6M538.0 293.1h1.6M569.9 298.9h1.6M585.0 295.8h1.6M580.2 324.4h1.6M556.3 277.5h1.6M556.9 272.8h1.6M587.8 299.1h1.6M563.9 298.5h1.6M602.0 282.8h1.6M559.5 328.4h1.6M598.0 267.2h1.6M560.7 280.4h1.6M581.0 303.0h1.6M571.1 289.0h1.6M544.0 295.2h1.6M576.1 287.0h1.6M551.9 303.6h1.6M537.1 294.5h1.6M614.2 285.3h1.6M560.5 287.6h1.6M564.9 285.1h1.6M575.7 267.3h1.6M547.6 310.7h1.6M581.3 299.0h1.6M593.4 293.1h1.6M554.8 294.8h1.6M562.4 284.9h1.6M539.1 279.2h1.6M580.7 313.6h1.6M595.0 273.1h1.6M560.6 286.4h1.6M542.0 281.6h1.6M572.5 279.0h1.6M572.1 301.7h1.6M556.6 295.9h1.6M574.0 279.2h1.6M537.3 296.4h1.6M562.8 291.9h1.6M553.0 299.0h1.6M581.0 292.7h1.6M569.3 272.1h1.6M606.3 290.0h1.6M578.8 309.9h1.6M590.2 307.4h1.6M540.4 280.8h1.6M570.3 265.8h1.6M606.7 296.7h1.6M589.4 270.1h1.6M574.3 294.9h1.6M562.1 311.2h1.6M619.4 293.0h1.6M566.2 290.7h1.6M571.8 292.8h1.6M586.1 300.5h1.6M570.4 294.0h1.6M559.0 300.6h1.6M587.8 289.7h1.6M562.4 259.3h1.6M596.0 270.4h1.6M591.0 268.5h1.6M594.5 287.8h1.6M560.6 266.0h1.6M583.8 273.3h1.6M564.1 318.7h1.6M624.2 305.9h1.6M568.0 306.7h1.6M572.3 292.3h1.6M580.8 280.2h1.6M545.8 282.2h1.6M573.7 295.6h1.6M579.2 297.9h1.6M555.3 296.9h1.6M582.7 257.3h1.6M605.3 271.8h1.6M581.4 301.4h1.6M553.6 285.2h1.6M594.5 281.1h1.6M592.8 299.4h1.6M590.2 310.9h1.6M586.3 275.4h1.6M588.9 282.0h1.6M590.2 300.2h1.6M618.1 299.1h1.6M565.8 289.0h1.6M569.2 289.2h1.6M574.2 307.3h1.6M582.0 292.1h1.6M564.3 273.2h1.6M578.9 273.4h1.6M592.7 296.6h1.6M581.8 279.8h1.6M599.3 268.6h1.6M575.4 281.1h1.6M553.5 291.1h1.6M583.7 295.0h1.6M589.4 278.6h1.6M576.5 325.3h1.6M576.4 268.3h1.6M584.3 294.9h1.6M559.0 285.2h1.6M589.7 302.0h1.6M562.6 291.0h1.6M570.7 283.1h1.6M572.4 302.4h1.6M587.3 321.9h1.6M563.1 278.4h1.6M591.2 287.3h1.6M570.3 272.4h1.6M577.5 278.4h1.6M571.4 276.0h1.6M579.4 293.3h1.6M584.8 301.2h1.6M578.0 317.3h1.6M565.1 263.1h1.6M560.1 289.5h1.6M572.6 299.4h1.6M556.5 322.1h1.6M590.9 290.5h1.6M580.7 296.1h1.6M592.5 287.4h1.6M544.1 301.0h1.6M571.2 290.1h1.6M576.6 296.3h1.6M578.3 308.1h1.6M556.3 262.0h1.6M619.8 290.9h1.6M561.8 287.0h1.6M559.5 281.1h1.6M599.4 314.7h1.6M578.8 293.5h1.6M547.0 301.5h1.6M578.1 295.3h1.6M565.9 309.1h1.6M589.1 281.4h1.6M582.0 298.2h1.6M547.2 274.2h1.6M565.4 291.5h1.6M556.1 309.7h1.6M542.6 261.2h1.6M577.1 291.4h1.6M560.0 284.9h1.6M559.9 264.5h1.6M573.9 296.2h1.6M566.3 323.2h1.6M567.9 298.6h1.6M585.6 300.6h1.6M585.6 291.5h1.6M560.8 257.8h1.6M556.1 295.1h1.6M567.3 268.1h1.6M605.3 291.3h1.6M572.7 306.6h1.6M549.1 271.5h1.6M572.1 287.3h1.6M596.6 292.7h1.6M595.3 301.1h1.6M536.5 307.9h1.6M528.7 285.9h1.6M588.6 279.4h1.6M558.3 315.5h1.6" stroke="#00a087" stroke-width="1.6" fill="none"/>
<path d="M586.9 271.8h1.6M618.8 268.0h1.6M575.9 278.2h1.6M611.7 258.9h1.6M593.3 265.7h1.6M626.8 254.1h1.6M530.3 274.3h1.6M582.3 275.4h1.6M604.8 259.6h1.6M593.3 271.1h1.6M540.9 270.9h1.6M572.4 297.0h1.6M562.3 266.3h1.6M536.8 286.9h1.6M577.4 287.8h1.6M582.7 273.2h1.6M555.9 270.1h1.6M604.2 266.5h1.6M516.4 295.9h1.6M554.2 283.0h1.6M565.0 261.8h1.6M649.5 276.4h1.6M586.9 287.6h1.6M578.7 278.6h1.6M579.5 257.5h1.6M616.7 257.8h1.6M470.4 267.1h1.6M535.3 264.0h1.6M580.7 272.7h1.6M584.6 271.7h1.6M583.7 303.1h1.6M613.9 260.0h1.6M573.9 264.2h1.6M524.0 288.8h1.6M617.0 265.4h1.6M601.3 247.4h1.6M590.1 272.1h1.6M543.5 255.9h1.6M577.8 247.1h1.6M560.6 254.3h1.6M614.9 259.5h1.6M545.2 276.1h1.6M615.4 256.9h1.6M613.5 259.9h1.6M552.6 274.3h1.6M595.5 248.7h1.6M567.1 300.3h1.6M592.4 281.8h1.6M576.0 266.3h1.6M522.6 282.2h1.6M607.4 280.0h1.6M584.0 290.7h1.6M574.7 301.9h1.6M537.5 277.1h1.6M541.3 274.5h1.6M594.4 300.2h1.6M551.6 271.6h1.6M548.1 274.8h1.6M631.1 289.9h1.6M589.7 292.7h1.6M583.4 283.0h1.6M594.2 262.8h1.6M578.8 283.4h1.6M585.7 293.3h1.6M571.8 288.2h1.6M585.3 292.9h1.6M624.0 259.9h1.6M613.1 261.5h1.6M590.0 270.7h1.6M554.0 289.3h1.6M554.1 261.9h1.6M539.3 250.0h1.6M574.7 268.1h1.6M576.1 264.9h1.6M556.4 280.9h1.6M606.1 251.1h1.6M604.0 267.4h1.6M499.7 285.0h1.6M557.9 275.9h1.6M580.5 271.2h1.6M595.2 280.3h1.6M536.2 272.7h1.6M537.3 261.2h1.6M504.0 267.2h1.6M608.2 260.6h1.6M578.0 289.1h1.6M585.4 261.5h1.6M579.8 275.1h1.6M548.8 269.8h1.6M590.5 259.2h1.6M582.8 258.4h1.6M612.4 253.4h1.6M604.3 262.4h1.6M556.7 281.6h1.6M570.0 281.9h1.6M571.7 259.7h1.6M572.3 258.9h1.6M571.4 266.0h1.6M544.1 284.2h1.6M582.6 270.5h1.6M559.5 281.4h1.6M602.1 288.4h1.6M584.4 272.5h1.6M551.1 263.1h1.6M578.1 263.5h1.6M569.2 261.1h1.6M574.5 271.3h1.6M567.8 283.4h1.6M567.5 262.3h1.6M562.1 263.6h1.6M619.5 264.8h1.6M602.1 264.0h1.6M608.2 265.3h1.6M544.4 278.2h1.6M608.4 280.1h1.6M558.0 267.6h1.6M536.3 273.4h1.6M494.8 243.8h1.6M558.8 262.6h1.6M590.6 273.2h1.6M615.0 263.3h1.6M534.9 266.3h1.6M509.6 287.4h1.6M566.2 256.8h1.6M554.7 264.9h1.6M569.5 280.1h1.6M554.7 284.7h1.6M617.4 258.3h1.6M564.0 274.9h1.6M613.5 256.7h1.6M595.6 286.2h1.6M611.0 263.2h1.6M611.1 279.7h1.6M560.6 281.8h1.6M579.9 272.8h1.6M553.0 280.0h1.6M485.2 262.0h1.6M578.9 249.4h1.6M503.0 254.7h1.6M583.2 269.1h1.6M609.3 263.0h1.6M610.7 266.7h1.6M553.6 257.9h1.6M559.3 264.7h1.6M532.8 296.6h1.6M622.0 296.2h1.6M592.6 275.6h1.6M562.7 277.0h1.6M561.9 275.8h1.6M552.7 288.5h1.6M605.2 258.1h1.6M619.8 291.7h1.6M598.9 283.5h1.6M544.7 313.6h1.6M588.6 274.2h1.6M594.3 268.5h1.6M523.1 269.8h1.6M621.1 269.0h1.6M584.1 265.6h1.6M563.3 291.4h1.6M555.5 285.5h1.6M622.2 257.9h1.6M602.8 258.4h1.6M615.3 256.8h1.6M540.0 248.4h1.6M574.3 273.5h1.6M600.6 252.6h1.6M600.8 289.2h1.6M527.0 260.1h1.6M559.1 263.1h1.6M571.7 271.7h1.6M563.0 281.2h1.6M560.3 263.2h1.6M588.4 267.1h1.6M542.0 296.0h1.6M551.7 277.2h1.6M593.1 278.9h1.6M626.1 253.8h1.6M538.0 275.2h1.6M592.6 267.8h1.6M536.6 285.0h1.6M566.7 269.1h1.6M543.0 276.1h1.6M556.9 263.2h1.6M592.8 263.1h1.6M580.4 260.2h1.6M618.4 260.9h1.6M557.9 254.4h1.6M604.8 258.7h1.6M623.4 292.2h1.6M615.1 259.2h1.6M629.6 273.9h1.6M618.4 248.8h1.6M519.9 281.9h1.6M564.5 289.4h1.6M566.5 284.3h1.6M592.3 276.5h1.6M579.6 274.2h1.6M604.6 256.3h1.6M620.2 250.6h1.6M627.4 299.2h1.6M536.7 277.8h1.6M497.3 261.8h1.6M525.6 264.7h1.6M599.0 272.7h1.6M557.8 290.6h1.6M554.9 269.9h1.6M536.5 271.8h1.6M598.3 271.8h1.6M594.0 262.0h1.6M511.5 275.6h1.6M569.9 260.2h1.6M570.9 276.5h1.6M552.8 282.3h1.6M490.4 266.5h1.6M566.6 275.0h1.6M604.4 257.2h1.6M569.0 297.6h1.6M622.5 266.6h1.6M595.5 275.6h1.6M600.6 272.7h1.6M566.1 256.2h1.6M575.3 275.6h1.6M544.8 266.0h1.6M599.4 258.3h1.6M586.8 272.9h1.6M553.8 282.5h1.6M563.8 257.4h1.6M570.8 261.4h1.6M578.2 274.6h1.6M550.9 282.4h1.6M598.4 254.9h1.6M604.8 257.7h1.6M588.5 266.8h1.6M616.2 250.0h1.6M552.7 271.0h1.6M564.2 265.7h1.6M598.6 244.9h1.6M559.7 280.3h1.6M555.4 267.2h1.6M614.8 242.9h1.6M620.4 252.5h1.6M564.6 295.5h1.6M611.2 267.3h1.6M619.8 274.0h1.6M604.7 271.7h1.6M542.6 287.9h1.6M589.8 267.3h1.6M572.8 281.5h1.6M571.8 282.0h1.6M569.7 266.6h1.6M567.3 282.7h1.6M526.8 269.3h1.6M582.3 292.2h1.6M566.8 281.2h1.6M541.5 248.6h1.6M622.6 263.0h1.6M537.6 276.9h1.6M559.5 271.4h1.6M576.1 269.0h1.6M613.4 259.4h1.6M477.9 248.7h1.6M541.3 271.8h1.6M589.1 267.5h1.6M523.0 276.7h1.6M594.6 275.9h1.6M588.1 278.2h1.6M599.9 282.7h1.6M613.3 265.5h1.6M540.9 276.1h1.6M613.5 257.4h1.6M601.4 299.9h1.6M568.9 271.9h1.6M619.4 257.9h1.6M574.0 279.5h1.6M563.5 265.8h1.6M557.6 273.0h1.6M588.0 276.2h1.6M574.6 257.0h1.6M585.6 282.9h1.6M606.2 276.0h1.6M582.5 263.2h1.6M591.7 267.8h1.6M588.7 280.0h1.6M565.1 288.2h1.6M534.1 264.1h1.6M558.4 282.6h1.6M614.5 289.4h1.6M548.0 278.1h1.6M623.9 264.0h1.6M600.7 279.7h1.6M590.4 267.1h1.6M541.5 266.6h1.6M599.7 263.8h1.6M574.3 286.4h1.6M572.4 301.5h1.6M518.4 278.3h1.6M565.8 275.2h1.6M605.5 286.1h1.6M538.5 261.9h1.6M534.5 273.3h1.6M584.5 289.0h1.6M483.5 265.0h1.6M594.4 279.2h1.6M549.2 265.7h1.6M507.1 246.2h1.6M538.3 285.1h1.6M613.1 275.4h1.6M625.2 264.2h1.6M568.7 274.5h1.6M579.3 278.5h1.6M571.6 260.3h1.6M627.3 266.9h1.6M529.2 280.0h1.6M580.3 272.5h1.6M536.6 273.1h1.6M560.4 293.8h1.6M573.3 265.2h1.6M590.9 262.3h1.6M581.6 278.8h1.6M626.7 268.6h1.6M578.0 287.1h1.6M588.9 290.6h1.6M538.8 269.1h1.6M588.0 278.8h1.6M547.5 282.2h1.6M558.2 278.4h1.6M557.5 264.8h1.6M575.5 274.3h1.6M609.5 301.2h1.6M628.3 257.7h1.6M523.1 277.1h1.6M583.3 253.8h1.6M525.1 291.2h1.6M552.4 252.5h1.6M570.5 288.4h1.6M551.4 271.6h1.6M602.6 276.8h1.6M515.6 269.2h1.6M547.9 286.5h1.6M542.7 259.3h1.6M600.4 278.6h1.6M606.7 269.3h1.6M564.2 282.8h1.6M605.1 272.2h1.6M604.1 255.9h1.6M599.2 261.4h1.6M587.9 257.0h1.6M584.5 260.4h1.6M564.5 277.2h1.6M582.6 263.6h1.6M558.3 277.1h1.6M621.5 267.0h1.6M484.5 246.2h1.6M571.4 268.4h1.6M574.3 247.9h1.6M576.3 274.2h1.6M581.1 262.0h1.6M534.5 289.1h1.6M553.4 249.2h1.6M580.0 268.6h1.6M600.0 270.5h1.6M559.6 300.0h1.6M566.6 274.3h1.6M558.3 262.8h1.6M554.1 268.3h1.6M575.7 275.2h1.6M587.2 264.2h1.6M552.7 282.2h1.6M524.9 276.8h1.6M545.5 267.1h1.6" stroke="#3c5488" stroke-width="1.6" fill="none"/>
<ellipse cx="576.1" cy="277.6" rx="68.6" ry="52.4" transform="rotate(-6.5 576.1 277.6)" fill="none" stroke="#4dbbd5" stroke-width="0.7"/>
<ellipse cx="575.4" cy="274.7" rx="69.3" ry="35.1" transform="rotate(-5.1 575.4 274.7)" fill="none" stroke="#3c5488" stroke-width="0.7"/>
<ellipse cx="531.5" cy="271.2" rx="93.0" ry="28.5" transform="rotate(10.8 531.5 271.2)" fill="none" stroke="#e64b35" stroke-width="0.7"/>
<ellipse cx="574.4" cy="290.4" rx="48.7" ry="37.3" transform="rotate(-13.6 574.4 290.4)" fill="none" stroke="#00a087" stroke-width="0.7"/>
<line x1="568.40" y1="279.60" x2="527.30" y2="311.20" stroke="#000" stroke-width="1.25"/>
<rect x="526.10" y="310.00" width="2.40" height="2.40" fill="#000"/>
<line x1="568.40" y1="279.60" x2="547.30" y2="322.50" stroke="#000" stroke-width="1.25"/>
<rect x="546.10" y="321.30" width="2.40" height="2.40" fill="#000"/>
<line x1="568.40" y1="279.60" x2="559.00" y2="325.00" stroke="#000" stroke-width="1.25"/>
<rect x="557.80" y="323.80" width="2.40" height="2.40" fill="#000"/>
<line x1="568.40" y1="279.60" x2="561.00" y2="325.50" stroke="#000" stroke-width="1.25"/>
<rect x="559.80" y="324.30" width="2.40" height="2.40" fill="#000"/>
<line x1="568.40" y1="279.60" x2="618.10" y2="254.50" stroke="#000" stroke-width="1.25"/>
<rect x="616.90" y="253.30" width="2.40" height="2.40" fill="#000"/>
<text x="479.20" y="309.20" font-size="4.3" fill="#333" textLength="105.30" lengthAdjust="spacingAndGlyphs">Shikimate/acetate–malonate pathway by phenylpropanoids</text>
<text x="500.70" y="321.50" font-size="4.3" fill="#333" textLength="58.30" lengthAdjust="spacingAndGlyphs">Fatty acids related compounds</text>
<text x="562.00" y="325.60" font-size="4.3" fill="#333" textLength="33.80" lengthAdjust="spacingAndGlyphs">Phenylpropanoids</text>
<text x="551.80" y="329.70" font-size="4.3" fill="#333" textLength="20.40" lengthAdjust="spacingAndGlyphs">Terpenoids</text>
<text x="615.40" y="252.30" font-size="4.3" fill="#333" textLength="20.20" lengthAdjust="spacingAndGlyphs">Flavonoids</text>
<line x1="430.50" y1="220.80" x2="430.50" y2="335.30" stroke="#858585" stroke-width="0.8"/>
<line x1="430.50" y1="335.30" x2="653.70" y2="335.30" stroke="#858585" stroke-width="0.8"/>
<line x1="428.00" y1="230.20" x2="430.50" y2="230.20" stroke="#858585" stroke-width="0.8"/>
<text x="425.60" y="232.80" font-size="7.4" text-anchor="end">0.2</text>
<line x1="428.00" y1="254.30" x2="430.50" y2="254.30" stroke="#858585" stroke-width="0.8"/>
<text x="425.60" y="256.90" font-size="7.4" text-anchor="end">0.1</text>
<line x1="428.00" y1="278.40" x2="430.50" y2="278.40" stroke="#858585" stroke-width="0.8"/>
<text x="425.60" y="281.00" font-size="7.4" text-anchor="end">0</text>
<line x1="428.00" y1="302.50" x2="430.50" y2="302.50" stroke="#858585" stroke-width="0.8"/>
<text x="425.60" y="305.10" font-size="7.4" text-anchor="end">−0.1</text>
<line x1="428.00" y1="326.60" x2="430.50" y2="326.60" stroke="#858585" stroke-width="0.8"/>
<text x="425.60" y="329.20" font-size="7.4" text-anchor="end">−0.2</text>
<line x1="495.80" y1="335.30" x2="495.80" y2="337.80" stroke="#858585" stroke-width="0.8"/>
<text x="495.80" y="346.50" font-size="7.2" text-anchor="middle">−0.25</text>
<line x1="569.00" y1="335.30" x2="569.00" y2="337.80" stroke="#858585" stroke-width="0.8"/>
<text x="569.00" y="346.50" font-size="7.2" text-anchor="middle">0</text>
<line x1="642.20" y1="335.30" x2="642.20" y2="337.80" stroke="#858585" stroke-width="0.8"/>
<text x="642.20" y="346.50" font-size="7.2" text-anchor="middle">0.25</text>
<text x="405.40" y="309.80" font-size="8.5" textLength="64.30" lengthAdjust="spacingAndGlyphs" transform="rotate(-90 405.40 309.80)">PCoA2 ( 15.8 % )</text>
<text x="506.90" y="360.30" font-size="8.5" textLength="71.20" lengthAdjust="spacingAndGlyphs">PCoA1 ( 35.89 % )</text>
<text x="449.90" y="227.40" font-size="8.6" textLength="179.80" lengthAdjust="spacingAndGlyphs">PERMANOVA, <tspan font-style="italic">P</tspan> = 0.001, effect size = 0.13876</text>
<line x1="657.70" y1="254.60" x2="657.70" y2="327.20" stroke="#00a087" stroke-width="0.8"/>
<rect x="654.90" y="280.90" width="5.70" height="21.10" fill="#7ccbb9" stroke="#00a087" stroke-width="0.6"/>
<line x1="654.90" y1="290.50" x2="660.60" y2="290.50" stroke="#00a087" stroke-width="0.9"/>
<line x1="664.30" y1="245.50" x2="664.30" y2="315.30" stroke="#5d6c9c" stroke-width="0.8"/>
<rect x="661.00" y="263.80" width="6.50" height="19.90" fill="#98a1c4" stroke="#5d6c9c" stroke-width="0.6"/>
<line x1="661.00" y1="272.20" x2="667.50" y2="272.20" stroke="#5d6c9c" stroke-width="0.9"/>
<rect x="663.70" y="315.90" width="1.20" height="1.20" fill="#5d6c9c"/>
<rect x="663.70" y="316.90" width="1.20" height="1.20" fill="#5d6c9c"/>
<rect x="663.70" y="317.90" width="1.20" height="1.20" fill="#5d6c9c"/>
<rect x="663.70" y="318.90" width="1.20" height="1.20" fill="#5d6c9c"/>
<rect x="663.70" y="328.40" width="1.20" height="1.20" fill="#5d6c9c"/>
<line x1="671.30" y1="244.30" x2="671.30" y2="329.00" stroke="#4dbbd5" stroke-width="0.8"/>
<rect x="667.90" y="258.00" width="6.90" height="33.70" fill="#a3dbea" stroke="#4dbbd5" stroke-width="0.6"/>
<line x1="667.90" y1="274.50" x2="674.80" y2="274.50" stroke="#4dbbd5" stroke-width="0.9"/>
<line x1="677.50" y1="242.00" x2="677.50" y2="306.00" stroke="#e64b35" stroke-width="0.8"/>
<rect x="674.30" y="260.30" width="6.40" height="20.20" fill="#f3a496" stroke="#e64b35" stroke-width="0.6"/>
<line x1="674.30" y1="272.20" x2="680.70" y2="272.20" stroke="#e64b35" stroke-width="0.9"/>
<rect x="676.90" y="311.20" width="1.20" height="1.20" fill="#e64b35"/>
<polygon points="667.90,211.40 668.53,212.93 670.18,213.06 668.93,214.13 669.31,215.74 667.90,214.88 666.49,215.74 666.87,214.13 665.62,213.06 667.27,212.93" fill="#222"/>
<polygon points="672.80,211.40 673.43,212.93 675.08,213.06 673.83,214.13 674.21,215.74 672.80,214.88 671.39,215.74 671.77,214.13 670.52,213.06 672.17,212.93" fill="#222"/>
<polygon points="660.00,219.50 660.63,221.03 662.28,221.16 661.03,222.23 661.41,223.84 660.00,222.98 658.59,223.84 658.97,222.23 657.72,221.16 659.37,221.03" fill="#222"/>
<polygon points="664.90,219.50 665.53,221.03 667.18,221.16 665.93,222.23 666.31,223.84 664.90,222.98 663.49,223.84 663.87,222.23 662.62,221.16 664.27,221.03" fill="#222"/>
<polygon points="669.80,219.50 670.43,221.03 672.08,221.16 670.83,222.23 671.21,223.84 669.80,222.98 668.39,223.84 668.77,222.23 667.52,221.16 669.17,221.03" fill="#222"/>
<polygon points="674.70,219.50 675.33,221.03 676.98,221.16 675.73,222.23 676.11,223.84 674.70,222.98 673.29,223.84 673.67,222.23 672.42,221.16 674.07,221.03" fill="#222"/>
<polygon points="656.40,225.10 657.03,226.63 658.68,226.76 657.43,227.83 657.81,229.44 656.40,228.58 654.99,229.44 655.37,227.83 654.12,226.76 655.77,226.63" fill="#222"/>
<polygon points="661.30,225.10 661.93,226.63 663.58,226.76 662.33,227.83 662.71,229.44 661.30,228.58 659.89,229.44 660.27,227.83 659.02,226.76 660.67,226.63" fill="#222"/>
<polygon points="666.20,225.10 666.83,226.63 668.48,226.76 667.23,227.83 667.61,229.44 666.20,228.58 664.79,229.44 665.17,227.83 663.92,226.76 665.57,226.63" fill="#222"/>
<polygon points="671.10,225.10 671.73,226.63 673.38,226.76 672.13,227.83 672.51,229.44 671.10,228.58 669.69,229.44 670.07,227.83 668.82,226.76 670.47,226.63" fill="#222"/>
<polygon points="652.80,231.40 653.43,232.93 655.08,233.06 653.83,234.13 654.21,235.74 652.80,234.88 651.39,235.74 651.77,234.13 650.52,233.06 652.17,232.93" fill="#222"/>
<polygon points="657.70,231.40 658.33,232.93 659.98,233.06 658.73,234.13 659.11,235.74 657.70,234.88 656.29,235.74 656.67,234.13 655.42,233.06 657.07,232.93" fill="#222"/>
<polygon points="662.60,231.40 663.23,232.93 664.88,233.06 663.63,234.13 664.01,235.74 662.60,234.88 661.19,235.74 661.57,234.13 660.32,233.06 661.97,232.93" fill="#222"/>
<polygon points="667.50,231.40 668.13,232.93 669.78,233.06 668.53,234.13 668.91,235.74 667.50,234.88 666.09,235.74 666.47,234.13 665.22,233.06 666.87,232.93" fill="#222"/>
<line x1="664.00" y1="218.70" x2="677.00" y2="218.70" stroke="#c8c8c8" stroke-width="1.0"/>
<line x1="657.70" y1="224.90" x2="677.00" y2="224.90" stroke="#c8c8c8" stroke-width="1.0"/>
<line x1="657.70" y1="231.10" x2="670.20" y2="231.10" stroke="#c8c8c8" stroke-width="1.0"/>
<line x1="657.40" y1="237.00" x2="662.00" y2="237.00" stroke="#c8c8c8" stroke-width="1.0"/>
<text x="-0.50" y="397.10" font-size="12.5" fill="#000" font-weight="bold" stroke="#000" stroke-width="0.3">e</text>
<path d="M91.9 493.3h0M110.6 502.5h0M113.8 491.5h0M139.0 496.2h0M87.2 507.4h0M124.3 493.3h0M124.4 491.6h0M119.8 486.2h0M113.4 494.8h0M119.4 496.7h0M134.2 485.0h0M127.1 488.0h0M124.3 492.1h0M110.2 491.2h0M121.1 498.8h0M144.3 486.5h0M83.8 500.3h0M117.9 493.4h0M120.7 491.5h0M154.9 491.2h0M104.1 502.6h0M135.1 512.6h0M132.9 490.8h0M126.2 499.6h0M148.7 490.7h0M118.2 502.5h0M137.4 484.7h0M126.3 498.0h0M123.9 492.7h0M120.3 508.0h0M142.4 495.3h0M129.1 500.6h0M111.2 474.4h0M84.0 501.7h0M131.5 492.3h0M114.8 503.8h0M115.3 481.4h0M118.2 485.6h0M110.9 498.0h0M138.0 492.6h0M115.2 503.0h0M116.5 491.0h0M121.7 490.2h0M123.4 494.9h0M128.7 494.7h0M149.2 499.8h0M118.5 511.3h0M126.0 505.0h0M99.8 493.2h0M139.9 504.5h0M93.1 484.5h0M113.1 487.8h0M121.0 492.1h0M119.3 490.4h0M84.4 489.6h0M108.3 492.2h0M93.7 493.6h0M111.4 493.9h0M149.3 495.7h0M151.8 509.9h0M110.1 485.4h0M130.1 495.1h0M129.7 500.0h0M107.0 500.6h0M120.9 486.7h0M110.0 503.4h0M130.2 500.8h0M86.6 493.2h0M130.6 488.8h0M121.2 501.9h0M131.2 474.7h0M109.8 498.8h0M125.2 493.2h0M128.0 498.3h0M130.6 489.4h0M110.5 499.9h0M91.4 486.7h0M134.5 489.8h0M130.7 492.6h0M124.4 482.7h0M112.7 493.2h0M107.3 498.3h0M167.1 501.2h0M133.6 500.0h0M129.0 497.5h0M147.7 494.0h0M112.7 493.2h0M91.2 491.6h0M112.6 502.5h0M120.4 490.7h0M128.5 496.2h0M130.3 495.5h0M132.9 496.3h0M133.1 498.5h0M94.1 497.4h0M109.4 505.8h0M99.2 497.9h0M138.4 484.2h0M114.0 483.2h0M123.2 489.8h0M87.3 494.4h0M91.9 497.1h0M135.5 497.1h0M136.6 512.0h0M115.1 499.6h0M127.9 473.0h0M128.9 504.6h0M115.3 493.1h0M140.6 491.1h0M117.6 501.2h0M131.7 480.6h0M124.0 496.9h0M80.2 488.5h0M114.2 501.8h0M131.6 484.3h0M81.8 492.5h0M133.8 499.6h0M139.3 506.4h0M132.3 489.3h0M95.9 500.4h0M116.0 487.5h0M124.5 503.5h0M114.3 502.4h0M128.0 490.1h0M143.4 482.7h0M118.9 499.1h0M100.8 492.7h0M125.0 480.9h0M118.8 488.5h0M124.5 497.9h0M118.7 490.0h0M122.0 492.8h0M89.3 494.2h0M123.9 492.5h0M134.0 491.3h0M111.7 494.6h0M133.5 507.5h0M124.9 497.4h0M126.4 496.1h0M94.8 501.4h0M126.4 500.4h0M104.9 484.8h0M135.8 486.3h0M142.0 490.3h0M123.1 495.4h0M116.8 506.0h0M143.3 489.6h0M126.7 491.3h0M122.5 507.6h0M119.5 497.0h0M141.6 487.8h0M106.2 498.2h0M96.6 489.1h0M117.8 487.6h0M118.5 486.1h0M146.1 500.8h0M99.4 475.6h0M85.7 504.7h0M123.5 498.9h0M86.6 488.7h0M89.3 504.8h0M103.0 489.6h0M94.9 497.2h0M93.5 490.9h0M120.9 487.4h0M130.2 504.6h0M120.0 493.2h0M137.6 497.4h0M142.9 495.4h0M110.5 494.8h0M132.2 496.1h0M119.4 483.7h0M140.8 495.3h0M128.6 504.3h0M117.2 488.4h0M97.1 509.1h0M117.5 495.3h0M118.1 499.9h0M132.9 493.0h0M147.0 490.5h0M119.9 497.2h0M129.5 489.0h0M142.4 496.2h0M129.5 501.4h0M131.1 487.1h0M106.6 509.8h0M112.0 497.4h0M115.4 503.3h0M89.5 492.9h0M119.7 491.6h0M107.4 496.7h0M110.6 478.2h0M132.1 506.8h0M98.0 499.9h0M126.5 493.0h0M104.5 493.5h0M132.4 496.7h0M139.0 504.1h0M132.7 486.5h0M121.7 494.9h0M136.3 493.9h0M125.8 502.9h0M107.7 495.3h0M120.7 491.7h0M106.5 492.5h0M105.6 499.0h0M122.6 501.3h0M125.5 491.0h0M104.5 488.6h0M110.1 495.9h0M105.9 489.8h0M94.0 489.7h0M127.3 494.0h0M116.8 513.1h0M106.4 492.0h0M113.0 494.8h0M112.3 498.9h0M81.9 489.7h0M87.1 491.9h0M138.0 502.7h0M122.5 486.4h0M119.7 496.3h0M87.4 489.0h0M131.1 493.6h0M150.5 504.9h0M111.3 494.3h0M132.6 506.5h0M146.2 489.5h0M113.6 488.0h0M85.4 502.5h0" stroke="#3592d6" stroke-width="3.6" stroke-linecap="round" fill="none"/>
<path d="M91.9 493.3L81.5 457.5M110.6 502.5L69.4 431.7M113.8 491.5L93.7 465.4M139.0 496.2L111.9 457.0M87.2 507.4L93.3 461.1M124.3 493.3L74.8 463.1M124.4 491.6L80.8 427.1M119.8 486.2L104.1 433.6M113.4 494.8L62.7 453.8M119.4 496.7L93.7 463.8M134.2 485.0L105.8 451.1M127.1 488.0L83.1 452.4M124.3 492.1L62.9 456.1M110.2 491.2L95.9 427.3M121.1 498.8L69.8 452.1M144.3 486.5L85.4 456.5M83.8 500.3L104.8 451.2M117.9 493.4L102.5 440.6M120.7 491.5L78.8 464.4M154.9 491.2L88.3 429.7M104.1 502.6L79.5 427.2M135.1 512.6L70.4 437.6M132.9 490.8L98.4 456.7M126.2 499.6L108.1 422.8M148.7 490.7L106.4 458.4M118.2 502.5L97.0 456.7M137.4 484.7L68.9 444.9M126.3 498.0L87.2 452.7M123.9 492.7L81.7 429.4M120.3 508.0L98.0 429.6M142.4 495.3L70.1 447.6M129.1 500.6L99.6 433.2M111.2 474.4L63.5 436.6M84.0 501.7L77.8 431.2M131.5 492.3L97.5 462.0M114.8 503.8L80.8 422.0M115.3 481.4L101.5 440.5M118.2 485.6L105.1 445.7M110.9 498.0L69.1 434.8M138.0 492.6L88.9 421.8M115.2 503.0L107.4 423.5M116.5 491.0L97.4 428.3M121.7 490.2L89.1 470.2M123.4 494.9L85.1 456.9M128.7 494.7L74.0 434.6M149.2 499.8L79.4 421.9M118.5 511.3L81.6 459.7M126.0 505.0L92.7 427.9M99.8 493.2L92.7 460.6M139.9 504.5L107.7 424.6M93.1 484.5L84.8 452.5M113.1 487.8L85.4 469.6M121.0 492.1L88.5 460.1M119.3 490.4L105.9 433.1M84.4 489.6L83.4 447.0M108.3 492.2L124.9 436.7M93.7 493.6L133.0 459.9M111.4 493.9L130.1 427.4M149.3 495.7L137.6 441.7M151.8 509.9L121.2 432.8M110.1 485.4L158.5 436.7M130.1 495.1L126.5 459.2M129.7 500.0L127.4 452.3M107.0 500.6L148.5 448.6M120.9 486.7L121.4 435.0M110.0 503.4L126.5 445.0M130.2 500.8L115.1 448.9M86.6 493.2L137.0 461.4M130.6 488.8L135.0 443.7M121.2 501.9L115.6 421.8M131.2 474.7L116.8 458.9M109.8 498.8L125.0 435.4M125.2 493.2L135.0 453.1M128.0 498.3L122.5 420.2M130.6 489.4L137.4 428.4M110.5 499.9L129.2 451.5M91.4 486.7L126.3 420.4M134.5 489.8L115.6 447.5M130.7 492.6L156.4 439.8M124.4 482.7L123.8 449.2M112.7 493.2L116.2 448.2M107.3 498.3L132.7 458.4M167.1 501.2L140.1 450.7M133.6 500.0L56.7 490.0M129.0 497.5L50.3 471.7M147.7 494.0L57.2 473.1M112.7 493.2L76.4 479.1M91.2 491.6L67.1 507.1M112.6 502.5L42.0 489.4M120.4 490.7L63.2 509.5M128.5 496.2L53.5 492.8M130.3 495.5L70.2 495.6M132.9 496.3L48.5 487.8M133.1 498.5L59.9 504.7M94.1 497.4L48.9 486.5M109.4 505.8L72.6 503.4M99.2 497.9L73.8 490.4M138.4 484.2L77.6 483.1M114.0 483.2L57.3 490.4M123.2 489.8L82.8 481.7M87.3 494.4L68.7 489.9M91.9 497.1L54.2 488.9M135.5 497.1L72.1 500.2M136.6 512.0L75.4 508.9M115.1 499.6L75.0 483.4M127.9 473.0L69.5 528.6M128.9 504.6L95.2 519.0M115.3 493.1L76.5 516.5M140.6 491.1L89.1 517.3M117.6 501.2L90.3 533.9M131.7 480.6L77.1 524.7M124.0 496.9L81.9 514.0M80.2 488.5L94.8 522.2M114.2 501.8L75.7 546.3M131.6 484.3L69.3 542.9M81.8 492.5L77.4 518.1M133.8 499.6L83.4 520.3M139.3 506.4L75.2 519.2M132.3 489.3L87.8 533.4M95.9 500.4L49.6 517.8M116.0 487.5L90.0 528.7M124.5 503.5L82.0 513.7M114.3 502.4L52.4 523.0M128.0 490.1L82.0 535.6M143.4 482.7L98.4 517.1M118.9 499.1L69.6 512.1M100.8 492.7L61.4 525.5M125.0 480.9L69.5 514.0M118.8 488.5L93.1 520.8M124.5 497.9L93.0 526.7M118.7 490.0L65.3 523.3M122.0 492.8L74.1 521.0M89.3 494.2L94.8 503.1M123.9 492.5L81.0 509.7M134.0 491.3L60.8 516.2M111.7 494.6L107.7 513.9M133.5 507.5L105.9 535.9M124.9 497.4L114.5 524.1M126.4 496.1L97.6 545.7M94.8 501.4L118.1 520.8M126.4 500.4L90.6 538.1M104.9 484.8L123.3 519.7M135.8 486.3L116.7 552.3M142.0 490.3L122.1 531.0M123.1 495.4L112.8 526.8M116.8 506.0L110.8 528.0M143.3 489.6L100.6 539.9M126.7 491.3L89.9 541.7M122.5 507.6L108.6 540.9M119.5 497.0L109.7 520.5M141.6 487.8L121.8 531.4M106.2 498.2L99.8 530.6M96.6 489.1L101.3 522.0M117.8 487.6L118.1 552.2M118.5 486.1L126.2 543.7M146.1 500.8L105.1 541.2M99.4 475.6L122.0 526.7M85.7 504.7L116.8 537.0M123.5 498.9L119.9 526.1M86.6 488.7L114.2 528.8M89.3 504.8L107.1 544.7M103.0 489.6L115.8 526.3M94.9 497.2L119.1 542.8M93.5 490.9L124.0 526.4M120.9 487.4L122.7 547.0M130.2 504.6L118.8 523.3M120.0 493.2L124.5 550.4M137.6 497.4L106.1 515.0M142.9 495.4L102.0 519.8M110.5 494.8L99.5 537.5M132.2 496.1L166.1 508.1M119.4 483.7L164.7 515.6M140.8 495.3L173.4 520.7M128.6 504.3L151.1 499.1M117.2 488.4L174.4 513.2M97.1 509.1L163.3 489.1M117.5 495.3L151.5 494.0M118.1 499.9L162.2 502.3M132.9 493.0L169.6 497.7M147.0 490.5L158.1 510.0M119.9 497.2L160.2 503.8M129.5 489.0L176.7 491.7M142.4 496.2L163.9 489.0M129.5 501.4L173.1 520.7M131.1 487.1L156.2 506.0M106.6 509.8L153.7 493.4M112.0 497.4L162.4 509.5M115.4 503.3L170.5 510.4M89.5 492.9L155.4 513.1M119.7 491.6L158.3 491.5M107.4 496.7L161.3 516.1M110.6 478.2L176.8 497.3M132.1 506.8L161.3 516.8M98.0 499.9L165.4 511.6M126.5 493.0L162.8 488.4M104.5 493.5L164.1 517.2M132.4 496.7L175.0 492.7M139.0 504.1L149.6 506.3M132.7 486.5L181.9 490.8M121.7 494.9L161.5 507.5M136.3 493.9L164.5 501.1M125.8 502.9L166.4 491.8M107.7 495.3L165.5 519.4M120.7 491.7L163.3 506.4M106.5 492.5L169.7 488.3M105.6 499.0L156.6 508.0M122.6 501.3L158.2 499.2M125.5 491.0L166.6 488.4M104.5 488.6L154.3 495.1M110.1 495.9L151.7 490.0M105.9 489.8L172.6 501.9M94.0 489.7L155.1 496.0M127.3 494.0L161.9 518.5M116.8 513.1L179.4 485.4M106.4 492.0L174.9 508.1M113.0 494.8L153.3 499.3M112.3 498.9L164.7 501.4M81.9 489.7L164.8 509.4M87.1 491.9L161.0 487.6M138.0 502.7L162.2 496.9M122.5 486.4L180.1 504.3M119.7 496.3L151.0 508.9M87.4 489.0L177.8 495.0M131.1 493.6L175.4 498.7M150.5 504.9L156.0 488.7M111.3 494.3L161.9 499.7M132.6 506.5L164.3 508.6M146.2 489.5L179.2 499.7M113.6 488.0L146.6 506.6M85.4 502.5L173.3 516.7" stroke="#ababab" stroke-opacity="0.9" stroke-width="0.65" fill="none"/>
<g>
<path d="M81.5 457.5h0M69.4 431.7h0M93.7 465.4h0M111.9 457.0h0M93.3 461.1h0M74.8 463.1h0M80.8 427.1h0M104.1 433.6h0M62.7 453.8h0M93.7 463.8h0M105.8 451.1h0M83.1 452.4h0M62.9 456.1h0M95.9 427.3h0M69.8 452.1h0M85.4 456.5h0M104.8 451.2h0M102.5 440.6h0M78.8 464.4h0M88.3 429.7h0M79.5 427.2h0M70.4 437.6h0M98.4 456.7h0M108.1 422.8h0M106.4 458.4h0M97.0 456.7h0M68.9 444.9h0M87.2 452.7h0M81.7 429.4h0M98.0 429.6h0M70.1 447.6h0M99.6 433.2h0M63.5 436.6h0M77.8 431.2h0M97.5 462.0h0M80.8 422.0h0M101.5 440.5h0M105.1 445.7h0M69.1 434.8h0M88.9 421.8h0M107.4 423.5h0M97.4 428.3h0M89.1 470.2h0M85.1 456.9h0M74.0 434.6h0M79.4 421.9h0M81.6 459.7h0M92.7 427.9h0M92.7 460.6h0M107.7 424.6h0M84.8 452.5h0M85.4 469.6h0M88.5 460.1h0M105.9 433.1h0M83.4 447.0h0M124.9 436.7h0M133.0 459.9h0M130.1 427.4h0M137.6 441.7h0M121.2 432.8h0M158.5 436.7h0M126.5 459.2h0M127.4 452.3h0M148.5 448.6h0M121.4 435.0h0M126.5 445.0h0M115.1 448.9h0M137.0 461.4h0M135.0 443.7h0M115.6 421.8h0M116.8 458.9h0M125.0 435.4h0M135.0 453.1h0M122.5 420.2h0M137.4 428.4h0M129.2 451.5h0M126.3 420.4h0M115.6 447.5h0M156.4 439.8h0M123.8 449.2h0M116.2 448.2h0M132.7 458.4h0M140.1 450.7h0M56.7 490.0h0M50.3 471.7h0M57.2 473.1h0M76.4 479.1h0M67.1 507.1h0M42.0 489.4h0M63.2 509.5h0M53.5 492.8h0M70.2 495.6h0M48.5 487.8h0M59.9 504.7h0M48.9 486.5h0M72.6 503.4h0M73.8 490.4h0M77.6 483.1h0M57.3 490.4h0M82.8 481.7h0M68.7 489.9h0M54.2 488.9h0M72.1 500.2h0M75.4 508.9h0M75.0 483.4h0M69.5 528.6h0M95.2 519.0h0M76.5 516.5h0M89.1 517.3h0M90.3 533.9h0M77.1 524.7h0M81.9 514.0h0M94.8 522.2h0M75.7 546.3h0M69.3 542.9h0M77.4 518.1h0M83.4 520.3h0M75.2 519.2h0M87.8 533.4h0M49.6 517.8h0M90.0 528.7h0M82.0 513.7h0M52.4 523.0h0M82.0 535.6h0M98.4 517.1h0M69.6 512.1h0M61.4 525.5h0M69.5 514.0h0M93.1 520.8h0M93.0 526.7h0M65.3 523.3h0M74.1 521.0h0M94.8 503.1h0M81.0 509.7h0M60.8 516.2h0M107.7 513.9h0M105.9 535.9h0M114.5 524.1h0M97.6 545.7h0M118.1 520.8h0M90.6 538.1h0M123.3 519.7h0M116.7 552.3h0M122.1 531.0h0M112.8 526.8h0M110.8 528.0h0M100.6 539.9h0M89.9 541.7h0M108.6 540.9h0M109.7 520.5h0M121.8 531.4h0M99.8 530.6h0M101.3 522.0h0M118.1 552.2h0M126.2 543.7h0M105.1 541.2h0M122.0 526.7h0M116.8 537.0h0M119.9 526.1h0M114.2 528.8h0M107.1 544.7h0M115.8 526.3h0M119.1 542.8h0M124.0 526.4h0M122.7 547.0h0M118.8 523.3h0M124.5 550.4h0M106.1 515.0h0M102.0 519.8h0M99.5 537.5h0M166.1 508.1h0M164.7 515.6h0M173.4 520.7h0M151.1 499.1h0M174.4 513.2h0M163.3 489.1h0M151.5 494.0h0M162.2 502.3h0M169.6 497.7h0M158.1 510.0h0M160.2 503.8h0M176.7 491.7h0M163.9 489.0h0M173.1 520.7h0M156.2 506.0h0M153.7 493.4h0M162.4 509.5h0M170.5 510.4h0M155.4 513.1h0M158.3 491.5h0M161.3 516.1h0M176.8 497.3h0M161.3 516.8h0M165.4 511.6h0M162.8 488.4h0M164.1 517.2h0M175.0 492.7h0M149.6 506.3h0M181.9 490.8h0M161.5 507.5h0M164.5 501.1h0M166.4 491.8h0M165.5 519.4h0M163.3 506.4h0M169.7 488.3h0M156.6 508.0h0M158.2 499.2h0M166.6 488.4h0M154.3 495.1h0M151.7 490.0h0M172.6 501.9h0M155.1 496.0h0M161.9 518.5h0M179.4 485.4h0M174.9 508.1h0M153.3 499.3h0M164.7 501.4h0M164.8 509.4h0M161.0 487.6h0M162.2 496.9h0M180.1 504.3h0M151.0 508.9h0M177.8 495.0h0M175.4 498.7h0M156.0 488.7h0M161.9 499.7h0M164.3 508.6h0M179.2 499.7h0M146.6 506.6h0M173.3 516.7h0" stroke="#c8682a" stroke-width="3.5" stroke-linecap="round" fill="none"/>
<path d="M81.5 457.5h0M69.4 431.7h0M93.7 465.4h0M111.9 457.0h0M93.3 461.1h0M74.8 463.1h0M80.8 427.1h0M104.1 433.6h0M62.7 453.8h0M93.7 463.8h0M105.8 451.1h0M83.1 452.4h0M62.9 456.1h0M95.9 427.3h0M69.8 452.1h0M85.4 456.5h0M104.8 451.2h0M102.5 440.6h0M78.8 464.4h0M88.3 429.7h0M79.5 427.2h0M70.4 437.6h0M98.4 456.7h0M108.1 422.8h0M106.4 458.4h0M97.0 456.7h0M68.9 444.9h0M87.2 452.7h0M81.7 429.4h0M98.0 429.6h0M70.1 447.6h0M99.6 433.2h0M63.5 436.6h0M77.8 431.2h0M97.5 462.0h0M80.8 422.0h0M101.5 440.5h0M105.1 445.7h0M69.1 434.8h0M88.9 421.8h0M107.4 423.5h0M97.4 428.3h0M89.1 470.2h0M85.1 456.9h0M74.0 434.6h0M79.4 421.9h0M81.6 459.7h0M92.7 427.9h0M92.7 460.6h0M107.7 424.6h0M84.8 452.5h0M85.4 469.6h0M88.5 460.1h0M105.9 433.1h0M83.4 447.0h0M124.9 436.7h0M133.0 459.9h0M130.1 427.4h0M137.6 441.7h0M121.2 432.8h0M158.5 436.7h0M126.5 459.2h0M127.4 452.3h0M148.5 448.6h0M121.4 435.0h0M126.5 445.0h0M115.1 448.9h0M137.0 461.4h0M135.0 443.7h0M115.6 421.8h0M116.8 458.9h0M125.0 435.4h0M135.0 453.1h0M122.5 420.2h0M137.4 428.4h0M129.2 451.5h0M126.3 420.4h0M115.6 447.5h0M156.4 439.8h0M123.8 449.2h0M116.2 448.2h0M132.7 458.4h0M140.1 450.7h0M56.7 490.0h0M50.3 471.7h0M57.2 473.1h0M76.4 479.1h0M67.1 507.1h0M42.0 489.4h0M63.2 509.5h0M53.5 492.8h0M70.2 495.6h0M48.5 487.8h0M59.9 504.7h0M48.9 486.5h0M72.6 503.4h0M73.8 490.4h0M77.6 483.1h0M57.3 490.4h0M82.8 481.7h0M68.7 489.9h0M54.2 488.9h0M72.1 500.2h0M75.4 508.9h0M75.0 483.4h0M69.5 528.6h0M95.2 519.0h0M76.5 516.5h0M89.1 517.3h0M90.3 533.9h0M77.1 524.7h0M81.9 514.0h0M94.8 522.2h0M75.7 546.3h0M69.3 542.9h0M77.4 518.1h0M83.4 520.3h0M75.2 519.2h0M87.8 533.4h0M49.6 517.8h0M90.0 528.7h0M82.0 513.7h0M52.4 523.0h0M82.0 535.6h0M98.4 517.1h0M69.6 512.1h0M61.4 525.5h0M69.5 514.0h0M93.1 520.8h0M93.0 526.7h0M65.3 523.3h0M74.1 521.0h0M94.8 503.1h0M81.0 509.7h0M60.8 516.2h0M107.7 513.9h0M105.9 535.9h0M114.5 524.1h0M97.6 545.7h0M118.1 520.8h0M90.6 538.1h0M123.3 519.7h0M116.7 552.3h0M122.1 531.0h0M112.8 526.8h0M110.8 528.0h0M100.6 539.9h0M89.9 541.7h0M108.6 540.9h0M109.7 520.5h0M121.8 531.4h0M99.8 530.6h0M101.3 522.0h0M118.1 552.2h0M126.2 543.7h0M105.1 541.2h0M122.0 526.7h0M116.8 537.0h0M119.9 526.1h0M114.2 528.8h0M107.1 544.7h0M115.8 526.3h0M119.1 542.8h0M124.0 526.4h0M122.7 547.0h0M118.8 523.3h0M124.5 550.4h0M106.1 515.0h0M102.0 519.8h0M99.5 537.5h0M166.1 508.1h0M164.7 515.6h0M173.4 520.7h0M151.1 499.1h0M174.4 513.2h0M163.3 489.1h0M151.5 494.0h0M162.2 502.3h0M169.6 497.7h0M158.1 510.0h0M160.2 503.8h0M176.7 491.7h0M163.9 489.0h0M173.1 520.7h0M156.2 506.0h0M153.7 493.4h0M162.4 509.5h0M170.5 510.4h0M155.4 513.1h0M158.3 491.5h0M161.3 516.1h0M176.8 497.3h0M161.3 516.8h0M165.4 511.6h0M162.8 488.4h0M164.1 517.2h0M175.0 492.7h0M149.6 506.3h0M181.9 490.8h0M161.5 507.5h0M164.5 501.1h0M166.4 491.8h0M165.5 519.4h0M163.3 506.4h0M169.7 488.3h0M156.6 508.0h0M158.2 499.2h0M166.6 488.4h0M154.3 495.1h0M151.7 490.0h0M172.6 501.9h0M155.1 496.0h0M161.9 518.5h0M179.4 485.4h0M174.9 508.1h0M153.3 499.3h0M164.7 501.4h0M164.8 509.4h0M161.0 487.6h0M162.2 496.9h0M180.1 504.3h0M151.0 508.9h0M177.8 495.0h0M175.4 498.7h0M156.0 488.7h0M161.9 499.7h0M164.3 508.6h0M179.2 499.7h0M146.6 506.6h0M173.3 516.7h0" stroke="#dc9263" stroke-width="1.8" stroke-linecap="round" fill="none"/>
</g>
<line x1="33.60" y1="409.00" x2="33.60" y2="563.40" stroke="#858585" stroke-width="0.8"/>
<line x1="33.60" y1="563.40" x2="187.70" y2="563.40" stroke="#858585" stroke-width="0.8"/>
<line x1="31.00" y1="422.30" x2="33.60" y2="422.30" stroke="#858585" stroke-width="0.8"/>
<text x="27.60" y="425.00" font-size="7.5" text-anchor="end">0.4</text>
<line x1="31.00" y1="458.00" x2="33.60" y2="458.00" stroke="#858585" stroke-width="0.8"/>
<text x="27.60" y="460.70" font-size="7.5" text-anchor="end">0.2</text>
<line x1="31.00" y1="493.70" x2="33.60" y2="493.70" stroke="#858585" stroke-width="0.8"/>
<text x="27.60" y="496.40" font-size="7.5" text-anchor="end">0</text>
<line x1="31.00" y1="529.40" x2="33.60" y2="529.40" stroke="#858585" stroke-width="0.8"/>
<text x="27.60" y="532.10" font-size="7.5" text-anchor="end">−0.2</text>
<line x1="46.34" y1="563.40" x2="46.34" y2="566.00" stroke="#858585" stroke-width="0.8"/>
<text x="46.34" y="575.50" font-size="7.5" text-anchor="middle">−0.4</text>
<line x1="84.22" y1="563.40" x2="84.22" y2="566.00" stroke="#858585" stroke-width="0.8"/>
<text x="84.22" y="575.50" font-size="7.5" text-anchor="middle">−0.2</text>
<line x1="122.10" y1="563.40" x2="122.10" y2="566.00" stroke="#858585" stroke-width="0.8"/>
<text x="122.10" y="575.50" font-size="7.5" text-anchor="middle">0</text>
<line x1="159.98" y1="563.40" x2="159.98" y2="566.00" stroke="#858585" stroke-width="0.8"/>
<text x="159.98" y="575.50" font-size="7.5" text-anchor="middle">0.2</text>
<text x="8.20" y="499.70" font-size="8.5" textLength="32.30" lengthAdjust="spacingAndGlyphs" transform="rotate(-90 8.20 499.70)">PCoA 2</text>
<text x="98.50" y="588.60" font-size="8.7" textLength="25.00" lengthAdjust="spacingAndGlyphs">PCoA1</text>
<text x="144.50" y="549.30" font-size="8.7" textLength="37.40" lengthAdjust="spacingAndGlyphs"><tspan font-style="italic">P</tspan> = 0.001</text>
<path d="M33.5 597.2h0" stroke="#3592d6" stroke-width="3.2" stroke-linecap="round" fill="none"/>
<text x="39.30" y="599.60" font-size="6.5" textLength="146.10" lengthAdjust="spacingAndGlyphs">Phytonutrient-associated enzymes (Aitchison’s)</text>
<path d="M33.5 608.5h0" stroke="#d2691e" stroke-width="3.2" stroke-linecap="round" fill="none"/>
<text x="39.30" y="610.60" font-size="6.5" textLength="79.50" lengthAdjust="spacingAndGlyphs">Phytonutrients (Jaccard’s)</text>
<line x1="243.20" y1="395.50" x2="243.20" y2="563.30" stroke="#858585" stroke-width="0.8"/>
<line x1="243.20" y1="563.30" x2="389.30" y2="563.30" stroke="#858585" stroke-width="0.8"/>
<line x1="240.60" y1="402.85" x2="243.20" y2="402.85" stroke="#858585" stroke-width="0.8"/>
<text x="236.60" y="404.85" font-size="7.6" text-anchor="end">100</text>
<line x1="240.60" y1="441.14" x2="243.20" y2="441.14" stroke="#858585" stroke-width="0.8"/>
<text x="236.60" y="443.14" font-size="7.6" text-anchor="end">75</text>
<line x1="240.60" y1="479.43" x2="243.20" y2="479.43" stroke="#858585" stroke-width="0.8"/>
<text x="236.60" y="481.43" font-size="7.6" text-anchor="end">50</text>
<line x1="240.60" y1="517.71" x2="243.20" y2="517.71" stroke="#858585" stroke-width="0.8"/>
<text x="236.60" y="519.71" font-size="7.6" text-anchor="end">25</text>
<line x1="240.60" y1="556.00" x2="243.20" y2="556.00" stroke="#858585" stroke-width="0.8"/>
<text x="236.60" y="558.00" font-size="7.6" text-anchor="end">0</text>
<line x1="271.40" y1="563.30" x2="271.40" y2="566.00" stroke="#858585" stroke-width="0.8"/>
<text x="271.40" y="577.00" font-size="8.6" text-anchor="middle" textLength="33.20" lengthAdjust="spacingAndGlyphs">Thailand</text>
<line x1="318.60" y1="563.30" x2="318.60" y2="566.00" stroke="#858585" stroke-width="0.8"/>
<text x="318.60" y="577.00" font-size="8.6" text-anchor="middle" textLength="12.60" lengthAdjust="spacingAndGlyphs">NA</text>
<line x1="366.00" y1="563.30" x2="366.00" y2="566.00" stroke="#858585" stroke-width="0.8"/>
<text x="366.00" y="577.00" font-size="8.6" text-anchor="middle" textLength="15.60" lengthAdjust="spacingAndGlyphs">LTR</text>
<text x="217.50" y="524.00" font-size="8.3" textLength="91.00" lengthAdjust="spacingAndGlyphs" transform="rotate(-90 217.50 524.00)">% Similarity to US-born</text>
<text x="208.80" y="396.90" font-size="12.5" fill="#000" font-weight="bold" stroke="#000" stroke-width="0.3">f</text>
<path d="M271.40,480.00 L271.40,477.40 L366.00,477.40 L366.00,480.00" fill="none" stroke="#8a8a8a" stroke-width="0.8"/>
<text x="294.90" y="473.40" font-size="8.8" textLength="48.80" lengthAdjust="spacingAndGlyphs"><tspan font-style="italic">P</tspan> = 1.8 × 10<tspan font-size="6" dy="-3.4">−4</tspan></text>
<path d="M318.60,495.10 L318.60,492.50 L366.00,492.50 L366.00,495.10" fill="none" stroke="#8a8a8a" stroke-width="0.8"/>
<text x="328.40" y="490.30" font-size="8.8" textLength="30.20" lengthAdjust="spacingAndGlyphs"><tspan font-style="italic">P</tspan> = 0.21</text>
<path d="M271.40,510.10 L271.40,507.50 L318.60,507.50 L318.60,510.10" fill="none" stroke="#8a8a8a" stroke-width="0.8"/>
<text x="278.10" y="505.60" font-size="8.8" textLength="35.40" lengthAdjust="spacingAndGlyphs"><tspan font-style="italic">P</tspan> = 0.012</text>
<line x1="366.00" y1="507.30" x2="366.00" y2="535.60" stroke="#f7ec8a" stroke-width="1.0"/>
<rect x="253.10" y="553.00" width="36.80" height="4.40" fill="#4f1f70" stroke="#000" stroke-width="1.0"/>
<line x1="253.10" y1="555.20" x2="289.90" y2="555.20" stroke="#000" stroke-width="1.2"/>
<circle cx="271.9" cy="522.1" r="1.6" fill="#440154" fill-opacity="1" stroke="#220030" stroke-width="0.6"/>
<circle cx="273.2" cy="522.3" r="1.6" fill="#440154" fill-opacity="1" stroke="#220030" stroke-width="0.6"/>
<circle cx="271.0" cy="543.7" r="1.6" fill="#440154" fill-opacity="1" stroke="#220030" stroke-width="0.6"/>
<circle cx="271.6" cy="552.0" r="1.6" fill="#440154" fill-opacity="1" stroke="#220030" stroke-width="0.6"/>
<circle cx="273.0" cy="551.5" r="1.6" fill="#440154" fill-opacity="1" stroke="#220030" stroke-width="0.6"/>
<circle cx="269.5" cy="553.0" r="1.6" fill="#440154" fill-opacity="1" stroke="#220030" stroke-width="0.6"/>
<circle cx="255.2" cy="555.2" r="1.6" fill="#440154" fill-opacity="1" stroke="#220030" stroke-width="0.6"/>
<circle cx="258.1" cy="555.5" r="1.6" fill="#440154" fill-opacity="1" stroke="#220030" stroke-width="0.6"/>
<circle cx="260.2" cy="556.1" r="1.6" fill="#440154" fill-opacity="1" stroke="#220030" stroke-width="0.6"/>
<circle cx="263.7" cy="555.9" r="1.6" fill="#440154" fill-opacity="1" stroke="#220030" stroke-width="0.6"/>
<circle cx="267.3" cy="555.7" r="1.6" fill="#440154" fill-opacity="1" stroke="#220030" stroke-width="0.6"/>
<circle cx="269.1" cy="555.1" r="1.6" fill="#440154" fill-opacity="1" stroke="#220030" stroke-width="0.6"/>
<circle cx="272.8" cy="554.6" r="1.6" fill="#440154" fill-opacity="1" stroke="#220030" stroke-width="0.6"/>
<circle cx="275.4" cy="555.7" r="1.6" fill="#440154" fill-opacity="1" stroke="#220030" stroke-width="0.6"/>
<circle cx="277.7" cy="555.6" r="1.6" fill="#440154" fill-opacity="1" stroke="#220030" stroke-width="0.6"/>
<circle cx="281.3" cy="555.0" r="1.6" fill="#440154" fill-opacity="1" stroke="#220030" stroke-width="0.6"/>
<circle cx="283.8" cy="555.8" r="1.6" fill="#440154" fill-opacity="1" stroke="#220030" stroke-width="0.6"/>
<circle cx="286.4" cy="555.0" r="1.6" fill="#440154" fill-opacity="1" stroke="#220030" stroke-width="0.6"/>
<line x1="318.80" y1="525.30" x2="318.80" y2="544.90" stroke="#000" stroke-width="1.3"/>
<path d="M300.10,541.90 L300.10,539.60 L309.10,544.90 L300.10,548.90 L300.10,554.00 L337.50,554.00 L337.50,548.90 L328.50,544.90 L337.50,539.60 L337.50,541.90 Z" fill="#3a9c9a" stroke="#000" stroke-width="1.1" stroke-linejoin="miter"/>
<line x1="309.10" y1="544.90" x2="328.50" y2="544.90" stroke="#000" stroke-width="1.8"/>
<circle cx="322.6" cy="525.7" r="1.9" fill="#4aa9a6" fill-opacity="0.9" stroke="#1e4d4c" stroke-width="0.6"/>
<circle cx="317.5" cy="534.6" r="1.9" fill="#4aa9a6" fill-opacity="0.9" stroke="#1e4d4c" stroke-width="0.6"/>
<circle cx="321.8" cy="536.6" r="1.9" fill="#4aa9a6" fill-opacity="0.9" stroke="#1e4d4c" stroke-width="0.6"/>
<circle cx="310.0" cy="541.5" r="1.9" fill="#4aa9a6" fill-opacity="0.9" stroke="#1e4d4c" stroke-width="0.6"/>
<circle cx="314.0" cy="542.0" r="1.9" fill="#4aa9a6" fill-opacity="0.9" stroke="#1e4d4c" stroke-width="0.6"/>
<circle cx="329.0" cy="542.5" r="1.9" fill="#4aa9a6" fill-opacity="0.9" stroke="#1e4d4c" stroke-width="0.6"/>
<circle cx="307.0" cy="547.0" r="1.9" fill="#4aa9a6" fill-opacity="0.9" stroke="#1e4d4c" stroke-width="0.6"/>
<circle cx="312.0" cy="547.5" r="1.9" fill="#4aa9a6" fill-opacity="0.9" stroke="#1e4d4c" stroke-width="0.6"/>
<circle cx="326.0" cy="548.0" r="1.9" fill="#4aa9a6" fill-opacity="0.9" stroke="#1e4d4c" stroke-width="0.6"/>
<circle cx="333.0" cy="548.2" r="1.9" fill="#4aa9a6" fill-opacity="0.9" stroke="#1e4d4c" stroke-width="0.6"/>
<circle cx="305.0" cy="552.5" r="1.9" fill="#4aa9a6" fill-opacity="0.9" stroke="#1e4d4c" stroke-width="0.6"/>
<circle cx="318.0" cy="553.0" r="1.9" fill="#4aa9a6" fill-opacity="0.9" stroke="#1e4d4c" stroke-width="0.6"/>
<circle cx="329.5" cy="552.0" r="1.9" fill="#4aa9a6" fill-opacity="0.9" stroke="#1e4d4c" stroke-width="0.6"/>
<circle cx="304.5" cy="555.5" r="1.9" fill="#4aa9a6" fill-opacity="0.9" stroke="#1e4d4c" stroke-width="0.6"/>
<circle cx="318.5" cy="555.5" r="1.9" fill="#4aa9a6" fill-opacity="0.9" stroke="#1e4d4c" stroke-width="0.6"/>
<circle cx="327.5" cy="555.8" r="1.9" fill="#4aa9a6" fill-opacity="0.9" stroke="#1e4d4c" stroke-width="0.6"/>
<line x1="366.10" y1="549.90" x2="366.10" y2="555.00" stroke="#000" stroke-width="1.3"/>
<path d="M348.20,535.60 L348.20,535.60 L360.40,542.70 L348.20,549.90 L348.20,549.90 L384.00,549.90 L384.00,549.90 L371.80,542.70 L384.00,535.60 L384.00,535.60 Z" fill="#f9e43a" stroke="#000" stroke-width="1.1" stroke-linejoin="miter"/>
<line x1="360.40" y1="542.70" x2="371.80" y2="542.70" stroke="#000" stroke-width="1.8"/>
<circle cx="364.9" cy="507.3" r="1.9" fill="#fde725" fill-opacity="0.9" stroke="#5a5200" stroke-width="0.6"/>
<circle cx="371.7" cy="506.9" r="1.9" fill="#fde725" fill-opacity="0.9" stroke="#5a5200" stroke-width="0.6"/>
<circle cx="359.0" cy="534.5" r="1.9" fill="#fde725" fill-opacity="0.9" stroke="#5a5200" stroke-width="0.6"/>
<circle cx="370.2" cy="533.9" r="1.9" fill="#fde725" fill-opacity="0.9" stroke="#5a5200" stroke-width="0.6"/>
<circle cx="372.8" cy="537.0" r="1.9" fill="#fde725" fill-opacity="0.9" stroke="#5a5200" stroke-width="0.6"/>
<circle cx="362.4" cy="538.7" r="1.9" fill="#fde725" fill-opacity="0.9" stroke="#5a5200" stroke-width="0.6"/>
<circle cx="352.2" cy="543.4" r="1.9" fill="#fde725" fill-opacity="0.9" stroke="#5a5200" stroke-width="0.6"/>
<circle cx="376.6" cy="545.5" r="1.9" fill="#fde725" fill-opacity="0.9" stroke="#5a5200" stroke-width="0.6"/>
<circle cx="360.7" cy="548.0" r="1.9" fill="#fde725" fill-opacity="0.9" stroke="#5a5200" stroke-width="0.6"/>
<circle cx="369.2" cy="548.7" r="1.9" fill="#fde725" fill-opacity="0.9" stroke="#5a5200" stroke-width="0.6"/>
<circle cx="353.2" cy="549.4" r="1.9" fill="#fde725" fill-opacity="0.9" stroke="#5a5200" stroke-width="0.6"/>
<circle cx="366.0" cy="555.5" r="1.9" fill="#fde725" fill-opacity="0.9" stroke="#5a5200" stroke-width="0.6"/>
<rect x="363.20" y="505.60" width="3.40" height="3.40" fill="#55501a"/>
<line x1="449.20" y1="395.50" x2="449.20" y2="563.30" stroke="#858585" stroke-width="0.8"/>
<line x1="449.20" y1="563.30" x2="599.60" y2="563.30" stroke="#858585" stroke-width="0.8"/>
<line x1="446.60" y1="402.85" x2="449.20" y2="402.85" stroke="#858585" stroke-width="0.8"/>
<text x="442.60" y="404.85" font-size="7.6" text-anchor="end">100</text>
<line x1="446.60" y1="441.14" x2="449.20" y2="441.14" stroke="#858585" stroke-width="0.8"/>
<text x="442.60" y="443.14" font-size="7.6" text-anchor="end">75</text>
<line x1="446.60" y1="479.43" x2="449.20" y2="479.43" stroke="#858585" stroke-width="0.8"/>
<text x="442.60" y="481.43" font-size="7.6" text-anchor="end">50</text>
<line x1="446.60" y1="517.71" x2="449.20" y2="517.71" stroke="#858585" stroke-width="0.8"/>
<text x="442.60" y="519.71" font-size="7.6" text-anchor="end">25</text>
<line x1="446.60" y1="556.00" x2="449.20" y2="556.00" stroke="#858585" stroke-width="0.8"/>
<text x="442.60" y="558.00" font-size="7.6" text-anchor="end">0</text>
<line x1="477.70" y1="563.30" x2="477.70" y2="566.00" stroke="#858585" stroke-width="0.8"/>
<text x="477.70" y="577.00" font-size="8.6" text-anchor="middle" textLength="33.20" lengthAdjust="spacingAndGlyphs">Thailand</text>
<line x1="525.40" y1="563.30" x2="525.40" y2="566.00" stroke="#858585" stroke-width="0.8"/>
<text x="525.40" y="577.00" font-size="8.6" text-anchor="middle" textLength="12.60" lengthAdjust="spacingAndGlyphs">NA</text>
<line x1="572.60" y1="563.30" x2="572.60" y2="566.00" stroke="#858585" stroke-width="0.8"/>
<text x="572.60" y="577.00" font-size="8.6" text-anchor="middle" textLength="15.60" lengthAdjust="spacingAndGlyphs">LTR</text>
<text x="423.40" y="524.00" font-size="8.3" textLength="91.00" lengthAdjust="spacingAndGlyphs" transform="rotate(-90 423.40 524.00)">% Similarity to US-born</text>
<text x="414.80" y="396.90" font-size="12.5" fill="#000" font-weight="bold" stroke="#000" stroke-width="0.3">g</text>
<path d="M477.40,416.10 L477.40,413.50 L572.50,413.50 L572.50,416.10" fill="none" stroke="#8a8a8a" stroke-width="0.8"/>
<text x="500.90" y="409.40" font-size="8.8" textLength="48.10" lengthAdjust="spacingAndGlyphs"><tspan font-style="italic">P</tspan> = 1.2 × 10<tspan font-size="6" dy="-3.4">−5</tspan></text>
<path d="M525.40,431.00 L525.40,428.40 L572.50,428.40 L572.50,431.00" fill="none" stroke="#8a8a8a" stroke-width="0.8"/>
<text x="523.80" y="424.80" font-size="8.8" textLength="49.70" lengthAdjust="spacingAndGlyphs"><tspan font-style="italic">P</tspan> = 2.6 × 10<tspan font-size="6" dy="-3.4">−4</tspan></text>
<path d="M477.40,446.80 L477.40,444.20 L525.40,444.20 L525.40,446.80" fill="none" stroke="#8a8a8a" stroke-width="0.8"/>
<text x="480.40" y="440.50" font-size="8.8" textLength="42.60" lengthAdjust="spacingAndGlyphs"><tspan font-style="italic">P</tspan> = 0.0075</text>
<path d="M476.45,466.50 C476.38,467.08 476.04,468.42 476.00,470.00 C475.96,471.58 476.12,473.50 476.20,476.00 C476.28,478.50 476.42,482.17 476.50,485.00 C476.58,487.83 476.79,490.50 476.70,493.00 C476.61,495.50 476.28,497.83 475.95,500.00 C475.62,502.17 475.32,503.50 474.70,506.00 C474.07,508.50 473.28,512.17 472.20,515.00 C471.12,517.83 469.78,520.33 468.20,523.00 C466.62,525.67 464.20,528.17 462.70,531.00 C461.20,533.83 460.12,537.17 459.20,540.00 C458.28,542.83 457.28,545.83 457.20,548.00 C457.12,550.17 457.28,551.58 458.70,553.00 C460.12,554.42 462.53,555.83 465.70,556.50 C468.87,557.17 475.70,556.92 477.70,557.00 L477.70,557.00 C479.70,556.92 486.53,557.17 489.70,556.50 C492.87,555.83 495.28,554.42 496.70,553.00 C498.12,551.58 498.28,550.17 498.20,548.00 C498.12,545.83 497.12,542.83 496.20,540.00 C495.28,537.17 494.20,533.83 492.70,531.00 C491.20,528.17 488.78,525.67 487.20,523.00 C485.62,520.33 484.28,517.83 483.20,515.00 C482.12,512.17 481.32,508.50 480.70,506.00 C480.07,503.50 479.78,502.17 479.45,500.00 C479.12,497.83 478.79,495.50 478.70,493.00 C478.61,490.50 478.82,487.83 478.90,485.00 C478.98,482.17 479.12,478.50 479.20,476.00 C479.28,473.50 479.44,471.58 479.40,470.00 C479.36,468.42 479.02,467.08 478.95,466.50 Z" fill="#a383bb" fill-opacity="0.8"/>
<path d="M525.40,484.20 C523.73,484.30 517.48,484.33 515.40,484.80 C513.32,485.27 512.98,485.80 512.90,487.00 C512.82,488.20 513.82,490.17 514.90,492.00 C515.98,493.83 518.15,496.17 519.40,498.00 C520.65,499.83 521.82,501.58 522.40,503.00 C522.98,504.42 523.32,505.17 522.90,506.50 C522.48,507.83 521.65,509.25 519.90,511.00 C518.15,512.75 514.65,514.83 512.40,517.00 C510.15,519.17 507.70,522.17 506.40,524.00 C505.10,525.83 504.77,526.50 504.60,528.00 C504.43,529.50 504.60,531.00 505.40,533.00 C506.20,535.00 508.07,537.67 509.40,540.00 C510.73,542.33 512.15,545.00 513.40,547.00 C514.65,549.00 515.57,550.75 516.90,552.00 C518.23,553.25 519.98,554.00 521.40,554.50 C522.82,555.00 524.73,554.92 525.40,555.00 L525.40,555.00 C526.07,554.92 527.98,555.00 529.40,554.50 C530.82,554.00 532.57,553.25 533.90,552.00 C535.23,550.75 536.15,549.00 537.40,547.00 C538.65,545.00 540.07,542.33 541.40,540.00 C542.73,537.67 544.60,535.00 545.40,533.00 C546.20,531.00 546.37,529.50 546.20,528.00 C546.03,526.50 545.70,525.83 544.40,524.00 C543.10,522.17 540.65,519.17 538.40,517.00 C536.15,514.83 532.65,512.75 530.90,511.00 C529.15,509.25 528.32,507.83 527.90,506.50 C527.48,505.17 527.82,504.42 528.40,503.00 C528.98,501.58 530.15,499.83 531.40,498.00 C532.65,496.17 534.82,493.83 535.90,492.00 C536.98,490.17 537.98,488.20 537.90,487.00 C537.82,485.80 537.48,485.27 535.40,484.80 C533.32,484.33 527.07,484.30 525.40,484.20 Z" fill="#8fcccb" fill-opacity="0.8"/>
<path d="M572.60,449.00 C572.35,449.13 571.77,448.80 571.10,449.80 C570.43,450.80 569.77,452.75 568.60,455.00 C567.43,457.25 565.93,461.13 564.10,463.30 C562.27,465.47 559.52,466.45 557.60,468.00 C555.68,469.55 553.18,470.53 552.60,472.60 C552.02,474.67 553.68,477.33 554.10,480.40 C554.52,483.47 553.85,488.23 555.10,491.00 C556.35,493.77 559.72,495.15 561.60,497.00 C563.48,498.85 565.07,500.22 566.40,502.10 C567.73,503.98 569.40,506.48 569.60,508.30 C569.80,510.12 568.43,511.45 567.60,513.00 C566.77,514.55 565.06,515.77 564.60,517.60 C564.14,519.43 564.52,522.27 564.85,524.00 C565.18,525.73 565.31,526.87 566.60,528.00 C567.89,529.13 571.60,530.33 572.60,530.80 L572.60,530.80 C573.60,530.33 577.31,529.13 578.60,528.00 C579.89,526.87 580.02,525.73 580.35,524.00 C580.68,522.27 581.06,519.43 580.60,517.60 C580.14,515.77 578.43,514.55 577.60,513.00 C576.77,511.45 575.40,510.12 575.60,508.30 C575.80,506.48 577.47,503.98 578.80,502.10 C580.13,500.22 581.72,498.85 583.60,497.00 C585.48,495.15 588.85,493.77 590.10,491.00 C591.35,488.23 590.68,483.47 591.10,480.40 C591.52,477.33 593.18,474.67 592.60,472.60 C592.02,470.53 589.52,469.55 587.60,468.00 C585.68,466.45 582.93,465.47 581.10,463.30 C579.27,461.13 577.77,457.25 576.60,455.00 C575.43,452.75 574.77,450.80 574.10,449.80 C573.43,448.80 572.85,449.13 572.60,449.00 Z" fill="#fdef9a" fill-opacity="0.9"/>
<rect x="474.50" y="489.50" width="6.40" height="12.00" fill="#ffffff" fill-opacity="0.55"/>
<line x1="477.95" y1="516.60" x2="477.95" y2="532.40" stroke="#000" stroke-width="1.3"/>
<path d="M459.90,532.40 L459.90,541.20 L469.70,548.40 L459.90,558.20 L459.90,553.90 L496.00,553.90 L496.00,558.20 L486.20,548.40 L496.00,541.20 L496.00,532.40 Z" fill="#4f1f70" stroke="#000" stroke-width="1.1" stroke-linejoin="miter"/>
<line x1="469.70" y1="548.40" x2="486.20" y2="548.40" stroke="#000" stroke-width="1.8"/>
<circle cx="476.5" cy="468.0" r="1.9" fill="#6a3d85" fill-opacity="0.7" stroke="#2b0d3b" stroke-width="0.6"/>
<circle cx="479.0" cy="467.8" r="1.9" fill="#6a3d85" fill-opacity="0.7" stroke="#2b0d3b" stroke-width="0.6"/>
<circle cx="477.7" cy="516.6" r="1.9" fill="#6a3d85" fill-opacity="0.7" stroke="#2b0d3b" stroke-width="0.6"/>
<circle cx="467.0" cy="532.0" r="1.9" fill="#6a3d85" fill-opacity="0.7" stroke="#2b0d3b" stroke-width="0.6"/>
<circle cx="471.0" cy="532.3" r="1.9" fill="#6a3d85" fill-opacity="0.7" stroke="#2b0d3b" stroke-width="0.6"/>
<circle cx="476.0" cy="532.0" r="1.9" fill="#6a3d85" fill-opacity="0.7" stroke="#2b0d3b" stroke-width="0.6"/>
<circle cx="484.5" cy="531.5" r="1.9" fill="#6a3d85" fill-opacity="0.7" stroke="#2b0d3b" stroke-width="0.6"/>
<circle cx="491.0" cy="532.5" r="1.9" fill="#6a3d85" fill-opacity="0.7" stroke="#2b0d3b" stroke-width="0.6"/>
<circle cx="478.0" cy="536.0" r="1.9" fill="#6a3d85" fill-opacity="0.7" stroke="#2b0d3b" stroke-width="0.6"/>
<circle cx="473.0" cy="550.0" r="1.9" fill="#6a3d85" fill-opacity="0.7" stroke="#2b0d3b" stroke-width="0.6"/>
<circle cx="482.0" cy="550.3" r="1.9" fill="#6a3d85" fill-opacity="0.7" stroke="#2b0d3b" stroke-width="0.6"/>
<circle cx="465.5" cy="554.0" r="1.9" fill="#6a3d85" fill-opacity="0.7" stroke="#2b0d3b" stroke-width="0.6"/>
<circle cx="470.0" cy="556.5" r="1.9" fill="#6a3d85" fill-opacity="0.7" stroke="#2b0d3b" stroke-width="0.6"/>
<circle cx="477.5" cy="557.0" r="1.9" fill="#6a3d85" fill-opacity="0.7" stroke="#2b0d3b" stroke-width="0.6"/>
<circle cx="485.5" cy="556.2" r="1.9" fill="#6a3d85" fill-opacity="0.7" stroke="#2b0d3b" stroke-width="0.6"/>
<circle cx="492.0" cy="556.8" r="1.9" fill="#6a3d85" fill-opacity="0.7" stroke="#2b0d3b" stroke-width="0.6"/>
<circle cx="460.5" cy="555.5" r="1.9" fill="#6a3d85" fill-opacity="0.7" stroke="#2b0d3b" stroke-width="0.6"/>
<line x1="525.55" y1="534.80" x2="525.55" y2="553.90" stroke="#000" stroke-width="1.3"/>
<path d="M507.40,517.10 L507.40,521.70 L515.70,528.20 L507.40,534.80 L507.40,531.30 L543.70,531.30 L543.70,534.80 L535.40,528.20 L543.70,521.70 L543.70,517.10 Z" fill="#3a9c9a" stroke="#000" stroke-width="1.1" stroke-linejoin="miter"/>
<line x1="515.70" y1="528.20" x2="535.40" y2="528.20" stroke="#000" stroke-width="1.8"/>
<circle cx="525.5" cy="486.0" r="1.9" fill="#5ab3b0" fill-opacity="0.75" stroke="#1e4d4c" stroke-width="0.6"/>
<circle cx="528.0" cy="485.2" r="1.9" fill="#5ab3b0" fill-opacity="0.75" stroke="#1e4d4c" stroke-width="0.6"/>
<circle cx="523.5" cy="489.0" r="1.9" fill="#5ab3b0" fill-opacity="0.75" stroke="#1e4d4c" stroke-width="0.6"/>
<circle cx="527.0" cy="490.0" r="1.9" fill="#5ab3b0" fill-opacity="0.75" stroke="#1e4d4c" stroke-width="0.6"/>
<circle cx="532.0" cy="484.8" r="1.9" fill="#5ab3b0" fill-opacity="0.75" stroke="#1e4d4c" stroke-width="0.6"/>
<circle cx="516.0" cy="516.0" r="1.9" fill="#5ab3b0" fill-opacity="0.75" stroke="#1e4d4c" stroke-width="0.6"/>
<circle cx="519.0" cy="518.5" r="1.9" fill="#5ab3b0" fill-opacity="0.75" stroke="#1e4d4c" stroke-width="0.6"/>
<circle cx="529.0" cy="520.5" r="1.9" fill="#5ab3b0" fill-opacity="0.75" stroke="#1e4d4c" stroke-width="0.6"/>
<circle cx="536.5" cy="518.0" r="1.9" fill="#5ab3b0" fill-opacity="0.75" stroke="#1e4d4c" stroke-width="0.6"/>
<circle cx="512.0" cy="526.5" r="1.9" fill="#5ab3b0" fill-opacity="0.75" stroke="#1e4d4c" stroke-width="0.6"/>
<circle cx="520.0" cy="529.0" r="1.9" fill="#5ab3b0" fill-opacity="0.75" stroke="#1e4d4c" stroke-width="0.6"/>
<circle cx="533.0" cy="530.0" r="1.9" fill="#5ab3b0" fill-opacity="0.75" stroke="#1e4d4c" stroke-width="0.6"/>
<circle cx="542.0" cy="530.0" r="1.9" fill="#5ab3b0" fill-opacity="0.75" stroke="#1e4d4c" stroke-width="0.6"/>
<circle cx="514.0" cy="535.0" r="1.9" fill="#5ab3b0" fill-opacity="0.75" stroke="#1e4d4c" stroke-width="0.6"/>
<circle cx="531.0" cy="535.5" r="1.9" fill="#5ab3b0" fill-opacity="0.75" stroke="#1e4d4c" stroke-width="0.6"/>
<circle cx="527.0" cy="544.4" r="1.9" fill="#5ab3b0" fill-opacity="0.75" stroke="#1e4d4c" stroke-width="0.6"/>
<circle cx="518.5" cy="549.0" r="1.9" fill="#5ab3b0" fill-opacity="0.75" stroke="#1e4d4c" stroke-width="0.6"/>
<circle cx="525.5" cy="553.5" r="1.9" fill="#5ab3b0" fill-opacity="0.75" stroke="#1e4d4c" stroke-width="0.6"/>
<circle cx="510.0" cy="531.0" r="1.9" fill="#5ab3b0" fill-opacity="0.75" stroke="#1e4d4c" stroke-width="0.6"/>
<rect x="523.40" y="484.30" width="3.60" height="3.60" fill="#1a1a1a"/>
<line x1="572.55" y1="449.90" x2="572.55" y2="473.60" stroke="#000" stroke-width="1.3"/>
<line x1="572.55" y1="493.60" x2="572.55" y2="524.60" stroke="#000" stroke-width="1.3"/>
<path d="M554.30,473.00 L554.30,466.40 L564.30,473.60 L554.30,484.30 L554.30,493.60 L590.80,493.60 L590.80,484.30 L580.80,473.60 L590.80,466.40 L590.80,473.00 Z" fill="#f9e43a" stroke="#000" stroke-width="1.1" stroke-linejoin="miter"/>
<line x1="564.30" y1="473.60" x2="580.80" y2="473.60" stroke="#000" stroke-width="1.8"/>
<circle cx="575.3" cy="449.6" r="1.9" fill="#fde725" fill-opacity="0.7" stroke="#5a5200" stroke-width="0.6"/>
<circle cx="572.2" cy="463.0" r="1.9" fill="#fde725" fill-opacity="0.7" stroke="#5a5200" stroke-width="0.6"/>
<circle cx="577.3" cy="469.5" r="1.9" fill="#fde725" fill-opacity="0.7" stroke="#5a5200" stroke-width="0.6"/>
<circle cx="556.2" cy="475.4" r="1.9" fill="#fde725" fill-opacity="0.7" stroke="#5a5200" stroke-width="0.6"/>
<circle cx="569.1" cy="480.7" r="1.9" fill="#fde725" fill-opacity="0.7" stroke="#5a5200" stroke-width="0.6"/>
<circle cx="582.0" cy="480.0" r="1.9" fill="#fde725" fill-opacity="0.7" stroke="#5a5200" stroke-width="0.6"/>
<circle cx="573.7" cy="492.5" r="1.9" fill="#fde725" fill-opacity="0.7" stroke="#5a5200" stroke-width="0.6"/>
<circle cx="568.0" cy="495.1" r="1.9" fill="#fde725" fill-opacity="0.7" stroke="#5a5200" stroke-width="0.6"/>
<circle cx="576.1" cy="525.1" r="1.9" fill="#fde725" fill-opacity="0.7" stroke="#5a5200" stroke-width="0.6"/>
<circle cx="568.3" cy="528.8" r="1.9" fill="#fde725" fill-opacity="0.7" stroke="#5a5200" stroke-width="0.6"/>
<circle cx="572.6" cy="529.3" r="1.9" fill="#fde725" fill-opacity="0.7" stroke="#5a5200" stroke-width="0.6"/>
<rect x="300.50" y="589.30" width="7.70" height="7.40" fill="#3f0d54" stroke="#000" stroke-width="0.7"/>
<text x="311.30" y="595.20" font-size="6.8" textLength="26.70" lengthAdjust="spacingAndGlyphs">Thailand</text>
<rect x="343.90" y="589.30" width="7.70" height="7.40" fill="#52a7a5" stroke="#000" stroke-width="0.7"/>
<text x="355.50" y="595.20" font-size="6.8" textLength="54.30" lengthAdjust="spacingAndGlyphs">NA = New arrivals</text>
<rect x="414.90" y="589.30" width="7.70" height="7.40" fill="#f7e53c" stroke="#000" stroke-width="0.7"/>
<text x="426.90" y="595.20" font-size="6.8" textLength="79.50" lengthAdjust="spacingAndGlyphs">LTR = Long-term residents</text>
</svg></body></html>
